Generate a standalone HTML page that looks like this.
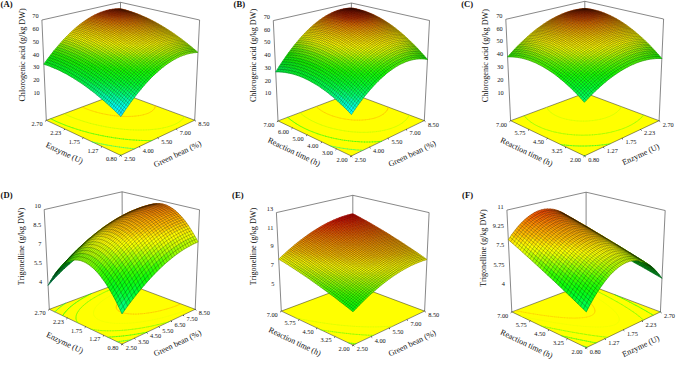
<!DOCTYPE html>
<html><head><meta charset="utf-8"><title>Response surface plots</title>
<style>html,body{margin:0;padding:0;background:#fff}svg{display:block}text{font-family:"Liberation Serif","DejaVu Serif",serif;fill:#111}</style></head>
<body>
<svg width="685" height="373" viewBox="0 0 685 373">
<rect width="685" height="373" fill="#fff"/>
<g id="pA">
<path d="M46.3 120.3L120.8 155.4L194.7 120.2L120.3 92.7z" fill="#ff0" stroke="#222" stroke-width=".5"/>
<path d="M119.6 154.9L121.4 155.1" fill="none" stroke="#18d6ff" stroke-width=".5" stroke-opacity=".85" stroke-linecap="round"/>
<path d="M92.1 141.9L92.6 142.0M94.4 142.4L92.6 142.0M96.1 142.8L94.4 142.4M97.3 143.1L96.1 142.8M97.3 143.1L97.9 143.2M99.8 143.6L97.9 143.2M101.6 144.0L99.8 143.6M102.2 144.1L101.6 144.0M102.2 144.1L103.5 144.3M105.3 144.7L103.5 144.3M106.8 145.0L105.3 144.7M106.8 145.0L107.3 145.1M109.2 145.4L107.3 145.1M111.2 145.7L109.2 145.4M111.2 145.8L111.2 145.7M111.2 145.8L113.2 146.1M115.2 146.4L113.2 146.1M115.4 146.4L115.2 146.4M115.4 146.4L117.2 146.7M119.3 147.0L117.2 146.7M119.4 147.0L119.3 147.0M119.4 147.0L121.4 147.3M123.3 147.6L121.4 147.3M123.3 147.6L123.5 147.6M125.7 147.9L123.5 147.6M127.1 148.0L125.7 147.9M127.1 148.0L127.9 148.1M130.1 148.4L127.9 148.1M130.7 148.4L130.1 148.4M130.7 148.4L132.4 148.6M134.2 148.8L132.4 148.6M134.2 148.8L134.7 148.8" fill="none" stroke="#00ff80" stroke-width=".5" stroke-opacity=".85" stroke-linecap="round"/>
<path d="M51.6 119.2L50.6 118.7M52.7 119.7L51.6 119.2M53.8 120.2L52.7 119.7M54.9 120.8L53.8 120.2M56.0 121.3L54.9 120.8M57.1 121.8L56.0 121.3M58.3 122.3L57.1 121.8M59.5 122.8L58.3 122.3M60.7 123.3L59.5 122.8M61.9 123.8L60.7 123.3M63.1 124.3L61.9 123.8M64.3 124.8L63.1 124.3M65.6 125.3L64.3 124.8M66.9 125.8L65.6 125.3M68.2 126.3L66.9 125.8M69.5 126.7L68.2 126.3M70.8 127.2L69.5 126.7M72.1 127.7L70.8 127.2M72.1 127.7L72.2 127.7M73.6 128.1L72.2 127.7M75.0 128.6L73.6 128.1M76.4 129.1L75.0 128.6M77.8 129.5L76.4 129.1M79.3 130.0L77.8 129.5M80.4 130.3L79.3 130.0M80.4 130.3L80.8 130.4M82.3 130.9L80.8 130.4M83.8 131.3L82.3 130.9M85.3 131.7L83.8 131.3M86.9 132.1L85.3 131.7M87.1 132.2L86.9 132.1M87.1 132.2L88.5 132.6M90.1 133.0L88.5 132.6M91.7 133.4L90.1 133.0M92.9 133.7L91.7 133.4M92.9 133.7L93.4 133.8M95.1 134.2L93.4 133.8M96.7 134.5L95.1 134.2M98.1 134.8L96.7 134.5M98.1 134.8L98.5 134.9M100.2 135.3L98.5 134.9M102.0 135.7L100.2 135.3M102.9 135.8L102.0 135.7M102.9 135.8L103.8 136.0M105.6 136.4L103.8 136.0M107.5 136.7L105.6 136.4M107.5 136.7L107.5 136.7M109.3 137.0L107.5 136.7M111.3 137.3L109.3 137.0M111.7 137.4L111.3 137.3M111.7 137.4L113.2 137.7M115.2 138.0L113.2 137.7M115.7 138.0L115.2 138.0M115.7 138.0L117.2 138.2M119.2 138.5L117.2 138.2M119.6 138.6L119.2 138.5M119.6 138.6L121.2 138.8M123.2 139.0L121.2 138.8M123.2 139.0L123.3 139.0M125.5 139.3L123.3 139.0M126.7 139.4L125.5 139.3M126.7 139.4L127.6 139.5M129.8 139.7L127.6 139.5M130.1 139.7L129.8 139.7M130.1 139.7L132.1 139.9M133.4 140.0L132.1 139.9M133.4 140.0L134.4 140.0M136.5 140.2L134.4 140.0M136.5 140.2L136.7 140.2M139.1 140.3L136.7 140.2M139.6 140.4L139.1 140.3M139.6 140.4L141.6 140.4M142.5 140.5L141.6 140.4M142.5 140.5L144.1 140.5M145.4 140.5L144.1 140.5M145.4 140.5L146.6 140.6M148.1 140.6L146.6 140.6M148.1 140.6L149.2 140.6M150.8 140.6L149.2 140.6M150.8 140.6L151.9 140.6" fill="none" stroke="#0eff0d" stroke-width=".5" stroke-opacity=".85" stroke-linecap="round"/>
<path d="M65.0 114.2L64.0 113.7M66.1 114.7L65.0 114.2M67.2 115.2L66.1 114.7M68.3 115.7L67.2 115.2M69.4 116.2L68.3 115.7M70.6 116.7L69.4 116.2M71.8 117.1L70.6 116.7M73.0 117.6L71.8 117.1M74.2 118.1L73.0 117.6M75.4 118.6L74.2 118.1M76.7 119.0L75.4 118.6M78.0 119.5L76.7 119.0M79.3 119.9L78.0 119.5M80.6 120.4L79.3 119.9M81.9 120.8L80.6 120.4M82.9 121.1L81.9 120.8M82.9 121.1L83.3 121.3M84.7 121.7L83.3 121.3M86.1 122.1L84.7 121.7M87.6 122.5L86.1 122.1M89.0 123.0L87.6 122.5M90.3 123.3L89.0 123.0M90.3 123.3L90.5 123.4M92.0 123.8L90.5 123.4M93.6 124.2L92.0 123.8M95.1 124.5L93.6 124.2M96.2 124.8L95.1 124.5M96.2 124.8L96.7 124.9M98.4 125.3L96.7 124.9M100.0 125.7L98.4 125.3M101.3 125.9L100.0 125.7M101.3 125.9L101.7 126.0M103.4 126.3L101.7 126.0M105.1 126.7L103.4 126.3M105.9 126.8L105.1 126.7M105.9 126.8L106.9 127.0M108.7 127.3L106.9 127.0M110.1 127.6L108.7 127.3M110.1 127.6L110.5 127.6M112.4 127.9L110.5 127.6M114.0 128.1L112.4 127.9M114.0 128.1L114.3 128.2M116.2 128.4L114.3 128.2M117.7 128.6L116.2 128.4M117.7 128.6L118.2 128.7M120.2 128.9L118.2 128.7M121.2 129.0L120.2 128.9M121.2 129.0L122.2 129.1M124.3 129.3L122.2 129.1M124.5 129.4L124.3 129.3M124.5 129.4L126.5 129.5M127.6 129.6L126.5 129.5M127.6 129.6L128.7 129.7M130.7 129.8L128.7 129.7M130.7 129.8L131.0 129.8M133.3 129.9L131.0 129.8M133.5 129.9L133.3 129.9M133.5 129.9L135.7 130.0M136.3 130.0L135.7 130.0M136.3 130.0L138.2 130.0M139.0 130.0L138.2 130.0M139.0 130.0L140.7 130.0M141.5 130.0L140.7 130.0M141.5 130.0L143.4 130.0M144.0 130.0L143.4 130.0M144.0 130.0L146.1 129.9M146.3 129.9L146.1 129.9M146.3 129.9L148.6 129.8M148.6 129.8L149.0 129.8M150.8 129.6L149.0 129.8M150.8 129.6L152.1 129.5M152.9 129.4L152.1 129.5M152.9 129.4L154.9 129.2M154.9 129.2L155.4 129.2M156.9 129.0L155.4 129.2M156.9 129.0L158.8 128.7M158.8 128.7L159.1 128.7M184.1 117.1L184.5 116.4M160.6 128.4L159.1 128.7M160.6 128.4L162.4 128.1M162.4 128.1L163.3 127.9M182.7 118.9L183.0 118.6M183.0 118.6L183.5 117.9M183.5 117.9L184.0 117.2M184.0 117.2L184.1 117.1M164.0 127.7L163.3 127.9M164.0 127.7L165.6 127.4M165.6 127.4L167.2 127.0M167.2 127.0L168.7 126.6M168.7 126.6L168.8 126.5M180.1 121.2L180.9 120.6M180.9 120.6L181.7 120.0M181.7 120.0L182.4 119.3M182.4 119.3L182.7 118.9M170.1 126.1L168.8 126.5M170.1 126.1L171.5 125.7M171.5 125.7L172.7 125.2M172.7 125.2L174.0 124.7M174.0 124.7L175.2 124.2M175.2 124.2L176.3 123.6M176.3 123.6L177.3 123.1M177.3 123.1L178.3 122.5M178.3 122.5L179.2 121.9M179.2 121.9L180.1 121.3M180.1 121.3L180.1 121.2" fill="none" stroke="#baff00" stroke-width=".5" stroke-opacity=".85" stroke-linecap="round"/>
<path d="M83.0 107.4L82.0 107.0M84.1 107.9L83.0 107.4M85.2 108.4L84.1 107.9M86.4 108.8L85.2 108.4M87.5 109.3L86.4 108.8M88.7 109.7L87.5 109.3M90.0 110.2L88.7 109.7M91.2 110.6L90.0 110.2M92.5 111.0L91.2 110.6M93.8 111.4L92.5 111.0M95.2 111.8L93.8 111.4M95.9 112.0L95.2 111.8M95.9 112.0L96.6 112.2M98.0 112.6L96.6 112.2M99.5 113.0L98.0 112.6M101.0 113.3L99.5 113.0M102.0 113.6L101.0 113.3M102.0 113.6L102.5 113.7M104.1 114.0L102.5 113.7M105.7 114.3L104.1 114.0M106.7 114.5L105.7 114.3M106.7 114.5L107.3 114.6M109.0 114.9L107.3 114.6M110.7 115.2L109.0 114.9M110.7 115.2L110.8 115.2M112.6 115.5L110.8 115.2M114.3 115.7L112.6 115.5M114.3 115.7L114.4 115.7M116.3 115.9L114.4 115.7M117.6 116.0L116.3 115.9M117.6 116.0L118.3 116.1M120.4 116.2L118.3 116.1M120.6 116.3L120.4 116.2M120.6 116.3L122.5 116.4M123.4 116.4L122.5 116.4M123.4 116.4L124.7 116.4M126.0 116.5L124.7 116.4M126.0 116.5L127.1 116.5M128.4 116.5L127.1 116.5M128.4 116.5L129.6 116.4M155.3 105.7L155.3 105.6M130.7 116.4L129.6 116.4M130.7 116.4L132.3 116.3M155.1 106.7L155.2 106.5M155.2 106.5L155.3 105.7M132.9 116.3L132.3 116.3M132.9 116.3L134.9 116.1M134.9 116.1L135.2 116.1M154.7 107.9L155.0 107.3M155.0 107.3L155.1 106.7M136.9 115.9L135.2 116.1M136.9 115.9L138.6 115.7M153.9 109.3L154.2 108.8M154.2 108.8L154.7 108.0M154.7 108.0L154.7 107.9M138.7 115.7L138.6 115.7M138.7 115.7L140.4 115.4M140.4 115.4L142.0 115.1M142.0 115.1L143.1 114.8M152.0 111.1L152.4 110.7M152.4 110.7L153.1 110.1M153.1 110.1L153.7 109.5M153.7 109.5L153.9 109.3M143.5 114.7L143.1 114.8M143.5 114.7L145.0 114.3M145.0 114.3L146.3 113.9M146.3 113.9L147.5 113.5M147.5 113.5L148.7 113.0M148.7 113.0L149.7 112.5M149.7 112.5L150.7 111.9M150.7 111.9L151.6 111.4M151.6 111.4L152.0 111.1" fill="none" stroke="#ffba00" stroke-width=".5" stroke-opacity=".85" stroke-linecap="round"/>
<path d="M46.3 120.3L41.9 20.0L120.5 2.3L199.6 20.0L194.7 120.2M120.5 2.3L120.3 92.7" fill="none" stroke="#555" stroke-width=".7"/>
<g fill="currentColor" stroke="currentColor" stroke-width=".5" stroke-linejoin="round"><path d="M117.7 8.7l2.8 .7 2.8 0-2.9-.7z" color="#e85100"/><path d="M114.8 8.9l2.9 .7 2.8-.2-2.8-.7z" color="#e14200"/><path d="M120.5 9.4l2.8 .8 2.8-.1-2.8-.7z" color="#e95300"/><path d="M112 9.3l2.8 .6 2.9-.3-2.9-.7z" color="#db3b00"/><path d="M123.3 10.2l2.9 .8 2.7 0-2.8-.9z" color="#ea5600"/><path d="M117.7 9.6l2.8 .7 2.8-.1-2.8-.8z" color="#e14400"/><path d="M114.8 9.9l2.8 .8 2.9-.4-2.8-.7z" color="#dc3c00"/><path d="M109.1 9.8l2.8 .7 2.9-.6-2.8-.6z" color="#d83700"/><path d="M120.5 10.3l2.8 .9 2.9-.2-2.9-.8z" color="#e34700"/><path d="M126.2 11l2.8 .9 2.8 0-2.9-.9z" color="#ed5b00"/><path d="M106.2 10.5l2.8 .7 2.9-.7-2.8-.7z" color="#d73600"/><path d="M111.9 10.5l2.9 .7 2.8-.5-2.8-.8z" color="#d93800"/><path d="M117.6 10.7l2.9 .8 2.8-.3-2.8-.9z" color="#dd3e00"/><path d="M129 11.9l3 1 2.7 0-2.9-1z" color="#f16200"/><path d="M123.3 11.2l2.9 .9 2.8-.2-2.8-.9z" color="#e54c00"/><path d="M103.3 11.4l2.8 .6 2.9-.8-2.8-.7z" color="#d93800"/><path d="M109 11.2l2.9 .7 2.9-.7-2.9-.7z" color="#d83700"/><path d="M114.8 11.2l2.8 .9 2.9-.6-2.9-.8z" color="#da3a00"/><path d="M120.5 11.5l2.9 .9 2.8-.3-2.9-.9z" color="#e04100"/><path d="M126.2 12.1l2.9 1 2.9-.2-3-1z" color="#e95300"/><path d="M132 12.9l2.9 1.1 2.8 0-3-1.1z" color="#f56b00"/><path d="M111.9 11.9l2.8 .9 2.9-.7-2.8-.9z" color="#d93900"/><path d="M100.4 12.4l2.8 .7 2.9-1.1-2.8-.6z" color="#dc3c00"/><path d="M106.1 12l2.9 .8 2.9-.9-2.9-.7z" color="#d93800"/><path d="M117.6 12.1l2.9 .9 2.9-.6-2.9-.9z" color="#dd3d00"/><path d="M123.4 12.4l2.9 1.1 2.8-.4-2.9-1z" color="#e34800"/><path d="M129.1 13.1l3 1.1 2.8-.2-2.9-1.1z" color="#ee5c00"/><path d="M134.9 14l2.9 1.2 2.8 0-2.9-1.2z" color="#fb7600"/><path d="M109 12.8l2.8 .8 2.9-.8-2.8-.9z" color="#da3a00"/><path d="M114.7 12.8l2.9 .9 2.9-.7-2.9-.9z" color="#dc3b00"/><path d="M126.3 13.5l2.9 1.1 2.9-.4-3-1.1z" color="#e85100"/><path d="M97.4 13.7l2.8 .6 3-1.2-2.8-.7z" color="#e24500"/><path d="M103.2 13.1l2.8 .8 3-1.1-2.9-.8z" color="#dd3d00"/><path d="M120.5 13l2.9 1 2.9-.5-2.9-1.1z" color="#e04200"/><path d="M132.1 14.2l2.9 1.2 2.8-.2-2.9-1.2z" color="#f36700"/><path d="M137.8 15.2l3 1.3 2.8 0-3-1.3z" color="#ff8000"/><path d="M117.6 13.7l2.9 1 2.9-.7-2.9-1z" color="#df4000"/><path d="M94.4 15.1l2.8 .7 3-1.5-2.8-.6z" color="#ea5500"/><path d="M106 13.9l2.9 .8 2.9-1.1-2.8-.8z" color="#de3e00"/><path d="M111.8 13.6l2.9 1 2.9-.9-2.9-.9z" color="#dd3d00"/><path d="M123.4 14l3 1.1 2.8-.5-2.9-1.1z" color="#e54b00"/><path d="M129.2 14.6l3 1.1 2.8-.3-2.9-1.2z" color="#ee5c00"/><path d="M140.8 16.5l3 1.3 2.8 0-3-1.3z" color="#ff8900"/><path d="M100.2 14.3l2.8 .8 3-1.2-2.8-.8z" color="#e24600"/><path d="M135 15.4l3 1.3 2.8-.2-3-1.3z" color="#fa7400"/><path d="M97.2 15.8l2.8 .7 3-1.4-2.8-.8z" color="#ea5600"/><path d="M114.7 14.6l2.9 1 2.9-.9-2.9-1z" color="#e04200"/><path d="M120.5 14.7l3 1.1 2.9-.7-3-1.1z" color="#e34800"/><path d="M91.4 16.7l2.8 .7 3-1.6-2.8-.7z" color="#f46900"/><path d="M103 15.1l2.9 .9 3-1.3-2.9-.8z" color="#e44900"/><path d="M108.9 14.7l2.9 .9 2.9-1-2.9-1z" color="#e04200"/><path d="M126.4 15.1l2.9 1.2 2.9-.6-3-1.1z" color="#ea5500"/><path d="M132.2 15.7l3 1.3 2.8-.3-3-1.3z" color="#f46900"/><path d="M138 16.7l3 1.3 2.8-.2-3-1.3z" color="#ff8000"/><path d="M143.8 17.8l3.1 1.5 2.7 0-3-1.5z" color="#ff9300"/><path d="M88.3 18.5l2.8 .7 3.1-1.8-2.8-.7z" color="#ff7f00"/><path d="M94.2 17.4l2.8 .8 3-1.7-2.8-.7z" color="#f46a00"/><path d="M100 16.5l2.9 .9 3-1.4-2.9-.9z" color="#eb5800"/><path d="M111.8 15.6l2.9 1.1 2.9-1.1-2.9-1z" color="#e44800"/><path d="M117.6 15.6l3 1.1 2.9-.9-3-1.1z" color="#e54a00"/><path d="M123.5 15.8l3 1.2 2.8-.7-2.9-1.2z" color="#e95300"/><path d="M135.2 17l3 1.4 2.8-.4-3-1.3z" color="#fc7700"/><path d="M105.9 16l2.9 .9 3-1.3-2.9-.9z" color="#e64d00"/><path d="M129.3 16.3l3 1.3 2.9-.6-3-1.3z" color="#f16200"/><path d="M141 18l3.1 1.5 2.8-.2-3.1-1.5z" color="#ff8a00"/><path d="M146.9 19.3l3 1.5 2.8 0-3.1-1.5z" color="#ff9f00"/><path d="M85.3 20.5l2.8 .7 3-2-2.8-.7z" color="#ff9000"/><path d="M91.1 19.2l2.9 .8 3-1.8-2.8-.8z" color="#ff7f00"/><path d="M97 18.2l2.9 .8 3-1.6-2.9-.9z" color="#f66c00"/><path d="M102.9 17.4l2.9 1 3-1.5-2.9-.9z" color="#ee5c00"/><path d="M108.8 16.9l2.9 1 3-1.2-2.9-1.1z" color="#e95300"/><path d="M114.7 16.7l2.9 1.1 3-1.1-3-1.1z" color="#e85100"/><path d="M120.6 16.7l2.9 1.2 3-.9-3-1.2z" color="#ea5500"/><path d="M126.5 17l2.9 1.3 2.9-.7-3-1.3z" color="#ef6000"/><path d="M132.3 17.6l3.1 1.3 2.8-.5-3-1.4z" color="#f87100"/><path d="M138.2 18.4l3.1 1.4 2.8-.3-3.1-1.5z" color="#ff8300"/><path d="M149.9 20.8l3.1 1.7 2.8-.1-3.1-1.6z" color="#ffab00"/><path d="M144.1 19.5l3 1.5 2.8-.2-3-1.5z" color="#ff9500"/><path d="M94 20l2.8 .9 3.1-1.9-2.9-.8z" color="#ff8000"/><path d="M129.4 18.3l3.1 1.4 2.9-.8-3.1-1.3z" color="#f76e00"/><path d="M88.1 21.2l2.8 .8 3.1-2-2.9-.8z" color="#ff9000"/><path d="M105.8 18.4l2.9 1 3-1.5-2.9-1z" color="#f16300"/><path d="M82.2 22.7l2.8 .7 3.1-2.2-2.8-.7z" color="#ffa400"/><path d="M99.9 19l2.9 1 3-1.6-2.9-1z" color="#f87000"/><path d="M111.7 17.9l2.9 1.2 3-1.3-2.9-1.1z" color="#ed5c00"/><path d="M117.6 17.8l3 1.2 2.9-1.1-2.9-1.2z" color="#ed5b00"/><path d="M123.5 17.9l3 1.3 2.9-.9-2.9-1.3z" color="#f06200"/><path d="M135.4 18.9l3 1.5 2.9-.6-3.1-1.4z" color="#ff7f00"/><path d="M141.3 19.8l3 1.6 2.8-.4-3-1.5z" color="#ff8e00"/><path d="M147.1 21l3.1 1.7 2.8-.2-3.1-1.7z" color="#ffa200"/><path d="M153 22.5l3.1 1.7 2.8 0-3.1-1.8z" color="#ffb600"/><path d="M90.9 22l2.9 .9 3-2-2.8-.9z" color="#ff9200"/><path d="M96.8 20.9l2.9 .9 3.1-1.8-2.9-1z" color="#ff8300"/><path d="M108.7 19.4l2.9 1.1 3-1.4-2.9-1.2z" color="#f56b00"/><path d="M126.5 19.2l3 1.4 3-.9-3.1-1.4z" color="#f87000"/><path d="M132.5 19.7l3 1.4 2.9-.7-3-1.5z" color="#ff7d00"/><path d="M144.3 21.4l3.1 1.6 2.8-.3-3.1-1.7z" color="#ff9b00"/><path d="M85 23.4l2.8 .8 3.1-2.2-2.8-.8z" color="#ffa400"/><path d="M102.8 20l2.9 1 3-1.6-2.9-1z" color="#fb7600"/><path d="M79.1 25l2.8 .8 3.1-2.4-2.8-.7z" color="#ffb700"/><path d="M114.6 19.1l3 1.2 3-1.3-3-1.2z" color="#f36600"/><path d="M120.6 19l3 1.3 2.9-1.1-3-1.3z" color="#f36800"/><path d="M138.4 20.4l3.1 1.5 2.8-.5-3-1.6z" color="#ff8a00"/><path d="M150.2 22.7l3.2 1.7 2.7-.2-3.1-1.7z" color="#ffaf00"/><path d="M156.1 24.2l3.2 1.8 2.7 0-3.1-1.8z" color="#ffc100"/><path d="M99.7 21.8l2.9 1.1 3.1-1.9-2.9-1z" color="#ff8600"/><path d="M76 27.6l2.8 .7 3.1-2.5-2.8-.8z" color="#ffca00"/><path d="M87.8 24.2l2.9 .9 3.1-2.2-2.9-.9z" color="#ffa500"/><path d="M93.8 22.9l2.8 .9 3.1-2-2.9-.9z" color="#ff9400"/><path d="M105.7 21l2.9 1.2 3-1.7-2.9-1.1z" color="#ff7d00"/><path d="M111.6 20.5l3 1.2 3-1.4-3-1.2z" color="#fa7500"/><path d="M123.6 20.3l3 1.4 2.9-1.1-3-1.4z" color="#fb7500"/><path d="M129.5 20.6l3.1 1.4 2.9-.9-3-1.4z" color="#ff7e00"/><path d="M135.5 21.1l3.1 1.6 2.9-.8-3.1-1.5z" color="#f80"/><path d="M141.5 21.9l3.1 1.7 2.8-.6-3.1-1.6z" color="#ff9600"/><path d="M147.4 23l3.1 1.8 2.9-.4-3.2-1.7z" color="#ffa800"/><path d="M81.9 25.8l2.8 .8 3.1-2.4-2.8-.8z" color="#ffb700"/><path d="M117.6 20.3l3 1.3 3-1.3-3-1.3z" color="#f97200"/><path d="M153.4 24.4l3.1 1.8 2.8-.2-3.2-1.8z" color="#ffba00"/><path d="M159.3 26l3.1 1.9 2.8 0-3.2-1.9z" color="#ffce00"/><path d="M102.6 22.9l2.9 1.1 3.1-1.8-2.9-1.2z" color="#ff8b00"/><path d="M138.6 22.7l3.1 1.6 2.9-.7-3.1-1.7z" color="#ff9500"/><path d="M78.8 28.3l2.8 .9 3.1-2.6-2.8-.8z" color="#ffca00"/><path d="M96.6 23.8l2.9 1.1 3.1-2-2.9-1.1z" color="#ff9800"/><path d="M72.8 30.4l2.8 .7 3.2-2.8-2.8-.7z" color="#ffde00"/><path d="M84.7 26.6l2.8 .9 3.2-2.4-2.9-.9z" color="#ffb800"/><path d="M90.7 25.1l2.8 .9 3.1-2.2-2.8-.9z" color="#ffa700"/><path d="M108.6 22.2l3 1.2 3-1.7-3-1.2z" color="#ff8300"/><path d="M114.6 21.7l3 1.3 3-1.4-3-1.3z" color="#ff7e00"/><path d="M120.6 21.6l3 1.4 3-1.3-3-1.4z" color="#ff7e00"/><path d="M126.6 21.7l3 1.5 3-1.2-3.1-1.4z" color="#ff8200"/><path d="M132.6 22l3.1 1.6 2.9-.9-3.1-1.6z" color="#ff8900"/><path d="M144.6 23.6l3.1 1.7 2.8-.5-3.1-1.8z" color="#ffa400"/><path d="M150.5 24.8l3.2 1.8 2.8-.4-3.1-1.8z" color="#ffb500"/><path d="M162.4 27.9l3.2 2 2.7 0-3.1-2z" color="#ffda00"/><path d="M156.5 26.2l3.2 1.9 2.7-.2-3.1-1.9z" color="#ffc600"/><path d="M81.6 29.2l2.8 .9 3.1-2.6-2.8-.9z" color="#ffcb00"/><path d="M99.5 24.9l3 1.1 3-2-2.9-1.1z" color="#ff9c00"/><path d="M105.5 24l3 1.2 3.1-1.8-3-1.2z" color="#ff9100"/><path d="M117.6 23l3 1.4 3-1.4-3-1.4z" color="#ff8700"/><path d="M135.7 23.6l3.1 1.7 2.9-1-3.1-1.6z" color="#ff9600"/><path d="M141.7 24.3l3.1 1.8 2.9-.8-3.1-1.7z" color="#ffa200"/><path d="M75.6 31.1l2.8 .8 3.2-2.7-2.8-.9z" color="#ffde00"/><path d="M93.5 26l2.9 1.1 3.1-2.2-2.9-1.1z" color="#ffab00"/><path d="M69.7 33.3l2.7 .8 3.2-3-2.8-.7z" color="#ffec00"/><path d="M87.5 27.5l2.9 1 3.1-2.5-2.8-.9z" color="#ffba00"/><path d="M111.6 23.4l3 1.3 3-1.7-3-1.3z" color="#ff8a00"/><path d="M123.6 23l3.1 1.5 2.9-1.3-3-1.5z" color="#f80"/><path d="M129.6 23.2l3.1 1.5 3-1.1-3.1-1.6z" color="#ff8d00"/><path d="M147.7 25.3l3.1 1.9 2.9-.6-3.2-1.8z" color="#ffb100"/><path d="M153.7 26.6l3.1 1.9 2.9-.4-3.2-1.9z" color="#ffc100"/><path d="M159.7 28.1l3.1 2.1 2.8-.3-3.2-2z" color="#ffd300"/><path d="M165.6 29.9l3.2 2.2 2.7-.1-3.2-2.1z" color="#ffe400"/><path d="M66.5 36.5l2.8 .7 3.1-3.1-2.7-.8z" color="#fffd00"/><path d="M78.4 31.9l2.8 1 3.2-2.8-2.8-.9z" color="#ffde00"/><path d="M84.4 30.1l2.9 1 3.1-2.6-2.9-1z" color="#fc0"/><path d="M96.4 27.1l3 1.2 3.1-2.3-3-1.1z" color="#ffaf00"/><path d="M102.5 26l2.9 1.3 3.1-2.1-3-1.2z" color="#ffa200"/><path d="M108.5 25.2l3 1.4 3.1-1.9-3-1.3z" color="#ff9800"/><path d="M114.6 24.7l3 1.4 3-1.7-3-1.4z" color="#ff9300"/><path d="M120.6 24.4l3.1 1.5 3-1.4-3.1-1.5z" color="#ff9100"/><path d="M132.7 24.7l3.1 1.7 3-1.1-3.1-1.7z" color="#f90"/><path d="M138.8 25.3l3.1 1.7 2.9-.9-3.1-1.8z" color="#ffa300"/><path d="M144.8 26.1l3.2 1.9 2.8-.8-3.1-1.9z" color="#ffb000"/><path d="M156.8 28.5l3.2 2.1 2.8-.4-3.1-2.1z" color="#ffce00"/><path d="M168.8 32.1l3.2 2.2 2.8-.1-3.3-2.2z" color="#ffed00"/><path d="M72.4 34.1l2.8 .8 3.2-3-2.8-.8z" color="#ffec00"/><path d="M90.4 28.5l2.9 1 3.1-2.4-2.9-1.1z" color="#ffbc00"/><path d="M126.7 24.5l3 1.5 3-1.3-3.1-1.5z" color="#ff9300"/><path d="M150.8 27.2l3.2 1.9 2.8-.6-3.1-1.9z" color="#ffbd00"/><path d="M162.8 30.2l3.3 2.1 2.7-.2-3.2-2.2z" color="#ffdf00"/><path d="M111.5 26.6l3 1.4 3.1-1.9-3-1.4z" color="#ffa100"/><path d="M69.3 37.2l2.7 .9 3.2-3.2-2.8-.8z" color="#fffd00"/><path d="M87.3 31.1l2.9 1.1 3.1-2.7-2.9-1z" color="#ffcf00"/><path d="M63.3 39.8l2.8 .8 3.2-3.4-2.8-.7z" color="#e1ff00"/><path d="M81.2 32.9l2.9 1 3.2-2.8-2.9-1z" color="#ffdf00"/><path d="M99.4 28.3l2.9 1.2 3.1-2.2-2.9-1.3z" color="#ffb300"/><path d="M105.4 27.3l3 1.3 3.1-2-3-1.4z" color="#ffa900"/><path d="M117.6 26.1l3 1.5 3.1-1.7-3.1-1.5z" color="#ff9c00"/><path d="M123.7 25.9l3 1.6 3-1.5-3-1.5z" color="#ff9c00"/><path d="M129.7 26l3.2 1.7 2.9-1.3-3.1-1.7z" color="#ff9f00"/><path d="M135.8 26.4l3.2 1.8 2.9-1.2-3.1-1.7z" color="#ffa600"/><path d="M141.9 27l3.1 1.9 3-.9-3.2-1.9z" color="#ffb000"/><path d="M148 28l3.1 1.9 2.9-.8-3.2-1.9z" color="#ffbc00"/><path d="M154 29.1l3.2 2.1 2.8-.6-3.2-2.1z" color="#ffca00"/><path d="M160 30.6l3.3 2.1 2.8-.4-3.3-2.1z" color="#ffdb00"/><path d="M166.1 32.3l3.2 2.2 2.7-.2-3.2-2.2z" color="#ffe900"/><path d="M172 34.3l3.3 2.3 2.7-.1-3.2-2.3z" color="#fff800"/><path d="M75.2 34.9l2.9 1 3.1-3-2.8-1z" color="#ffed00"/><path d="M93.3 29.5l2.9 1.2 3.2-2.4-3-1.2z" color="#ffc000"/><path d="M108.4 28.6l3 1.5 3.1-2.1-3-1.4z" color="#ffb000"/><path d="M114.5 28l3.1 1.5 3-1.9-3-1.5z" color="#fa0"/><path d="M126.7 27.5l3.2 1.7 3-1.5-3.2-1.7z" color="#ffa800"/><path d="M151.1 29.9l3.2 2 2.9-.7-3.2-2.1z" color="#ffc900"/><path d="M163.3 32.7l3.2 2.2 2.8-.4-3.2-2.2z" color="#ffe500"/><path d="M72 38.1l2.9 1 3.2-3.2-2.9-1z" color="#fffd00"/><path d="M90.2 32.2l2.9 1.2 3.1-2.7-2.9-1.2z" color="#ffd200"/><path d="M60.1 43.4l2.7 .8 3.3-3.6-2.8-.8z" color="#bdff00"/><path d="M66.1 40.6l2.7 .9 3.2-3.4-2.7-.9z" color="#e1ff00"/><path d="M84.1 33.9l2.9 1.1 3.2-2.8-2.9-1.1z" color="#ffe100"/><path d="M78.1 35.9l2.8 1 3.2-3-2.9-1z" color="#fe0"/><path d="M96.2 30.7l3 1.3 3.1-2.5-2.9-1.2z" color="#ffc400"/><path d="M102.3 29.5l3 1.4 3.1-2.3-3-1.3z" color="#ffb900"/><path d="M120.6 27.6l3.1 1.6 3-1.7-3-1.6z" color="#ffa700"/><path d="M132.9 27.7l3.1 1.8 3-1.3-3.2-1.8z" color="#ffac00"/><path d="M139 28.2l3.1 1.8 2.9-1.1-3.1-1.9z" color="#ffb300"/><path d="M145 28.9l3.2 2 2.9-1-3.1-1.9z" color="#ffbc00"/><path d="M157.2 31.2l3.2 2.1 2.9-.6-3.3-2.1z" color="#ffd800"/><path d="M169.3 34.5l3.3 2.3 2.7-.2-3.3-2.3z" color="#fff300"/><path d="M175.3 36.6l3.3 2.4 2.7-.1-3.3-2.4z" color="#f7ff00"/><path d="M74.9 39.1l2.8 1 3.2-3.2-2.8-1z" color="#ff0"/><path d="M93.1 33.4l2.9 1.2 3.2-2.6-3-1.3z" color="#ffd700"/><path d="M105.3 30.9l3 1.4 3.1-2.2-3-1.5z" color="#ffbf00"/><path d="M111.4 30.1l3.1 1.5 3.1-2.1-3.1-1.5z" color="#ffb700"/><path d="M117.6 29.5l3.1 1.6 3-1.9-3.1-1.6z" color="#ffb300"/><path d="M123.7 29.2l3.1 1.7 3.1-1.7-3.2-1.7z" color="#ffb100"/><path d="M129.9 29.2l3.1 1.8 3-1.5-3.1-1.8z" color="#ffb300"/><path d="M148.2 30.9l3.2 2 2.9-1-3.2-2z" color="#ffc900"/><path d="M154.3 31.9l3.3 2.2 2.8-.8-3.2-2.1z" color="#ffd600"/><path d="M160.4 33.3l3.3 2.2 2.8-.6-3.2-2.2z" color="#ffe300"/><path d="M166.5 34.9l3.3 2.4 2.8-.5-3.3-2.3z" color="#ffef00"/><path d="M56.9 47.2l2.7 .8 3.2-3.8-2.7-.8z" color="#85ff00"/><path d="M62.8 44.2l2.8 .9 3.2-3.6-2.7-.9z" color="#bdff00"/><path d="M68.8 41.5l2.9 1 3.2-3.4-2.9-1z" color="#e1ff00"/><path d="M87 35l2.9 1.2 3.2-2.8-2.9-1.2z" color="#ffe300"/><path d="M80.9 36.9l2.9 1.1 3.2-3-2.9-1.1z" color="#ffef00"/><path d="M99.2 32l3 1.3 3.1-2.4-3-1.4z" color="#ffc900"/><path d="M136 29.5l3.1 1.9 3-1.4-3.1-1.8z" color="#ffb700"/><path d="M142.1 30l3.2 2 2.9-1.1-3.2-2z" color="#ffbf00"/><path d="M172.6 36.8l3.2 2.4 2.8-.2-3.3-2.4z" color="#fffe00"/><path d="M178.6 39l3.3 2.5 2.7-.1-3.3-2.5z" color="#e1ff00"/><path d="M120.7 31.1l3.1 1.7 3-1.9-3.1-1.7z" color="#ffbc00"/><path d="M157.6 34.1l3.2 2.2 2.9-.8-3.3-2.2z" color="#ffe200"/><path d="M77.7 40.1l2.9 1.1 3.2-3.2-2.9-1.1z" color="#fcff00"/><path d="M53.6 51.1l2.8 .9 3.2-4-2.7-.8z" color="#54ff00"/><path d="M59.6 48l2.8 .9 3.2-3.8-2.8-.9z" color="#86ff00"/><path d="M65.6 45.1l2.8 1 3.3-3.6-2.9-1z" color="#bcff00"/><path d="M71.7 42.5l2.8 1 3.2-3.4-2.8-1z" color="#dfff00"/><path d="M89.9 36.2l3 1.3 3.1-2.9-2.9-1.2z" color="#ffe600"/><path d="M96 34.6l3 1.4 3.2-2.7-3-1.3z" color="#ffdc00"/><path d="M102.2 33.3l3 1.5 3.1-2.5-3-1.4z" color="#ffcf00"/><path d="M108.3 32.3l3.1 1.6 3.1-2.3-3.1-1.5z" color="#ffc600"/><path d="M114.5 31.6l3.1 1.6 3.1-2.1-3.1-1.6z" color="#ffc000"/><path d="M126.8 30.9l3.2 1.8 3-1.7-3.1-1.8z" color="#fb0"/><path d="M133 31l3.1 1.9 3-1.5-3.1-1.9z" color="#ffbe00"/><path d="M145.3 32l3.2 2.1 2.9-1.2-3.2-2z" color="#ffcb00"/><path d="M151.4 32.9l3.3 2.2 2.9-1-3.3-2.2z" color="#ffd700"/><path d="M163.7 35.5l3.2 2.4 2.9-.6-3.3-2.4z" color="#ffed00"/><path d="M169.8 37.3l3.3 2.4 2.7-.5-3.2-2.4z" color="#fffa00"/><path d="M181.9 41.5l3.3 2.6 2.7-.1-3.3-2.6z" color="#cbff00"/><path d="M83.8 38l2.9 1.2 3.2-3-2.9-1.2z" color="#fff100"/><path d="M139.1 31.4l3.2 2 3-1.4-3.2-2z" color="#ffc300"/><path d="M175.8 39.2l3.3 2.6 2.8-.3-3.3-2.5z" color="#ebff00"/><path d="M99 36l3 1.5 3.2-2.7-3-1.5z" color="#ffe000"/><path d="M117.6 33.2l3.1 1.7 3.1-2.1-3.1-1.7z" color="#ffc800"/><path d="M123.8 32.8l3.1 1.9 3.1-2-3.2-1.8z" color="#ffc600"/><path d="M154.7 35.1l3.2 2.2 2.9-1-3.2-2.2z" color="#ffe200"/><path d="M160.8 36.3l3.3 2.4 2.8-.8-3.2-2.4z" color="#ffec00"/><path d="M80.6 41.2l2.9 1.3 3.2-3.3-2.9-1.2z" color="#f8ff00"/><path d="M56.4 52l2.7 .9 3.3-4-2.8-.9z" color="#54ff00"/><path d="M74.5 43.5l2.9 1.2 3.2-3.5-2.9-1.1z" color="#dcff00"/><path d="M50.4 55.3l2.7 .8 3.3-4.1-2.8-.9z" color="#2bff00"/><path d="M62.4 48.9l2.8 1 3.2-3.8-2.8-1z" color="#85ff00"/><path d="M68.4 46.1l2.9 1.1 3.2-3.7-2.8-1z" color="#baff00"/><path d="M86.7 39.2l3 1.3 3.2-3-3-1.3z" color="#fff400"/><path d="M92.9 37.5l3 1.4 3.1-2.9-3-1.4z" color="#ffe900"/><path d="M105.2 34.8l3 1.6 3.2-2.5-3.1-1.6z" color="#ffd600"/><path d="M111.4 33.9l3.1 1.6 3.1-2.3-3.1-1.6z" color="#ffce00"/><path d="M130 32.7l3.1 1.9 3-1.7-3.1-1.9z" color="#ffc600"/><path d="M136.1 32.9l3.2 2 3-1.5-3.2-2z" color="#ffca00"/><path d="M142.3 33.4l3.2 2 3-1.3-3.2-2.1z" color="#ffd000"/><path d="M148.5 34.1l3.2 2.1 3-1.1-3.3-2.2z" color="#ffd900"/><path d="M166.9 37.9l3.3 2.4 2.9-.6-3.3-2.4z" color="#fff700"/><path d="M173.1 39.7l3.3 2.5 2.7-.4-3.3-2.6z" color="#f2ff00"/><path d="M179.1 41.8l3.4 2.6 2.7-.3-3.3-2.6z" color="#d5ff00"/><path d="M185.2 44.1l3.4 2.7 2.6-.1-3.3-2.7z" color="#adff00"/><path d="M83.5 42.5l3 1.3 3.2-3.3-3-1.3z" color="#f3ff00"/><path d="M95.9 38.9l3 1.5 3.1-2.9-3-1.5z" color="#ffed00"/><path d="M102 37.5l3.1 1.5 3.1-2.6-3-1.6z" color="#ffe400"/><path d="M114.5 35.5l3.1 1.8 3.1-2.4-3.1-1.7z" color="#ffd700"/><path d="M120.7 34.9l3.1 1.9 3.1-2.1-3.1-1.9z" color="#ffd200"/><path d="M126.9 34.7l3.2 1.9 3-2-3.1-1.9z" color="#ffd100"/><path d="M139.3 34.9l3.2 2.1 3-1.6-3.2-2z" color="#ffd600"/><path d="M151.7 36.2l3.3 2.3 2.9-1.2-3.2-2.2z" color="#ffe300"/><path d="M157.9 37.3l3.3 2.4 2.9-1-3.3-2.4z" color="#ffec00"/><path d="M164.1 38.7l3.3 2.4 2.8-.8-3.3-2.4z" color="#fff600"/><path d="M176.4 42.2l3.3 2.7 2.8-.5-3.4-2.6z" color="#dcff00"/><path d="M188.6 46.8l3.3 2.8 2.7-.1-3.4-2.8z" color="#89ff00"/><path d="M53.1 56.1l2.7 1 3.3-4.2-2.7-.9z" color="#2bff00"/><path d="M59.1 52.9l2.8 1 3.3-4-2.8-1z" color="#54ff00"/><path d="M71.3 47.2l2.8 1.1 3.3-3.6-2.9-1.2z" color="#b6ff00"/><path d="M77.4 44.7l2.9 1.2 3.2-3.4-2.9-1.3z" color="#d8ff00"/><path d="M47.1 59.6l2.7 .9 3.3-4.4-2.7-.8z" color="#10ff09"/><path d="M65.2 49.9l2.8 1.1 3.3-3.8-2.9-1.1z" color="#83ff00"/><path d="M89.7 40.5l2.9 1.4 3.3-3-3-1.4z" color="#fff800"/><path d="M108.2 36.4l3.1 1.6 3.2-2.5-3.1-1.6z" color="#fd0"/><path d="M133.1 34.6l3.2 2 3-1.7-3.2-2z" color="#ffd200"/><path d="M145.5 35.4l3.3 2.2 2.9-1.4-3.2-2.1z" color="#fd0"/><path d="M170.2 40.3l3.4 2.6 2.8-.7-3.3-2.5z" color="#f6ff00"/><path d="M182.5 44.4l3.3 2.7 2.8-.3-3.4-2.7z" color="#bf0"/><path d="M43.8 64.2l2.7 .9 3.3-4.6-2.7-.9z" color="#06ff1c"/><path d="M49.8 60.5l2.8 1 3.2-4.4-2.7-1z" color="#10ff08"/><path d="M55.8 57.1l2.8 1 3.3-4.2-2.8-1z" color="#2bff00"/><path d="M61.9 53.9l2.8 1.1 3.3-4-2.8-1.1z" color="#52ff00"/><path d="M68 51l2.9 1.2 3.2-3.9-2.8-1.1z" color="#7fff00"/><path d="M74.1 48.3l2.9 1.3 3.3-3.7-2.9-1.2z" color="#b0ff00"/><path d="M80.3 45.9l2.9 1.4 3.3-3.5-3-1.3z" color="#d3ff00"/><path d="M86.5 43.8l2.9 1.4 3.2-3.3-2.9-1.4z" color="#edff00"/><path d="M92.6 41.9l3.1 1.5 3.2-3-3-1.5z" color="#fffb00"/><path d="M98.9 40.4l3 1.5 3.2-2.9-3.1-1.5z" color="#fff100"/><path d="M105.1 39l3.1 1.7 3.1-2.7-3.1-1.6z" color="#ffe900"/><path d="M111.3 38l3.1 1.8 3.2-2.5-3.1-1.8z" color="#ffe300"/><path d="M117.6 37.3l3.1 1.8 3.1-2.3-3.1-1.9z" color="#ffdf00"/><path d="M123.8 36.8l3.2 1.9 3.1-2.1-3.2-1.9z" color="#ffdc00"/><path d="M130.1 36.6l3.1 2 3.1-2-3.2-2z" color="#ffdc00"/><path d="M136.3 36.6l3.2 2.1 3-1.7-3.2-2.1z" color="#fd0"/><path d="M142.5 37l3.3 2.2 3-1.6-3.3-2.2z" color="#ffe100"/><path d="M148.8 37.6l3.2 2.3 3-1.4-3.3-2.3z" color="#ffe600"/><path d="M155 38.5l3.3 2.4 2.9-1.2-3.3-2.4z" color="#ffed00"/><path d="M161.2 39.7l3.3 2.4 2.9-1-3.3-2.4z" color="#fff600"/><path d="M167.4 41.1l3.3 2.6 2.9-.8-3.4-2.6z" color="#f8ff00"/><path d="M173.6 42.9l3.3 2.6 2.8-.6-3.3-2.7z" color="#e0ff00"/><path d="M179.7 44.9l3.4 2.7 2.7-.5-3.3-2.7z" color="#c4ff00"/><path d="M185.8 47.1l3.4 2.8 2.7-.3-3.3-2.8z" color="#97ff00"/><path d="M191.9 49.6l3.4 3 2.7-.2-3.4-2.9z" color="#64ff00"/><path d="M89.4 45.2l3 1.5 3.3-3.3-3.1-1.5z" color="#e6ff00"/><path d="M108.2 40.7l3.1 1.8 3.1-2.7-3.1-1.8z" color="#ffef00"/><path d="M133.2 38.6l3.3 2.1 3-2-3.2-2.1z" color="#ffe400"/><path d="M145.8 39.2l3.2 2.3 3-1.6-3.2-2.3z" color="#ffea00"/><path d="M170.7 43.7l3.4 2.6 2.8-.8-3.3-2.6z" color="#e2ff00"/><path d="M183.1 47.6l3.4 2.8 2.7-.5-3.4-2.8z" color="#a1ff00"/><path d="M64.7 55l2.9 1.2 3.3-4-2.9-1.2z" color="#50ff00"/><path d="M46.5 65.1l2.8 1 3.3-4.6-2.8-1z" color="#06ff1b"/><path d="M52.6 61.5l2.7 1.1 3.3-4.5-2.8-1z" color="#10ff08"/><path d="M58.6 58.1l2.9 1.2 3.2-4.3-2.8-1.1z" color="#2aff00"/><path d="M70.9 52.2l2.9 1.2 3.2-3.8-2.9-1.3z" color="#79ff00"/><path d="M77 49.6l3 1.3 3.2-3.6-2.9-1.4z" color="#a9ff00"/><path d="M83.2 47.3l3 1.4 3.2-3.5-2.9-1.4z" color="#cdff00"/><path d="M95.7 43.4l3 1.6 3.2-3.1-3-1.5z" color="#fbff00"/><path d="M101.9 41.9l3.1 1.7 3.2-2.9-3.1-1.7z" color="#fff600"/><path d="M114.4 39.8l3.1 1.8 3.2-2.5-3.1-1.8z" color="#ffe900"/><path d="M120.7 39.1l3.1 1.9 3.2-2.3-3.2-1.9z" color="#ffe600"/><path d="M127 38.7l3.2 2 3-2.1-3.1-2z" color="#ffe400"/><path d="M139.5 38.7l3.3 2.2 3-1.7-3.3-2.2z" color="#ffe600"/><path d="M152 39.9l3.3 2.4 3-1.4-3.3-2.4z" color="#fff000"/><path d="M158.3 40.9l3.3 2.5 2.9-1.3-3.3-2.4z" color="#fff800"/><path d="M164.5 42.1l3.3 2.6 2.9-1-3.3-2.6z" color="#f8ff00"/><path d="M176.9 45.5l3.4 2.8 2.8-.7-3.4-2.7z" color="#c9ff00"/><path d="M189.2 49.9l3.4 3 2.7-.3-3.4-3z" color="#71ff00"/><path d="M86.2 48.7l3 1.5 3.2-3.5-3-1.5z" color="#c6ff00"/><path d="M92.4 46.7l3.1 1.7 3.2-3.4-3-1.6z" color="#deff00"/><path d="M105 43.6l3.1 1.8 3.2-2.9-3.1-1.8z" color="#fffc00"/><path d="M111.3 42.5l3.1 1.8 3.1-2.7-3.1-1.8z" color="#fff500"/><path d="M130.2 40.7l3.2 2.1 3.1-2.1-3.3-2.1z" color="#ffec00"/><path d="M136.5 40.7l3.2 2.2 3.1-2-3.3-2.2z" color="#ffed00"/><path d="M142.8 40.9l3.2 2.3 3-1.7-3.2-2.3z" color="#ffef00"/><path d="M149 41.5l3.3 2.4 3-1.6-3.3-2.4z" color="#fff400"/><path d="M167.8 44.7l3.4 2.7 2.9-1.1-3.4-2.6z" color="#e2ff00"/><path d="M174.1 46.3l3.3 2.8 2.9-.8-3.4-2.8z" color="#cbff00"/><path d="M180.3 48.3l3.4 2.8 2.8-.7-3.4-2.8z" color="#a8ff00"/><path d="M186.5 50.4l3.4 3 2.7-.5-3.4-3z" color="#7cff00"/><path d="M61.5 59.3l2.8 1.2 3.3-4.3-2.9-1.2z" color="#27ff00"/><path d="M67.6 56.2l2.9 1.3 3.3-4.1-2.9-1.2z" color="#4cff00"/><path d="M49.3 66.1l2.7 1.1 3.3-4.6-2.7-1.1z" color="#06ff1c"/><path d="M55.3 62.6l2.9 1.1 3.3-4.4-2.9-1.2z" color="#0fff09"/><path d="M73.8 53.4l2.9 1.4 3.3-3.9-3-1.3z" color="#72ff00"/><path d="M80 50.9l2.9 1.5 3.3-3.7-3-1.4z" color="#a0ff00"/><path d="M98.7 45l3.1 1.7 3.2-3.1-3.1-1.7z" color="#f2ff00"/><path d="M117.5 41.6l3.2 2 3.1-2.6-3.1-1.9z" color="#fff000"/><path d="M123.8 41l3.2 2.1 3.2-2.4-3.2-2z" color="#ffed00"/><path d="M155.3 42.3l3.3 2.5 3-1.4-3.3-2.5z" color="#fffb00"/><path d="M161.6 43.4l3.3 2.5 2.9-1.2-3.3-2.6z" color="#f6ff00"/><path d="M139.7 42.9l3.3 2.3 3-2-3.2-2.3z" color="#fff600"/><path d="M177.4 49.1l3.4 2.9 2.9-.9-3.4-2.8z" color="#acff00"/><path d="M82.9 52.4l3 1.5 3.3-3.7-3-1.5z" color="#95ff00"/><path d="M58.2 63.7l2.8 1.3 3.3-4.5-2.8-1.2z" color="#0fff0a"/><path d="M64.3 60.5l2.9 1.3 3.3-4.3-2.9-1.3z" color="#24ff00"/><path d="M70.5 57.5l2.9 1.4 3.3-4.1-2.9-1.4z" color="#47ff00"/><path d="M89.2 50.2l3 1.7 3.3-3.5-3.1-1.7z" color="#bcff00"/><path d="M95.5 48.4l3 1.7 3.3-3.4-3.1-1.7z" color="#d5ff00"/><path d="M101.8 46.7l3 1.8 3.3-3.1-3.1-1.8z" color="#e8ff00"/><path d="M108.1 45.4l3.1 1.9 3.2-3-3.1-1.8z" color="#f7ff00"/><path d="M114.4 44.3l3.1 2 3.2-2.7-3.2-2z" color="#fffc00"/><path d="M127 43.1l3.3 2.1 3.1-2.4-3.2-2.1z" color="#fff500"/><path d="M133.4 42.8l3.2 2.3 3.1-2.2-3.2-2.2z" color="#fff500"/><path d="M146 43.2l3.3 2.5 3-1.8-3.3-2.4z" color="#fff900"/><path d="M152.3 43.9l3.4 2.5 2.9-1.6-3.3-2.5z" color="#feff00"/><path d="M164.9 45.9l3.4 2.7 2.9-1.2-3.4-2.7z" color="#e0ff00"/><path d="M171.2 47.4l3.4 2.8 2.8-1.1-3.3-2.8z" color="#cbff00"/><path d="M183.7 51.1l3.4 3 2.8-.7-3.4-3z" color="#83ff00"/><path d="M52 67.2l2.8 1.2 3.4-4.7-2.9-1.1z" color="#06ff1c"/><path d="M76.7 54.8l2.9 1.5 3.3-3.9-2.9-1.5z" color="#6aff00"/><path d="M120.7 43.6l3.2 2 3.1-2.5-3.2-2.1z" color="#fff800"/><path d="M158.6 44.8l3.4 2.5 2.9-1.4-3.3-2.5z" color="#f1ff00"/><path d="M98.5 50.1l3.1 1.8 3.2-3.4-3-1.8z" color="#caff00"/><path d="M136.6 45.1l3.3 2.3 3.1-2.2-3.3-2.3z" color="#ff0"/><path d="M143 45.2l3.3 2.4 3-1.9-3.3-2.5z" color="#fcff00"/><path d="M174.6 50.2l3.4 2.8 2.8-1-3.4-2.9z" color="#acff00"/><path d="M180.8 52l3.5 3 2.8-.9-3.4-3z" color="#87ff00"/><path d="M79.6 56.3l3 1.6 3.3-4-3-1.5z" color="#61ff00"/><path d="M54.8 68.4l2.9 1.2 3.3-4.6-2.8-1.3z" color="#05ff1d"/><path d="M61 65l2.9 1.3 3.3-4.5-2.9-1.3z" color="#0eff0c"/><path d="M67.2 61.8l2.9 1.4 3.3-4.3-2.9-1.4z" color="#1fff00"/><path d="M85.9 53.9l3 1.7 3.3-3.7-3-1.7z" color="#89ff00"/><path d="M73.4 58.9l2.9 1.5 3.3-4.1-2.9-1.5z" color="#42ff00"/><path d="M92.2 51.9l3.1 1.7 3.2-3.5-3-1.7z" color="#aeff00"/><path d="M104.8 48.5l3.2 1.9 3.2-3.1-3.1-1.9z" color="#dcff00"/><path d="M111.2 47.3l3.1 2 3.2-3-3.1-2z" color="#eaff00"/><path d="M117.5 46.3l3.2 2.1 3.2-2.8-3.2-2z" color="#f5ff00"/><path d="M123.9 45.6l3.2 2.2 3.2-2.6-3.3-2.1z" color="#fcff00"/><path d="M130.3 45.2l3.2 2.3 3.1-2.4-3.2-2.3z" color="#ff0"/><path d="M149.3 45.7l3.3 2.5 3.1-1.8-3.4-2.5z" color="#f4ff00"/><path d="M155.7 46.4l3.3 2.6 3-1.7-3.4-2.5z" color="#e9ff00"/><path d="M162 47.3l3.3 2.7 3-1.4-3.4-2.7z" color="#dbff00"/><path d="M168.3 48.6l3.4 2.8 2.9-1.2-3.4-2.8z" color="#c9ff00"/><path d="M76.3 60.4l3 1.6 3.3-4.1-3-1.6z" color="#3bff00"/><path d="M95.3 53.6l3.1 1.8 3.2-3.5-3.1-1.8z" color="#9fff00"/><path d="M101.6 51.9l3.1 1.9 3.3-3.4-3.2-1.9z" color="#bdff00"/><path d="M120.7 48.4l3.2 2.2 3.2-2.8-3.2-2.2z" color="#e6ff00"/><path d="M133.5 47.5l3.3 2.3 3.1-2.4-3.3-2.3z" color="#ef0"/><path d="M139.9 47.4l3.3 2.4 3.1-2.2-3.3-2.4z" color="#edff00"/><path d="M146.3 47.6l3.3 2.6 3-2-3.3-2.5z" color="#e8ff00"/><path d="M159 49l3.4 2.7 2.9-1.7-3.3-2.7z" color="#d4ff00"/><path d="M171.7 51.4l3.4 2.9 2.9-1.3-3.4-2.8z" color="#a8ff00"/><path d="M178 53l3.4 3 2.9-1-3.5-3z" color="#87ff00"/><path d="M57.7 69.6l2.8 1.4 3.4-4.7-2.9-1.3z" color="#05ff1f"/><path d="M63.9 66.3l2.9 1.4 3.3-4.5-2.9-1.4z" color="#0dff0d"/><path d="M82.6 57.9l3 1.6 3.3-3.9-3-1.7z" color="#59ff00"/><path d="M70.1 63.2l2.9 1.5 3.3-4.3-2.9-1.5z" color="#19ff00"/><path d="M88.9 55.6l3.1 1.8 3.3-3.8-3.1-1.7z" color="#7cff00"/><path d="M108 50.4l3.1 2 3.2-3.1-3.1-2z" color="#cfff00"/><path d="M114.3 49.3l3.2 2.1 3.2-3-3.2-2.1z" color="#dcff00"/><path d="M127.1 47.8l3.3 2.2 3.1-2.5-3.2-2.3z" color="#ecff00"/><path d="M152.6 48.2l3.4 2.6 3-1.8-3.3-2.6z" color="#e0ff00"/><path d="M165.3 50l3.4 2.9 3-1.5-3.4-2.8z" color="#c4ff00"/><path d="M73 64.7l3 1.6 3.3-4.3-3-1.6z" color="#14ff01"/><path d="M92 57.4l3.1 1.8 3.3-3.8-3.1-1.8z" color="#6dff00"/><path d="M79.3 62l3 1.7 3.3-4.2-3-1.6z" color="#3f0"/><path d="M98.4 55.4l3.1 2 3.2-3.6-3.1-1.9z" color="#8eff00"/><path d="M104.7 53.8l3.2 2 3.2-3.4-3.1-2z" color="#af0"/><path d="M117.5 51.4l3.2 2.1 3.2-2.9-3.2-2.2z" color="#ceff00"/><path d="M123.9 50.6l3.3 2.2 3.2-2.8-3.3-2.2z" color="#d6ff00"/><path d="M130.4 50l3.2 2.4 3.2-2.6-3.3-2.3z" color="#dbff00"/><path d="M136.8 49.8l3.3 2.5 3.1-2.5-3.3-2.4z" color="#dcff00"/><path d="M143.2 49.8l3.3 2.6 3.1-2.2-3.3-2.6z" color="#d9ff00"/><path d="M149.6 50.2l3.3 2.6 3.1-2-3.4-2.6z" color="#d3ff00"/><path d="M156 50.8l3.4 2.7 3-1.8-3.4-2.7z" color="#caff00"/><path d="M162.4 51.7l3.4 2.8 2.9-1.6-3.4-2.9z" color="#baff00"/><path d="M168.7 52.9l3.5 2.9 2.9-1.5-3.4-2.9z" color="#a1ff00"/><path d="M175.1 54.3l3.4 3 2.9-1.3-3.4-3z" color="#83ff00"/><path d="M60.5 71l2.9 1.5 3.4-4.8-2.9-1.4z" color="#04ff20"/><path d="M66.8 67.7l2.9 1.6 3.3-4.6-2.9-1.5z" color="#0cff10"/><path d="M85.6 59.5l3.1 1.8 3.3-3.9-3.1-1.8z" color="#50ff00"/><path d="M111.1 52.4l3.2 2.1 3.2-3.1-3.2-2.1z" color="#c2ff00"/><path d="M127.2 52.8l3.3 2.4 3.1-2.8-3.2-2.4z" color="#c5ff00"/><path d="M152.9 52.8l3.4 2.8 3.1-2.1-3.4-2.7z" color="#bcff00"/><path d="M165.8 54.5l3.4 2.9 3-1.6-3.5-2.9z" color="#97ff00"/><path d="M69.7 69.3l3 1.6 3.3-4.6-3-1.6z" color="#0bff13"/><path d="M88.7 61.3l3.1 1.9 3.3-4-3.1-1.8z" color="#46ff00"/><path d="M63.4 72.5l3 1.5 3.3-4.7-2.9-1.6z" color="#03ff23"/><path d="M76 66.3l3 1.8 3.3-4.4-3-1.7z" color="#12ff04"/><path d="M82.3 63.7l3.1 1.8 3.3-4.2-3.1-1.8z" color="#2aff00"/><path d="M95.1 59.2l3.1 2 3.3-3.8-3.1-2z" color="#5fff00"/><path d="M101.5 57.4l3.1 2 3.3-3.6-3.2-2z" color="#7cff00"/><path d="M107.9 55.8l3.2 2.1 3.2-3.4-3.2-2.1z" color="#96ff00"/><path d="M114.3 54.5l3.2 2.2 3.2-3.2-3.2-2.1z" color="#acff00"/><path d="M120.7 53.5l3.3 2.3 3.2-3-3.3-2.2z" color="#bcff00"/><path d="M133.6 52.4l3.3 2.5 3.2-2.6-3.3-2.5z" color="#c9ff00"/><path d="M140.1 52.3l3.3 2.5 3.1-2.4-3.3-2.6z" color="#c9ff00"/><path d="M146.5 52.4l3.4 2.6 3-2.2-3.3-2.6z" color="#c5ff00"/><path d="M159.4 53.5l3.4 2.9 3-1.9-3.4-2.8z" color="#acff00"/><path d="M172.2 55.8l3.4 3 2.9-1.5-3.4-3z" color="#7cff00"/><path d="M66.4 74l2.9 1.7 3.4-4.8-3-1.6z" color="#01ff25"/><path d="M85.4 65.5l3 1.9 3.4-4.2-3.1-1.9z" color="#20ff00"/><path d="M111.1 57.9l3.2 2.3 3.2-3.5-3.2-2.2z" color="#80ff00"/><path d="M124 55.8l3.3 2.4 3.2-3-3.3-2.4z" color="#a2ff00"/><path d="M130.5 55.2l3.3 2.5 3.1-2.8-3.3-2.5z" color="#abff00"/><path d="M149.9 55l3.3 2.8 3.1-2.2-3.4-2.8z" color="#a6ff00"/><path d="M156.3 55.6l3.4 2.8 3.1-2-3.4-2.9z" color="#9aff00"/><path d="M162.8 56.4l3.4 2.9 3-1.9-3.4-2.9z" color="#89ff00"/><path d="M169.2 57.4l3.4 3.1 3-1.7-3.4-3z" color="#72ff00"/><path d="M72.7 70.9l3 1.7 3.3-4.5-3-1.8z" color="#09ff16"/><path d="M91.8 63.2l3.1 2 3.3-4-3.1-2z" color="#3bff00"/><path d="M79 68.1l3 1.8 3.4-4.4-3.1-1.8z" color="#10ff08"/><path d="M98.2 61.2l3.1 2 3.3-3.8-3.1-2z" color="#53ff00"/><path d="M104.6 59.4l3.2 2.1 3.3-3.6-3.2-2.1z" color="#68ff00"/><path d="M117.5 56.7l3.3 2.4 3.2-3.3-3.3-2.3z" color="#94ff00"/><path d="M136.9 54.9l3.3 2.6 3.2-2.7-3.3-2.5z" color="#afff00"/><path d="M143.4 54.8l3.3 2.7 3.2-2.5-3.4-2.6z" color="#adff00"/><path d="M159.7 58.4l3.4 3 3.1-2.1-3.4-2.9z" color="#7f0"/><path d="M69.3 75.7l3 1.7 3.4-4.8-3-1.7z" color="#00ff29"/><path d="M82 69.9l3.1 1.9 3.3-4.4-3-1.9z" color="#0eff0c"/><path d="M88.4 67.4l3.1 2 3.4-4.2-3.1-2z" color="#16ff00"/><path d="M107.8 61.5l3.2 2.3 3.3-3.6-3.2-2.3z" color="#58ff00"/><path d="M114.3 60.2l3.2 2.3 3.3-3.4-3.3-2.4z" color="#69ff00"/><path d="M120.8 59.1l3.2 2.4 3.3-3.3-3.3-2.4z" color="#7bff00"/><path d="M127.3 58.2l3.3 2.6 3.2-3.1-3.3-2.5z" color="#8f0"/><path d="M133.8 57.7l3.3 2.6 3.1-2.8-3.3-2.6z" color="#8fff00"/><path d="M146.7 57.5l3.4 2.8 3.1-2.5-3.3-2.8z" color="#8dff00"/><path d="M153.2 57.8l3.4 2.9 3.1-2.3-3.4-2.8z" color="#85ff00"/><path d="M166.2 59.3l3.4 3.1 3-1.9-3.4-3.1z" color="#64ff00"/><path d="M75.7 72.6l3 1.9 3.3-4.6-3-1.8z" color="#07ff19"/><path d="M94.9 65.2l3.1 2 3.3-4-3.1-2z" color="#2fff00"/><path d="M101.3 63.2l3.2 2.2 3.3-3.9-3.2-2.1z" color="#46ff00"/><path d="M140.2 57.5l3.4 2.6 3.1-2.6-3.3-2.7z" color="#91ff00"/><path d="M117.5 62.5l3.3 2.4 3.2-3.4-3.2-2.4z" color="#57ff00"/><path d="M156.6 60.7l3.5 3 3-2.3-3.4-3z" color="#63ff00"/><path d="M163.1 61.4l3.5 3 3-2-3.4-3.1z" color="#58ff00"/><path d="M78.7 74.5l3 1.9 3.4-4.6-3.1-1.9z" color="#05ff1e"/><path d="M72.3 77.4l3 1.9 3.4-4.8-3-1.9z" color="#00ff30"/><path d="M85.1 71.8l3.1 2 3.3-4.4-3.1-2z" color="#0cff10"/><path d="M91.5 69.4l3.2 2.1 3.3-4.3-3.1-2z" color="#12ff04"/><path d="M104.5 65.4l3.2 2.2 3.3-3.8-3.2-2.3z" color="#37ff00"/><path d="M111 63.8l3.2 2.3 3.3-3.6-3.2-2.3z" color="#49ff00"/><path d="M124 61.5l3.3 2.5 3.3-3.2-3.3-2.6z" color="#62ff00"/><path d="M130.6 60.8l3.3 2.6 3.2-3.1-3.3-2.6z" color="#6bff00"/><path d="M137.1 60.3l3.3 2.7 3.2-2.9-3.4-2.6z" color="#71ff00"/><path d="M143.6 60.1l3.4 2.8 3.1-2.6-3.4-2.8z" color="#71ff00"/><path d="M150.1 60.3l3.4 2.9 3.1-2.5-3.4-2.9z" color="#6cff00"/><path d="M98 67.2l3.2 2.2 3.3-4-3.2-2.2z" color="#2f0"/><path d="M75.3 79.3l3.1 2 3.3-4.9-3-1.9z" color="#00ff37"/><path d="M114.2 66.1l3.3 2.5 3.3-3.7-3.3-2.4z" color="#39ff00"/><path d="M120.8 64.9l3.3 2.6 3.2-3.5-3.3-2.5z" color="#46ff00"/><path d="M140.4 63l3.4 2.8 3.2-2.9-3.4-2.8z" color="#58ff00"/><path d="M153.5 63.2l3.5 3 3.1-2.5-3.5-3z" color="#53ff00"/><path d="M160.1 63.7l3.4 3.1 3.1-2.4-3.5-3z" color="#4bff00"/><path d="M81.7 76.4l3.1 2.1 3.4-4.7-3.1-2z" color="#03ff22"/><path d="M101.2 69.4l3.2 2.3 3.3-4.1-3.2-2.2z" color="#14ff00"/><path d="M88.2 73.8l3.1 2.1 3.4-4.4-3.2-2.1z" color="#09ff15"/><path d="M94.7 71.5l3.1 2.2 3.4-4.3-3.2-2.2z" color="#0fff0a"/><path d="M107.7 67.6l3.2 2.4 3.3-3.9-3.2-2.3z" color="#28ff00"/><path d="M127.3 64l3.3 2.6 3.3-3.2-3.3-2.6z" color="#4fff00"/><path d="M133.9 63.4l3.3 2.7 3.2-3.1-3.3-2.7z" color="#5f0"/><path d="M147 62.9l3.4 3 3.1-2.7-3.4-2.9z" color="#57ff00"/><path d="M78.4 81.3l3.1 2 3.3-4.8-3.1-2.1z" color="#00ff40"/><path d="M97.8 73.7l3.2 2.3 3.4-4.3-3.2-2.3z" color="#0cff10"/><path d="M110.9 70l3.3 2.5 3.3-3.9-3.3-2.5z" color="#18ff00"/><path d="M117.5 68.6l3.3 2.6 3.3-3.7-3.3-2.6z" color="#27ff00"/><path d="M124.1 67.5l3.3 2.6 3.2-3.5-3.3-2.6z" color="#3f0"/><path d="M137.2 66.1l3.4 2.8 3.2-3.1-3.4-2.8z" color="#41ff00"/><path d="M143.8 65.8l3.4 3 3.2-2.9-3.4-3z" color="#42ff00"/><path d="M150.4 65.9l3.4 3 3.2-2.7-3.5-3z" color="#40ff00"/><path d="M157 66.2l3.4 3.1 3.1-2.5-3.4-3.1z" color="#3aff00"/><path d="M84.8 78.5l3.2 2.1 3.3-4.7-3.1-2.1z" color="#00ff27"/><path d="M104.4 71.7l3.2 2.4 3.3-4.1-3.2-2.4z" color="#11ff06"/><path d="M91.3 75.9l3.2 2.3 3.3-4.5-3.1-2.2z" color="#07ff1b"/><path d="M130.6 66.6l3.4 2.8 3.2-3.3-3.3-2.7z" color="#3cff00"/><path d="M147.2 68.8l3.5 3 3.1-2.9-3.4-3z" color="#2bff00"/><path d="M81.5 83.3l3.1 2.2 3.4-4.9-3.2-2.1z" color="#00ff49"/><path d="M88 80.6l3.1 2.3 3.4-4.7-3.2-2.3z" color="#00ff30"/><path d="M94.5 78.2l3.2 2.3 3.3-4.5-3.2-2.3z" color="#04ff21"/><path d="M101 76l3.3 2.4 3.3-4.3-3.2-2.4z" color="#09ff16"/><path d="M107.6 74.1l3.3 2.5 3.3-4.1-3.3-2.5z" color="#0dff0d"/><path d="M114.2 72.5l3.3 2.6 3.3-3.9-3.3-2.6z" color="#11ff06"/><path d="M120.8 71.2l3.3 2.7 3.3-3.8-3.3-2.6z" color="#15ff00"/><path d="M127.4 70.1l3.3 2.8 3.3-3.5-3.4-2.8z" color="#20ff00"/><path d="M134 69.4l3.4 2.9 3.2-3.4-3.4-2.8z" color="#27ff00"/><path d="M140.6 68.9l3.4 3 3.2-3.1-3.4-3z" color="#2bff00"/><path d="M153.8 68.9l3.5 3.1 3.1-2.7-3.4-3.1z" color="#28ff00"/><path d="M104.3 78.4l3.2 2.5 3.4-4.3-3.3-2.5z" color="#06ff1d"/><path d="M130.7 72.9l3.4 2.9 3.3-3.5-3.4-2.9z" color="#12ff04"/><path d="M144 71.9l3.5 3 3.2-3.1-3.5-3z" color="#14ff00"/><path d="M150.7 71.8l3.4 3.1 3.2-2.9-3.5-3.1z" color="#14ff00"/><path d="M84.6 85.5l3.1 2.3 3.4-4.9-3.1-2.3z" color="#00ff53"/><path d="M91.1 82.9l3.2 2.3 3.4-4.7-3.2-2.3z" color="#00ff3b"/><path d="M97.7 80.5l3.2 2.4 3.4-4.5-3.3-2.4z" color="#01ff27"/><path d="M110.9 76.6l3.3 2.6 3.3-4.1-3.3-2.6z" color="#0aff14"/><path d="M117.5 75.1l3.3 2.7 3.3-3.9-3.3-2.7z" color="#0dff0d"/><path d="M124.1 73.9l3.4 2.7 3.2-3.7-3.3-2.8z" color="#10ff08"/><path d="M137.4 72.3l3.4 2.9 3.2-3.3-3.4-3z" color="#13ff01"/><path d="M87.7 87.8l3.2 2.4 3.4-5-3.2-2.3z" color="#00ff5e"/><path d="M100.9 82.9l3.2 2.6 3.4-4.6-3.2-2.5z" color="#00ff32"/><path d="M107.5 80.9l3.3 2.7 3.4-4.4-3.3-2.6z" color="#02ff24"/><path d="M127.5 76.6l3.3 2.9 3.3-3.7-3.4-2.9z" color="#0cff11"/><path d="M134.1 75.8l3.4 3 3.3-3.6-3.4-2.9z" color="#0eff0d"/><path d="M140.8 75.2l3.4 3.1 3.3-3.4-3.5-3z" color="#0fff0b"/><path d="M147.5 74.9l3.4 3.2 3.2-3.2-3.4-3.1z" color="#0fff0a"/><path d="M94.3 85.2l3.2 2.5 3.4-4.8-3.2-2.4z" color="#00ff47"/><path d="M114.2 79.2l3.3 2.7 3.3-4.1-3.3-2.7z" color="#06ff1c"/><path d="M120.8 77.8l3.4 2.8 3.3-4-3.4-2.7z" color="#09ff16"/><path d="M97.5 87.7l3.3 2.6 3.3-4.8-3.2-2.6z" color="#00ff53"/><path d="M137.5 78.8l3.5 3.1 3.2-3.6-3.4-3.1z" color="#09ff17"/><path d="M90.9 90.2l3.2 2.4 3.4-4.9-3.2-2.5z" color="#00ff6b"/><path d="M104.1 85.5l3.3 2.6 3.4-4.5-3.3-2.7z" color="#00ff40"/><path d="M110.8 83.6l3.3 2.7 3.4-4.4-3.3-2.7z" color="#00ff2f"/><path d="M124.2 80.6l3.3 2.9 3.3-4-3.3-2.9z" color="#05ff1e"/><path d="M130.8 79.5l3.5 3.1 3.2-3.8-3.4-3z" color="#07ff1a"/><path d="M144.2 78.3l3.5 3.2 3.2-3.4-3.4-3.2z" color="#0aff15"/><path d="M117.5 81.9l3.3 2.9 3.4-4.2-3.4-2.8z" color="#02ff24"/><path d="M94.1 92.6l3.2 2.7 3.5-5-3.3-2.6z" color="#00ff7e"/><path d="M100.8 90.3l3.2 2.6 3.4-4.8-3.3-2.6z" color="#00ff61"/><path d="M120.8 84.8l3.4 2.9 3.3-4.2-3.3-2.9z" color="#00ff31"/><path d="M134.3 82.6l3.4 3.1 3.3-3.8-3.5-3.1z" color="#02ff23"/><path d="M141 81.9l3.4 3.2 3.3-3.6-3.5-3.2z" color="#04ff21"/><path d="M107.4 88.1l3.3 2.8 3.4-4.6-3.3-2.7z" color="#00ff4e"/><path d="M114.1 86.3l3.4 2.9 3.3-4.4-3.3-2.9z" color="#00ff3e"/><path d="M127.5 83.5l3.4 3.1 3.4-4-3.5-3.1z" color="#00ff27"/><path d="M97.3 95.3l3.3 2.7 3.4-5.1-3.2-2.6z" color="#00ff93"/><path d="M104 92.9l3.3 2.8 3.4-4.8-3.3-2.8z" color="#00ff73"/><path d="M117.5 89.2l3.3 3 3.4-4.5-3.4-2.9z" color="#00ff4e"/><path d="M124.2 87.7l3.4 3.1 3.3-4.2-3.4-3.1z" color="#00ff42"/><path d="M130.9 86.6l3.5 3.1 3.3-4-3.4-3.1z" color="#00ff38"/><path d="M137.7 85.7l3.5 3.2 3.2-3.8-3.4-3.2z" color="#00ff31"/><path d="M110.7 90.9l3.4 2.9 3.4-4.6-3.4-2.9z" color="#00ff5d"/><path d="M100.6 98l3.3 2.8 3.4-5.1-3.3-2.8z" color="#00ffa9"/><path d="M107.3 95.7l3.4 3 3.4-4.9-3.4-2.9z" color="#00ff8a"/><path d="M114.1 93.8l3.3 3 3.4-4.6-3.3-3z" color="#00ff70"/><path d="M120.8 92.2l3.4 3 3.4-4.4-3.4-3.1z" color="#00ff5f"/><path d="M127.6 90.8l3.4 3.2 3.4-4.3-3.5-3.1z" color="#00ff53"/><path d="M134.4 89.7l3.4 3.3 3.4-4.1-3.5-3.2z" color="#00ff4a"/><path d="M124.2 95.2l3.5 3.2 3.3-4.4-3.4-3.2z" color="#00ff76"/><path d="M103.9 100.8l3.3 2.9 3.5-5-3.4-3z" color="#00ffbf"/><path d="M110.7 98.7l3.3 3 3.4-4.9-3.3-3z" color="#00ffa3"/><path d="M117.4 96.8l3.4 3.1 3.4-4.7-3.4-3z" color="#00ff8a"/><path d="M131 94l3.5 3.3 3.3-4.3-3.4-3.3z" color="#0f6"/><path d="M107.2 103.7l3.4 3.1 3.4-5.1-3.3-3z" color="#00ffd4"/><path d="M120.8 99.9l3.5 3.2 3.4-4.7-3.5-3.2z" color="#00ffa5"/><path d="M127.7 98.4l3.4 3.4 3.4-4.5-3.5-3.3z" color="#00ff92"/><path d="M114 101.7l3.4 3.1 3.4-4.9-3.4-3.1z" color="#00ffbc"/><path d="M117.4 104.8l3.5 3.3 3.4-5-3.5-3.2z" color="#00ffd3"/><path d="M110.6 106.8l3.4 3.1 3.4-5.1-3.4-3.1z" color="#00ffea"/><path d="M124.3 103.1l3.4 3.4 3.4-4.7-3.4-3.4z" color="#00ffc0"/><path d="M114 109.9l3.4 3.3 3.5-5.1-3.5-3.3z" color="#04fdff"/><path d="M120.9 108.1l3.4 3.3 3.4-4.9-3.4-3.4z" color="#00ffec"/><path d="M117.4 113.2l3.5 3.4 3.4-5.2-3.4-3.3z" color="#0ee8ff"/></g>
<path d="M43.8 64.2l3.3-4.6 3.3-4.3 3.2-4.2 3.3-3.9 3.2-3.8 3.2-3.6 3.2-3.3 3.2-3.2 3.1-2.9 3.2-2.8 3.1-2.6 3.1-2.3 3.1-2.2 3-2 3.1-1.8 3-1.6 3-1.4 3-1.3 2.9-1 2.9-.9 2.9-.7 2.9-.5 2.8-.4 2.9-.2 2.7 0M45.2 64.7l3.3-4.6 3.2-4.4 3.3-4.2 3.2-3.9 3.3-3.8 3.2-3.6 3.2-3.4 3.2-3.1 3.1-3 3.2-2.7 3.1-2.6 3.1-2.4 3.1-2.2 3-2 3.1-1.8 3-1.6 3-1.4 3-1.3 2.9-1 2.9-.9 2.9-.7 2.9-.5 2.8-.4 2.9-.1 2.7 0M46.5 65.1l3.3-4.6 3.3-4.4 3.3-4.1 3.2-4 3.2-3.8 3.3-3.6 3.2-3.4 3.1-3.1 3.2-3 3.2-2.8 3.1-2.5 3.1-2.4 3.1-2.2 3-2 3.1-1.8 3-1.6 3-1.5 3-1.2 2.9-1.1 2.9-.8 2.9-.7 2.9-.6 2.9-.3 2.8-.2 2.8 0M47.9 65.6l3.3-4.6 3.3-4.4 3.2-4.2 3.3-4 3.2-3.8 3.2-3.6 3.2-3.3 3.2-3.2 3.2-3 3.2-2.8 3.1-2.6 3.1-2.3 3.1-2.2 3.1-2 3-1.8 3-1.7 3-1.4 3-1.2 2.9-1.1 3-.9 2.9-.7 2.8-.5 2.9-.4 2.8-.1 2.8 0M49.3 66.1l3.3-4.6 3.2-4.4 3.3-4.2 3.3-4 3.2-3.8 3.2-3.6 3.2-3.4 3.2-3.2 3.2-3 3.2-2.7 3.1-2.6 3.1-2.4 3.1-2.2 3.1-2 3-1.8 3-1.7 3-1.4 3-1.2 3-1.1 2.9-.9 2.9-.7 2.8-.5 2.9-.4 2.8-.1 2.8-.1M50.6 66.6l3.3-4.6 3.3-4.4 3.3-4.2 3.3-4 3.2-3.8 3.2-3.6 3.3-3.4 3.1-3.2 3.2-3 3.2-2.8 3.1-2.6 3.1-2.4 3.1-2.2 3.1-2 3-1.8 3.1-1.6 3-1.5 2.9-1.2 3-1.1 2.9-.9 2.9-.7 2.9-.5 2.8-.4 2.8-.1 2.8 0M52 67.2l3.3-4.6 3.3-4.5 3.3-4.2 3.3-4 3.2-3.8 3.3-3.6 3.2-3.4 3.2-3.2 3.1-3 3.2-2.8 3.1-2.6 3.2-2.4 3.1-2.2 3-2 3.1-1.9 3-1.6 3-1.4 3-1.3 2.9-1.1 2.9-.8 2.9-.7 2.9-.6 2.8-.3 2.9-.2 2.7 0M53.4 67.8l3.3-4.7 3.3-4.4 3.3-4.3 3.3-4 3.2-3.8 3.3-3.6 3.2-3.4 3.2-3.2 3.2-3 3.1-2.8 3.2-2.6 3.1-2.5 3.1-2.2 3.1-2 3-1.8 3-1.6 3-1.5 3-1.2 3-1.1 2.9-.9 2.9-.7 2.8-.5 2.9-.4 2.8-.2 2.8 0M54.8 68.4l3.4-4.7 3.3-4.4 3.2-4.3 3.3-4 3.3-3.8 3.2-3.7 3.2-3.4 3.2-3.2 3.2-3 3.2-2.8 3.1-2.6 3.1-2.5 3.1-2.2 3.1-2 3.1-1.8 3-1.6 3-1.5 3-1.3 2.9-1 2.9-.9 2.9-.7 2.9-.6 2.8-.3 2.8-.2 2.8 0M56.3 69l3.3-4.7 3.3-4.4 3.3-4.3 3.2-4 3.3-3.9 3.2-3.6 3.3-3.4 3.2-3.3 3.1-3 3.2-2.8 3.2-2.6 3.1-2.4 3.1-2.2 3.1-2.1 3-1.8 3-1.6 3-1.5 3-1.3 3-1 2.9-.9 2.9-.7 2.8-.6 2.9-.3 2.8-.2 2.8 0M57.7 69.6l3.3-4.6 3.3-4.5 3.3-4.3 3.3-4 3.2-3.9 3.3-3.6 3.2-3.5 3.2-3.2 3.2-3 3.2-2.8 3.1-2.7 3.1-2.4 3.1-2.2 3.1-2 3.1-1.9 3-1.6 3-1.5 3-1.2 2.9-1.1 2.9-.9 2.9-.7 2.9-.5 2.8-.4 2.9-.2 2.7 0M59.1 70.3l3.3-4.7 3.3-4.5 3.3-4.2 3.3-4.1 3.3-3.9 3.2-3.6 3.3-3.5 3.2-3.2 3.2-3 3.1-2.9 3.2-2.6 3.1-2.4 3.1-2.2 3.1-2.1 3-1.8 3.1-1.7 3-1.4 2.9-1.3 3-1.1 2.9-.9 2.9-.7 2.9-.5 2.8-.4 2.8-.1 2.8-.1M60.5 71l3.4-4.7 3.3-4.5 3.3-4.3 3.3-4.1 3.2-3.8 3.3-3.7 3.2-3.4 3.2-3.3 3.2-3 3.2-2.8 3.1-2.7 3.2-2.4 3.1-2.3 3-2 3.1-1.8 3-1.7 3-1.4 3-1.3 3-1.1 2.9-.9 2.9-.7 2.8-.5 2.9-.4 2.8-.2 2.8 0M62 71.7l3.3-4.7 3.3-4.5 3.3-4.3 3.3-4.1 3.3-3.8 3.2-3.7 3.3-3.5 3.2-3.2 3.2-3.1 3.2-2.8 3.1-2.7 3.1-2.4 3.1-2.2 3.1-2.1 3.1-1.8 3-1.7 3-1.4 3-1.3 2.9-1.1 3-.9 2.9-.7 2.8-.6 2.9-.3 2.8-.2 2.7 0M63.4 72.5l3.4-4.8 3.3-4.5 3.3-4.3 3.3-4.1 3.3-3.9 3.2-3.6 3.3-3.5 3.2-3.3 3.2-3 3.1-2.9 3.2-2.6 3.1-2.5 3.1-2.2 3.1-2.1 3.1-1.8 3-1.7 3-1.4 3-1.3 2.9-1.1 3-.9 2.8-.7 2.9-.6 2.8-.3 2.8-.2 2.8 0M64.9 73.2l3.3-4.7 3.4-4.5 3.3-4.3 3.3-4.2 3.2-3.8 3.3-3.7 3.2-3.5 3.3-3.3 3.2-3 3.1-2.9 3.2-2.6 3.1-2.5 3.1-2.2 3.1-2.1 3.1-1.9 3-1.6 3-1.5 3-1.3 2.9-1.1 2.9-.9 2.9-.7 2.9-.5 2.8-.4 2.8-.2 2.8 0M66.4 74l3.3-4.7 3.3-4.6 3.3-4.3 3.3-4.1 3.3-3.9 3.3-3.7 3.2-3.5 3.2-3.3 3.3-3 3.1-2.9 3.2-2.7 3.1-2.4 3.1-2.3 3.1-2 3.1-1.9 3-1.7 3-1.4 3-1.3 2.9-1.1 2.9-.9 2.9-.7 2.9-.6 2.8-.3 2.8-.2 2.8 0M67.8 74.8l3.4-4.7 3.3-4.6 3.3-4.3 3.3-4.1 3.3-3.9 3.3-3.7 3.2-3.5 3.2-3.3 3.3-3.1 3.1-2.9 3.2-2.6 3.1-2.5 3.1-2.3 3.1-2 3.1-1.9 3-1.7 3-1.4 3-1.3 2.9-1.1 3-.9 2.8-.8 2.9-.5 2.8-.4 2.8-.2 2.8 0M69.3 75.7l3.4-4.8 3.3-4.6 3.3-4.3 3.3-4.1 3.3-4 3.3-3.7 3.2-3.5 3.3-3.3 3.2-3 3.1-2.9 3.2-2.7 3.1-2.5 3.1-2.2 3.1-2.1 3.1-1.9 3-1.7 3-1.4 3-1.3 2.9-1.1 3-.9 2.9-.8 2.8-.5 2.8-.4 2.8-.2 2.8 0M70.8 76.5l3.4-4.7 3.3-4.6 3.3-4.4 3.3-4.1 3.3-3.9 3.3-3.8 3.2-3.5 3.3-3.3 3.2-3.1 3.2-2.8 3.1-2.7 3.2-2.5 3.1-2.3 3-2.1 3.1-1.8 3-1.7 3-1.5 3-1.3 3-1.1 2.9-.9 2.9-.7 2.8-.6 2.9-.4 2.8-.2 2.7 0M72.3 77.4l3.4-4.8 3.3-4.5 3.3-4.4 3.3-4.2 3.3-3.9 3.3-3.7 3.3-3.5 3.2-3.4 3.2-3.1 3.2-2.9 3.1-2.6 3.2-2.5 3.1-2.3 3.1-2.1 3-1.9 3.1-1.7 3-1.4 2.9-1.3 3-1.2 2.9-.9 2.9-.7 2.9-.6 2.8-.3 2.8-.2 2.7 0M73.8 78.4l3.4-4.9 3.3-4.5 3.4-4.4 3.3-4.2 3.3-3.9 3.2-3.8 3.3-3.5 3.2-3.3 3.2-3.1 3.2-2.9 3.2-2.7 3.1-2.5 3.1-2.3 3.1-2.1 3.1-1.9 3-1.7 3-1.5 3-1.3 2.9-1.1 2.9-.9 2.9-.7 2.9-.6 2.8-.4 2.8-.2 2.8 0M75.3 79.3l3.4-4.8 3.3-4.6 3.4-4.4 3.3-4.2 3.3-3.9 3.3-3.8 3.2-3.5 3.3-3.4 3.2-3.1 3.2-2.9 3.1-2.7 3.2-2.5 3.1-2.3 3.1-2.1 3-1.9 3-1.7 3-1.5 3-1.3 3-1.1 2.9-.9 2.9-.8 2.8-.5 2.8-.4 2.8-.2 2.8 0M76.8 80.3l3.4-4.9 3.4-4.6 3.3-4.4 3.3-4.2 3.3-3.9 3.3-3.8 3.3-3.5 3.2-3.4 3.2-3.1 3.2-2.9 3.2-2.7 3.1-2.5 3.1-2.3 3.1-2.1 3.1-1.9 3-1.7 3-1.5 3-1.3 2.9-1.2 2.9-.9 2.9-.7 2.9-.6 2.8-.4 2.8-.2 2.7 0M78.4 81.3l3.3-4.9 3.4-4.6 3.3-4.4 3.4-4.2 3.3-4 3.3-3.8 3.2-3.5 3.2-3.4 3.3-3.1 3.2-2.9 3.1-2.7 3.2-2.5 3.1-2.4 3.1-2.1 3-1.9 3.1-1.7 3-1.5 2.9-1.3 3-1.1 2.9-1 2.9-.7 2.8-.6 2.8-.3 2.8-.2 2.8-.1M79.9 82.3l3.4-4.9 3.4-4.6 3.3-4.4 3.3-4.2 3.3-4 3.3-3.8 3.3-3.6 3.2-3.3 3.2-3.2 3.2-2.9 3.2-2.7 3.1-2.5 3.1-2.4 3.1-2.1 3.1-1.9 3-1.7 3-1.5 3-1.3 2.9-1.1 2.9-1 2.9-.7 2.9-.6 2.8-.4 2.8-.2 2.7 0M81.5 83.3l3.3-4.8 3.4-4.7 3.3-4.4 3.4-4.2 3.3-4 3.3-3.8 3.2-3.6 3.3-3.4 3.2-3.1 3.2-3 3.1-2.7 3.2-2.5 3.1-2.3 3.1-2.1 3.1-2 3-1.7 3-1.5 3-1.3 2.9-1.2 2.9-.9 2.9-.8 2.8-.5 2.9-.4 2.7-.2 2.8 0M83 84.4l3.4-4.9 3.4-4.6 3.3-4.5 3.3-4.2 3.3-4 3.3-3.8 3.3-3.6 3.2-3.4 3.3-3.1 3.2-3 3.1-2.7 3.2-2.6 3.1-2.3 3.1-2.1 3-1.9 3.1-1.7 3-1.6 2.9-1.3 3-1.1 2.9-1 2.9-.7 2.8-.6 2.8-.4 2.8-.2 2.7-.1M84.6 85.5l3.4-4.9 3.3-4.7 3.4-4.4 3.3-4.3 3.3-4 3.3-3.8 3.3-3.6 3.2-3.4 3.2-3.1 3.2-3 3.2-2.7 3.1-2.6 3.2-2.3 3.1-2.1 3-2 3-1.7 3-1.5 3-1.4 2.9-1.1 3-.9 2.8-.8 2.9-.6 2.8-.4 2.8-.2 2.7 0M86.1 86.6l3.4-4.9 3.4-4.7 3.4-4.4 3.3-4.3 3.3-4 3.3-3.8 3.3-3.6 3.2-3.4 3.2-3.2 3.2-3 3.2-2.7 3.1-2.6 3.2-2.3 3-2.1 3.1-2 3-1.7 3-1.5 3-1.4 2.9-1.1 2.9-1 2.9-.8 2.9-.5 2.8-.4 2.7-.2 2.8-.1M87.7 87.8l3.4-4.9 3.4-4.7 3.3-4.5 3.4-4.3 3.3-4 3.3-3.9 3.3-3.6 3.2-3.4 3.2-3.1 3.2-3 3.2-2.8 3.1-2.5 3.2-2.4 3-2.1 3.1-2 3-1.7 3-1.5 3-1.4 2.9-1.1 2.9-1 2.9-.8 2.8-.6 2.9-.4 2.7-.2 2.8 0M89.3 88.9l3.4-4.9 3.4-4.7 3.3-4.5 3.4-4.2 3.3-4.1 3.3-3.8 3.3-3.7 3.2-3.4 3.2-3.2 3.2-2.9 3.2-2.8 3.1-2.6 3.2-2.3 3-2.2 3.1-1.9 3-1.8 3-1.5 3-1.4 2.9-1.1 2.9-1 2.9-.8 2.8-.6 2.8-.4 2.8-.2 2.8 0M90.9 90.2l3.4-5 3.4-4.7 3.3-4.5 3.4-4.3 3.3-4.1 3.3-3.8 3.3-3.6 3.2-3.5 3.2-3.2 3.2-2.9 3.2-2.8 3.2-2.6 3.1-2.4 3.1-2.1 3-2 3-1.7 3-1.6 3-1.3 2.9-1.2 2.9-1 2.9-.7 2.8-.6 2.8-.4 2.8-.3 2.7 0M92.5 91.4l3.4-5 3.4-4.7 3.3-4.5 3.4-4.3 3.3-4.1 3.3-3.8 3.3-3.7 3.2-3.4 3.3-3.2 3.2-3 3.1-2.8 3.2-2.6 3.1-2.4 3.1-2.1 3-2 3.1-1.7 3-1.6 2.9-1.4 2.9-1.1 2.9-1 2.9-.8 2.8-.6 2.8-.4 2.8-.2 2.7-.1M94.1 92.6l3.4-4.9 3.4-4.8 3.4-4.5 3.3-4.3 3.3-4.1 3.3-3.9 3.3-3.6 3.3-3.4 3.2-3.3 3.2-3 3.2-2.8 3.1-2.5 3.1-2.4 3.1-2.2 3.1-2 3-1.7 3-1.6 2.9-1.4 3-1.1 2.9-1 2.8-.8 2.9-.6 2.8-.4 2.7-.2 2.7-.1M95.7 93.9l3.4-4.9 3.4-4.8 3.4-4.5 3.3-4.4 3.4-4.1 3.3-3.8 3.2-3.7 3.3-3.4 3.2-3.3 3.2-3 3.2-2.8 3.1-2.6 3.1-2.4 3.1-2.1 3.1-2 3-1.8 3-1.6 3-1.3 2.9-1.2 2.9-1 2.8-.8 2.9-.6 2.8-.4 2.7-.3 2.8 0M97.3 95.3l3.5-5 3.3-4.8 3.4-4.6 3.4-4.3 3.3-4.1 3.3-3.9 3.3-3.7 3.2-3.4 3.3-3.3 3.2-3 3.1-2.8 3.2-2.6 3.1-2.4 3.1-2.2 3-2 3-1.7 3-1.6 3-1.4 2.9-1.2 2.9-1 2.9-.8 2.8-.6 2.8-.4 2.7-.2 2.8-.1M99 96.6l3.4-5 3.4-4.8 3.4-4.6 3.3-4.3 3.3-4.1 3.3-3.9 3.3-3.7 3.3-3.5 3.2-3.2 3.2-3.1 3.2-2.8 3.1-2.6 3.1-2.4 3.1-2.2 3.1-2 3-1.8 3-1.5 2.9-1.4 3-1.2 2.8-1 2.9-.8 2.8-.6 2.8-.4 2.8-.3 2.7-.1M100.6 98l3.4-5.1 3.4-4.8 3.4-4.5 3.4-4.4 3.3-4.1 3.3-3.9 3.3-3.7 3.2-3.5 3.3-3.2 3.2-3.1 3.1-2.8 3.2-2.6 3.1-2.5 3.1-2.2 3-1.9 3-1.8 3-1.6 3-1.4 2.9-1.2 2.9-1 2.8-.8 2.9-.6 2.8-.5 2.7-.2 2.7-.1M102.3 99.4l3.4-5.1 3.4-4.8 3.4-4.6 3.3-4.3 3.3-4.2 3.3-3.9 3.3-3.7 3.3-3.5 3.2-3.3 3.2-3 3.2-2.8 3.1-2.7 3.1-2.4 3.1-2.2 3.1-2 3-1.8 3-1.6 2.9-1.4 3-1.2 2.8-1 2.9-.8 2.8-.6 2.8-.5 2.7-.2 2.8-.1M103.9 100.8l3.4-5.1 3.4-4.8 3.4-4.6 3.4-4.4 3.3-4.1 3.3-3.9 3.3-3.8 3.2-3.5 3.3-3.2 3.2-3.1 3.1-2.8 3.2-2.7 3.1-2.4 3.1-2.2 3-2 3.1-1.8 2.9-1.6 3-1.4 2.9-1.3 2.9-1 2.8-.8 2.9-.6 2.7-.5 2.8-.2 2.7-.1M105.6 102.2l3.4-5 3.4-4.8 3.4-4.7 3.3-4.3 3.4-4.2 3.3-4 3.3-3.7 3.2-3.5 3.3-3.3 3.2-3.1 3.1-2.8 3.2-2.7 3.1-2.4 3.1-2.2 3-2 3-1.8 3-1.7 3-1.4 2.9-1.2 2.9-1 2.8-.8 2.8-.7 2.8-.4 2.7-.3 2.7-.1M107.2 103.7l3.5-5 3.4-4.9 3.4-4.6 3.3-4.4 3.4-4.2 3.3-4 3.2-3.7 3.3-3.5 3.2-3.3 3.2-3.1 3.2-2.9 3.1-2.6 3.2-2.5 3-2.2 3.1-2 3-1.8 3-1.7 2.9-1.4 2.9-1.2 2.9-1 2.9-.8 2.8-.7 2.7-.4 2.8-.3 2.7-.1M108.9 105.2l3.4-5 3.5-4.9 3.3-4.6 3.4-4.5 3.3-4.1 3.3-4 3.3-3.8 3.3-3.5 3.2-3.3 3.2-3.1 3.2-2.9 3.1-2.6 3.1-2.5 3.1-2.2 3.1-2.1 3-1.8 3-1.6 2.9-1.4 2.9-1.3 2.9-1 2.8-.8 2.8-.7 2.8-.4 2.7-.3 2.7-.1M110.6 106.8l3.4-5.1 3.4-4.9 3.4-4.6 3.4-4.5 3.3-4.2 3.3-4 3.3-3.7 3.3-3.5 3.2-3.4 3.2-3.1 3.2-2.9 3.1-2.6 3.1-2.5 3.1-2.2 3.1-2.1 3-1.8 2.9-1.7 3-1.4 2.9-1.2 2.9-1.1 2.8-.8 2.8-.6 2.8-.5 2.7-.3 2.7-.1M112.3 108.4l3.4-5.2 3.4-4.9 3.4-4.6 3.4-4.5 3.3-4.2 3.3-4 3.3-3.7 3.3-3.6 3.2-3.3 3.2-3.1 3.2-2.9 3.1-2.7 3.1-2.5 3.1-2.2 3.1-2.1 3-1.8 2.9-1.7 3-1.4 2.9-1.2 2.9-1.1 2.8-.8 2.8-.7 2.8-.5 2.7-.2 2.7-.1M114 109.9l3.4-5.1 3.4-4.9 3.4-4.7 3.4-4.4 3.3-4.2 3.4-4 3.2-3.8 3.3-3.6 3.2-3.3 3.2-3.1 3.2-2.9 3.1-2.7 3.1-2.5 3.1-2.3 3.1-2 3-1.9 2.9-1.6 3-1.5 2.9-1.2 2.8-1.1 2.9-.8 2.8-.7 2.7-.5 2.8-.3 2.6-.1M115.7 111.6l3.4-5.2 3.5-4.9 3.3-4.7 3.4-4.4 3.4-4.3 3.3-4 3.3-3.8 3.2-3.6 3.2-3.3 3.2-3.1 3.2-3 3.1-2.7 3.2-2.4 3-2.3 3.1-2.1 3-1.8 2.9-1.7 3-1.5 2.9-1.2 2.8-1.1 2.9-.8 2.8-.7 2.7-.5 2.7-.3 2.7-.1M117.4 113.2l3.5-5.1 3.4-5 3.4-4.7 3.3-4.4 3.4-4.3 3.3-4 3.3-3.8 3.2-3.6 3.3-3.4 3.2-3.1 3.1-2.9 3.2-2.7 3.1-2.5 3-2.3 3.1-2.1 3-1.9 3-1.6 2.9-1.5 2.9-1.3 2.8-1 2.9-.9 2.8-.7 2.7-.5 2.7-.3 2.7-.1M119.1 114.9l3.5-5.2 3.4-4.9 3.4-4.7 3.4-4.5 3.3-4.3 3.3-4 3.3-3.8 3.3-3.6 3.2-3.4 3.2-3.1 3.2-3 3.1-2.7 3.1-2.5 3.1-2.3 3-2.1 3-1.9 3-1.6 2.9-1.5 2.9-1.3 2.9-1 2.8-.9 2.8-.7 2.7-.5 2.7-.3 2.7-.1M120.9 116.6l3.4-5.2 3.4-4.9 3.4-4.7 3.4-4.5 3.3-4.3 3.4-4.1 3.2-3.8 3.3-3.6 3.2-3.4 3.2-3.2 3.2-2.9 3.1-2.7 3.1-2.5 3.1-2.4 3-2 3-1.9 3-1.7 2.9-1.5 2.9-1.3 2.9-1 2.8-.9 2.8-.7 2.7-.5 2.7-.3 2.7-.2M43.8 64.2l2.7 .9 2.8 1 2.7 1.1 2.8 1.2 2.9 1.2 2.8 1.4 2.9 1.5 3 1.5 2.9 1.7 3 1.7 3 1.9 3.1 2 3.1 2 3.1 2.2 3.1 2.3 3.2 2.4 3.2 2.4 3.2 2.7 3.3 2.7 3.3 2.8 3.3 2.9 3.4 3.1 3.4 3.1 3.4 3.3 3.5 3.4M45.5 61.9l2.7 .9 2.7 1 2.8 1 2.8 1.2 2.8 1.3 2.9 1.3 2.9 1.5 2.9 1.5 3 1.7 3 1.7 3 1.9 3.1 1.9 3 2.1 3.2 2.1 3.1 2.3 3.2 2.4 3.2 2.4 3.2 2.6 3.3 2.7 3.3 2.8 3.4 3 3.3 3 3.4 3.2 3.4 3.2 3.5 3.4M47.1 59.6l2.7 .9 2.8 1 2.7 1.1 2.9 1.1 2.8 1.3 2.9 1.3 2.9 1.4 2.9 1.6 3 1.6 3 1.7 3 1.9 3 1.9 3.1 2.1 3.2 2.1 3.1 2.3 3.2 2.3 3.2 2.5 3.3 2.6 3.2 2.6 3.3 2.8 3.4 3 3.3 3 3.4 3.1 3.5 3.3 3.4 3.3M48.7 57.4l2.8 .9 2.7 1 2.8 1 2.8 1.2 2.8 1.2 2.9 1.3 2.9 1.5 3 1.5 2.9 1.6 3 1.7 3.1 1.8 3 2 3.1 2 3.1 2.1 3.2 2.3 3.2 2.3 3.2 2.5 3.2 2.5 3.3 2.7 3.3 2.8 3.4 2.9 3.3 3 3.4 3.1 3.5 3.3 3.4 3.3M50.4 55.3l2.7 .8 2.7 1 2.8 1 2.9 1.2 2.8 1.2 2.9 1.3 2.9 1.4 2.9 1.5 3 1.6 3 1.8 3 1.8 3.1 1.9 3.1 2 3.1 2.1 3.2 2.3 3.2 2.3 3.2 2.4 3.2 2.6 3.3 2.6 3.3 2.8 3.4 2.9 3.3 3 3.4 3.1 3.5 3.2 3.4 3.4M52 53.2l2.7 .8 2.8 1 2.8 1 2.8 1.1 2.8 1.2 2.9 1.3 2.9 1.4 3 1.5 3 1.6 3 1.7 3 1.9 3.1 1.9 3.1 2 3.1 2.1 3.2 2.2 3.2 2.3 3.2 2.4 3.2 2.6 3.3 2.6 3.3 2.8 3.4 2.9 3.3 3 3.4 3.1 3.5 3.2 3.4 3.3M53.6 51.1l2.8 .9 2.7 .9 2.8 1 2.8 1.1 2.9 1.2 2.9 1.3 2.9 1.4 2.9 1.5 3 1.6 3 1.7 3.1 1.8 3 1.9 3.1 2 3.2 2.1 3.1 2.2 3.2 2.3 3.3 2.4 3.2 2.5 3.3 2.7 3.3 2.7 3.4 2.9 3.3 3 3.4 3 3.5 3.2 3.4 3.4M55.2 49.1l2.8 .8 2.7 1 2.8 1 2.9 1.1 2.8 1.2 2.9 1.3 2.9 1.3 3 1.5 3 1.6 3 1.7 3 1.8 3.1 1.9 3.1 1.9 3.1 2.1 3.2 2.2 3.2 2.3 3.2 2.4 3.3 2.5 3.3 2.7 3.3 2.7 3.3 2.9 3.4 2.9 3.4 3.1 3.5 3.2 3.4 3.3M56.9 47.2l2.7 .8 2.8 .9 2.8 1 2.8 1.1 2.9 1.2 2.9 1.2 2.9 1.4 2.9 1.5 3 1.6 3 1.6 3.1 1.8 3.1 1.9 3.1 2 3.1 2 3.2 2.2 3.2 2.3 3.2 2.4 3.3 2.5 3.3 2.6 3.3 2.7 3.3 2.9 3.4 2.9 3.4 3.1 3.4 3.2 3.5 3.3M58.5 45.2l2.7 .9 2.8 .9 2.8 1 2.8 1 2.9 1.2 2.9 1.3 2.9 1.4 3 1.4 3 1.6 3 1.6 3 1.8 3.1 1.9 3.1 1.9 3.2 2.1 3.1 2.2 3.2 2.2 3.3 2.4 3.2 2.5 3.3 2.6 3.3 2.7 3.4 2.9 3.4 2.9 3.4 3.1 3.4 3.1 3.5 3.3M60.1 43.4l2.7 .8 2.8 .9 2.8 1 2.9 1.1 2.8 1.1 2.9 1.3 3 1.3 2.9 1.5 3 1.5 3 1.7 3.1 1.8 3.1 1.8 3.1 2 3.1 2 3.2 2.2 3.2 2.2 3.2 2.4 3.3 2.5 3.3 2.6 3.3 2.7 3.4 2.8 3.3 2.9 3.4 3.1 3.5 3.1 3.4 3.3M61.7 41.6l2.7 .8 2.8 .9 2.8 .9 2.9 1.1 2.9 1.2 2.9 1.2 2.9 1.4 3 1.4 3 1.6 3 1.6 3 1.7 3.1 1.9 3.1 1.9 3.2 2.1 3.1 2.1 3.2 2.3 3.3 2.4 3.2 2.4 3.3 2.6 3.4 2.7 3.3 2.8 3.4 2.9 3.4 3 3.4 3.2 3.5 3.2M63.3 39.8l2.8 .8 2.7 .9 2.9 1 2.8 1 2.9 1.2 2.9 1.2 2.9 1.4 3 1.4 3 1.5 3 1.7 3.1 1.7 3.1 1.8 3.1 2 3.1 2 3.2 2.1 3.2 2.3 3.2 2.3 3.3 2.5 3.3 2.6 3.3 2.7 3.4 2.7 3.3 2.9 3.5 3.1 3.4 3.1 3.5 3.2M64.9 38.1l2.8 .8 2.7 .9 2.9 .9 2.8 1.1 2.9 1.1 2.9 1.3 2.9 1.3 3 1.4 3 1.6 3 1.6 3.1 1.7 3.1 1.8 3.1 2 3.1 2 3.2 2.1 3.2 2.3 3.3 2.3 3.2 2.4 3.3 2.6 3.4 2.7 3.3 2.8 3.4 2.8 3.4 3 3.4 3.2 3.5 3.2M66.5 36.5l2.8 .7 2.7 .9 2.9 1 2.8 1 2.9 1.1 2.9 1.3 3 1.3 2.9 1.4 3 1.5 3.1 1.7 3 1.7 3.1 1.8 3.1 1.9 3.2 2 3.2 2.1 3.2 2.3 3.2 2.3 3.3 2.4 3.3 2.6 3.3 2.6 3.3 2.8 3.4 2.9 3.4 3 3.5 3.1 3.4 3.2M68.1 34.9l2.8 .7 2.7 .9 2.9 .9 2.8 1.1 2.9 1.1 2.9 1.2 3 1.3 2.9 1.5 3 1.5 3.1 1.6 3 1.7 3.1 1.8 3.2 1.9 3.1 2 3.2 2.1 3.2 2.2 3.2 2.4 3.3 2.4 3.3 2.5 3.3 2.7 3.4 2.7 3.4 2.9 3.4 3 3.4 3.1 3.5 3.2M69.7 33.3l2.7 .8 2.8 .8 2.9 1 2.8 1 2.9 1.1 2.9 1.2 3 1.3 2.9 1.4 3.1 1.5 3 1.6 3.1 1.7 3 1.8 3.2 1.9 3.1 2 3.2 2.1 3.2 2.2 3.3 2.4 3.2 2.4 3.3 2.5 3.3 2.6 3.4 2.8 3.4 2.9 3.4 2.9 3.4 3.1 3.5 3.2M71.3 31.8l2.7 .8 2.8 .8 2.9 .9 2.8 1.1 2.9 1.1 2.9 1.2 3 1.3 3 1.4 3 1.5 3 1.6 3.1 1.7 3.1 1.7 3.1 1.9 3.1 2 3.2 2.1 3.2 2.2 3.3 2.3 3.2 2.4 3.3 2.6 3.4 2.6 3.3 2.7 3.4 2.9 3.4 2.9 3.5 3.1 3.4 3.2M72.8 30.4l2.8 .7 2.8 .8 2.8 1 2.9 1 2.9 1.1 2.9 1.2 3 1.3 3 1.4 3 1.5 3 1.5 3.1 1.7 3.1 1.8 3.1 1.9 3.1 2 3.2 2.1 3.2 2.1 3.3 2.3 3.3 2.4 3.3 2.6 3.3 2.6 3.3 2.7 3.4 2.8 3.4 3 3.5 3 3.4 3.2M74.4 28.9l2.8 .8 2.8 .8 2.8 .9 2.9 1.1 2.9 1.1 2.9 1.1 3 1.3 2.9 1.4 3.1 1.5 3 1.6 3.1 1.6 3.1 1.8 3.1 1.9 3.1 2 3.2 2 3.2 2.2 3.3 2.3 3.3 2.4 3.3 2.5 3.3 2.6 3.3 2.7 3.4 2.9 3.4 2.9 3.5 3 3.4 3.2M76 27.6l2.8 .7 2.8 .9 2.8 .9 2.9 1 2.9 1.1 2.9 1.2 2.9 1.2 3 1.4 3 1.5 3.1 1.5 3.1 1.7 3.1 1.8 3.1 1.8 3.1 2 3.2 2.1 3.2 2.2 3.3 2.2 3.3 2.4 3.3 2.5 3.3 2.6 3.3 2.7 3.4 2.8 3.4 3 3.5 3 3.4 3.1M77.5 26.3l2.8 .7 2.8 .8 2.9 .9 2.8 1 2.9 1.1 3 1.2 2.9 1.3 3 1.4 3 1.4 3.1 1.6 3 1.6 3.1 1.8 3.2 1.9 3.1 1.9 3.2 2.1 3.2 2.1 3.3 2.3 3.2 2.4 3.3 2.5 3.4 2.6 3.3 2.7 3.4 2.8 3.4 2.9 3.5 3 3.4 3.1M79.1 25l2.8 .8 2.8 .8 2.8 .9 2.9 1 2.9 1 2.9 1.2 3 1.3 3 1.3 3 1.5 3 1.6 3.1 1.6 3.1 1.8 3.1 1.8 3.2 2 3.2 2 3.2 2.2 3.3 2.2 3.2 2.4 3.3 2.5 3.3 2.6 3.4 2.6 3.4 2.8 3.4 3 3.4 3 3.5 3.1M80.7 23.8l2.7 .7 2.9 .8 2.8 .9 2.9 1 2.9 1.1 2.9 1.2 3 1.2 3 1.4 3 1.4 3 1.6 3.1 1.6 3.1 1.8 3.1 1.8 3.2 2 3.2 2 3.2 2.2 3.2 2.2 3.3 2.4 3.3 2.4 3.3 2.6 3.4 2.7 3.4 2.8 3.4 2.9 3.4 3 3.5 3.1M82.2 22.7l2.8 .7 2.8 .8 2.9 .9 2.8 .9 2.9 1.1 3 1.2 2.9 1.2 3 1.4 3 1.4 3.1 1.6 3.1 1.6 3.1 1.8 3.1 1.8 3.1 1.9 3.2 2.1 3.3 2.1 3.2 2.3 3.3 2.3 3.3 2.5 3.3 2.5 3.3 2.7 3.4 2.8 3.4 2.9 3.5 3 3.4 3.1M83.7 21.5l2.8 .8 2.9 .8 2.8 .8 2.9 1 2.9 1.1 2.9 1.1 3 1.3 3 1.3 3 1.5 3 1.5 3.1 1.6 3.1 1.8 3.2 1.8 3.1 1.9 3.2 2.1 3.2 2.1 3.3 2.2 3.2 2.4 3.3 2.4 3.4 2.6 3.3 2.6 3.4 2.8 3.4 2.9 3.4 3 3.5 3.1M85.3 20.5l2.8 .7 2.8 .8 2.9 .9 2.8 .9 2.9 1.1 3 1.1 2.9 1.3 3 1.3 3 1.5 3.1 1.5 3.1 1.6 3.1 1.7 3.1 1.9 3.2 1.9 3.2 2 3.2 2.1 3.2 2.3 3.3 2.3 3.3 2.4 3.3 2.6 3.4 2.6 3.3 2.8 3.4 2.9 3.5 3 3.4 3.1M86.8 19.5l2.8 .7 2.8 .8 2.9 .8 2.9 1 2.9 1.1 2.9 1.1 3 1.2 3 1.4 3 1.4 3 1.5 3.1 1.7 3.1 1.7 3.2 1.8 3.1 1.9 3.2 2 3.2 2.1 3.3 2.3 3.2 2.3 3.3 2.4 3.3 2.6 3.4 2.6 3.4 2.8 3.4 2.8 3.4 3 3.5 3.1M88.3 18.5l2.8 .7 2.9 .8 2.8 .9 2.9 .9 2.9 1.1 2.9 1.1 3 1.2 3 1.4 3 1.4 3.1 1.5 3.1 1.6 3.1 1.7 3.1 1.9 3.2 1.9 3.1 2 3.3 2.1 3.2 2.2 3.3 2.3 3.3 2.4 3.3 2.6 3.3 2.6 3.4 2.8 3.4 2.8 3.4 3 3.5 3M89.9 17.6l2.8 .7 2.8 .7 2.8 .9 2.9 1 2.9 1 3 1.2 2.9 1.2 3 1.3 3.1 1.4 3 1.5 3.1 1.7 3.1 1.7 3.1 1.8 3.2 1.9 3.2 2 3.2 2.1 3.2 2.2 3.3 2.3 3.3 2.4 3.3 2.5 3.4 2.7 3.3 2.7 3.4 2.9 3.5 2.9 3.4 3.1M91.4 16.7l2.8 .7 2.8 .8 2.9 .8 2.9 1 2.9 1 2.9 1.2 3 1.2 3 1.3 3 1.4 3 1.5 3.1 1.6 3.1 1.7 3.2 1.8 3.1 1.9 3.2 2 3.2 2.1 3.3 2.2 3.2 2.3 3.3 2.5 3.3 2.5 3.4 2.6 3.4 2.7 3.4 2.9 3.4 2.9 3.4 3.1M92.9 15.9l2.8 .7 2.8 .7 2.9 .9 2.9 .9 2.9 1.1 2.9 1.1 3 1.2 3 1.4 3 1.4 3.1 1.5 3 1.6 3.1 1.7 3.2 1.8 3.1 1.8 3.2 2 3.2 2.1 3.3 2.2 3.2 2.3 3.3 2.4 3.3 2.5 3.4 2.7 3.4 2.7 3.4 2.8 3.4 2.9 3.4 3.1M94.4 15.1l2.8 .7 2.8 .7 2.9 .9 2.9 1 2.9 1 2.9 1.1 3 1.2 3 1.3 3 1.4 3.1 1.5 3 1.6 3.2 1.7 3.1 1.8 3.1 1.9 3.2 2 3.2 2.1 3.3 2.2 3.2 2.3 3.3 2.4 3.4 2.5 3.3 2.6 3.4 2.7 3.4 2.8 3.4 2.9 3.4 3.1M95.9 14.3l2.8 .7 2.8 .8 2.9 .9 2.9 .9 2.9 1 2.9 1.2 3 1.2 3 1.3 3 1.4 3.1 1.5 3.1 1.6 3.1 1.7 3.1 1.7 3.1 1.9 3.2 2 3.2 2.1 3.3 2.2 3.2 2.3 3.3 2.3 3.4 2.5 3.3 2.6 3.4 2.7 3.4 2.9 3.4 2.9 3.4 3M97.4 13.7l2.8 .6 2.8 .8 2.9 .9 2.9 .9 2.9 1 2.9 1.2 3 1.2 3 1.3 3 1.4 3.1 1.5 3 1.5 3.2 1.7 3.1 1.8 3.1 1.9 3.2 2 3.2 2 3.3 2.2 3.2 2.3 3.3 2.4 3.3 2.5 3.4 2.5 3.3 2.7 3.4 2.9 3.5 2.9 3.4 3M98.9 13l2.8 .7 2.8 .8 2.9 .8 2.9 1 2.9 1 2.9 1.1 3 1.2 3 1.3 3 1.4 3.1 1.5 3 1.6 3.1 1.6 3.2 1.8 3.1 1.9 3.2 2 3.2 2 3.3 2.2 3.2 2.3 3.3 2.3 3.3 2.5 3.4 2.6 3.3 2.7 3.4 2.8 3.4 2.9 3.5 3M100.4 12.4l2.8 .7 2.8 .8 2.9 .8 2.9 .9 2.9 1.1 2.9 1.1 3 1.2 3 1.3 3 1.4 3 1.5 3.1 1.5 3.1 1.7 3.2 1.8 3.1 1.8 3.2 2 3.2 2.1 3.2 2.1 3.3 2.3 3.3 2.4 3.3 2.5 3.3 2.5 3.4 2.7 3.4 2.8 3.4 2.9 3.4 3M101.8 11.9l2.9 .6 2.8 .8 2.8 .9 2.9 .9 3 1 2.9 1.1 3 1.2 3 1.3 3 1.4 3 1.5 3.1 1.6 3.1 1.6 3.1 1.8 3.2 1.8 3.2 2 3.2 2.1 3.2 2.1 3.3 2.3 3.2 2.4 3.4 2.4 3.3 2.6 3.3 2.7 3.4 2.8 3.4 2.8 3.5 3M103.3 11.4l2.8 .6 2.9 .8 2.8 .8 2.9 1 2.9 1 3 1.1 2.9 1.2 3 1.3 3 1.4 3.1 1.4 3.1 1.6 3.1 1.7 3.1 1.7 3.1 1.9 3.2 2 3.2 2 3.3 2.2 3.2 2.2 3.3 2.4 3.3 2.4 3.3 2.6 3.4 2.7 3.4 2.8 3.4 2.8 3.4 3M104.8 10.9l2.8 .7 2.8 .7 2.9 .9 2.9 .9 2.9 1 2.9 1.1 3 1.2 3 1.3 3 1.4 3.1 1.5 3 1.5 3.1 1.7 3.2 1.7 3.1 1.9 3.2 2 3.2 2 3.2 2.2 3.3 2.2 3.3 2.4 3.3 2.4 3.3 2.6 3.3 2.6 3.4 2.8 3.4 2.9 3.4 3M106.2 10.5l2.8 .7 2.9 .7 2.8 .9 2.9 .9 2.9 1 3 1.1 3 1.2 2.9 1.3 3.1 1.4 3 1.4 3.1 1.6 3.1 1.6 3.1 1.8 3.2 1.9 3.1 1.9 3.2 2 3.3 2.2 3.2 2.2 3.3 2.4 3.3 2.4 3.3 2.6 3.4 2.6 3.3 2.8 3.4 2.9 3.5 3M107.7 10.1l2.8 .7 2.8 .7 2.9 .9 2.9 .9 2.9 1 2.9 1.1 3 1.2 3 1.3 3 1.4 3.1 1.4 3 1.6 3.1 1.7 3.2 1.7 3.1 1.8 3.2 2 3.2 2 3.2 2.2 3.2 2.2 3.3 2.4 3.3 2.4 3.3 2.5 3.4 2.7 3.4 2.8 3.4 2.8 3.4 3M109.1 9.8l2.8 .7 2.9 .7 2.8 .9 2.9 .9 2.9 1 3 1.1 2.9 1.2 3 1.3 3.1 1.3 3 1.5 3.1 1.5 3.1 1.7 3.1 1.7 3.1 1.9 3.2 1.9 3.2 2.1 3.2 2.1 3.3 2.2 3.2 2.4 3.3 2.4 3.4 2.6 3.3 2.6 3.4 2.8 3.4 2.8 3.4 3M110.6 9.5l2.8 .7 2.8 .7 2.9 .9 2.9 .9 2.9 1 2.9 1.1 3 1.2 3 1.3 3 1.3 3 1.5 3.1 1.5 3.1 1.7 3.1 1.7 3.2 1.9 3.1 1.9 3.2 2 3.2 2.2 3.3 2.2 3.3 2.3 3.3 2.5 3.3 2.5 3.3 2.7 3.4 2.7 3.4 2.8 3.4 3M112 9.3l2.8 .6 2.8 .8 2.9 .8 2.9 .9 2.9 1.1 2.9 1.1 3 1.1 3 1.3 3 1.4 3.1 1.4 3 1.6 3.1 1.6 3.1 1.8 3.2 1.8 3.1 1.9 3.2 2.1 3.3 2.1 3.2 2.2 3.3 2.4 3.3 2.4 3.3 2.5 3.3 2.7 3.4 2.7 3.4 2.8 3.4 3M113.4 9.1l2.8 .6 2.9 .8 2.8 .8 2.9 .9 2.9 1.1 3 1.1 2.9 1.1 3 1.3 3 1.4 3.1 1.4 3 1.6 3.1 1.6 3.1 1.8 3.2 1.8 3.2 1.9 3.1 2 3.3 2.2 3.2 2.2 3.3 2.3 3.3 2.4 3.3 2.6 3.3 2.6 3.4 2.7 3.3 2.9 3.5 2.9M114.8 8.9l2.9 .7 2.8 .7 2.8 .9 2.9 .9 2.9 1 3 1.1 2.9 1.2 3 1.3 3 1.3 3.1 1.5 3 1.5 3.1 1.7 3.2 1.7 3.1 1.8 3.2 1.9 3.1 2.1 3.3 2.1 3.2 2.2 3.3 2.3 3.2 2.4 3.3 2.6 3.4 2.6 3.3 2.7 3.4 2.8 3.4 3M116.3 8.8l2.8 .7 2.8 .7 2.9 .9 2.8 .9 3 1 2.9 1.1 2.9 1.2 3 1.2 3 1.4 3.1 1.5 3 1.5 3.1 1.6 3.1 1.8 3.2 1.8 3.1 1.9 3.2 2 3.2 2.1 3.3 2.3 3.2 2.3 3.3 2.4 3.3 2.5 3.3 2.6 3.4 2.7 3.4 2.9 3.4 2.9M117.7 8.7l2.8 .7 2.8 .8 2.9 .8 2.8 .9 3 1 2.9 1.1 2.9 1.2 3 1.3 3 1.3 3.1 1.5 3 1.5 3.1 1.7 3.1 1.7 3.2 1.8 3.1 1.9 3.2 2 3.2 2.2 3.2 2.2 3.3 2.3 3.3 2.4 3.3 2.5 3.3 2.6 3.4 2.7 3.3 2.8 3.4 3M119.1 8.7l2.8 .7 2.8 .7 2.9 .9 2.8 .9 2.9 1 3 1.1 2.9 1.2 3 1.2 3 1.4 3.1 1.4 3 1.6 3.1 1.6 3.1 1.7 3.1 1.9 3.2 1.9 3.2 2 3.2 2.1 3.2 2.2 3.3 2.3 3.2 2.4 3.3 2.5 3.4 2.6 3.3 2.7 3.4 2.9 3.4 2.9M120.4 8.7l2.9 .7 2.8 .7 2.8 .9 2.9 .9 2.9 1 3 1.1 2.9 1.2 3 1.3 3 1.3 3 1.5 3.1 1.5 3.1 1.6 3.1 1.8 3.1 1.8 3.2 1.9 3.1 2 3.2 2.1 3.3 2.2 3.2 2.3 3.3 2.4 3.3 2.5 3.3 2.6 3.3 2.7 3.4 2.8 3.4 2.9" fill="none" stroke="#000" stroke-opacity="1" stroke-width="0.25" stroke-linejoin="round"/>
<g font-size="6.3"><text x="39.7" y="94.6" text-anchor="end">10</text><text x="39.5" y="81.9" text-anchor="end">20</text><text x="39.3" y="69.2" text-anchor="end">30</text><text x="39.1" y="56.5" text-anchor="end">40</text><text x="39.0" y="43.8" text-anchor="end">50</text><text x="38.8" y="31.1" text-anchor="end">60</text><text x="38.6" y="18.4" text-anchor="end">70</text><text x="37.1" y="126.1" text-anchor="middle">2.70</text><text x="55.7" y="134.9" text-anchor="middle">2.23</text><text x="74.3" y="143.7" text-anchor="middle">1.75</text><text x="92.9" y="152.5" text-anchor="middle">1.27</text><text x="111.4" y="161.2" text-anchor="middle">0.80</text><text x="129.7" y="161.3" text-anchor="middle">2.50</text><text x="148.2" y="152.5" text-anchor="middle">4.00</text><text x="166.7" y="143.7" text-anchor="middle">5.50</text><text x="185.3" y="134.9" text-anchor="middle">7.00</text><text x="203.8" y="126.1" text-anchor="middle">8.50</text></g>
<path d="M46.3 120.3l-1.1 1.0M64.9 129.1l-1.1 1.0M83.4 137.8l-1.1 1.0M102.0 146.6l-1.1 1.0M120.6 155.4l-1.1 1.0M120.6 155.4l1.1 1.0M139.1 146.6l1.1 1.0M157.6 137.8l1.1 1.0M176.2 129.0l1.1 1.0M194.7 120.2l1.1 1.0" stroke="#000" stroke-width=".7" fill="none"/>
<g font-size="8.15"><text transform="translate(63.4 155.4) rotate(25.3)" text-anchor="middle">Enzyme (U)</text><text transform="translate(178.6 156.4) rotate(-25.3)" text-anchor="middle">Green bean (%)</text><text transform="translate(24.8 55.0) rotate(-90.0)" text-anchor="middle">Chlorogenic acid (g/kg DW)</text></g>
<text x="0.6" y="6.5" font-size="8.6" font-weight="bold">(A)</text>
</g>
<g id="pB">
<path d="M278.0 120.9L351.3 156.0L424.3 120.6L351.2 93.2z" fill="#ff0" stroke="#222" stroke-width=".5"/>
<path d="M330.0 145.8L331.5 146.1M333.3 146.5L331.5 146.1M334.9 146.9L333.3 146.5M334.9 146.9L335.2 146.9M337.1 147.3L335.2 146.9M339.0 147.6L337.1 147.3M339.4 147.7L339.0 147.6M339.4 147.7L340.9 148.0M342.9 148.3L340.9 148.0M343.5 148.4L342.9 148.3M343.5 148.4L345.0 148.6M347.1 148.9L345.0 148.6M347.4 148.9L347.1 148.9M347.4 148.9L349.2 149.2M351.1 149.4L349.2 149.2M351.1 149.4L351.3 149.4M353.6 149.6L351.3 149.4M354.6 149.7L353.6 149.6M354.6 149.7L355.8 149.9M358.0 150.0L355.8 149.9M358.0 150.0L358.1 150.0M360.5 150.2L358.1 150.0M361.2 150.2L360.5 150.2M361.2 150.2L363.0 150.3" fill="none" stroke="#00ff80" stroke-width=".5" stroke-opacity=".85" stroke-linecap="round"/>
<path d="M288.3 117.9L287.9 117.5M287.9 117.5L287.6 117.3M289.1 118.5L288.3 117.9M289.8 119.1L289.1 118.5M290.6 119.8L289.8 119.1M291.4 120.4L291.1 120.1M291.1 120.1L290.6 119.8M292.3 121.0L291.4 120.4M293.1 121.6L292.3 121.0M294.0 122.2L293.1 121.6M294.9 122.8L294.0 122.2M295.8 123.4L294.9 122.8M296.7 124.0L296.0 123.6M296.0 123.6L295.8 123.4M297.7 124.6L296.7 124.0M298.7 125.2L297.7 124.6M299.7 125.8L298.7 125.2M300.7 126.4L299.7 125.8M301.8 126.9L300.7 126.4M302.9 127.5L301.8 126.9M304.0 128.1L302.9 127.5M305.1 128.6L304.0 128.1M306.3 129.2L305.1 128.6M307.5 129.7L306.3 129.2M308.7 130.3L307.5 129.7M309.9 130.8L308.7 130.3M311.2 131.3L309.9 130.8M312.5 131.8L311.2 131.3M313.8 132.3L312.5 131.8M315.1 132.8L313.8 132.3M316.5 133.3L315.1 132.8M317.9 133.8L316.5 133.3M317.9 133.9L317.9 133.8M317.9 133.9L319.3 134.3M320.7 134.8L319.3 134.3M322.2 135.2L320.7 134.8M323.7 135.7L322.2 135.2M325.3 136.1L323.7 135.7M325.7 136.3L325.3 136.1M325.7 136.3L326.9 136.6M328.5 137.0L326.9 136.6M330.1 137.4L328.5 137.0M331.5 137.8L330.1 137.4M331.5 137.8L331.8 137.8M333.5 138.2L331.8 137.8M335.2 138.6L333.5 138.2M336.5 138.8L335.2 138.6M336.5 138.8L337.0 138.9M338.8 139.3L337.0 138.9M340.7 139.6L338.8 139.3M340.9 139.7L340.7 139.6M340.9 139.7L342.6 140.0M344.5 140.3L342.6 140.0M344.9 140.3L344.5 140.3M344.9 140.3L346.5 140.5M348.6 140.8L346.5 140.5M348.7 140.8L348.6 140.8M348.7 140.8L350.7 141.0M352.2 141.2L350.7 141.0M352.2 141.2L352.8 141.3M355.0 141.5L352.8 141.3M355.5 141.5L355.0 141.5M355.5 141.5L357.3 141.6M358.6 141.7L357.3 141.6M358.6 141.7L359.6 141.8M361.6 141.9L359.6 141.8M361.6 141.9L362.0 141.9M364.5 142.0L362.0 141.9M364.5 142.0L364.5 142.0M364.5 142.0L367.0 142.0M367.2 142.0L367.0 142.0M367.2 142.0L369.7 142.0M369.8 142.0L369.7 142.0M369.8 142.0L372.3 141.9M372.3 141.9L372.5 141.9M374.8 141.8L372.5 141.9M374.8 141.8L375.3 141.8M377.1 141.7L375.3 141.8M377.1 141.7L378.4 141.6M379.4 141.5L378.4 141.6M379.4 141.5L381.6 141.3M381.6 141.3L381.6 141.3" fill="none" stroke="#0eff0d" stroke-width=".5" stroke-opacity=".85" stroke-linecap="round"/>
<path d="M300.6 113.2L299.9 112.6M301.3 113.9L301.2 113.7M301.2 113.7L300.6 113.2M302.1 114.5L301.3 113.9M302.8 115.1L302.1 114.5M303.6 115.7L302.8 115.1M304.5 116.3L304.4 116.3M304.4 116.3L303.6 115.7M305.3 116.9L304.5 116.3M306.2 117.5L305.3 116.9M307.1 118.0L306.2 117.5M308.1 118.6L307.1 118.0M309.0 119.2L308.1 118.6M310.0 119.8L309.0 119.2M311.0 120.3L310.0 119.8M312.1 120.9L311.2 120.4M311.2 120.4L311.0 120.3M313.2 121.4L312.1 120.9M314.3 121.9L313.2 121.4M315.4 122.5L314.3 121.9M316.6 123.0L315.4 122.5M317.8 123.5L316.6 123.0M319.0 124.0L317.8 123.5M320.2 124.5L319.0 124.0M321.0 124.8L320.2 124.5M321.0 124.8L321.5 125.0M322.8 125.5L321.5 125.0M324.2 125.9L322.8 125.5M325.5 126.4L324.2 125.9M326.9 126.8L325.5 126.4M328.4 127.3L326.9 126.8M329.9 127.7L328.4 127.3M330.2 127.8L329.9 127.7M330.2 127.8L331.4 128.1M332.9 128.5L331.4 128.1M334.5 128.9L332.9 128.5M336.0 129.2L334.5 128.9M336.0 129.2L336.1 129.3M337.8 129.6L336.1 129.3M339.5 130.0L337.8 129.6M340.7 130.2L339.5 130.0M340.7 130.2L341.3 130.3M343.1 130.6L341.3 130.3M344.8 130.9L343.1 130.6M344.8 130.9L344.9 130.9M346.8 131.2L344.9 130.9M348.5 131.4L346.8 131.2M348.5 131.4L348.8 131.4M350.8 131.7L348.8 131.4M351.9 131.8L350.8 131.7M351.9 131.8L352.9 131.9M355.0 132.0L352.9 131.9M355.0 132.0L355.1 132.0M357.3 132.2L355.1 132.0M358.0 132.2L357.3 132.2M358.0 132.2L359.6 132.3M360.7 132.3L359.6 132.3M360.7 132.3L362.1 132.3M363.4 132.3L362.1 132.3M363.4 132.3L364.6 132.3M365.9 132.3L364.6 132.3M365.9 132.3L367.3 132.3M368.3 132.2L367.3 132.3M368.3 132.2L370.1 132.1M370.5 132.1L370.1 132.1M370.5 132.1L372.7 132.0M372.7 132.0L373.1 131.9M409.0 115.4L409.2 114.9M374.8 131.8L373.1 131.9M374.8 131.8L376.4 131.6M408.2 116.8L408.4 116.5M408.4 116.5L408.8 115.7M408.8 115.7L409.0 115.4M376.8 131.5L376.4 131.6M376.8 131.5L378.7 131.3M378.7 131.3L380.0 131.1M407.1 118.5L407.5 117.9M407.5 117.9L408.0 117.2M408.0 117.2L408.2 116.8M380.6 131.0L380.0 131.1M380.6 131.0L382.4 130.6M382.4 130.6L384.1 130.3M384.1 130.3L384.2 130.3M405.4 120.4L405.7 120.1M405.7 120.1L406.4 119.4M406.4 119.4L406.9 118.7M406.9 118.7L407.1 118.5M385.7 129.9L384.2 130.3M385.7 129.9L387.3 129.5M387.3 129.5L388.8 129.1M388.8 129.1L389.9 128.8M402.3 123.0L402.7 122.7M402.7 122.7L403.5 122.0M403.5 122.0L404.3 121.4M404.3 121.4L405.0 120.7M405.0 120.7L405.4 120.4M390.3 128.7L389.9 128.8M390.3 128.7L391.7 128.2M391.7 128.2L393.0 127.7M393.0 127.7L394.3 127.2M394.3 127.2L395.5 126.7M395.5 126.7L396.7 126.2M396.7 126.2L397.8 125.6M397.8 125.6L398.9 125.1M398.9 125.1L399.9 124.5M399.9 124.5L400.9 123.9M400.9 123.9L401.8 123.3M401.8 123.3L402.3 123.0" fill="none" stroke="#baff00" stroke-width=".5" stroke-opacity=".85" stroke-linecap="round"/>
<path d="M316.8 107.1L316.2 106.4M317.5 107.7L317.1 107.4M317.1 107.4L316.8 107.1M318.2 108.3L317.5 107.7M318.9 108.9L318.2 108.3M319.7 109.5L319.6 109.4M319.6 109.4L318.9 108.9M320.5 110.1L319.7 109.5M321.4 110.7L320.5 110.1M322.3 111.2L321.4 110.7M323.2 111.8L322.3 111.2M324.2 112.3L323.2 111.8M325.2 112.8L324.8 112.7M324.8 112.7L324.2 112.3M326.2 113.3L325.2 112.8M327.3 113.9L326.2 113.3M328.4 114.3L327.3 113.9M329.6 114.8L328.4 114.3M330.8 115.3L329.6 114.8M332.0 115.8L330.8 115.3M332.5 115.9L332.0 115.8M332.5 115.9L333.3 116.2M334.7 116.6L333.3 116.2M336.0 117.0L334.7 116.6M337.5 117.4L336.0 117.0M338.9 117.8L337.5 117.4M339.9 118.1L338.9 117.8M339.9 118.1L340.5 118.2M342.0 118.5L340.5 118.2M343.7 118.8L342.0 118.5M344.6 119.0L343.7 118.8M344.6 119.0L345.4 119.1M347.2 119.4L345.4 119.1M348.3 119.5L347.2 119.4M348.3 119.5L349.0 119.6M351.0 119.8L349.0 119.6M351.5 119.9L351.0 119.8M351.5 119.9L353.0 120.0M354.4 120.1L353.0 120.0M354.4 120.1L355.2 120.1M357.1 120.1L355.2 120.1M357.1 120.1L357.5 120.1M359.5 120.1L357.5 120.1M359.5 120.1L359.9 120.1M388.0 108.1L388.0 107.9M388.0 107.9L388.2 107.1M361.8 120.1L359.9 120.1M361.8 120.1L362.6 120.0M387.5 109.2L387.8 108.7M387.8 108.7L388.0 108.1M363.9 119.9L362.6 120.0M363.9 119.9L365.6 119.8M386.8 110.6L387.1 110.2M387.1 110.2L387.5 109.4M387.5 109.4L387.5 109.2M365.9 119.7L365.6 119.8M365.9 119.7L367.7 119.5M367.7 119.5L369.1 119.3M385.6 112.1L386.0 111.6M386.0 111.6L386.6 110.9M386.6 110.9L386.8 110.6M369.5 119.2L369.1 119.3M369.5 119.2L371.1 118.9M371.1 118.9L372.7 118.6M372.7 118.6L373.9 118.3M383.1 114.2L383.2 114.2M383.2 114.2L384.0 113.5M384.0 113.5L384.8 112.9M384.8 112.9L385.4 112.3M385.4 112.3L385.6 112.1M374.2 118.2L373.9 118.3M374.2 118.2L375.6 117.8M375.6 117.8L376.9 117.3M376.9 117.3L378.1 116.9M378.1 116.9L379.3 116.4M379.3 116.4L380.4 115.8M380.4 115.8L381.4 115.3M381.4 115.3L382.3 114.7M382.3 114.7L383.1 114.2" fill="none" stroke="#ffba00" stroke-width=".5" stroke-opacity=".85" stroke-linecap="round"/>
<path d="M278.0 120.9L273.3 20.6L351.4 3.0L429.5 20.5L424.3 120.6M351.4 3.0L351.2 93.2" fill="none" stroke="#555" stroke-width=".7"/>
<g fill="currentColor" stroke="currentColor" stroke-width=".5" stroke-linejoin="round"><path d="M348.6 8.2l2.8 .3 2.7-.1-2.7-.4z" color="#d43300"/><path d="M345.8 8.5l2.8 .3 2.8-.3-2.8-.3z" color="#cf2c00"/><path d="M351.4 8.5l2.8 .6 2.7-.1-2.8-.6z" color="#d23000"/><path d="M343 9l2.8 .3 2.8-.5-2.8-.3z" color="#cb2800"/><path d="M354.2 9.1l2.8 .6 2.7 0-2.8-.7z" color="#d12f00"/><path d="M348.6 8.8l2.8 .5 2.8-.2-2.8-.6z" color="#cc2900"/><path d="M345.8 9.3l2.8 .5 2.8-.5-2.8-.5z" color="#c82400"/><path d="M340.1 9.7l2.8 .3 2.9-.7-2.8-.3z" color="#ca2700"/><path d="M351.4 9.3l2.8 .6 2.8-.2-2.8-.6z" color="#cb2700"/><path d="M357 9.7l2.8 .8 2.8 0-2.9-.8z" color="#d23000"/><path d="M337.3 10.5l2.7 .3 2.9-.8-2.8-.3z" color="#cc2800"/><path d="M342.9 10l2.8 .4 2.9-.6-2.8-.5z" color="#c72200"/><path d="M348.6 9.8l2.8 .6 2.8-.5-2.8-.6z" color="#c72200"/><path d="M359.8 10.5l2.9 .9 2.8 0-2.9-.9z" color="#d53300"/><path d="M354.2 9.9l2.8 .8 2.8-.2-2.8-.8z" color="#cb2800"/><path d="M334.4 11.6l2.7 .3 2.9-1.1-2.7-.3z" color="#cf2d00"/><path d="M340 10.8l2.8 .4 2.9-.8-2.8-.4z" color="#c82400"/><path d="M345.7 10.4l2.8 .6 2.9-.6-2.8-.6z" color="#c52000"/><path d="M351.4 10.4l2.8 .7 2.8-.4-2.8-.8z" color="#c72200"/><path d="M357 10.7l2.9 .9 2.8-.2-2.9-.9z" color="#cd2a00"/><path d="M362.7 11.4l2.9 1 2.8 .1-2.9-1.1z" color="#d93800"/><path d="M342.8 11.2l2.9 .6 2.8-.8-2.8-.6z" color="#c52100"/><path d="M331.5 12.9l2.7 .3 2.9-1.3-2.7-.3z" color="#d63500"/><path d="M337.1 11.9l2.8 .4 2.9-1.1-2.8-.4z" color="#cb2800"/><path d="M348.5 11l2.9 .7 2.8-.6-2.8-.7z" color="#c42000"/><path d="M354.2 11.1l2.9 .8 2.8-.3-2.9-.9z" color="#c82400"/><path d="M359.9 11.6l2.9 1 2.8-.2-2.9-1z" color="#d12f00"/><path d="M365.6 12.4l2.9 1.2 2.8 .1-2.9-1.2z" color="#de3f00"/><path d="M339.9 12.3l2.9 .5 2.9-1-2.9-.6z" color="#c82500"/><path d="M345.7 11.8l2.8 .7 2.9-.8-2.9-.7z" color="#c52000"/><path d="M357.1 11.9l2.9 1 2.8-.3-2.9-1z" color="#cb2800"/><path d="M328.5 14.4l2.8 .2 2.9-1.4-2.7-.3z" color="#de3f00"/><path d="M334.2 13.2l2.8 .3 2.9-1.2-2.8-.4z" color="#d12f00"/><path d="M351.4 11.7l2.9 .8 2.8-.6-2.9-.8z" color="#c62100"/><path d="M362.8 12.6l2.9 1.1 2.8-.1-2.9-1.2z" color="#d63500"/><path d="M368.5 13.6l3 1.3 2.7 .1-2.9-1.3z" color="#e64c00"/><path d="M348.5 12.5l2.9 .8 2.9-.8-2.9-.8z" color="#c52100"/><path d="M325.6 16.1l2.7 .2 3-1.7-2.8-.2z" color="#ea5400"/><path d="M337 13.5l2.8 .5 3-1.2-2.9-.5z" color="#ce2b00"/><path d="M342.8 12.8l2.8 .7 2.9-1-2.8-.7z" color="#c72300"/><path d="M354.3 12.5l2.9 1 2.8-.6-2.9-1z" color="#c82500"/><path d="M360 12.9l2.9 1.2 2.8-.4-2.9-1.1z" color="#d02e00"/><path d="M371.5 14.9l2.9 1.5 2.8 .1-3-1.5z" color="#ee5e00"/><path d="M331.3 14.6l2.8 .4 2.9-1.5-2.8-.3z" color="#d93900"/><path d="M365.7 13.7l3 1.3 2.8-.1-3-1.3z" color="#dd3d00"/><path d="M328.3 16.3l2.8 .3 3-1.6-2.8-.4z" color="#e44900"/><path d="M345.6 13.5l2.9 .7 2.9-.9-2.9-.8z" color="#c82400"/><path d="M351.4 13.3l2.9 .9 2.9-.7-2.9-1z" color="#c82400"/><path d="M322.6 18l2.7 .2 3-1.9-2.7-.2z" color="#f76f00"/><path d="M334.1 15l2.8 .4 2.9-1.4-2.8-.5z" color="#d63400"/><path d="M339.8 14l2.9 .6 2.9-1.1-2.8-.7z" color="#cc2900"/><path d="M357.2 13.5l2.9 1.1 2.8-.5-2.9-1.2z" color="#cd2a00"/><path d="M362.9 14.1l3 1.2 2.8-.3-3-1.3z" color="#d73600"/><path d="M368.7 15l3 1.4 2.7 0-2.9-1.5z" color="#e54c00"/><path d="M374.4 16.4l3 1.5 2.8 .2-3-1.6z" color="#f97200"/><path d="M319.6 20.1l2.7 .1 3-2-2.7-.2z" color="#ff8600"/><path d="M325.3 18.2l2.8 .2 3-1.8-2.8-.3z" color="#f16300"/><path d="M331.1 16.6l2.8 .4 3-1.6-2.8-.4z" color="#e04100"/><path d="M342.7 14.6l2.9 .8 2.9-1.2-2.9-.7z" color="#cc2900"/><path d="M348.5 14.2l2.9 .9 2.9-.9-2.9-.9z" color="#ca2600"/><path d="M354.3 14.2l2.9 1.1 2.9-.7-2.9-1.1z" color="#cc2900"/><path d="M365.9 15.3l3 1.4 2.8-.3-3-1.4z" color="#df3f00"/><path d="M336.9 15.4l2.8 .6 3-1.4-2.9-.6z" color="#d43200"/><path d="M360.1 14.6l3 1.2 2.8-.5-3-1.2z" color="#d33100"/><path d="M371.7 16.4l3 1.6 2.7-.1-3-1.5z" color="#ef6000"/><path d="M377.4 17.9l3.1 1.8 2.7 .1-3-1.7z" color="#ff8400"/><path d="M316.5 22.4l2.8 .1 3-2.3-2.7-.1z" color="#ff9c00"/><path d="M322.3 20.2l2.8 .3 3-2.1-2.8-.2z" color="#ff7f00"/><path d="M328.1 18.4l2.8 .5 3-1.9-2.8-.4z" color="#ed5b00"/><path d="M333.9 17l2.9 .6 2.9-1.6-2.8-.6z" color="#de3e00"/><path d="M339.7 16l2.9 .8 3-1.4-2.9-.8z" color="#d33200"/><path d="M345.6 15.4l2.9 .9 2.9-1.2-2.9-.9z" color="#ce2b00"/><path d="M351.4 15.1l2.9 1.1 2.9-.9-2.9-1.1z" color="#cd2a00"/><path d="M357.2 15.3l3 1.2 2.9-.7-3-1.2z" color="#d12f00"/><path d="M363.1 15.8l2.9 1.4 2.9-.5-3-1.4z" color="#da3a00"/><path d="M368.9 16.7l3 1.5 2.8-.2-3-1.6z" color="#e85200"/><path d="M380.5 19.7l3 1.8 2.7 .2-3-1.9z" color="#ff9400"/><path d="M374.7 18l3 1.7 2.8 0-3.1-1.8z" color="#fb7600"/><path d="M325.1 20.5l2.8 .4 3-2-2.8-.5z" color="#fc7700"/><path d="M360.2 16.5l3 1.3 2.8-.6-2.9-1.4z" color="#d93800"/><path d="M319.3 22.5l2.7 .3 3.1-2.3-2.8-.3z" color="#ff9400"/><path d="M336.8 17.6l2.8 .7 3-1.5-2.9-.8z" color="#dd3d00"/><path d="M313.5 24.9l2.7 .1 3.1-2.5-2.8-.1z" color="#ffb300"/><path d="M330.9 18.9l2.9 .5 3-1.8-2.9-.6z" color="#ea5500"/><path d="M342.6 16.8l2.9 .8 3-1.3-2.9-.9z" color="#d53300"/><path d="M348.5 16.3l2.9 1 2.9-1.1-2.9-1.1z" color="#d12f00"/><path d="M354.3 16.2l3 1.2 2.9-.9-3-1.2z" color="#d23100"/><path d="M366 17.2l3 1.5 2.9-.5-3-1.5z" color="#e44800"/><path d="M371.9 18.2l3 1.7 2.8-.2-3-1.7z" color="#f36800"/><path d="M377.7 19.7l3 1.8 2.8 0-3-1.8z" color="#f80"/><path d="M383.5 21.5l3.1 2 2.7 .2-3.1-2z" color="#ffa500"/><path d="M322 22.8l2.8 .4 3.1-2.3-2.8-.4z" color="#ff8e00"/><path d="M327.9 20.9l2.8 .6 3.1-2.1-2.9-.5z" color="#f97200"/><path d="M339.6 18.3l2.9 .9 3-1.6-2.9-.8z" color="#de3e00"/><path d="M357.3 17.4l3 1.3 2.9-.9-3-1.3z" color="#d93900"/><path d="M363.2 17.8l3 1.5 2.8-.6-3-1.5z" color="#e14400"/><path d="M374.9 19.9l3.1 1.8 2.7-.2-3-1.8z" color="#ff7e00"/><path d="M316.2 25l2.8 .3 3-2.5-2.7-.3z" color="#ffac00"/><path d="M333.8 19.4l2.8 .7 3-1.8-2.8-.7z" color="#e95300"/><path d="M310.4 27.6l2.7 .1 3.1-2.7-2.7-.1z" color="#ffc800"/><path d="M345.5 17.6l2.9 1 3-1.3-2.9-1z" color="#d73600"/><path d="M351.4 17.3l3 1.2 2.9-1.1-3-1.2z" color="#d63500"/><path d="M369 18.7l3.1 1.6 2.8-.4-3-1.7z" color="#ee5e00"/><path d="M380.7 21.5l3.1 2 2.8 0-3.1-2z" color="#f90"/><path d="M386.6 23.5l3 2.2 2.8 .2-3.1-2.2z" color="#ffb600"/><path d="M330.7 21.5l2.9 .6 3-2-2.8-.7z" color="#f76f00"/><path d="M307.3 30.6l2.7 .1 3.1-3-2.7-.1z" color="#fd0"/><path d="M319 25.3l2.8 .3 3-2.4-2.8-.4z" color="#ffa600"/><path d="M324.8 23.2l2.9 .5 3-2.2-2.8-.6z" color="#ff8a00"/><path d="M336.6 20.1l2.9 .9 3-1.8-2.9-.9z" color="#e95400"/><path d="M342.5 19.2l3 1 2.9-1.6-2.9-1z" color="#e04100"/><path d="M354.4 18.5l2.9 1.3 3-1.1-3-1.3z" color="#dc3c00"/><path d="M360.3 18.7l3 1.5 2.9-.9-3-1.5z" color="#e24400"/><path d="M366.2 19.3l3 1.7 2.9-.7-3.1-1.6z" color="#ec5900"/><path d="M372.1 20.3l3 1.8 2.9-.4-3.1-1.8z" color="#fb7500"/><path d="M378 21.7l3 2 2.8-.2-3.1-2z" color="#ff8f00"/><path d="M313.1 27.7l2.8 .3 3.1-2.7-2.8-.3z" color="#ffc100"/><path d="M348.4 18.6l3 1.2 3-1.3-3-1.2z" color="#dc3c00"/><path d="M383.8 23.5l3.1 2.2 2.7 0-3-2.2z" color="#ffac00"/><path d="M389.6 25.7l3.2 2.3 2.7 .2-3.1-2.3z" color="#ffc700"/><path d="M333.6 22.1l2.9 .8 3-1.9-2.9-.9z" color="#f76f00"/><path d="M369.2 21l3.1 1.7 2.8-.6-3-1.8z" color="#f87000"/><path d="M310 30.7l2.8 .2 3.1-2.9-2.8-.3z" color="#ffd700"/><path d="M327.7 23.7l2.8 .6 3.1-2.2-2.9-.6z" color="#ff8700"/><path d="M304.2 33.7l2.7 .1 3.1-3.1-2.7-.1z" color="#ffed00"/><path d="M315.9 28l2.8 .3 3.1-2.7-2.8-.3z" color="#fb0"/><path d="M321.8 25.6l2.8 .5 3.1-2.4-2.9-.5z" color="#ffa100"/><path d="M339.5 21l3 .9 3-1.7-3-1z" color="#eb5800"/><path d="M345.5 20.2l2.9 1.1 3-1.5-3-1.2z" color="#e44900"/><path d="M351.4 19.8l3 1.3 2.9-1.3-2.9-1.3z" color="#e24500"/><path d="M357.3 19.8l3.1 1.4 2.9-1-3-1.5z" color="#e44a00"/><path d="M363.3 20.2l3 1.6 2.9-.8-3-1.7z" color="#eb5800"/><path d="M375.1 22.1l3.1 2 2.8-.4-3-2z" color="#f80"/><path d="M381 23.7l3.1 2.1 2.8-.1-3.1-2.2z" color="#ffa200"/><path d="M392.8 28l3.1 2.4 2.7 .3-3.1-2.5z" color="#ffd800"/><path d="M386.9 25.7l3.1 2.2 2.8 .1-3.2-2.3z" color="#ffbc00"/><path d="M312.8 30.9l2.8 .3 3.1-2.9-2.8-.3z" color="#ffd200"/><path d="M330.5 24.3l2.9 .8 3.1-2.2-2.9-.8z" color="#ff8700"/><path d="M336.5 22.9l2.9 1 3.1-2-3-.9z" color="#f97200"/><path d="M348.4 21.3l3 1.3 3-1.5-3-1.3z" color="#ea5400"/><path d="M366.3 21.8l3.1 1.8 2.9-.9-3.1-1.7z" color="#f76f00"/><path d="M372.3 22.7l3.1 2 2.8-.6-3.1-2z" color="#ff8400"/><path d="M306.9 33.8l2.8 .2 3.1-3.1-2.8-.2z" color="#ffe900"/><path d="M324.6 26.1l2.9 .7 3-2.5-2.8-.6z" color="#ff9e00"/><path d="M301.1 37.1l2.7 .1 3.1-3.4-2.7-.1z" color="#fdff00"/><path d="M318.7 28.3l2.8 .5 3.1-2.7-2.8-.5z" color="#ffb800"/><path d="M342.5 21.9l2.9 1.1 3-1.7-2.9-1.1z" color="#ef5f00"/><path d="M354.4 21.1l3 1.4 3-1.3-3.1-1.4z" color="#e95400"/><path d="M360.4 21.2l3 1.6 2.9-1-3-1.6z" color="#ee5d00"/><path d="M378.2 24.1l3.1 2.1 2.8-.4-3.1-2.1z" color="#ff9b00"/><path d="M384.1 25.8l3.1 2.3 2.8-.2-3.1-2.2z" color="#ffb400"/><path d="M390 27.9l3.2 2.4 2.7 .1-3.1-2.4z" color="#ffce00"/><path d="M395.9 30.4l3.1 2.6 2.7 .3-3.1-2.6z" color="#ffe600"/><path d="M298 40.7l2.7 0 3.1-3.5-2.7-.1z" color="#d9ff00"/><path d="M309.7 34l2.8 .3 3.1-3.1-2.8-.3z" color="#ffe500"/><path d="M315.6 31.2l2.8 .5 3.1-2.9-2.8-.5z" color="#ffcd00"/><path d="M327.5 26.8l2.9 .7 3-2.4-2.9-.8z" color="#ff9d00"/><path d="M333.4 25.1l3 1 3-2.2-2.9-1z" color="#f80"/><path d="M339.4 23.9l3 1.1 3-2-2.9-1.1z" color="#fc7700"/><path d="M345.4 23l3 1.3 3-1.7-3-1.3z" color="#f46900"/><path d="M351.4 22.6l3 1.4 3-1.5-3-1.4z" color="#f16200"/><path d="M363.4 22.8l3.1 1.8 2.9-1-3.1-1.8z" color="#f97200"/><path d="M369.4 23.6l3.1 1.9 2.9-.8-3.1-2z" color="#ff8300"/><path d="M375.4 24.7l3.1 2 2.8-.5-3.1-2.1z" color="#ff9600"/><path d="M387.2 28.1l3.2 2.4 2.8-.2-3.2-2.4z" color="#ffc500"/><path d="M399 33l3.2 2.7 2.7 .3-3.2-2.7z" color="#fff300"/><path d="M303.8 37.2l2.7 .1 3.2-3.3-2.8-.2z" color="#fffa00"/><path d="M321.5 28.8l2.9 .6 3.1-2.6-2.9-.7z" color="#ffb500"/><path d="M357.4 22.5l3.1 1.6 2.9-1.3-3-1.6z" color="#f26600"/><path d="M381.3 26.2l3.1 2.2 2.8-.3-3.1-2.3z" color="#ffae00"/><path d="M393.2 30.3l3.1 2.6 2.7 .1-3.1-2.6z" color="#ffdf00"/><path d="M342.4 25l3 1.2 3-1.9-3-1.3z" color="#ff7f00"/><path d="M300.7 40.7l2.7 .2 3.1-3.6-2.7-.1z" color="#e3ff00"/><path d="M318.4 31.7l2.8 .6 3.2-2.9-2.9-.6z" color="#ffca00"/><path d="M294.8 44.5l2.7 0 3.2-3.8-2.7 0z" color="#acff00"/><path d="M312.5 34.3l2.8 .5 3.1-3.1-2.8-.5z" color="#ffe200"/><path d="M330.4 27.5l2.9 1 3.1-2.4-3-1z" color="#ff9e00"/><path d="M336.4 26.1l2.9 1 3.1-2.1-3-1.1z" color="#ff8c00"/><path d="M348.4 24.3l3 1.4 3-1.7-3-1.4z" color="#fb7500"/><path d="M354.4 24l3.1 1.5 3-1.4-3.1-1.6z" color="#f97300"/><path d="M360.5 24.1l3 1.7 3-1.2-3.1-1.8z" color="#fd7900"/><path d="M366.5 24.6l3.1 1.9 2.9-1-3.1-1.9z" color="#ff8500"/><path d="M372.5 25.5l3.1 2 2.9-.8-3.1-2z" color="#ff9400"/><path d="M378.5 26.7l3.1 2.3 2.8-.6-3.1-2.2z" color="#fa0"/><path d="M384.4 28.4l3.2 2.4 2.8-.3-3.2-2.4z" color="#ffbf00"/><path d="M390.4 30.5l3.2 2.5 2.7-.1-3.1-2.6z" color="#ffd800"/><path d="M396.3 32.9l3.2 2.7 2.7 .1-3.2-2.7z" color="#ffec00"/><path d="M402.2 35.7l3.2 2.9 2.6 .3-3.1-2.9z" color="#f9ff00"/><path d="M306.5 37.3l2.8 .4 3.2-3.4-2.8-.3z" color="#fff600"/><path d="M324.4 29.4l2.9 .8 3.1-2.7-2.9-.7z" color="#ffb400"/><path d="M339.3 27.1l3 1.2 3.1-2.1-3-1.2z" color="#ff9100"/><path d="M345.4 26.2l3 1.4 3-1.9-3-1.4z" color="#ff8600"/><path d="M357.5 25.5l3 1.7 3-1.4-3-1.7z" color="#ff8200"/><path d="M381.6 29l3.2 2.3 2.8-.5-3.2-2.4z" color="#fb0"/><path d="M393.6 33l3.1 2.7 2.8-.1-3.2-2.7z" color="#ffe600"/><path d="M303.4 40.9l2.7 .3 3.2-3.5-2.8-.4z" color="#ecff00"/><path d="M321.2 32.3l2.9 .7 3.2-2.8-2.9-.8z" color="#ffc900"/><path d="M291.7 48.5l2.6 .1 3.2-4.1-2.7 0z" color="#70ff00"/><path d="M297.5 44.5l2.7 .2 3.2-3.8-2.7-.2z" color="#bcff00"/><path d="M315.3 34.8l2.8 .6 3.1-3.1-2.8-.6z" color="#ffe000"/><path d="M309.3 37.7l2.8 .4 3.2-3.3-2.8-.5z" color="#fff300"/><path d="M327.3 30.2l2.9 .9 3.1-2.6-2.9-1z" color="#ffb400"/><path d="M333.3 28.5l2.9 1 3.1-2.4-2.9-1z" color="#ffa100"/><path d="M351.4 25.7l3.1 1.5 3-1.7-3.1-1.5z" color="#ff8100"/><path d="M363.5 25.8l3.1 1.9 3-1.2-3.1-1.9z" color="#ff8900"/><path d="M369.6 26.5l3.1 2 2.9-1-3.1-2z" color="#ff9600"/><path d="M375.6 27.5l3.1 2.2 2.9-.7-3.1-2.3z" color="#ffa700"/><path d="M387.6 30.8l3.2 2.5 2.8-.3-3.2-2.5z" color="#ffd100"/><path d="M399.5 35.6l3.2 2.9 2.7 .1-3.2-2.9z" color="#fffa00"/><path d="M405.4 38.6l3.2 3.1 2.6 .3-3.2-3.1z" color="#df0"/><path d="M306.1 41.2l2.8 .4 3.2-3.5-2.8-.4z" color="#f2ff00"/><path d="M324.1 33l2.9 .9 3.2-2.8-2.9-.9z" color="#ffc900"/><path d="M336.2 29.5l3 1.2 3.1-2.4-3-1.2z" color="#ffa500"/><path d="M342.3 28.3l3 1.4 3.1-2.1-3-1.4z" color="#ff9800"/><path d="M348.4 27.6l3 1.5 3.1-1.9-3.1-1.5z" color="#ff9000"/><path d="M354.5 27.2l3 1.7 3-1.7-3-1.7z" color="#ff8d00"/><path d="M360.5 27.2l3.1 1.9 3-1.4-3.1-1.9z" color="#ff9100"/><path d="M378.7 29.7l3.2 2.3 2.9-.7-3.2-2.3z" color="#ffb900"/><path d="M384.8 31.3l3.1 2.5 2.9-.5-3.2-2.5z" color="#fc0"/><path d="M390.8 33.3l3.2 2.7 2.7-.3-3.1-2.7z" color="#ffe100"/><path d="M396.7 35.7l3.2 2.9 2.8-.1-3.2-2.9z" color="#fff300"/><path d="M288.5 52.8l2.6 0 3.2-4.2-2.6-.1z" color="#42ff00"/><path d="M294.3 48.6l2.7 .1 3.2-4-2.7-.2z" color="#80ff00"/><path d="M300.2 44.7l2.8 .3 3.1-3.8-2.7-.3z" color="#c6ff00"/><path d="M318.1 35.4l2.9 .7 3.1-3.1-2.9-.7z" color="#ffde00"/><path d="M312.1 38.1l2.8 .6 3.2-3.3-2.8-.6z" color="#fff000"/><path d="M330.2 31.1l2.9 1 3.1-2.6-2.9-1z" color="#ffb600"/><path d="M366.6 27.7l3.1 2 3-1.2-3.1-2z" color="#ff9a00"/><path d="M372.7 28.5l3.1 2.2 2.9-1-3.1-2.2z" color="#ffa800"/><path d="M402.7 38.5l3.2 3 2.7 .2-3.2-3.1z" color="#ebff00"/><path d="M408.6 41.7l3.2 3.1 2.7 .4-3.3-3.2z" color="#bdff00"/><path d="M351.4 29.1l3.1 1.7 3-1.9-3-1.7z" color="#ff9b00"/><path d="M387.9 33.8l3.2 2.7 2.9-.5-3.2-2.7z" color="#ffde00"/><path d="M308.9 41.6l2.9 .6 3.1-3.5-2.8-.6z" color="#f7ff00"/><path d="M285.3 57.3l2.7 0 3.1-4.5-2.6 0z" color="#15ff00"/><path d="M291.1 52.8l2.7 .1 3.2-4.2-2.7-.1z" color="#4dff00"/><path d="M297 48.7l2.8 .3 3.2-4-2.8-.3z" color="#8dff00"/><path d="M303 45l2.8 .4 3.1-3.8-2.8-.4z" color="#cdff00"/><path d="M321 36.1l2.9 .9 3.1-3.1-2.9-.9z" color="#ffde00"/><path d="M327 33.9l3 1 3.1-2.8-2.9-1z" color="#ffca00"/><path d="M333.1 32.1l3 1.2 3.1-2.6-3-1.2z" color="#ffb900"/><path d="M339.2 30.7l3 1.3 3.1-2.3-3-1.4z" color="#ffac00"/><path d="M345.3 29.7l3 1.5 3.1-2.1-3-1.5z" color="#ffa100"/><path d="M357.5 28.9l3.1 1.8 3-1.6-3.1-1.9z" color="#ff9b00"/><path d="M363.6 29.1l3.2 2 2.9-1.4-3.1-2z" color="#ffa000"/><path d="M375.8 30.7l3.2 2.3 2.9-1-3.2-2.3z" color="#ffb900"/><path d="M381.9 32l3.2 2.5 2.8-.7-3.1-2.5z" color="#ffca00"/><path d="M394 36l3.2 2.8 2.7-.2-3.2-2.9z" color="#ffef00"/><path d="M399.9 38.6l3.3 3 2.7-.1-3.2-3z" color="#f7ff00"/><path d="M411.8 44.8l3.3 3.4 2.6 .3-3.2-3.3z" color="#8eff00"/><path d="M314.9 38.7l2.9 .7 3.2-3.3-2.9-.7z" color="#ffef00"/><path d="M369.7 29.7l3.2 2.1 2.9-1.1-3.1-2.2z" color="#ffac00"/><path d="M405.9 41.5l3.2 3.2 2.7 .1-3.2-3.1z" color="#ceff00"/><path d="M330 34.9l3 1.2 3.1-2.8-3-1.2z" color="#ffcd00"/><path d="M348.3 31.2l3.1 1.6 3.1-2-3.1-1.7z" color="#ffab00"/><path d="M354.5 30.8l3.1 1.8 3-1.9-3.1-1.8z" color="#ffa800"/><path d="M385.1 34.5l3.2 2.7 2.8-.7-3.2-2.7z" color="#ffdc00"/><path d="M391.1 36.5l3.3 2.8 2.8-.5-3.2-2.8z" color="#ffeb00"/><path d="M311.8 42.2l2.8 .7 3.2-3.5-2.9-.7z" color="#faff00"/><path d="M288 57.3l2.6 .1 3.2-4.5-2.7-.1z" color="#21ff00"/><path d="M305.8 45.4l2.8 .6 3.2-3.8-2.9-.6z" color="#d3ff00"/><path d="M282.1 61.9l2.6 0 3.3-4.6-2.7 0z" color="#0aff13"/><path d="M293.8 52.9l2.8 .3 3.2-4.2-2.8-.3z" color="#56ff00"/><path d="M299.8 49l2.8 .4 3.2-4-2.8-.4z" color="#98ff00"/><path d="M317.8 39.4l2.9 .8 3.2-3.2-2.9-.9z" color="#fe0"/><path d="M323.9 37l2.9 1 3.2-3.1-3-1z" color="#ffdf00"/><path d="M336.1 33.3l3 1.3 3.1-2.6-3-1.3z" color="#ffbe00"/><path d="M342.2 32l3.1 1.5 3-2.3-3-1.5z" color="#ffb200"/><path d="M360.6 30.7l3.1 2 3.1-1.6-3.2-2z" color="#fa0"/><path d="M366.8 31.1l3.1 2.1 3-1.4-3.2-2.1z" color="#ffb100"/><path d="M372.9 31.8l3.1 2.3 3-1.1-3.2-2.3z" color="#fb0"/><path d="M379 33l3.2 2.5 2.9-1-3.2-2.5z" color="#ffca00"/><path d="M397.2 38.8l3.2 3 2.8-.2-3.3-3z" color="#fffd00"/><path d="M403.2 41.6l3.2 3.1 2.7 0-3.2-3.2z" color="#daff00"/><path d="M409.1 44.7l3.3 3.3 2.7 .2-3.3-3.4z" color="#a5ff00"/><path d="M415.1 48.2l3.2 3.5 2.6 .4-3.2-3.6z" color="#5fff00"/><path d="M314.6 42.9l2.9 .8 3.2-3.5-2.9-.8z" color="#fbff00"/><path d="M326.8 38l3 1.1 3.2-3-3-1.2z" color="#ffe000"/><path d="M333 36.1l3 1.3 3.1-2.8-3-1.3z" color="#ffd100"/><path d="M345.3 33.5l3 1.6 3.1-2.3-3.1-1.6z" color="#ffba00"/><path d="M351.4 32.8l3.1 1.8 3.1-2-3.1-1.8z" color="#ffb500"/><path d="M357.6 32.6l3.1 1.9 3-1.8-3.1-2z" color="#ffb400"/><path d="M369.9 33.2l3.2 2.3 2.9-1.4-3.1-2.3z" color="#ffc000"/><path d="M382.2 35.5l3.2 2.6 2.9-.9-3.2-2.7z" color="#ffdc00"/><path d="M388.3 37.2l3.2 2.8 2.9-.7-3.3-2.8z" color="#ffe900"/><path d="M394.4 39.3l3.2 3 2.8-.5-3.2-3z" color="#fffa00"/><path d="M406.4 44.7l3.3 3.3 2.7 0-3.3-3.3z" color="#b8ff00"/><path d="M418.3 51.7l3.3 3.6 2.6 .4-3.3-3.6z" color="#3dff00"/><path d="M284.7 61.9l2.7 .2 3.2-4.7-2.6-.1z" color="#0dff0e"/><path d="M290.6 57.4l2.8 .2 3.2-4.4-2.8-.3z" color="#2aff00"/><path d="M302.6 49.4l2.8 .5 3.2-3.9-2.8-.6z" color="#a1ff00"/><path d="M308.6 46l2.8 .6 3.2-3.7-2.8-.7z" color="#d6ff00"/><path d="M278.9 66.8l2.6 0 3.2-4.9-2.6 0z" color="#00ff29"/><path d="M296.6 53.2l2.7 .4 3.3-4.2-2.8-.4z" color="#5eff00"/><path d="M320.7 40.2l2.9 1 3.2-3.2-2.9-1z" color="#ffef00"/><path d="M339.1 34.6l3 1.5 3.2-2.6-3.1-1.5z" color="#ffc400"/><path d="M363.7 32.7l3.2 2.1 3-1.6-3.1-2.1z" color="#ffb800"/><path d="M376 34.1l3.2 2.5 3-1.1-3.2-2.5z" color="#fc0"/><path d="M400.4 41.8l3.2 3.2 2.8-.3-3.2-3.1z" color="#e4ff00"/><path d="M412.4 48l3.2 3.5 2.7 .2-3.2-3.5z" color="#74ff00"/><path d="M275.7 72l2.6-.1 3.2-5.1-2.6 0z" color="#00ff51"/><path d="M281.5 66.8l2.7 .1 3.2-4.8-2.7-.2z" color="#02ff23"/><path d="M287.4 62.1l2.7 .2 3.3-4.7-2.8-.2z" color="#0fff0a"/><path d="M293.4 57.6l2.7 .4 3.2-4.4-2.7-.4z" color="#32ff00"/><path d="M299.3 53.6l2.8 .5 3.3-4.2-2.8-.5z" color="#64ff00"/><path d="M305.4 49.9l2.8 .7 3.2-4-2.8-.6z" color="#a7ff00"/><path d="M311.4 46.6l2.9 .9 3.2-3.8-2.9-.8z" color="#d8ff00"/><path d="M317.5 43.7l2.9 1 3.2-3.5-2.9-1z" color="#fbff00"/><path d="M323.6 41.2l3 1.2 3.2-3.3-3-1.1z" color="#fff000"/><path d="M329.8 39.1l3 1.3 3.2-3-3-1.3z" color="#ffe300"/><path d="M336 37.4l3 1.4 3.1-2.7-3-1.5z" color="#ffd700"/><path d="M342.1 36.1l3.1 1.6 3.1-2.6-3-1.6z" color="#ffcb00"/><path d="M348.3 35.1l3.1 1.8 3.1-2.3-3.1-1.8z" color="#ffc300"/><path d="M354.5 34.6l3.1 2 3.1-2.1-3.1-1.9z" color="#ffc000"/><path d="M360.7 34.5l3.2 2.1 3-1.8-3.2-2.1z" color="#ffc100"/><path d="M366.9 34.8l3.2 2.3 3-1.6-3.2-2.3z" color="#ffc600"/><path d="M373.1 35.5l3.2 2.5 2.9-1.4-3.2-2.5z" color="#ffd000"/><path d="M379.2 36.6l3.3 2.6 2.9-1.1-3.2-2.6z" color="#fd0"/><path d="M385.4 38.1l3.2 2.8 2.9-.9-3.2-2.8z" color="#ffe900"/><path d="M391.5 40l3.2 3 2.9-.7-3.2-3z" color="#fff700"/><path d="M397.6 42.3l3.3 3.1 2.7-.4-3.2-3.2z" color="#ebff00"/><path d="M403.6 45l3.3 3.3 2.8-.3-3.3-3.3z" color="#c6ff00"/><path d="M409.7 48l3.3 3.5 2.6 0-3.2-3.5z" color="#8f0"/><path d="M415.6 51.5l3.3 3.6 2.7 .2-3.3-3.6z" color="#4dff00"/><path d="M421.6 55.3l3.3 3.8 2.6 .4-3.3-3.8z" color="#19ff00"/><path d="M320.4 44.7l3 1.1 3.2-3.4-3-1.2z" color="#f9ff00"/><path d="M339 38.8l3.1 1.6 3.1-2.7-3.1-1.6z" color="#fd0"/><path d="M363.9 36.6l3.1 2.3 3.1-1.8-3.2-2.3z" color="#ffcf00"/><path d="M376.3 38l3.2 2.6 3-1.4-3.3-2.6z" color="#ffdf00"/><path d="M400.9 45.4l3.2 3.3 2.8-.4-3.3-3.3z" color="#cdff00"/><path d="M413 51.5l3.2 3.6 2.7 0-3.3-3.6z" color="#5aff00"/><path d="M296.1 58l2.8 .6 3.2-4.5-2.8-.5z" color="#39ff00"/><path d="M278.3 71.9l2.7 .2 3.2-5.2-2.7-.1z" color="#00ff47"/><path d="M284.2 66.9l2.7 .3 3.2-4.9-2.7-.2z" color="#05ff1f"/><path d="M290.1 62.3l2.8 .4 3.2-4.7-2.7-.4z" color="#11ff07"/><path d="M302.1 54.1l2.9 .7 3.2-4.2-2.8-.7z" color="#6aff00"/><path d="M308.2 50.6l2.9 .8 3.2-3.9-2.9-.9z" color="#af0"/><path d="M314.3 47.5l2.9 .9 3.2-3.7-2.9-1z" color="#d8ff00"/><path d="M326.6 42.4l3 1.2 3.2-3.2-3-1.3z" color="#fff200"/><path d="M332.8 40.4l3 1.4 3.2-3-3-1.4z" color="#ffe600"/><path d="M345.2 37.7l3.1 1.7 3.1-2.5-3.1-1.8z" color="#ffd400"/><path d="M351.4 36.9l3.1 2 3.1-2.3-3.1-2z" color="#ffce00"/><path d="M357.6 36.6l3.2 2.1 3.1-2.1-3.2-2.1z" color="#fc0"/><path d="M370.1 37.1l3.2 2.4 3-1.5-3.2-2.5z" color="#ffd600"/><path d="M382.5 39.2l3.2 2.8 2.9-1.1-3.2-2.8z" color="#ffe900"/><path d="M388.6 40.9l3.3 2.9 2.8-.8-3.2-3z" color="#fff600"/><path d="M394.7 43l3.3 3.1 2.9-.7-3.3-3.1z" color="#f0ff00"/><path d="M406.9 48.3l3.3 3.4 2.8-.2-3.3-3.5z" color="#97ff00"/><path d="M418.9 55.1l3.3 3.8 2.7 .2-3.3-3.8z" color="#2aff00"/><path d="M317.2 48.4l3 1.1 3.2-3.7-3-1.1z" color="#d6ff00"/><path d="M323.4 45.8l3 1.3 3.2-3.5-3-1.2z" color="#f5ff00"/><path d="M335.8 41.8l3.1 1.6 3.2-3-3.1-1.6z" color="#ffea00"/><path d="M342.1 40.4l3 1.8 3.2-2.8-3.1-1.7z" color="#ffe200"/><path d="M360.8 38.7l3.2 2.2 3-2-3.1-2.3z" color="#ffda00"/><path d="M367 38.9l3.2 2.4 3.1-1.8-3.2-2.4z" color="#ffde00"/><path d="M373.3 39.5l3.2 2.6 3-1.5-3.2-2.6z" color="#ffe300"/><path d="M379.5 40.6l3.2 2.7 3-1.3-3.2-2.8z" color="#ffec00"/><path d="M398 46.1l3.3 3.2 2.8-.6-3.2-3.3z" color="#d2ff00"/><path d="M404.1 48.7l3.3 3.4 2.8-.4-3.3-3.4z" color="#a3ff00"/><path d="M410.2 51.7l3.3 3.6 2.7-.2-3.2-3.6z" color="#6f0"/><path d="M416.2 55.1l3.4 3.8 2.6 0-3.3-3.8z" color="#37ff00"/><path d="M292.9 62.7l2.8 .5 3.2-4.6-2.8-.6z" color="#12ff04"/><path d="M298.9 58.6l2.8 .6 3.3-4.4-2.9-.7z" color="#3dff00"/><path d="M281 72.1l2.6 .2 3.3-5.1-2.7-.3z" color="#00ff3f"/><path d="M286.9 67.2l2.7 .4 3.3-4.9-2.8-.4z" color="#06ff1b"/><path d="M305 54.8l2.8 .8 3.3-4.2-2.9-.8z" color="#6eff00"/><path d="M311.1 51.4l2.9 1 3.2-4-2.9-.9z" color="#abff00"/><path d="M329.6 43.6l3 1.5 3.2-3.3-3-1.4z" color="#fff500"/><path d="M348.3 39.4l3.1 2 3.1-2.5-3.1-2z" color="#fd0"/><path d="M354.5 38.9l3.2 2 3.1-2.2-3.2-2.1z" color="#ffda00"/><path d="M385.7 42l3.3 2.9 2.9-1.1-3.3-2.9z" color="#fff700"/><path d="M391.9 43.8l3.2 3.1 2.9-.8-3.3-3.1z" color="#f2ff00"/><path d="M370.2 41.3l3.3 2.6 3-1.8-3.2-2.6z" color="#ffe800"/><path d="M407.4 52.1l3.4 3.6 2.7-.4-3.3-3.6z" color="#72ff00"/><path d="M314 52.4l2.9 1.1 3.3-4-3-1.1z" color="#a9ff00"/><path d="M289.6 67.6l2.8 .5 3.3-4.9-2.8-.5z" color="#08ff18"/><path d="M295.7 63.2l2.8 .7 3.2-4.7-2.8-.6z" color="#13ff02"/><path d="M301.7 59.2l2.9 .8 3.2-4.4-2.8-.8z" color="#40ff00"/><path d="M320.2 49.5l3 1.3 3.2-3.7-3-1.3z" color="#d3ff00"/><path d="M326.4 47.1l3 1.4 3.2-3.4-3-1.5z" color="#f0ff00"/><path d="M332.6 45.1l3.1 1.5 3.2-3.2-3.1-1.6z" color="#fffa00"/><path d="M338.9 43.4l3.1 1.8 3.1-3-3-1.8z" color="#fff000"/><path d="M345.1 42.2l3.2 1.9 3.1-2.7-3.1-2z" color="#ffe900"/><path d="M357.7 40.9l3.2 2.3 3.1-2.3-3.2-2.2z" color="#ffe300"/><path d="M364 40.9l3.2 2.4 3-2-3.2-2.4z" color="#ffe400"/><path d="M376.5 42.1l3.2 2.7 3-1.5-3.2-2.7z" color="#ffef00"/><path d="M382.7 43.3l3.3 2.9 3-1.3-3.3-2.9z" color="#fff900"/><path d="M395.1 46.9l3.3 3.3 2.9-.9-3.3-3.2z" color="#d5ff00"/><path d="M401.3 49.3l3.3 3.5 2.8-.7-3.3-3.4z" color="#acff00"/><path d="M413.5 55.3l3.3 3.8 2.8-.2-3.4-3.8z" color="#43ff00"/><path d="M283.6 72.3l2.8 .4 3.2-5.1-2.7-.4z" color="#00ff37"/><path d="M307.8 55.6l2.9 1 3.3-4.2-2.9-1z" color="#6fff00"/><path d="M351.4 41.4l3.2 2 3.1-2.5-3.2-2z" color="#ffe400"/><path d="M389 44.9l3.2 3.1 2.9-1.1-3.2-3.1z" color="#f1ff00"/><path d="M329.4 48.5l3.1 1.6 3.2-3.5-3.1-1.5z" color="#e9ff00"/><path d="M367.2 43.3l3.2 2.6 3.1-2-3.3-2.6z" color="#ffef00"/><path d="M373.5 43.9l3.2 2.7 3-1.8-3.2-2.7z" color="#fff400"/><path d="M404.6 52.8l3.3 3.5 2.9-.6-3.4-3.6z" color="#7bff00"/><path d="M410.8 55.7l3.3 3.8 2.7-.4-3.3-3.8z" color="#4bff00"/><path d="M310.7 56.6l3 1 3.2-4.1-2.9-1.1z" color="#6eff00"/><path d="M286.4 72.7l2.7 .5 3.3-5.1-2.8-.5z" color="#00ff32"/><path d="M292.4 68.1l2.8 .6 3.3-4.8-2.8-.7z" color="#09ff16"/><path d="M298.5 63.9l2.8 .8 3.3-4.7-2.9-.8z" color="#14ff00"/><path d="M316.9 53.5l3 1.2 3.3-3.9-3-1.3z" color="#a5ff00"/><path d="M304.6 60l2.9 1 3.2-4.4-2.9-1z" color="#42ff00"/><path d="M323.2 50.8l3 1.4 3.2-3.7-3-1.4z" color="#ceff00"/><path d="M335.7 46.6l3.1 1.8 3.2-3.2-3.1-1.8z" color="#feff00"/><path d="M342 45.2l3.1 1.8 3.2-2.9-3.2-1.9z" color="#fff600"/><path d="M348.3 44.1l3.1 2 3.2-2.7-3.2-2z" color="#fff000"/><path d="M354.6 43.4l3.2 2.2 3.1-2.4-3.2-2.3z" color="#ffed00"/><path d="M360.9 43.2l3.2 2.4 3.1-2.3-3.2-2.4z" color="#ffed00"/><path d="M379.7 44.8l3.3 2.9 3-1.5-3.3-2.9z" color="#fffc00"/><path d="M386 46.2l3.3 3.1 2.9-1.3-3.2-3.1z" color="#ef0"/><path d="M392.2 48l3.3 3.2 2.9-1-3.3-3.3z" color="#d4ff00"/><path d="M398.4 50.2l3.4 3.4 2.8-.8-3.3-3.5z" color="#b0ff00"/><path d="M307.5 61l2.9 1 3.3-4.4-3-1z" color="#42ff00"/><path d="M326.2 52.2l3 1.6 3.3-3.7-3.1-1.6z" color="#c7ff00"/><path d="M332.5 50.1l3.1 1.7 3.2-3.4-3.1-1.8z" color="#e0ff00"/><path d="M351.4 46.1l3.2 2.2 3.2-2.7-3.2-2.2z" color="#fff800"/><path d="M364.1 45.6l3.2 2.5 3.1-2.2-3.2-2.6z" color="#fff700"/><path d="M370.4 45.9l3.3 2.7 3-2-3.2-2.7z" color="#fffb00"/><path d="M376.7 46.6l3.3 2.9 3-1.8-3.3-2.9z" color="#f9ff00"/><path d="M389.3 49.3l3.3 3.2 2.9-1.3-3.3-3.2z" color="#d2ff00"/><path d="M401.8 53.6l3.3 3.6 2.8-.9-3.3-3.5z" color="#80ff00"/><path d="M407.9 56.3l3.4 3.8 2.8-.6-3.3-3.8z" color="#52ff00"/><path d="M289.1 73.2l2.8 .6 3.3-5.1-2.8-.6z" color="#00ff2d"/><path d="M295.2 68.7l2.8 .8 3.3-4.8-2.8-.8z" color="#0aff14"/><path d="M313.7 57.6l3 1.3 3.2-4.2-3-1.2z" color="#6bff00"/><path d="M301.3 64.7l2.9 .9 3.3-4.6-2.9-1z" color="#16ff00"/><path d="M319.9 54.7l3 1.4 3.3-3.9-3-1.4z" color="#9eff00"/><path d="M338.8 48.4l3.1 1.8 3.2-3.2-3.1-1.8z" color="#f3ff00"/><path d="M345.1 47l3.1 2.1 3.2-3-3.1-2z" color="#fffd00"/><path d="M357.8 45.6l3.2 2.4 3.1-2.4-3.2-2.4z" color="#fff600"/><path d="M383 47.7l3.3 3.1 3-1.5-3.3-3.1z" color="#e8ff00"/><path d="M395.5 51.2l3.4 3.4 2.9-1-3.4-3.4z" color="#b0ff00"/><path d="M304.2 65.6l2.9 1.1 3.3-4.7-2.9-1z" color="#16ff00"/><path d="M322.9 56.1l3.1 1.6 3.2-3.9-3-1.6z" color="#95ff00"/><path d="M310.4 62l3 1.3 3.3-4.4-3-1.3z" color="#40ff00"/><path d="M329.2 53.8l3.1 1.7 3.3-3.7-3.1-1.7z" color="#beff00"/><path d="M335.6 51.8l3.1 1.9 3.2-3.5-3.1-1.8z" color="#d5ff00"/><path d="M348.2 49.1l3.2 2.2 3.2-3-3.2-2.2z" color="#f2ff00"/><path d="M354.6 48.3l3.2 2.4 3.2-2.7-3.2-2.4z" color="#f9ff00"/><path d="M361 48l3.2 2.5 3.1-2.4-3.2-2.5z" color="#faff00"/><path d="M367.3 48.1l3.3 2.7 3.1-2.2-3.3-2.7z" color="#f6ff00"/><path d="M373.7 48.6l3.2 2.9 3.1-2-3.3-2.9z" color="#edff00"/><path d="M380 49.5l3.3 3 3-1.7-3.3-3.1z" color="#dfff00"/><path d="M386.3 50.8l3.3 3.2 3-1.5-3.3-3.2z" color="#cf0"/><path d="M392.6 52.5l3.3 3.4 3-1.3-3.4-3.4z" color="#adff00"/><path d="M398.9 54.6l3.3 3.6 2.9-1-3.3-3.6z" color="#81ff00"/><path d="M405.1 57.2l3.4 3.7 2.8-.8-3.4-3.8z" color="#5f0"/><path d="M291.9 73.8l2.8 .8 3.3-5.1-2.8-.8z" color="#00ff2a"/><path d="M298 69.5l2.9 1 3.3-4.9-2.9-.9z" color="#0aff13"/><path d="M316.7 58.9l3 1.4 3.2-4.2-3-1.4z" color="#65ff00"/><path d="M341.9 50.2l3.1 2.1 3.2-3.2-3.1-2.1z" color="#e6ff00"/><path d="M357.8 50.7l3.2 2.5 3.2-2.7-3.2-2.5z" color="#e6ff00"/><path d="M383.3 52.5l3.3 3.2 3-1.7-3.3-3.2z" color="#c4ff00"/><path d="M395.9 55.9l3.4 3.6 2.9-1.3-3.3-3.6z" color="#7eff00"/><path d="M300.9 70.5l2.9 1 3.3-4.8-2.9-1.1z" color="#0bff13"/><path d="M319.7 60.3l3 1.5 3.3-4.1-3.1-1.6z" color="#5fff00"/><path d="M294.7 74.6l2.9 .9 3.3-5-2.9-1z" color="#00ff28"/><path d="M307.1 66.7l3 1.2 3.3-4.6-3-1.3z" color="#14ff00"/><path d="M313.4 63.3l3 1.3 3.3-4.3-3-1.4z" color="#3cff00"/><path d="M326 57.7l3 1.6 3.3-3.8-3.1-1.7z" color="#89ff00"/><path d="M332.3 55.5l3.1 1.8 3.3-3.6-3.1-1.9z" color="#aeff00"/><path d="M338.7 53.7l3.1 2 3.2-3.4-3.1-2.1z" color="#c9ff00"/><path d="M345 52.3l3.2 2.1 3.2-3.1-3.2-2.2z" color="#d8ff00"/><path d="M351.4 51.3l3.2 2.3 3.2-2.9-3.2-2.4z" color="#e1ff00"/><path d="M364.2 50.5l3.3 2.7 3.1-2.4-3.3-2.7z" color="#e5ff00"/><path d="M370.6 50.8l3.3 2.9 3-2.2-3.2-2.9z" color="#dfff00"/><path d="M376.9 51.5l3.3 3 3.1-2-3.3-3z" color="#d4ff00"/><path d="M389.6 54l3.4 3.4 2.9-1.5-3.3-3.4z" color="#a5ff00"/><path d="M402.2 58.2l3.4 3.7 2.9-1-3.4-3.7z" color="#56ff00"/><path d="M297.6 75.5l2.9 1.1 3.3-5.1-2.9-1z" color="#00ff27"/><path d="M316.4 64.6l3 1.6 3.3-4.4-3-1.5z" color="#37ff00"/><path d="M341.8 55.7l3.2 2.1 3.2-3.4-3.2-2.1z" color="#b7ff00"/><path d="M354.6 53.6l3.3 2.5 3.1-2.9-3.2-2.5z" color="#cfff00"/><path d="M361 53.2l3.3 2.7 3.2-2.7-3.3-2.7z" color="#d2ff00"/><path d="M380.2 54.5l3.4 3.2 3-2-3.3-3.2z" color="#b5ff00"/><path d="M386.6 55.7l3.4 3.4 3-1.7-3.4-3.4z" color="#9aff00"/><path d="M393 57.4l3.3 3.5 3-1.4-3.4-3.6z" color="#7f0"/><path d="M399.3 59.5l3.4 3.7 2.9-1.3-3.4-3.7z" color="#5f0"/><path d="M303.8 71.5l3 1.2 3.3-4.8-3-1.2z" color="#0aff13"/><path d="M322.7 61.8l3.1 1.7 3.2-4.2-3-1.6z" color="#57ff00"/><path d="M310.1 67.9l3 1.4 3.3-4.7-3-1.3z" color="#13ff01"/><path d="M329 59.3l3.1 1.9 3.3-3.9-3.1-1.8z" color="#7aff00"/><path d="M335.4 57.3l3.2 2 3.2-3.6-3.1-2z" color="#9dff00"/><path d="M348.2 54.4l3.2 2.4 3.2-3.2-3.2-2.3z" color="#c8ff00"/><path d="M367.5 53.2l3.2 2.9 3.2-2.4-3.3-2.9z" color="#cfff00"/><path d="M373.9 53.7l3.3 3 3-2.2-3.3-3z" color="#c7ff00"/><path d="M390 59.1l3.3 3.5 3-1.7-3.3-3.5z" color="#6dff00"/><path d="M300.5 76.6l2.9 1.2 3.4-5.1-3-1.2z" color="#00ff28"/><path d="M313.1 69.3l3 1.5 3.3-4.6-3-1.6z" color="#12ff03"/><path d="M319.4 66.2l3 1.6 3.4-4.3-3.1-1.7z" color="#30ff00"/><path d="M338.6 59.3l3.1 2.2 3.3-3.7-3.2-2.1z" color="#8f0"/><path d="M345 57.8l3.2 2.4 3.2-3.4-3.2-2.4z" color="#a0ff00"/><path d="M351.4 56.8l3.3 2.5 3.2-3.2-3.3-2.5z" color="#b0ff00"/><path d="M357.9 56.1l3.2 2.7 3.2-2.9-3.3-2.7z" color="#b8ff00"/><path d="M364.3 55.9l3.3 2.8 3.1-2.6-3.2-2.9z" color="#b8ff00"/><path d="M377.2 56.7l3.3 3.2 3.1-2.2-3.4-3.2z" color="#a2ff00"/><path d="M383.6 57.7l3.3 3.3 3.1-1.9-3.4-3.4z" color="#8bff00"/><path d="M396.3 60.9l3.4 3.7 3-1.4-3.4-3.7z" color="#51ff00"/><path d="M306.8 72.7l2.9 1.4 3.4-4.8-3-1.4z" color="#0aff14"/><path d="M325.8 63.5l3.1 1.8 3.2-4.1-3.1-1.9z" color="#4eff00"/><path d="M332.1 61.2l3.2 2 3.3-3.9-3.2-2z" color="#6aff00"/><path d="M370.7 56.1l3.4 3 3.1-2.4-3.3-3z" color="#b1ff00"/><path d="M348.2 60.2l3.2 2.5 3.3-3.4-3.3-2.5z" color="#86ff00"/><path d="M386.9 61l3.4 3.6 3-2-3.3-3.5z" color="#60ff00"/><path d="M393.3 62.6l3.4 3.7 3-1.7-3.4-3.7z" color="#4aff00"/><path d="M309.7 74.1l3 1.5 3.4-4.8-3-1.5z" color="#09ff16"/><path d="M303.4 77.8l3 1.4 3.3-5.1-2.9-1.4z" color="#00ff29"/><path d="M316.1 70.8l3 1.6 3.3-4.6-3-1.6z" color="#11ff06"/><path d="M322.4 67.8l3.1 1.9 3.4-4.4-3.1-1.8z" color="#27ff00"/><path d="M335.3 63.2l3.1 2.1 3.3-3.8-3.1-2.2z" color="#5bff00"/><path d="M341.7 61.5l3.2 2.3 3.3-3.6-3.2-2.4z" color="#72ff00"/><path d="M354.7 59.3l3.2 2.6 3.2-3.1-3.2-2.7z" color="#93ff00"/><path d="M361.1 58.8l3.3 2.8 3.2-2.9-3.3-2.8z" color="#97ff00"/><path d="M367.6 58.7l3.3 3 3.2-2.6-3.4-3z" color="#95ff00"/><path d="M374.1 59.1l3.3 3.2 3.1-2.4-3.3-3.2z" color="#8aff00"/><path d="M380.5 59.9l3.4 3.3 3-2.2-3.3-3.3z" color="#78ff00"/><path d="M328.9 65.3l3.1 2 3.3-4.1-3.2-2z" color="#4f0"/><path d="M306.4 79.2l3 1.5 3.3-5.1-3-1.5z" color="#00ff2c"/><path d="M344.9 63.8l3.3 2.5 3.2-3.6-3.2-2.5z" color="#5dff00"/><path d="M351.4 62.7l3.3 2.6 3.2-3.4-3.2-2.6z" color="#6aff00"/><path d="M370.9 61.7l3.3 3.2 3.2-2.6-3.3-3.2z" color="#6fff00"/><path d="M383.9 63.2l3.3 3.5 3.1-2.1-3.4-3.6z" color="#54ff00"/><path d="M390.3 64.6l3.4 3.6 3-1.9-3.4-3.7z" color="#41ff00"/><path d="M312.7 75.6l3.1 1.7 3.3-4.9-3-1.6z" color="#08ff19"/><path d="M332 67.3l3.1 2.1 3.3-4.1-3.1-2.1z" color="#37ff00"/><path d="M319.1 72.4l3.1 1.9 3.3-4.6-3.1-1.9z" color="#0fff09"/><path d="M325.5 69.7l3.2 2 3.3-4.4-3.1-2z" color="#1dff00"/><path d="M338.4 65.3l3.2 2.4 3.3-3.9-3.2-2.3z" color="#4dff00"/><path d="M357.9 61.9l3.3 2.8 3.2-3.1-3.3-2.8z" color="#73ff00"/><path d="M364.4 61.6l3.3 3 3.2-2.9-3.3-3z" color="#75ff00"/><path d="M377.4 62.3l3.3 3.3 3.2-2.4-3.4-3.3z" color="#62ff00"/><path d="M309.4 80.7l3 1.7 3.4-5.1-3.1-1.7z" color="#00ff31"/><path d="M328.7 71.7l3.1 2.1 3.3-4.4-3.1-2.1z" color="#13ff01"/><path d="M341.6 67.7l3.3 2.4 3.3-3.8-3.3-2.5z" color="#3cff00"/><path d="M348.2 66.3l3.2 2.6 3.3-3.6-3.3-2.6z" color="#4bff00"/><path d="M354.7 65.3l3.3 2.8 3.2-3.4-3.3-2.8z" color="#54ff00"/><path d="M367.7 64.6l3.4 3.2 3.1-2.9-3.3-3.2z" color="#57ff00"/><path d="M374.2 64.9l3.4 3.3 3.1-2.6-3.3-3.3z" color="#51ff00"/><path d="M380.7 65.6l3.4 3.5 3.1-2.4-3.3-3.5z" color="#46ff00"/><path d="M387.2 66.7l3.4 3.7 3.1-2.2-3.4-3.6z" color="#36ff00"/><path d="M315.8 77.3l3.1 1.8 3.3-4.8-3.1-1.9z" color="#06ff1c"/><path d="M335.1 69.4l3.2 2.3 3.3-4-3.2-2.4z" color="#29ff00"/><path d="M322.2 74.3l3.1 1.9 3.4-4.5-3.2-2z" color="#0dff0e"/><path d="M361.2 64.7l3.3 3 3.2-3.1-3.3-3z" color="#58ff00"/><path d="M377.6 68.2l3.4 3.5 3.1-2.6-3.4-3.5z" color="#35ff00"/><path d="M312.4 82.4l3.1 1.8 3.4-5.1-3.1-1.8z" color="#00ff36"/><path d="M318.9 79.1l3.1 2 3.3-4.9-3.1-1.9z" color="#04ff20"/><path d="M325.3 76.2l3.2 2.2 3.3-4.6-3.1-2.1z" color="#0bff12"/><path d="M331.8 73.8l3.2 2.3 3.3-4.4-3.2-2.3z" color="#10ff07"/><path d="M338.3 71.7l3.3 2.5 3.3-4.1-3.3-2.4z" color="#1aff00"/><path d="M344.9 70.1l3.2 2.6 3.3-3.8-3.2-2.6z" color="#2bff00"/><path d="M351.4 68.9l3.3 2.8 3.3-3.6-3.3-2.8z" color="#37ff00"/><path d="M358 68.1l3.3 3 3.2-3.4-3.3-3z" color="#3eff00"/><path d="M364.5 67.7l3.4 3.2 3.2-3.1-3.4-3.2z" color="#40ff00"/><path d="M371.1 67.8l3.3 3.3 3.2-2.9-3.4-3.3z" color="#3dff00"/><path d="M384.1 69.1l3.4 3.6 3.1-2.3-3.4-3.7z" color="#27ff00"/><path d="M335 76.1l3.2 2.4 3.4-4.3-3.3-2.5z" color="#0dff0d"/><path d="M361.3 71.1l3.3 3.1 3.3-3.3-3.4-3.2z" color="#26ff00"/><path d="M374.4 71.1l3.4 3.5 3.2-2.9-3.4-3.5z" color="#21ff00"/><path d="M381 71.7l3.4 3.7 3.1-2.7-3.4-3.6z" color="#17ff00"/><path d="M315.5 84.2l3.1 1.9 3.4-5-3.1-2z" color="#00ff3d"/><path d="M322 81.1l3.1 2.1 3.4-4.8-3.2-2.2z" color="#02ff25"/><path d="M328.5 78.4l3.2 2.3 3.3-4.6-3.2-2.3z" color="#08ff18"/><path d="M341.6 74.2l3.2 2.6 3.3-4.1-3.2-2.6z" color="#12ff05"/><path d="M348.1 72.7l3.3 2.8 3.3-3.8-3.3-2.8z" color="#17ff00"/><path d="M354.7 71.7l3.3 3 3.3-3.6-3.3-3z" color="#21ff00"/><path d="M367.9 70.9l3.3 3.3 3.2-3.1-3.3-3.3z" color="#26ff00"/><path d="M318.6 86.1l3.1 2.2 3.4-5.1-3.1-2.1z" color="#00ff45"/><path d="M331.7 80.7l3.2 2.4 3.3-4.6-3.2-2.4z" color="#05ff1e"/><path d="M338.2 78.5l3.3 2.7 3.3-4.4-3.2-2.6z" color="#0aff15"/><path d="M358 74.7l3.4 3.1 3.2-3.6-3.3-3.1z" color="#12ff04"/><path d="M364.6 74.2l3.4 3.3 3.2-3.3-3.3-3.3z" color="#13ff03"/><path d="M371.2 74.2l3.4 3.4 3.2-3-3.4-3.5z" color="#12ff04"/><path d="M377.8 74.6l3.4 3.6 3.2-2.8-3.4-3.7z" color="#11ff07"/><path d="M325.1 83.2l3.2 2.3 3.4-4.8-3.2-2.3z" color="#00ff2c"/><path d="M344.8 76.8l3.3 2.8 3.3-4.1-3.3-2.8z" color="#0eff0d"/><path d="M351.4 75.5l3.3 3 3.3-3.8-3.3-3z" color="#10ff08"/><path d="M328.3 85.5l3.2 2.4 3.4-4.8-3.2-2.4z" color="#00ff37"/><path d="M368 77.5l3.4 3.5 3.2-3.4-3.4-3.4z" color="#0dff0e"/><path d="M321.7 88.3l3.2 2.2 3.4-5-3.2-2.3z" color="#00ff4f"/><path d="M334.9 83.1l3.2 2.6 3.4-4.5-3.3-2.7z" color="#01ff25"/><path d="M341.5 81.2l3.3 2.7 3.3-4.3-3.3-2.8z" color="#06ff1c"/><path d="M354.7 78.5l3.4 3.1 3.3-3.8-3.4-3.1z" color="#0bff11"/><path d="M361.4 77.8l3.3 3.3 3.3-3.6-3.4-3.3z" color="#0dff0f"/><path d="M374.6 77.6l3.4 3.7 3.2-3.1-3.4-3.6z" color="#0cff10"/><path d="M348.1 79.6l3.3 3 3.3-4.1-3.3-3z" color="#09ff16"/><path d="M324.9 90.5l3.2 2.5 3.4-5.1-3.2-2.4z" color="#00ff5a"/><path d="M331.5 87.9l3.2 2.6 3.4-4.8-3.2-2.6z" color="#00ff43"/><path d="M351.4 82.6l3.3 3.1 3.4-4.1-3.4-3.1z" color="#04ff1f"/><path d="M364.7 81.1l3.4 3.4 3.3-3.5-3.4-3.5z" color="#07ff1a"/><path d="M371.4 81l3.4 3.6 3.2-3.3-3.4-3.7z" color="#07ff1a"/><path d="M338.1 85.7l3.3 2.8 3.4-4.6-3.3-2.7z" color="#00ff31"/><path d="M344.8 83.9l3.3 3 3.3-4.3-3.3-3z" color="#02ff25"/><path d="M358.1 81.6l3.3 3.3 3.3-3.8-3.3-3.3z" color="#06ff1b"/><path d="M328.1 93l3.2 2.6 3.4-5.1-3.2-2.6z" color="#00ff67"/><path d="M334.7 90.5l3.3 2.8 3.4-4.8-3.3-2.8z" color="#00ff51"/><path d="M348.1 86.9l3.3 3.1 3.3-4.3-3.3-3.1z" color="#0f3"/><path d="M354.7 85.7l3.4 3.2 3.3-4-3.3-3.3z" color="#00ff2a"/><path d="M361.4 84.9l3.4 3.4 3.3-3.8-3.4-3.4z" color="#01ff26"/><path d="M368.1 84.5l3.4 3.7 3.3-3.6-3.4-3.6z" color="#01ff26"/><path d="M341.4 88.5l3.3 2.9 3.4-4.5-3.3-3z" color="#00ff40"/><path d="M331.3 95.6l3.3 2.7 3.4-5-3.3-2.8z" color="#00ff7b"/><path d="M338 93.3l3.3 2.9 3.4-4.8-3.3-2.9z" color="#00ff61"/><path d="M344.7 91.4l3.3 3.1 3.4-4.5-3.3-3.1z" color="#00ff51"/><path d="M351.4 90l3.4 3.2 3.3-4.3-3.4-3.2z" color="#00ff45"/><path d="M358.1 88.9l3.4 3.5 3.3-4.1-3.4-3.4z" color="#00ff3e"/><path d="M364.8 88.3l3.5 3.7 3.2-3.8-3.4-3.7z" color="#00ff3a"/><path d="M354.8 93.2l3.4 3.5 3.3-4.3-3.4-3.5z" color="#00ff59"/><path d="M334.6 98.3l3.3 3 3.4-5.1-3.3-2.9z" color="#00ff92"/><path d="M341.3 96.2l3.3 3.1 3.4-4.8-3.3-3.1z" color="#00ff76"/><path d="M348 94.5l3.4 3.3 3.4-4.6-3.4-3.2z" color="#00ff63"/><path d="M361.5 92.4l3.4 3.6 3.4-4-3.5-3.7z" color="#00ff53"/><path d="M337.9 101.3l3.3 3.1 3.4-5.1-3.3-3.1z" color="#00ffab"/><path d="M351.4 97.8l3.4 3.4 3.4-4.5-3.4-3.5z" color="#00ff7f"/><path d="M358.2 96.7l3.4 3.6 3.3-4.3-3.4-3.6z" color="#00ff72"/><path d="M344.6 99.3l3.4 3.3 3.4-4.8-3.4-3.3z" color="#00ff92"/><path d="M348 102.6l3.4 3.4 3.4-4.8-3.4-3.4z" color="#00ffb0"/><path d="M341.2 104.4l3.4 3.2 3.4-5-3.4-3.3z" color="#00ffc4"/><path d="M354.8 101.2l3.4 3.6 3.4-4.5-3.4-3.6z" color="#00ff9f"/><path d="M344.6 107.6l3.4 3.4 3.4-5-3.4-3.4z" color="#0fd"/><path d="M351.4 106l3.4 3.6 3.4-4.8-3.4-3.6z" color="#0fc"/><path d="M348 111l3.4 3.6 3.4-5-3.4-3.6z" color="#00fff9"/></g>
<path d="M275.7 72l3.2-5.2 3.2-4.9 3.2-4.6 3.2-4.5 3.2-4.3 3.1-4 3.2-3.8 3.1-3.6 3.1-3.4 3.1-3.1 3.1-3 3.1-2.7 3-2.5 3.1-2.3 3-2.1 3-1.9 2.9-1.7 3-1.5 2.9-1.3 2.9-1.1 2.8-.8 2.9-.7 2.8-.5 2.8-.3 2.8-.2M277 71.9l3.2-5.1 3.2-4.9 3.2-4.7 3.2-4.4 3.2-4.3 3.2-4 3.1-3.8 3.1-3.6 3.2-3.3 3.1-3.2 3.1-2.9 3-2.8 3.1-2.5 3-2.3 3-2.1 3-1.8 3-1.7 2.9-1.5 3-1.3 2.9-1 2.8-.9 2.9-.7 2.8-.5 2.8-.3 2.7-.1M278.3 71.9l3.2-5.1 3.2-4.9 3.3-4.6 3.1-4.5 3.2-4.2 3.2-4.1 3.2-3.8 3.1-3.5 3.1-3.4 3.1-3.1 3.1-3 3.1-2.7 3.1-2.5 3-2.3 3-2 3-1.9 3-1.7 2.9-1.4 2.9-1.3 2.9-1.1 2.9-.8 2.9-.7 2.8-.5 2.8-.3 2.7-.1M279.6 72l3.3-5.1 3.2-4.9 3.2-4.7 3.2-4.4 3.2-4.3 3.2-4 3.1-3.8 3.2-3.6 3.1-3.3 3.1-3.1 3.1-3 3.1-2.7 3-2.5 3.1-2.2 3-2.1 3-1.9 3-1.6 2.9-1.5 2.9-1.2 2.9-1.1 2.9-.8 2.9-.7 2.8-.4 2.8-.3 2.7-.1M281 72.1l3.2-5.2 3.2-4.8 3.2-4.7 3.2-4.5 3.2-4.2 3.2-4 3.2-3.8 3.1-3.6 3.2-3.3 3.1-3.1 3.1-2.9 3.1-2.7 3-2.5 3.1-2.3 3-2.1 3-1.8 3-1.6 2.9-1.5 2.9-1.2 2.9-1.1 2.9-.8 2.9-.6 2.8-.5 2.8-.2 2.7-.1M282.3 72.2l3.2-5.1 3.3-4.9 3.2-4.7 3.2-4.5 3.2-4.2 3.2-4 3.2-3.8 3.1-3.5 3.2-3.4 3.1-3.1 3.1-2.9 3.1-2.7 3-2.4 3.1-2.3 3-2.1 3-1.8 3-1.6 2.9-1.5 2.9-1.2 2.9-1 2.9-.8 2.9-.6 2.8-.5 2.8-.2 2.7-.1M283.6 72.3l3.3-5.1 3.2-4.9 3.3-4.7 3.2-4.4 3.2-4.2 3.2-4 3.1-3.8 3.2-3.5 3.2-3.4 3.1-3.1 3.1-2.9 3.1-2.7 3-2.4 3.1-2.3 3-2 3-1.9 3-1.6 2.9-1.4 3-1.2 2.9-1 2.8-.8 2.9-.6 2.8-.5 2.8-.2 2.7 0M285 72.5l3.3-5.1 3.2-4.9 3.2-4.7 3.3-4.4 3.2-4.2 3.2-4 3.1-3.8 3.2-3.5 3.2-3.4 3.1-3.1 3.1-2.9 3.1-2.6 3.1-2.5 3-2.2 3-2.1 3-1.8 3-1.6 3-1.4 2.9-1.2 2.9-1 2.9-.8 2.8-.6 2.8-.4 2.8-.2 2.8 0M286.4 72.7l3.2-5.1 3.3-4.9 3.2-4.7 3.2-4.4 3.3-4.2 3.2-4 3.1-3.8 3.2-3.5 3.2-3.3 3.1-3.1 3.1-2.9 3.1-2.7 3.1-2.4 3-2.2 3.1-2.1 3-1.8 2.9-1.6 3-1.4 2.9-1.1 2.9-1 2.9-.8 2.8-.6 2.8-.4 2.8-.2 2.8 0M287.7 72.9l3.3-5.1 3.3-4.9 3.2-4.6 3.2-4.5 3.3-4.2 3.2-3.9 3.2-3.8 3.1-3.5 3.2-3.3 3.1-3.1 3.1-2.9 3.1-2.7 3.1-2.4 3.1-2.2 3-2 3-1.8 3-1.6 2.9-1.4 2.9-1.2 2.9-.9 2.9-.8 2.9-.6 2.8-.4 2.8-.2 2.7 0M289.1 73.2l3.3-5.1 3.3-4.9 3.2-4.6 3.2-4.5 3.3-4.2 3.2-3.9 3.2-3.8 3.1-3.5 3.2-3.3 3.1-3.1 3.2-2.9 3.1-2.6 3-2.5 3.1-2.2 3-2 3-1.8 3-1.5 3-1.4 2.9-1.2 2.9-.9 2.9-.8 2.8-.6 2.8-.3 2.8-.2 2.8 0M290.5 73.5l3.3-5.1 3.3-4.9 3.2-4.6 3.3-4.5 3.2-4.2 3.2-3.9 3.2-3.8 3.2-3.5 3.1-3.3 3.2-3.1 3.1-2.8 3.1-2.7 3.1-2.4 3-2.2 3.1-2 3-1.7 3-1.6 2.9-1.4 2.9-1.1 2.9-1 2.9-.7 2.9-.6 2.8-.3 2.8-.2 2.7 0M291.9 73.8l3.3-5.1 3.3-4.8 3.2-4.7 3.3-4.4 3.2-4.2 3.2-4 3.2-3.7 3.2-3.5 3.2-3.3 3.1-3.1 3.2-2.8 3.1-2.7 3-2.4 3.1-2.2 3-1.9 3-1.8 3-1.6 3-1.3 2.9-1.2 2.9-.9 2.9-.7 2.8-.6 2.8-.3 2.8-.2 2.8 .1M293.3 74.2l3.3-5.1 3.3-4.9 3.3-4.6 3.2-4.4 3.2-4.2 3.3-4 3.2-3.7 3.2-3.5 3.1-3.3 3.2-3.1 3.1-2.8 3.1-2.6 3.1-2.4 3.1-2.2 3-2 3-1.7 3-1.6 2.9-1.3 3-1.1 2.9-1 2.8-.7 2.9-.5 2.8-.4 2.8-.1 2.7 .1M294.7 74.6l3.3-5.1 3.3-4.8 3.3-4.7 3.2-4.4 3.3-4.2 3.2-3.9 3.2-3.8 3.2-3.5 3.2-3.2 3.1-3.1 3.2-2.8 3.1-2.6 3.1-2.4 3-2.2 3.1-2 3-1.7 2.9-1.6 3-1.3 2.9-1.1 2.9-.9 2.9-.7 2.8-.5 2.8-.4 2.8-.1 2.8 .1M296.2 75.1l3.3-5.1 3.3-4.9 3.2-4.6 3.3-4.4 3.2-4.2 3.3-4 3.2-3.7 3.2-3.5 3.2-3.3 3.1-3 3.1-2.8 3.1-2.6 3.1-2.4 3.1-2.2 3-1.9 3-1.8 3-1.5 3-1.3 2.9-1.1 2.9-.9 2.9-.7 2.8-.5 2.8-.3 2.8-.2 2.7 .1M297.6 75.5l3.3-5 3.3-4.9 3.3-4.6 3.2-4.4 3.3-4.2 3.2-4 3.2-3.7 3.2-3.5 3.2-3.2 3.2-3.1 3.1-2.8 3.1-2.6 3.1-2.4 3.1-2.1 3-2 3-1.7 3-1.5 3-1.3 2.9-1.1 2.9-.9 2.9-.7 2.8-.5 2.8-.3 2.8-.1 2.7 .1M299 76.1l3.4-5.1 3.3-4.9 3.2-4.6 3.3-4.4 3.3-4.2 3.2-3.9 3.2-3.7 3.2-3.5 3.2-3.3 3.2-3 3.1-2.8 3.1-2.6 3.1-2.4 3.1-2.1 3-2 3-1.7 3-1.5 3-1.3 2.9-1.1 2.9-.8 2.8-.7 2.9-.5 2.8-.3 2.8-.1 2.7 .1M300.5 76.6l3.3-5.1 3.3-4.8 3.3-4.7 3.3-4.4 3.2-4.1 3.3-4 3.2-3.7 3.2-3.4 3.2-3.3 3.2-3 3.1-2.8 3.1-2.6 3.1-2.4 3.1-2.1 3-1.9 3-1.7 3-1.5 2.9-1.3 3-1.1 2.9-.9 2.8-.6 2.9-.5 2.8-.3 2.7 0 2.8 .1M302 77.2l3.3-5.1 3.3-4.8 3.3-4.7 3.3-4.4 3.2-4.1 3.3-3.9 3.2-3.7 3.2-3.5 3.2-3.3 3.2-3 3.1-2.8 3.1-2.5 3.1-2.4 3.1-2.1 3-1.9 3-1.7 3-1.5 3-1.3 2.9-1.1 2.9-.8 2.8-.7 2.9-.4 2.8-.3 2.7-.1 2.8 .2M303.4 77.8l3.4-5.1 3.3-4.8 3.3-4.6 3.3-4.4 3.2-4.2 3.3-3.9 3.2-3.7 3.2-3.5 3.2-3.2 3.2-3 3.1-2.8 3.1-2.6 3.1-2.3 3.1-2.1 3-1.9 3-1.7 3-1.5 3-1.3 2.9-1 2.9-.9 2.8-.6 2.9-.5 2.8-.2 2.7-.1 2.8 .2M304.9 78.5l3.3-5.1 3.4-4.8 3.3-4.7 3.2-4.3 3.3-4.2 3.3-3.9 3.2-3.7 3.2-3.5 3.2-3.2 3.2-3 3.1-2.8 3.1-2.5 3.1-2.4 3.1-2.1 3-1.9 3-1.7 3-1.4 3-1.3 2.9-1 2.9-.9 2.9-.6 2.8-.4 2.8-.3 2.7 0 2.8 .1M306.4 79.2l3.3-5.1 3.4-4.8 3.3-4.7 3.3-4.3 3.2-4.2 3.3-3.9 3.2-3.7 3.2-3.4 3.2-3.3 3.2-3 3.1-2.7 3.2-2.6 3-2.3 3.1-2.1 3.1-1.9 3-1.7 3-1.4 2.9-1.3 2.9-1 2.9-.8 2.9-.7 2.8-.4 2.8-.2 2.8 0 2.7 .1M307.9 79.9l3.3-5.1 3.4-4.8 3.3-4.6 3.3-4.4 3.2-4.1 3.3-3.9 3.2-3.7 3.3-3.5 3.1-3.2 3.2-3 3.2-2.7 3.1-2.6 3.1-2.3 3-2.1 3.1-1.9 3-1.6 3-1.5 2.9-1.2 3-1 2.8-.9 2.9-.6 2.8-.4 2.8-.2 2.8 0 2.7 .2M309.4 80.7l3.3-5.1 3.4-4.8 3.3-4.6 3.3-4.4 3.3-4.1 3.2-3.9 3.3-3.7 3.2-3.5 3.2-3.2 3.2-3 3.1-2.7 3.1-2.6 3.1-2.3 3.1-2 3-1.9 3-1.7 3-1.4 3-1.2 2.9-1 2.9-.9 2.8-.6 2.9-.4 2.7-.2 2.8 0 2.7 .2M310.9 81.5l3.4-5.1 3.3-4.8 3.3-4.6 3.3-4.4 3.3-4.1 3.3-3.9 3.2-3.7 3.2-3.4 3.2-3.2 3.2-3 3.1-2.8 3.2-2.5 3.1-2.3 3-2.1 3.1-1.8 3-1.7 3-1.4 2.9-1.2 2.9-1 2.9-.8 2.9-.6 2.8-.4 2.8-.2 2.7 0 2.7 .2M312.4 82.4l3.4-5.1 3.3-4.9 3.3-4.6 3.4-4.3 3.2-4.2 3.3-3.8 3.3-3.7 3.2-3.4 3.2-3.2 3.1-3 3.2-2.8 3.1-2.5 3.1-2.3 3.1-2 3-1.9 3-1.6 3-1.4 3-1.2 2.9-1 2.9-.8 2.8-.6 2.8-.4 2.8-.2 2.8 0 2.7 .2M314 83.2l3.3-5 3.4-4.9 3.3-4.6 3.3-4.3 3.3-4.1 3.3-3.9 3.2-3.7 3.2-3.4 3.2-3.2 3.2-3 3.2-2.7 3.1-2.5 3.1-2.3 3-2.1 3.1-1.8 3-1.6 3-1.5 2.9-1.1 2.9-1 2.9-.8 2.9-.6 2.8-.4 2.8-.1 2.7 0 2.7 .2M315.5 84.2l3.4-5.1 3.3-4.8 3.3-4.6 3.4-4.4 3.2-4.1 3.3-3.9 3.3-3.6 3.2-3.5 3.2-3.2 3.2-2.9 3.1-2.7 3.1-2.5 3.1-2.3 3.1-2.1 3-1.8 3.1-1.6 2.9-1.4 3-1.2 2.9-1 2.9-.8 2.8-.5 2.8-.4 2.8-.1 2.7 0 2.8 .2M317 85.1l3.4-5 3.4-4.9 3.3-4.6 3.3-4.3 3.3-4.1 3.3-3.9 3.2-3.7 3.3-3.4 3.2-3.2 3.1-2.9 3.2-2.7 3.1-2.5 3.1-2.3 3.1-2 3-1.9 3-1.6 3-1.4 2.9-1.1 3-1 2.8-.8 2.9-.5 2.8-.4 2.8-.1 2.7 0 2.7 .2M318.6 86.1l3.4-5 3.3-4.9 3.4-4.5 3.3-4.4 3.3-4.1 3.3-3.9 3.2-3.6 3.2-3.4 3.2-3.2 3.2-3 3.2-2.7 3.1-2.5 3.1-2.2 3.1-2.1 3-1.8 3-1.6 3-1.4 2.9-1.1 2.9-1 2.9-.7 2.8-.6 2.8-.3 2.8-.2 2.8 .1 2.7 .2M320.2 87.2l3.3-5.1 3.4-4.8 3.3-4.6 3.4-4.3 3.3-4.2 3.2-3.8 3.3-3.7 3.2-3.4 3.2-3.1 3.2-3 3.2-2.7 3.1-2.5 3.1-2.2 3-2.1 3.1-1.8 3-1.6 3-1.3 2.9-1.2 2.9-.9 2.9-.8 2.8-.5 2.8-.3 2.8-.2 2.7 .1 2.7 .2M321.7 88.3l3.4-5.1 3.4-4.8 3.3-4.6 3.3-4.4 3.3-4.1 3.3-3.8 3.3-3.7 3.2-3.4 3.2-3.1 3.2-3 3.2-2.7 3.1-2.4 3.1-2.3 3-2 3.1-1.8 3-1.6 2.9-1.4 3-1.1 2.9-1 2.9-.7 2.8-.5 2.8-.3 2.8-.2 2.7 .1 2.7 .3M323.3 89.4l3.4-5.1 3.4-4.8 3.3-4.6 3.3-4.3 3.3-4.1 3.3-3.9 3.3-3.6 3.2-3.4 3.2-3.2 3.2-2.9 3.2-2.7 3.1-2.5 3.1-2.2 3-2 3.1-1.8 3-1.6 2.9-1.3 3-1.2 2.9-.9 2.8-.7 2.9-.6 2.8-.3 2.7-.1 2.8 .1 2.6 .3M324.9 90.5l3.4-5 3.4-4.8 3.3-4.6 3.3-4.4 3.3-4 3.3-3.9 3.3-3.6 3.2-3.4 3.2-3.2 3.2-2.9 3.2-2.7 3.1-2.4 3.1-2.3 3-2 3.1-1.8 3-1.5 2.9-1.4 3-1.1 2.9-1 2.8-.7 2.9-.5 2.8-.3 2.7-.1 2.7 .1 2.7 .3M326.5 91.7l3.4-5 3.4-4.8 3.3-4.6 3.3-4.3 3.4-4.1 3.2-3.9 3.3-3.6 3.2-3.4 3.2-3.1 3.2-3 3.2-2.6 3.1-2.5 3.1-2.2 3.1-2 3-1.8 3-1.6 2.9-1.3 3-1.1 2.9-.9 2.8-.8 2.9-.5 2.7-.2 2.8-.1 2.7 .1 2.7 .2M328.1 93l3.4-5.1 3.4-4.8 3.3-4.6 3.4-4.3 3.3-4.1 3.3-3.8 3.2-3.6 3.3-3.4 3.2-3.2 3.1-2.9 3.2-2.7 3.1-2.4 3.1-2.2 3.1-2 3-1.8 3-1.5 3-1.4 2.9-1.1 2.9-.9 2.8-.7 2.9-.5 2.7-.3 2.8-.1 2.7 .1 2.7 .3M329.7 94.3l3.4-5.1 3.4-4.8 3.3-4.6 3.4-4.3 3.3-4.1 3.3-3.8 3.2-3.6 3.3-3.4 3.2-3.2 3.2-2.9 3.1-2.6 3.1-2.5 3.1-2.2 3.1-2 3-1.7 3-1.6 3-1.3 2.9-1.1 2.9-.9 2.8-.7 2.9-.5 2.7-.3 2.8-.1 2.7 .2 2.7 .3M331.3 95.6l3.4-5.1 3.4-4.8 3.4-4.5 3.3-4.4 3.3-4.1 3.3-3.8 3.3-3.6 3.2-3.4 3.2-3.1 3.2-2.9 3.2-2.7 3.1-2.4 3.1-2.2 3-2 3-1.8 3-1.5 3-1.3 2.9-1.1 2.9-.9 2.9-.7 2.8-.5 2.7-.2 2.8-.1 2.7 .1 2.6 .3M333 96.9l3.4-5 3.4-4.8 3.3-4.6 3.3-4.3 3.4-4.1 3.3-3.8 3.2-3.6 3.3-3.4 3.2-3.1 3.1-2.9 3.2-2.7 3.1-2.4 3.1-2.2 3.1-2 3-1.7 3-1.6 2.9-1.3 2.9-1.1 2.9-.8 2.9-.7 2.8-.5 2.8-.2 2.7-.1 2.7 .1 2.6 .4M334.6 98.3l3.4-5 3.4-4.8 3.4-4.6 3.3-4.3 3.3-4.1 3.3-3.8 3.3-3.6 3.2-3.4 3.2-3.1 3.2-2.9 3.1-2.6 3.2-2.4 3-2.2 3.1-2 3-1.8 3-1.5 3-1.3 2.9-1.1 2.8-.8 2.9-.7 2.8-.5 2.8-.2 2.7-.1 2.7 .2 2.6 .3M336.2 99.8l3.5-5.1 3.3-4.8 3.4-4.5 3.3-4.3 3.4-4.1 3.3-3.8 3.2-3.6 3.3-3.4 3.2-3.1 3.1-2.9 3.2-2.6 3.1-2.5 3.1-2.1 3-2 3.1-1.7 2.9-1.6 3-1.3 2.9-1 2.9-.9 2.8-.7 2.8-.4 2.8-.3 2.7 0 2.7 .1 2.6 .4M337.9 101.3l3.4-5.1 3.4-4.8 3.4-4.5 3.3-4.3 3.3-4.1 3.3-3.8 3.3-3.6 3.2-3.4 3.2-3.1 3.2-2.9 3.2-2.6 3.1-2.4 3-2.2 3.1-2 3-1.7 3-1.5 2.9-1.3 2.9-1.1 2.9-.8 2.9-.7 2.7-.4 2.8-.3 2.7 0 2.7 .1 2.7 .4M339.6 102.8l3.4-5.1 3.4-4.7 3.3-4.6 3.4-4.3 3.3-4.1 3.3-3.8 3.2-3.6 3.3-3.3 3.2-3.1 3.2-2.9 3.1-2.6 3.1-2.5 3.1-2.1 3.1-2 3-1.7 2.9-1.5 3-1.3 2.9-1.1 2.9-.8 2.8-.7 2.8-.4 2.7-.2 2.8-.1 2.6 .2 2.7 .4M341.2 104.4l3.4-5.1 3.4-4.8 3.4-4.5 3.3-4.3 3.4-4.1 3.3-3.8 3.2-3.6 3.3-3.3 3.2-3.1 3.1-2.9 3.2-2.6 3.1-2.4 3.1-2.2 3-2 3-1.7 3-1.5 2.9-1.3 2.9-1 2.9-.9 2.8-.6 2.8-.4 2.8-.3 2.7 0 2.7 .2 2.6 .3M342.9 106l3.4-5.1 3.4-4.8 3.4-4.5 3.3-4.3 3.3-4.1 3.3-3.8 3.3-3.6 3.2-3.3 3.2-3.1 3.2-2.9 3.2-2.6 3.1-2.4 3-2.2 3.1-1.9 3-1.7 3-1.5 2.9-1.3 2.9-1 2.9-.9 2.8-.6 2.8-.4 2.7-.3 2.7 0 2.7 .2 2.6 .4M344.6 107.6l3.4-5 3.4-4.8 3.4-4.6 3.3-4.3 3.3-4 3.3-3.8 3.3-3.6 3.2-3.3 3.2-3.1 3.2-2.9 3.1-2.6 3.2-2.4 3-2.2 3.1-1.9 3-1.7 2.9-1.5 3-1.3 2.9-1 2.8-.8 2.8-.7 2.8-.4 2.8-.2 2.6 0 2.7 .2 2.6 .4M346.3 109.3l3.4-5 3.4-4.8 3.4-4.6 3.3-4.3 3.3-4 3.3-3.8 3.3-3.6 3.2-3.3 3.2-3.1 3.2-2.9 3.1-2.6 3.1-2.4 3.1-2.1 3-2 3-1.7 3-1.4 2.9-1.3 2.9-1 2.9-.9 2.8-.6 2.8-.4 2.7-.2 2.7 0 2.6 .2 2.7 .4M348 111l3.4-5 3.4-4.8 3.4-4.5 3.3-4.3 3.3-4.1 3.3-3.8 3.3-3.5 3.2-3.4 3.2-3 3.2-2.9 3.1-2.6 3.1-2.4 3.1-2.1 3-2 3-1.7 3-1.4 2.9-1.3 2.9-1 2.8-.9 2.9-.6 2.7-.4 2.7-.2 2.7 0 2.7 .2 2.6 .4M349.7 112.8l3.4-5 3.4-4.8 3.4-4.5 3.3-4.3 3.3-4.1 3.3-3.8 3.3-3.5 3.2-3.4 3.2-3 3.2-2.9 3.1-2.6 3.1-2.4 3.1-2.1 3-1.9 3-1.7 3-1.5 2.9-1.3 2.9-1 2.8-.8 2.8-.6 2.8-.4 2.7-.2 2.7 0 2.6 .2 2.6 .4M351.4 114.6l3.4-5 3.4-4.8 3.4-4.5 3.3-4.3 3.4-4 3.2-3.8 3.3-3.6 3.2-3.3 3.2-3.1 3.2-2.8 3.1-2.7 3.1-2.3 3.1-2.2 3-1.9 3-1.7 3-1.4 2.9-1.3 2.9-1 2.8-.8 2.8-.6 2.7-.4 2.8-.2 2.6 0 2.7 .2 2.6 .4M275.7 72l2.6-.1 2.7 .2 2.6 .2 2.8 .4 2.7 .5 2.8 .6 2.8 .8 2.9 .9 2.9 1.1 2.9 1.2 3 1.4 3 1.5 3 1.7 3.1 1.8 3.1 1.9 3.1 2.2 3.2 2.2 3.2 2.5 3.2 2.6 3.3 2.7 3.3 3 3.3 3.1 3.4 3.2 3.4 3.4 3.4 3.6M277.3 69.4l2.6 0 2.7 .1 2.7 .2 2.7 .4 2.8 .5 2.8 .7 2.8 .7 2.9 1 2.9 1 2.9 1.3 3 1.3 3 1.5 3 1.7 3.1 1.8 3.1 2 3.1 2.1 3.2 2.3 3.2 2.4 3.2 2.6 3.3 2.8 3.3 2.9 3.3 3.1 3.4 3.3 3.4 3.4 3.4 3.6M278.9 66.8l2.6 0 2.7 .1 2.7 .3 2.7 .4 2.8 .5 2.8 .6 2.8 .8 2.9 1 2.9 1 3 1.2 2.9 1.4 3 1.5 3.1 1.7 3.1 1.8 3.1 2 3.1 2.1 3.2 2.3 3.2 2.4 3.2 2.6 3.3 2.8 3.3 2.9 3.3 3.1 3.4 3.3 3.4 3.4 3.4 3.6M280.5 64.4l2.6 0 2.7 .1 2.7 .2 2.8 .4 2.7 .5 2.8 .7 2.9 .8 2.9 .9 2.9 1.1 2.9 1.2 3 1.4 3 1.5 3.1 1.6 3 1.9 3.2 1.9 3.1 2.2 3.2 2.2 3.2 2.5 3.2 2.6 3.3 2.8 3.3 2.9 3.3 3.1 3.4 3.3 3.4 3.4 3.4 3.6M282.1 61.9l2.6 0 2.7 .2 2.7 .2 2.8 .4 2.8 .5 2.8 .7 2.8 .8 2.9 .9 2.9 1.1 3 1.2 3 1.4 3 1.5 3 1.6 3.1 1.9 3.1 1.9 3.2 2.2 3.2 2.3 3.2 2.4 3.2 2.6 3.3 2.8 3.3 2.9 3.3 3.1 3.4 3.3 3.4 3.4 3.4 3.6M283.7 59.6l2.7 0 2.6 .1 2.7 .2 2.8 .4 2.8 .6 2.8 .6 2.9 .8 2.8 .9 3 1.1 2.9 1.2 3 1.4 3 1.5 3.1 1.7 3.1 1.8 3.1 2 3.2 2.2 3.1 2.2 3.3 2.5 3.2 2.6 3.3 2.8 3.3 2.9 3.3 3.1 3.4 3.3 3.4 3.4 3.4 3.6M285.3 57.3l2.7 0 2.6 .1 2.8 .2 2.7 .4 2.8 .6 2.8 .6 2.9 .8 2.9 1 2.9 1 3 1.3 3 1.3 3 1.6 3 1.6 3.1 1.9 3.2 2 3.1 2.1 3.2 2.3 3.2 2.4 3.3 2.7 3.3 2.7 3.3 3 3.3 3.1 3.4 3.2 3.4 3.5 3.4 3.6M286.9 55l2.7 0 2.6 .1 2.8 .3 2.7 .4 2.8 .5 2.9 .7 2.8 .8 2.9 .9 2.9 1.1 3 1.2 3 1.4 3 1.6 3.1 1.6 3.1 1.9 3.1 1.9 3.2 2.2 3.2 2.3 3.2 2.4 3.2 2.7 3.3 2.7 3.3 3 3.4 3.1 3.3 3.3 3.4 3.4 3.5 3.6M288.5 52.8l2.6 0 2.7 .1 2.8 .3 2.7 .4 2.8 .5 2.9 .7 2.8 .8 2.9 1 3 1 3 1.3 3 1.4 3 1.5 3.1 1.7 3.1 1.8 3.1 2 3.1 2.1 3.2 2.3 3.3 2.5 3.2 2.6 3.3 2.8 3.3 3 3.3 3.1 3.4 3.2 3.4 3.5 3.4 3.6M290.1 50.6l2.6 .1 2.7 .1 2.8 .3 2.8 .4 2.8 .5 2.8 .7 2.9 .8 2.9 .9 2.9 1.1 3 1.3 3 1.4 3 1.5 3.1 1.7 3.1 1.8 3.1 2 3.2 2.2 3.2 2.3 3.2 2.4 3.3 2.7 3.3 2.7 3.3 3 3.3 3.1 3.4 3.3 3.4 3.4 3.4 3.6M291.7 48.5l2.6 .1 2.7 .1 2.8 .3 2.8 .4 2.8 .5 2.8 .7 2.9 .8 2.9 1 2.9 1.1 3 1.2 3 1.4 3.1 1.6 3 1.6 3.1 1.9 3.2 2 3.1 2.1 3.2 2.4 3.3 2.4 3.2 2.6 3.3 2.8 3.3 3 3.4 3.1 3.3 3.3 3.4 3.4 3.5 3.7M293.2 46.5l2.7 0 2.7 .2 2.8 .3 2.8 .4 2.8 .5 2.8 .7 2.9 .8 2.9 1 3 1.1 2.9 1.2 3.1 1.4 3 1.6 3.1 1.7 3.1 1.8 3.1 2 3.2 2.2 3.2 2.3 3.2 2.5 3.3 2.6 3.3 2.8 3.3 2.9 3.3 3.2 3.4 3.3 3.4 3.4 3.4 3.6M294.8 44.5l2.7 0 2.7 .2 2.8 .3 2.8 .4 2.8 .6 2.8 .6 2.9 .9 2.9 .9 3 1.1 3 1.3 3 1.4 3 1.6 3.1 1.7 3.1 1.8 3.2 2 3.1 2.2 3.2 2.3 3.3 2.5 3.2 2.6 3.3 2.8 3.3 3 3.4 3.1 3.3 3.3 3.4 3.4 3.4 3.7M296.4 42.6l2.7 0 2.7 .2 2.8 .3 2.8 .4 2.8 .5 2.8 .7 2.9 .9 2.9 .9 3 1.2 3 1.2 3 1.4 3.1 1.6 3 1.7 3.1 1.9 3.2 2 3.2 2.1 3.2 2.3 3.2 2.5 3.2 2.7 3.3 2.8 3.4 2.9 3.3 3.2 3.4 3.3 3.4 3.4 3.4 3.6M298 40.7l2.7 0 2.7 .2 2.7 .3 2.8 .4 2.9 .6 2.8 .7 2.9 .8 2.9 1 3 1.1 3 1.3 3 1.4 3.1 1.6 3.1 1.7 3.1 1.9 3.1 2 3.2 2.1 3.2 2.4 3.2 2.5 3.3 2.6 3.3 2.8 3.3 3 3.3 3.1 3.4 3.3 3.4 3.5 3.4 3.6M299.5 38.9l2.7 0 2.8 .2 2.7 .3 2.8 .4 2.9 .6 2.8 .7 2.9 .9 2.9 .9 3 1.2 3 1.2 3 1.5 3.1 1.5 3.1 1.7 3.1 1.9 3.1 2 3.2 2.2 3.2 2.3 3.2 2.5 3.3 2.7 3.3 2.8 3.3 3 3.3 3.1 3.4 3.3 3.4 3.5 3.4 3.6M301.1 37.1l2.7 .1 2.7 .1 2.8 .4 2.8 .4 2.8 .6 2.9 .7 2.9 .8 2.9 1 3 1.2 3 1.2 3 1.5 3.1 1.5 3.1 1.8 3.1 1.8 3.1 2.1 3.2 2.1 3.2 2.4 3.3 2.5 3.2 2.6 3.3 2.8 3.3 3 3.4 3.2 3.3 3.3 3.4 3.4 3.4 3.7M302.7 35.4l2.7 .1 2.7 .1 2.8 .4 2.8 .4 2.8 .6 2.9 .7 2.9 .9 2.9 1 3 1.1 3 1.3 3 1.4 3.1 1.6 3.1 1.7 3.1 1.9 3.1 2 3.2 2.2 3.2 2.4 3.3 2.5 3.2 2.6 3.3 2.9 3.3 2.9 3.4 3.2 3.3 3.3 3.4 3.5 3.4 3.6M304.2 33.7l2.7 .1 2.8 .2 2.8 .3 2.8 .5 2.8 .6 2.9 .7 2.9 .9 2.9 1 3 1.1 3 1.3 3 1.4 3.1 1.6 3.1 1.8 3.1 1.8 3.1 2.1 3.2 2.2 3.2 2.3 3.3 2.5 3.2 2.7 3.3 2.8 3.3 3 3.4 3.2 3.3 3.3 3.4 3.5 3.4 3.6M305.8 32.1l2.7 .1 2.7 .2 2.8 .3 2.8 .5 2.9 .6 2.9 .7 2.9 .9 2.9 1 3 1.2 3 1.3 3 1.4 3.1 1.6 3.1 1.7 3.1 1.9 3.1 2.1 3.2 2.2 3.2 2.3 3.3 2.5 3.2 2.7 3.3 2.9 3.3 2.9 3.4 3.2 3.3 3.3 3.4 3.5 3.4 3.6M307.3 30.6l2.7 .1 2.8 .2 2.8 .3 2.8 .5 2.8 .6 2.9 .7 2.9 .9 3 1 3 1.2 3 1.3 3 1.4 3.1 1.6 3 1.8 3.2 1.9 3.1 2 3.2 2.2 3.2 2.4 3.2 2.5 3.3 2.7 3.3 2.8 3.3 3 3.3 3.2 3.4 3.3 3.4 3.5 3.4 3.7M308.9 29.1l2.7 .1 2.7 .2 2.8 .3 2.9 .5 2.8 .6 2.9 .8 2.9 .9 2.9 1 3 1.2 3 1.3 3.1 1.4 3 1.6 3.1 1.8 3.1 1.9 3.2 2.1 3.2 2.2 3.2 2.3 3.2 2.6 3.3 2.6 3.3 2.9 3.3 3 3.3 3.1 3.4 3.4 3.4 3.5 3.4 3.6M310.4 27.6l2.7 .1 2.8 .3 2.8 .3 2.8 .5 2.9 .6 2.9 .8 2.9 .9 2.9 1 3 1.2 3 1.3 3 1.5 3.1 1.6 3.1 1.7 3.1 2 3.2 2 3.2 2.2 3.2 2.4 3.2 2.5 3.3 2.7 3.2 2.9 3.4 3 3.3 3.2 3.3 3.3 3.4 3.5 3.4 3.6M311.9 26.2l2.8 .2 2.7 .2 2.8 .3 2.9 .5 2.8 .7 2.9 .7 2.9 .9 3 1.1 3 1.2 3 1.3 3 1.5 3.1 1.6 3.1 1.8 3.1 1.9 3.1 2 3.2 2.3 3.2 2.4 3.3 2.5 3.2 2.7 3.3 2.8 3.3 3.1 3.3 3.1 3.4 3.4 3.4 3.5 3.4 3.6M313.5 24.9l2.7 .1 2.8 .3 2.8 .3 2.8 .5 2.9 .7 2.9 .7 2.9 1 2.9 1 3 1.2 3 1.3 3.1 1.5 3 1.6 3.1 1.8 3.1 2 3.2 2 3.2 2.3 3.2 2.4 3.2 2.5 3.3 2.7 3.3 2.9 3.3 3 3.3 3.2 3.4 3.3 3.3 3.5 3.4 3.7M315 23.6l2.7 .1 2.8 .3 2.8 .4 2.8 .5 2.9 .6 2.9 .8 2.9 .9 3 1.1 3 1.2 3 1.3 3 1.5 3.1 1.7 3.1 1.8 3.1 1.9 3.1 2.1 3.2 2.2 3.2 2.4 3.3 2.6 3.2 2.7 3.3 2.8 3.3 3.1 3.3 3.1 3.4 3.4 3.4 3.5 3.4 3.7M316.5 22.4l2.8 .1 2.7 .3 2.8 .4 2.9 .5 2.8 .6 2.9 .8 3 1 2.9 1 3 1.2 3 1.4 3 1.5 3.1 1.6 3.1 1.8 3.1 2 3.2 2.1 3.2 2.2 3.2 2.4 3.2 2.6 3.3 2.7 3.2 2.9 3.3 3 3.4 3.2 3.3 3.3 3.4 3.6 3.4 3.6M318 21.2l2.8 .1 2.8 .3 2.8 .4 2.8 .5 2.9 .7 2.9 .8 2.9 1 2.9 1 3 1.2 3 1.4 3.1 1.5 3.1 1.7 3.1 1.8 3.1 1.9 3.1 2.1 3.2 2.3 3.2 2.4 3.2 2.5 3.3 2.8 3.3 2.8 3.3 3.1 3.3 3.2 3.4 3.3 3.3 3.6 3.4 3.6M319.6 20.1l2.7 .1 2.8 .3 2.8 .4 2.8 .6 2.9 .6 2.9 .8 2.9 1 3 1.1 3 1.2 3 1.4 3 1.5 3.1 1.7 3.1 1.8 3.1 1.9 3.2 2.1 3.1 2.3 3.2 2.4 3.3 2.6 3.2 2.7 3.3 2.9 3.3 3 3.3 3.2 3.4 3.4 3.3 3.5 3.4 3.7M321.1 19l2.7 .2 2.8 .3 2.8 .4 2.8 .5 2.9 .7 2.9 .8 2.9 1 3 1.1 3 1.2 3 1.4 3 1.5 3.1 1.7 3.1 1.8 3.1 2 3.2 2.1 3.2 2.3 3.2 2.4 3.2 2.6 3.2 2.7 3.3 2.9 3.3 3 3.3 3.3 3.4 3.3 3.3 3.6 3.4 3.6M322.6 18l2.7 .2 2.8 .2 2.8 .5 2.9 .5 2.8 .7 2.9 .9 3 .9 2.9 1.1 3 1.3 3 1.4 3.1 1.5 3 1.7 3.1 1.8 3.1 2 3.2 2.1 3.2 2.3 3.2 2.4 3.2 2.6 3.2 2.7 3.3 2.9 3.3 3.1 3.3 3.2 3.4 3.4 3.3 3.5 3.4 3.7M324.1 17l2.7 .2 2.8 .3 2.8 .4 2.9 .6 2.8 .7 2.9 .9 3 .9 2.9 1.1 3 1.3 3 1.4 3.1 1.5 3 1.7 3.1 1.9 3.2 2 3.1 2.1 3.2 2.3 3.2 2.4 3.2 2.6 3.2 2.8 3.3 2.9 3.3 3 3.3 3.2 3.4 3.4 3.3 3.6 3.4 3.7M325.6 16.1l2.7 .2 2.8 .3 2.8 .4 2.9 .6 2.8 .7 2.9 .9 3 1 2.9 1.1 3 1.3 3 1.4 3.1 1.5 3 1.7 3.1 1.9 3.2 2 3.1 2.1 3.2 2.3 3.2 2.5 3.2 2.6 3.2 2.7 3.3 2.9 3.3 3.1 3.3 3.2 3.3 3.4 3.4 3.6 3.4 3.7M327 15.2l2.8 .2 2.8 .4 2.8 .4 2.8 .6 2.9 .7 2.9 .9 3 1 2.9 1.1 3 1.3 3 1.4 3.1 1.6 3 1.7 3.1 1.8 3.1 2 3.2 2.2 3.2 2.3 3.2 2.5 3.2 2.6 3.2 2.7 3.3 2.9 3.3 3.1 3.3 3.3 3.3 3.3 3.4 3.6 3.3 3.7M328.5 14.4l2.8 .2 2.8 .4 2.8 .4 2.8 .6 2.9 .8 2.9 .8 2.9 1 3 1.2 3 1.3 3 1.4 3.1 1.6 3 1.7 3.1 1.9 3.1 2 3.2 2.1 3.1 2.3 3.2 2.5 3.3 2.6 3.2 2.8 3.3 2.9 3.2 3.1 3.3 3.2 3.4 3.4 3.3 3.6 3.4 3.7M330 13.6l2.8 .3 2.7 .3 2.9 .5 2.8 .6 2.9 .8 2.9 .8 2.9 1.1 3 1.1 3 1.3 3 1.5 3 1.5 3.1 1.8 3.1 1.8 3.1 2.1 3.1 2.1 3.2 2.3 3.2 2.5 3.2 2.6 3.3 2.8 3.2 2.9 3.3 3.1 3.3 3.3 3.3 3.4 3.4 3.6 3.3 3.7M331.5 12.9l2.7 .3 2.8 .3 2.8 .5 2.9 .6 2.9 .8 2.9 .9 2.9 1 3 1.2 2.9 1.3 3.1 1.4 3 1.6 3.1 1.8 3.1 1.9 3.1 2 3.1 2.2 3.2 2.3 3.2 2.5 3.2 2.6 3.2 2.8 3.3 2.9 3.2 3.1 3.3 3.3 3.4 3.4 3.3 3.6 3.4 3.7M332.9 12.2l2.8 .3 2.8 .4 2.8 .5 2.9 .6 2.8 .8 2.9 .9 3 1 2.9 1.2 3 1.3 3 1.5 3.1 1.6 3 1.7 3.1 1.9 3.1 2.1 3.2 2.2 3.1 2.3 3.2 2.5 3.2 2.6 3.3 2.8 3.2 3 3.3 3.1 3.3 3.2 3.3 3.4 3.3 3.6 3.4 3.8M334.4 11.6l2.7 .3 2.8 .4 2.9 .5 2.8 .7 2.9 .7 2.9 .9 2.9 1.1 3 1.2 3 1.3 3 1.5 3 1.6 3.1 1.8 3.1 1.9 3.1 2 3.1 2.2 3.2 2.3 3.2 2.5 3.2 2.7 3.2 2.8 3.2 3 3.3 3.1 3.3 3.2 3.3 3.5 3.3 3.5 3.4 3.8M335.8 11.1l2.8 .2 2.8 .4 2.8 .6 2.9 .6 2.8 .8 3 1 2.9 1 2.9 1.2 3 1.4 3 1.4 3.1 1.7 3 1.7 3.1 1.9 3.1 2.1 3.2 2.2 3.1 2.4 3.2 2.5 3.2 2.6 3.2 2.8 3.3 3 3.2 3.1 3.3 3.3 3.3 3.4 3.4 3.6 3.3 3.8M337.3 10.5l2.7 .3 2.8 .4 2.9 .6 2.8 .7 2.9 .8 2.9 .9 2.9 1.1 3 1.2 3 1.3 3 1.5 3 1.7 3.1 1.7 3.1 2 3.1 2 3.1 2.3 3.2 2.3 3.1 2.5 3.2 2.7 3.3 2.8 3.2 3 3.3 3.1 3.2 3.3 3.3 3.4 3.4 3.6 3.3 3.8M338.7 10.1l2.8 .3 2.8 .4 2.8 .6 2.9 .6 2.8 .9 2.9 .9 3 1.1 2.9 1.2 3 1.4 3 1.5 3.1 1.6 3 1.8 3.1 2 3.1 2 3.1 2.3 3.2 2.3 3.2 2.6 3.1 2.6 3.3 2.9 3.2 2.9 3.3 3.2 3.2 3.3 3.3 3.4 3.3 3.6 3.4 3.8M340.1 9.7l2.8 .3 2.8 .4 2.8 .6 2.9 .7 2.9 .8 2.9 1 2.9 1.1 3 1.2 2.9 1.4 3 1.5 3.1 1.6 3 1.8 3.1 2 3.1 2.1 3.1 2.2 3.2 2.4 3.2 2.5 3.2 2.7 3.2 2.8 3.2 3 3.2 3.2 3.3 3.3 3.3 3.4 3.3 3.6 3.3 3.8M341.6 9.3l2.7 .3 2.8 .5 2.9 .5 2.8 .8 2.9 .8 2.9 1 2.9 1.1 3 1.2 3 1.4 3 1.5 3 1.7 3 1.8 3.1 2 3.1 2.1 3.1 2.2 3.2 2.4 3.2 2.5 3.1 2.7 3.3 2.9 3.2 3 3.2 3.1 3.3 3.3 3.3 3.5 3.3 3.6 3.3 3.8M343 9l2.8 .3 2.8 .5 2.8 .6 2.8 .7 2.9 .8 2.9 1 2.9 1.2 3 1.2 3 1.4 3 1.5 3 1.7 3.1 1.8 3 2 3.1 2.1 3.1 2.3 3.2 2.4 3.2 2.5 3.1 2.7 3.2 2.9 3.3 3 3.2 3.1 3.3 3.3 3.3 3.5 3.2 3.6 3.4 3.8M344.4 8.7l2.8 .3 2.8 .5 2.8 .6 2.8 .8 2.9 .8 2.9 1 2.9 1.2 3 1.2 3 1.5 3 1.5 3 1.7 3.1 1.8 3 2 3.1 2.1 3.1 2.3 3.2 2.4 3.1 2.5 3.2 2.8 3.2 2.8 3.2 3 3.3 3.2 3.2 3.3 3.3 3.5 3.3 3.6 3.3 3.8M345.8 8.5l2.8 .3 2.8 .5 2.8 .6 2.8 .8 2.9 .9 2.9 1 2.9 1.1 3 1.3 3 1.4 3 1.6 3 1.7 3 1.8 3.1 2 3.1 2.2 3.1 2.2 3.2 2.4 3.1 2.6 3.2 2.7 3.2 2.9 3.2 3 3.2 3.2 3.3 3.3 3.2 3.5 3.3 3.6 3.3 3.8M347.2 8.3l2.8 .4 2.8 .5 2.8 .6 2.8 .8 2.9 .9 2.9 1 2.9 1.1 3 1.3 3 1.5 3 1.5 3 1.8 3 1.8 3.1 2 3.1 2.1 3.1 2.3 3.1 2.5 3.2 2.5 3.1 2.8 3.2 2.8 3.2 3.1 3.3 3.1 3.2 3.4 3.3 3.5 3.3 3.6 3.3 3.8M348.6 8.2l2.8 .3 2.8 .6 2.8 .6 2.8 .8 2.9 .9 2.9 1 2.9 1.2 3 1.3 2.9 1.5 3 1.5 3.1 1.8 3 1.8 3.1 2 3 2.2 3.2 2.3 3.1 2.4 3.1 2.6 3.2 2.7 3.2 2.9 3.2 3.1 3.2 3.1 3.3 3.4 3.2 3.5 3.3 3.6 3.3 3.8M350 8.1l2.7 .4 2.8 .5 2.9 .7 2.8 .8 2.9 .9 2.9 1 2.9 1.2 2.9 1.3 3 1.5 3 1.6 3 1.7 3.1 1.9 3 2 3.1 2.2 3.1 2.3 3.1 2.4 3.2 2.6 3.1 2.8 3.2 2.9 3.2 3 3.2 3.2 3.3 3.3 3.2 3.5 3.3 3.7 3.3 3.8M351.4 8l2.7 .4 2.8 .6 2.8 .7 2.9 .8 2.9 .9 2.9 1.1 2.9 1.2 2.9 1.3 3 1.5 3 1.6 3 1.7 3 1.9 3.1 2 3.1 2.2 3.1 2.3 3.1 2.5 3.1 2.6 3.2 2.7 3.1 2.9 3.2 3.1 3.3 3.2 3.2 3.3 3.2 3.6 3.3 3.6 3.3 3.8" fill="none" stroke="#000" stroke-opacity="1" stroke-width="0.25" stroke-linejoin="round"/>
<g font-size="6.3"><text x="271.1" y="95.2" text-anchor="end">10</text><text x="271.0" y="82.5" text-anchor="end">20</text><text x="270.8" y="69.8" text-anchor="end">30</text><text x="270.6" y="57.1" text-anchor="end">40</text><text x="270.4" y="44.4" text-anchor="end">50</text><text x="270.2" y="31.7" text-anchor="end">60</text><text x="270.0" y="19.0" text-anchor="end">70</text><text x="268.9" y="126.7" text-anchor="middle">7.00</text><text x="283.5" y="133.7" text-anchor="middle">6.00</text><text x="298.1" y="140.8" text-anchor="middle">5.00</text><text x="312.8" y="147.8" text-anchor="middle">4.00</text><text x="327.4" y="154.8" text-anchor="middle">3.00</text><text x="342.1" y="161.8" text-anchor="middle">2.00</text><text x="360.3" y="161.9" text-anchor="middle">2.50</text><text x="378.6" y="153.0" text-anchor="middle">4.00</text><text x="396.9" y="144.2" text-anchor="middle">5.50</text><text x="415.1" y="135.3" text-anchor="middle">7.00</text><text x="433.4" y="126.5" text-anchor="middle">8.50</text></g>
<path d="M278.0 120.9l-1.1 1.0M292.6 127.9l-1.1 1.0M307.3 134.9l-1.1 1.0M321.9 142.0l-1.1 1.0M336.6 149.0l-1.1 1.0M351.2 156.0l-1.1 1.0M351.2 156.0l1.1 1.0M369.5 147.2l1.1 1.0M387.8 138.3l1.1 1.0M406.0 129.4l1.1 1.0M424.3 120.6l1.1 1.0" stroke="#000" stroke-width=".7" fill="none"/>
<g font-size="8.15"><text transform="translate(292.9 154.2) rotate(25.3)" text-anchor="middle">Reaction time (h)</text><text transform="translate(413.3 156.1) rotate(-25.3)" text-anchor="middle">Green bean (%)</text><text transform="translate(255.6 55.5) rotate(-90.0)" text-anchor="middle">Chlorogenic acid (g/kg DW)</text></g>
<text x="233.6" y="6.5" font-size="8.6" font-weight="bold">(B)</text>
</g>
<g id="pC">
<path d="M510.6 120.7L584.5 155.9L659.1 120.7L585.0 93.0z" fill="#ff0" stroke="#222" stroke-width=".5"/>
<path d="M583.8 155.6L585.3 155.5" fill="none" stroke="#00ff80" stroke-width=".5" stroke-opacity=".85" stroke-linecap="round"/>
<path d="M560.8 144.6L562.1 144.8M564.3 145.0L562.1 144.8M564.4 145.0L564.3 145.0M564.4 145.0L566.5 145.2M567.8 145.4L566.5 145.2M567.8 145.4L568.7 145.4M571.0 145.6L568.7 145.4M571.1 145.6L571.0 145.6M571.1 145.6L573.4 145.8M574.2 145.8L573.4 145.8M574.2 145.8L575.9 145.9M577.1 145.9L575.9 145.9M577.1 145.9L578.4 146.0M580.0 146.0L578.4 146.0M580.0 146.0L581.0 146.0M582.8 146.0L581.0 146.0M582.8 146.0L583.7 146.0M585.4 146.0L583.7 146.0M585.4 146.0L586.5 146.0M588.0 145.9L586.5 146.0M588.0 145.9L589.4 145.9M590.5 145.8L589.4 145.9M590.5 145.8L592.5 145.7M593.0 145.7L592.5 145.7M593.0 145.7L595.3 145.6M595.3 145.6L595.6 145.5M597.6 145.4L595.6 145.5M597.6 145.4L598.9 145.3M599.9 145.2L598.9 145.3M599.9 145.2L602.0 144.9M602.0 144.9L602.4 144.9M604.2 144.7L602.4 144.9M604.2 144.7L606.2 144.4M606.2 144.4L606.2 144.4M606.2 144.4L608.3 144.1M608.3 144.1L610.2 143.8" fill="none" stroke="#00ff28" stroke-width=".5" stroke-opacity=".85" stroke-linecap="round"/>
<path d="M524.7 116.4L524.2 115.7M525.3 117.1L524.7 116.4M525.9 117.7L525.6 117.4M525.6 117.4L525.3 117.1M526.6 118.4L525.9 117.7M527.2 119.1L526.6 118.4M528.0 119.7L527.7 119.5M527.7 119.5L527.2 119.1M528.7 120.4L528.0 119.7M529.5 121.0L528.7 120.4M530.4 121.7L529.5 121.0M531.2 122.3L531.0 122.2M531.0 122.2L530.4 121.7M532.1 122.9L531.2 122.3M533.1 123.5L532.1 122.9M534.0 124.1L533.1 123.5M535.0 124.7L534.0 124.1M536.1 125.3L535.0 124.7M537.2 125.8L536.1 125.3M538.3 126.4L537.2 125.8M539.5 126.9L538.3 126.4M540.7 127.4L539.5 126.9M541.9 128.0L540.7 127.4M543.2 128.5L541.9 128.0M544.5 129.0L543.2 128.5M545.9 129.5L544.5 129.0M547.3 129.9L545.9 129.5M548.7 130.4L547.3 129.9M549.2 130.5L548.7 130.4M549.2 130.5L550.2 130.8M551.7 131.3L550.2 130.8M553.3 131.7L551.7 131.3M554.9 132.1L553.3 131.7M555.2 132.1L554.9 132.1M555.2 132.1L556.6 132.4M558.3 132.8L556.6 132.4M560.0 133.1L558.3 132.8M560.0 133.1L560.1 133.1M561.9 133.5L560.1 133.1M563.8 133.8L561.9 133.5M564.1 133.8L563.8 133.8M564.1 133.8L565.8 134.0M567.7 134.3L565.8 134.0M567.7 134.3L567.8 134.3M569.9 134.5L567.8 134.3M571.1 134.6L569.9 134.5M571.1 134.6L572.0 134.7M574.2 134.9L572.0 134.7M574.3 134.9L574.2 134.9M574.3 134.9L576.5 135.0M577.2 135.0L576.5 135.0M577.2 135.0L578.9 135.1M580.0 135.1L578.9 135.1M580.0 135.1L581.4 135.2M582.7 135.2L581.4 135.2M582.7 135.2L584.0 135.2M585.3 135.1L584.0 135.2M585.3 135.1L586.7 135.1M587.8 135.1L586.7 135.1M587.8 135.1L589.6 135.0M590.1 135.0L589.6 135.0M590.1 135.0L592.4 134.8M592.4 134.8L592.6 134.8M594.6 134.7L592.6 134.8M594.6 134.7L595.8 134.5M596.8 134.5L595.8 134.5M596.8 134.5L598.8 134.2M598.8 134.2L599.3 134.2M600.8 134.0L599.3 134.2M600.8 134.0L602.8 133.7M602.8 133.7L603.1 133.6M643.1 115.6L643.1 115.6M643.1 115.6L643.6 114.9M604.7 133.4L603.1 133.6M604.7 133.4L606.5 133.1M606.5 133.1L607.3 132.9M641.5 117.5L641.9 117.0M641.9 117.0L642.5 116.3M642.5 116.3L643.1 115.6M608.3 132.7L607.3 132.9M608.3 132.7L610.0 132.4M610.0 132.4L611.7 132.0M611.7 132.0L612.2 131.8M639.1 119.6L639.8 119.0M639.8 119.0L640.6 118.4M640.6 118.4L641.2 117.7M641.2 117.7L641.5 117.5M613.3 131.6L612.2 131.8M613.3 131.6L614.9 131.2M614.9 131.2L616.4 130.7M616.4 130.7L617.9 130.3M617.9 130.3L618.8 130.0M635.2 122.5L635.7 122.2M635.7 122.2L636.6 121.6M636.6 121.6L637.5 121.0M637.5 121.0L638.3 120.3M638.3 120.3L639.1 119.7M639.1 119.7L639.1 119.6M619.4 129.8L618.8 130.0M619.4 129.8L620.8 129.4M620.8 129.4L622.2 128.9M622.2 128.9L623.5 128.4M623.5 128.4L624.8 127.9M624.8 127.9L626.1 127.4M626.1 127.4L627.3 126.8M627.3 126.8L628.5 126.3M628.5 126.3L629.6 125.7M629.6 125.7L630.7 125.2M630.7 125.2L631.8 124.6M631.8 124.6L632.8 124.0M632.8 124.0L633.8 123.4M633.8 123.4L634.8 122.8M634.8 122.8L635.2 122.5" fill="none" stroke="#78ff00" stroke-width=".5" stroke-opacity=".85" stroke-linecap="round"/>
<path d="M547.0 108.0L546.9 107.8M546.9 107.8L546.6 107.3M547.4 108.7L547.0 108.0M547.9 109.4L547.7 109.1M547.7 109.1L547.4 108.7M548.5 110.1L547.9 109.4M549.1 110.8L549.0 110.7M549.0 110.7L548.5 110.1M549.7 111.4L549.1 110.8M550.5 112.1L549.7 111.4M551.2 112.7L551.1 112.6M551.1 112.6L550.5 112.1M552.0 113.3L551.2 112.7M552.9 113.9L552.0 113.3M553.9 114.5L552.9 113.9M554.8 115.0L553.9 114.5M555.9 115.6L554.8 115.0M557.0 116.1L555.9 115.6M558.1 116.6L557.0 116.1M559.3 117.1L558.1 116.6M560.6 117.5L559.3 117.1M561.9 118.0L560.6 117.5M563.3 118.4L561.9 118.0M564.7 118.8L563.3 118.4M566.2 119.2L564.7 118.8M566.6 119.3L566.2 119.2M566.6 119.3L567.8 119.5M569.5 119.9L567.8 119.5M571.1 120.2L569.5 119.9M571.1 120.2L571.2 120.2M573.0 120.4L571.2 120.2M574.7 120.6L573.0 120.4M574.7 120.6L575.0 120.7M577.0 120.9L575.0 120.7M577.8 120.9L577.0 120.9M577.8 120.9L579.1 121.0M580.7 121.1L579.1 121.0M580.7 121.1L581.4 121.1M583.3 121.1L581.4 121.1M583.3 121.1L583.8 121.1M585.7 121.1L583.8 121.1M585.7 121.1L586.4 121.0M587.9 121.0L586.4 121.0M587.9 121.0L589.3 120.9M620.8 107.6L621.0 107.3M621.0 107.3L621.3 106.6M590.0 120.8L589.3 120.9M590.0 120.8L592.1 120.6M592.1 120.6L592.4 120.6M619.9 109.0L620.1 108.8M620.1 108.8L620.6 108.1M620.6 108.1L620.8 107.6M594.0 120.4L592.4 120.6M594.0 120.4L595.8 120.1M595.8 120.1L596.1 120.1M618.5 110.6L619.0 110.1M619.0 110.1L619.6 109.5M619.6 109.5L619.9 109.0M597.5 119.8L596.1 120.1M597.5 119.8L599.2 119.5M599.2 119.5L600.7 119.2M616.2 112.6L616.9 112.1M616.9 112.1L617.6 111.5M617.6 111.5L618.3 110.8M618.3 110.8L618.5 110.6M600.8 119.2L600.7 119.2M600.8 119.2L602.3 118.8M602.3 118.8L603.8 118.4M603.8 118.4L605.2 118.0M605.2 118.0L606.5 117.5M606.5 117.5L607.8 117.0M607.8 117.0L609.0 116.6M609.0 116.6L610.2 116.1M610.2 116.1L611.3 115.5M611.3 115.5L612.4 115.0M612.4 115.0L613.4 114.5M613.4 114.5L614.3 113.9M614.3 113.9L615.2 113.3M615.2 113.3L616.1 112.7M616.1 112.7L616.2 112.6" fill="none" stroke="#c8ff00" stroke-width=".5" stroke-opacity=".85" stroke-linecap="round"/>
<path d="M510.6 120.7L505.8 19.3L584.8 1.3L663.6 19.0L659.1 120.7M584.8 1.3L585.0 93.0" fill="none" stroke="#555" stroke-width=".7"/>
<g fill="currentColor" stroke="currentColor" stroke-width=".5" stroke-linejoin="round"><path d="M582 8.7l2.8 .3 2.8-.3-2.8-.3z" color="#ef5f00"/><path d="M579.2 9.1l2.8 .2 2.8-.3-2.8-.3z" color="#ea5600"/><path d="M584.8 9l2.8 .4 2.9-.3-2.9-.4z" color="#eb5700"/><path d="M576.3 9.6l2.8 .2 2.9-.5-2.8-.2z" color="#e75000"/><path d="M587.6 9.4l2.9 .5 2.8-.2-2.8-.6z" color="#e85200"/><path d="M582 9.3l2.8 .4 2.8-.3-2.8-.4z" color="#e64d00"/><path d="M579.1 9.8l2.8 .4 2.9-.5-2.8-.4z" color="#e24600"/><path d="M573.4 10.2l2.8 .2 2.9-.6-2.8-.2z" color="#e64d00"/><path d="M584.8 9.7l2.9 .5 2.8-.3-2.9-.5z" color="#e34700"/><path d="M590.5 9.9l2.9 .7 2.8-.2-2.9-.7z" color="#e75000"/><path d="M570.5 11l2.8 .2 2.9-.8-2.8-.2z" color="#e64d00"/><path d="M576.2 10.4l2.9 .4 2.8-.6-2.8-.4z" color="#e14200"/><path d="M581.9 10.2l2.9 .5 2.9-.5-2.9-.5z" color="#df4000"/><path d="M593.4 10.6l2.9 .8 2.8-.2-2.9-.8z" color="#e85200"/><path d="M587.7 10.2l2.8 .7 2.9-.3-2.9-.7z" color="#e24500"/><path d="M567.6 11.9l2.8 .2 2.9-.9-2.8-.2z" color="#e85000"/><path d="M573.3 11.2l2.8 .3 3-.7-2.9-.4z" color="#e04200"/><path d="M579.1 10.8l2.8 .5 2.9-.6-2.9-.5z" color="#dd3d00"/><path d="M584.8 10.7l2.9 .6 2.8-.4-2.8-.7z" color="#de3e00"/><path d="M590.5 10.9l2.9 .7 2.9-.2-2.9-.8z" color="#e24600"/><path d="M596.3 11.4l2.9 .9 2.8-.1-2.9-1z" color="#eb5700"/><path d="M576.1 11.5l2.9 .5 2.9-.7-2.8-.5z" color="#dd3d00"/><path d="M564.6 13l2.8 .1 3-1-2.8-.2z" color="#eb5700"/><path d="M570.4 12.1l2.8 .3 2.9-.9-2.8-.3z" color="#e24500"/><path d="M581.9 11.3l2.9 .6 2.9-.6-2.9-.6z" color="#db3b00"/><path d="M587.7 11.3l2.9 .8 2.8-.5-2.9-.7z" color="#de3e00"/><path d="M593.4 11.6l3 1 2.8-.3-2.9-.9z" color="#e54a00"/><path d="M599.2 12.3l2.9 1.1 2.9-.1-3-1.1z" color="#ef5f00"/><path d="M573.2 12.4l2.8 .4 3-.8-2.9-.5z" color="#de3e00"/><path d="M579 12l2.9 .6 2.9-.7-2.9-.6z" color="#db3a00"/><path d="M590.6 12.1l2.9 .9 2.9-.4-3-1z" color="#e04100"/><path d="M561.6 14.2l2.8 .1 3-1.2-2.8-.1z" color="#f06100"/><path d="M567.4 13.1l2.8 .3 3-1-2.8-.3z" color="#e54b00"/><path d="M584.8 11.9l2.9 .7 2.9-.5-2.9-.8z" color="#db3b00"/><path d="M596.4 12.6l2.9 1 2.8-.2-2.9-1.1z" color="#e85200"/><path d="M602.1 13.4l3 1.2 2.8-.1-2.9-1.2z" color="#f56a00"/><path d="M581.9 12.6l2.9 .7 2.9-.7-2.9-.7z" color="#da3a00"/><path d="M558.6 15.5l2.8 .1 3-1.3-2.8-.1z" color="#f76e00"/><path d="M570.2 13.4l2.9 .4 2.9-1-2.8-.4z" color="#e14300"/><path d="M576 12.8l2.9 .6 3-.8-2.9-.6z" color="#dc3b00"/><path d="M587.7 12.6l2.9 .9 2.9-.5-2.9-.9z" color="#dd3d00"/><path d="M593.5 13l3 1 2.8-.4-2.9-1z" color="#e34800"/><path d="M605.1 14.6l3 1.4 2.8-.1-3-1.4z" color="#fc7800"/><path d="M564.4 14.3l2.8 .3 3-1.2-2.8-.3z" color="#ea5500"/><path d="M599.3 13.6l3 1.2 2.8-.2-3-1.2z" color="#ee5d00"/><path d="M561.4 15.6l2.8 .3 3-1.3-2.8-.3z" color="#f06100"/><path d="M578.9 13.4l2.9 .7 3-.8-2.9-.7z" color="#db3b00"/><path d="M584.8 13.3l2.9 .9 2.9-.7-2.9-.9z" color="#dc3b00"/><path d="M555.6 17l2.8 .1 3-1.5-2.8-.1z" color="#ff7d00"/><path d="M567.2 14.6l2.9 .4 3-1.2-2.9-.4z" color="#e54c00"/><path d="M573.1 13.8l2.8 .6 3-1-2.9-.6z" color="#de3e00"/><path d="M590.6 13.5l3 1 2.9-.5-3-1z" color="#e04200"/><path d="M596.5 14l2.9 1.2 2.9-.4-3-1.2z" color="#e95300"/><path d="M602.3 14.8l3 1.4 2.8-.2-3-1.4z" color="#f56b00"/><path d="M608.1 16l3.1 1.5 2.7-.1-3-1.5z" color="#ff8400"/><path d="M552.5 18.6l2.8 .1 3.1-1.6-2.8-.1z" color="#ff8900"/><path d="M558.4 17.1l2.8 .2 3-1.4-2.8-.3z" color="#f87100"/><path d="M564.2 15.9l2.9 .4 3-1.3-2.9-.4z" color="#eb5800"/><path d="M575.9 14.4l2.9 .7 3-1-2.9-.7z" color="#dd3d00"/><path d="M581.8 14.1l2.9 .9 3-.8-2.9-.9z" color="#dc3c00"/><path d="M587.7 14.2l2.9 1 3-.7-3-1z" color="#df3f00"/><path d="M599.4 15.2l3 1.4 2.9-.4-3-1.4z" color="#ef6000"/><path d="M570.1 15l2.8 .5 3-1.1-2.8-.6z" color="#e24600"/><path d="M593.6 14.5l2.9 1.2 2.9-.5-2.9-1.2z" color="#e54c00"/><path d="M605.3 16.2l3 1.5 2.9-.2-3.1-1.5z" color="#fe7b00"/><path d="M611.2 17.5l3 1.6 2.8 0-3.1-1.7z" color="#ff9100"/><path d="M549.5 20.3l2.7 .1 3.1-1.7-2.8-.1z" color="#ff9600"/><path d="M555.3 18.7l2.8 .2 3.1-1.6-2.8-.2z" color="#ff8000"/><path d="M561.2 17.3l2.8 .4 3.1-1.4-2.9-.4z" color="#f36700"/><path d="M567.1 16.3l2.8 .5 3-1.3-2.8-.5z" color="#e85200"/><path d="M572.9 15.5l2.9 .7 3-1.1-2.9-.7z" color="#e14300"/><path d="M578.8 15.1l3 .9 2.9-1-2.9-.9z" color="#de3e00"/><path d="M584.7 15l3 1 2.9-.8-2.9-1z" color="#df3f00"/><path d="M590.6 15.2l3 1.2 2.9-.7-2.9-1.2z" color="#e34800"/><path d="M596.5 15.7l3.1 1.3 2.8-.4-3-1.4z" color="#ec5900"/><path d="M602.4 16.6l3.1 1.4 2.8-.3-3-1.5z" color="#f87100"/><path d="M614.2 19.1l3.1 1.8 2.8 0-3.1-1.8z" color="#ffa000"/><path d="M608.3 17.7l3.1 1.6 2.8-.2-3-1.6z" color="#f80"/><path d="M558.1 18.9l2.8 .4 3.1-1.6-2.8-.4z" color="#fc7800"/><path d="M593.6 16.4l3 1.3 3-.7-3.1-1.3z" color="#e95400"/><path d="M552.2 20.4l2.8 .2 3.1-1.7-2.8-.2z" color="#ff8e00"/><path d="M569.9 16.8l2.9 .7 3-1.3-2.9-.7z" color="#e74e00"/><path d="M546.4 22.2l2.7 .1 3.1-1.9-2.7-.1z" color="#ffa600"/><path d="M564 17.7l2.9 .5 3-1.4-2.8-.5z" color="#f06000"/><path d="M575.8 16.2l3 .9 3-1.1-3-.9z" color="#e14400"/><path d="M581.8 16l2.9 .9 3-.9-3-1z" color="#e04200"/><path d="M587.7 16l3 1.2 2.9-.8-3-1.2z" color="#e34700"/><path d="M599.6 17l3 1.5 2.9-.5-3.1-1.4z" color="#f46900"/><path d="M605.5 18l3 1.7 2.9-.4-3.1-1.6z" color="#ff8100"/><path d="M611.4 19.3l3.1 1.8 2.8-.2-3.1-1.8z" color="#ff9600"/><path d="M617.3 20.9l3.1 2 2.8 0-3.1-2z" color="#ffaf00"/><path d="M555 20.6l2.8 .4 3.1-1.7-2.8-.4z" color="#ff8700"/><path d="M560.9 19.3l2.9 .5 3.1-1.6-2.9-.5z" color="#f97200"/><path d="M572.8 17.5l2.9 .8 3.1-1.2-3-.9z" color="#e74f00"/><path d="M590.7 17.2l3 1.2 2.9-.7-3-1.3z" color="#e95300"/><path d="M596.6 17.7l3.1 1.4 2.9-.6-3-1.5z" color="#f16400"/><path d="M608.5 19.7l3.1 1.7 2.9-.3-3.1-1.8z" color="#ff8f00"/><path d="M549.1 22.3l2.8 .2 3.1-1.9-2.8-.2z" color="#ff9d00"/><path d="M566.9 18.2l2.9 .7 3-1.4-2.9-.7z" color="#ee5d00"/><path d="M543.2 24.3l2.8 0 3.1-2-2.7-.1z" color="#ffb500"/><path d="M578.8 17.1l2.9 .9 3-1.1-2.9-.9z" color="#e44800"/><path d="M584.7 16.9l3 1.2 3-.9-3-1.2z" color="#e44a00"/><path d="M602.6 18.5l3 1.6 2.9-.4-3-1.7z" color="#fe7b00"/><path d="M614.5 21.1l3.1 2 2.8-.2-3.1-2z" color="#ffa600"/><path d="M620.4 22.9l3.1 2.1 2.8 0-3.1-2.1z" color="#ffbe00"/><path d="M563.8 19.8l2.9 .6 3.1-1.5-2.9-.7z" color="#f66e00"/><path d="M540.1 26.5l2.7 0 3.2-2.2-2.8 0z" color="#ffc400"/><path d="M551.9 22.5l2.8 .4 3.1-1.9-2.8-.4z" color="#ff9600"/><path d="M557.8 21l2.9 .5 3.1-1.7-2.9-.5z" color="#ff8200"/><path d="M569.8 18.9l2.9 .8 3-1.4-2.9-.8z" color="#ee5c00"/><path d="M575.7 18.3l3 1 3-1.3-2.9-.9z" color="#e85200"/><path d="M587.7 18.1l3 1.3 3-1-3-1.2z" color="#ea5500"/><path d="M593.7 18.4l3 1.5 3-.8-3.1-1.4z" color="#f16200"/><path d="M599.7 19.1l3 1.6 2.9-.6-3-1.6z" color="#fb7600"/><path d="M605.6 20.1l3.1 1.8 2.9-.5-3.1-1.7z" color="#ff8900"/><path d="M611.6 21.4l3.1 2 2.9-.3-3.1-2z" color="#ff9f00"/><path d="M546 24.3l2.8 .2 3.1-2-2.8-.2z" color="#ffae00"/><path d="M581.7 18l3 1.1 3-1-3-1.2z" color="#e75000"/><path d="M617.6 23.1l3.1 2.1 2.8-.2-3.1-2.1z" color="#ffb600"/><path d="M623.5 25l3.1 2.3 2.8 0-3.1-2.3z" color="#ffcd00"/><path d="M566.7 20.4l2.9 .8 3.1-1.5-2.9-.8z" color="#f66d00"/><path d="M602.7 20.7l3.1 1.8 2.9-.6-3.1-1.8z" color="#ff8500"/><path d="M542.8 26.5l2.8 .2 3.2-2.2-2.8-.2z" color="#ffbc00"/><path d="M560.7 21.5l2.9 .6 3.1-1.7-2.9-.6z" color="#ff7f00"/><path d="M536.9 28.8l2.8 .1 3.1-2.4-2.7 0z" color="#ffd400"/><path d="M548.8 24.5l2.8 .4 3.1-2-2.8-.4z" color="#ffa700"/><path d="M554.7 22.9l2.9 .4 3.1-1.8-2.9-.5z" color="#ff9100"/><path d="M572.7 19.7l2.9 .9 3.1-1.3-3-1z" color="#ef5f00"/><path d="M578.7 19.3l3 1.1 3-1.3-3-1.1z" color="#ec5900"/><path d="M584.7 19.1l3 1.3 3-1-3-1.3z" color="#ed5b00"/><path d="M590.7 19.4l3.1 1.4 2.9-.9-3-1.5z" color="#f16400"/><path d="M596.7 19.9l3.1 1.6 2.9-.8-3-1.6z" color="#fa7400"/><path d="M608.7 21.9l3.1 1.9 2.9-.4-3.1-2z" color="#f90"/><path d="M614.7 23.4l3.1 2.1 2.9-.3-3.1-2.1z" color="#ffb000"/><path d="M626.6 27.3l3.2 2.4 2.8 0-3.2-2.4z" color="#fd0"/><path d="M620.7 25.2l3.1 2.2 2.8-.1-3.1-2.3z" color="#ffc500"/><path d="M545.6 26.7l2.8 .3 3.2-2.1-2.8-.4z" color="#ffb600"/><path d="M563.6 22.1l2.9 .8 3.1-1.7-2.9-.8z" color="#ff7e00"/><path d="M569.6 21.2l3 .9 3-1.5-2.9-.9z" color="#f76f00"/><path d="M581.7 20.4l3 1.2 3-1.2-3-1.3z" color="#f16300"/><path d="M599.8 21.5l3.1 1.7 2.9-.7-3.1-1.8z" color="#ff8400"/><path d="M605.8 22.5l3.1 1.9 2.9-.6-3.1-1.9z" color="#ff9500"/><path d="M539.7 28.9l2.7 .1 3.2-2.3-2.8-.2z" color="#fc0"/><path d="M557.6 23.3l2.9 .6 3.1-1.8-2.9-.6z" color="#ff8e00"/><path d="M533.7 31.3l2.8 .1 3.2-2.5-2.8-.1z" color="#ffe200"/><path d="M551.6 24.9l2.8 .4 3.2-2-2.9-.4z" color="#ffa100"/><path d="M575.6 20.6l3 1.1 3.1-1.3-3-1.1z" color="#f26500"/><path d="M587.7 20.4l3.1 1.4 3-1-3.1-1.4z" color="#f46800"/><path d="M593.8 20.8l3 1.6 3-.9-3.1-1.6z" color="#fa7500"/><path d="M611.8 23.8l3.2 2.1 2.8-.4-3.1-2.1z" color="#fa0"/><path d="M617.8 25.5l3.2 2.2 2.8-.3-3.1-2.2z" color="#ffbf00"/><path d="M623.8 27.4l3.2 2.4 2.8-.1-3.2-2.4z" color="#ffd600"/><path d="M629.8 29.7l3.2 2.5 2.7 .1-3.1-2.6z" color="#ffe900"/><path d="M530.5 34l2.8 0 3.2-2.6-2.8-.1z" color="#fe0"/><path d="M542.4 29l2.8 .3 3.2-2.3-2.8-.3z" color="#ffc600"/><path d="M548.4 27l2.9 .5 3.1-2.2-2.8-.4z" color="#ffb200"/><path d="M560.5 23.9l2.9 .8 3.1-1.8-2.9-.8z" color="#ff8c00"/><path d="M566.5 22.9l3 .9 3.1-1.7-3-.9z" color="#ff7f00"/><path d="M572.6 22.1l2.9 1.1 3.1-1.5-3-1.1z" color="#fa7400"/><path d="M578.6 21.7l3 1.3 3.1-1.4-3-1.2z" color="#f76f00"/><path d="M584.7 21.6l3 1.4 3.1-1.2-3.1-1.4z" color="#f87000"/><path d="M596.8 22.4l3.1 1.7 3-.9-3.1-1.7z" color="#ff8400"/><path d="M602.9 23.2l3.1 1.9 2.9-.7-3.1-1.9z" color="#ff9300"/><path d="M608.9 24.4l3.2 2 2.9-.5-3.2-2.1z" color="#ffa600"/><path d="M621 27.7l3.2 2.4 2.8-.3-3.2-2.4z" color="#ffcf00"/><path d="M633 32.2l3.2 2.8 2.7 0-3.2-2.7z" color="#fff600"/><path d="M536.5 31.4l2.7 .1 3.2-2.5-2.7-.1z" color="#fd0"/><path d="M554.4 25.3l2.9 .6 3.2-2-2.9-.6z" color="#ff9e00"/><path d="M590.8 21.8l3 1.6 3-1-3-1.6z" color="#fc7800"/><path d="M615 25.9l3.1 2.2 2.9-.4-3.2-2.2z" color="#ffba00"/><path d="M627 29.8l3.2 2.6 2.8-.2-3.2-2.5z" color="#ffe400"/><path d="M575.5 23.2l3.1 1.2 3-1.4-3-1.3z" color="#ff7c00"/><path d="M533.3 34l2.7 .2 3.2-2.7-2.7-.1z" color="#ffe900"/><path d="M551.3 27.5l2.8 .6 3.2-2.2-2.9-.6z" color="#ffaf00"/><path d="M527.3 36.8l2.7 0 3.3-2.8-2.8 0z" color="#fffb00"/><path d="M545.2 29.3l2.9 .5 3.2-2.3-2.9-.5z" color="#ffc100"/><path d="M563.4 24.7l2.9 .9 3.2-1.8-3-.9z" color="#ff8d00"/><path d="M569.5 23.8l2.9 1.1 3.1-1.7-2.9-1.1z" color="#ff8200"/><path d="M581.6 23l3.1 1.3 3-1.3-3-1.4z" color="#fd7a00"/><path d="M587.7 23l3.1 1.6 3-1.2-3-1.6z" color="#ff7e00"/><path d="M593.8 23.4l3.1 1.7 3-1-3.1-1.7z" color="#ff8600"/><path d="M599.9 24.1l3.1 1.9 3-.9-3.1-1.9z" color="#ff9300"/><path d="M606 25.1l3.1 2.1 3-.8-3.2-2z" color="#ffa400"/><path d="M612.1 26.4l3.1 2.3 2.9-.6-3.1-2.2z" color="#ffb600"/><path d="M618.1 28.1l3.2 2.4 2.9-.4-3.2-2.4z" color="#ffca00"/><path d="M624.2 30.1l3.2 2.5 2.8-.2-3.2-2.6z" color="#ffdf00"/><path d="M630.2 32.4l3.2 2.7 2.8-.1-3.2-2.8z" color="#fff000"/><path d="M636.2 35l3.2 2.8 2.8 .1-3.3-2.9z" color="#f4ff00"/><path d="M539.2 31.5l2.8 .3 3.2-2.5-2.8-.3z" color="#ffd700"/><path d="M557.3 25.9l2.9 .8 3.2-2-2.9-.8z" color="#ff9c00"/><path d="M572.4 24.9l3 1.2 3.2-1.7-3.1-1.2z" color="#ff8700"/><path d="M578.6 24.4l3 1.4 3.1-1.5-3.1-1.3z" color="#ff8400"/><path d="M590.8 24.6l3.1 1.7 3-1.2-3.1-1.7z" color="#ff8a00"/><path d="M615.2 28.7l3.2 2.3 2.9-.5-3.2-2.4z" color="#ffc600"/><path d="M627.4 32.6l3.2 2.7 2.8-.2-3.2-2.7z" color="#ffec00"/><path d="M536 34.2l2.8 .2 3.2-2.6-2.8-.3z" color="#ffe500"/><path d="M554.1 28.1l2.9 .7 3.2-2.1-2.9-.8z" color="#ffad00"/><path d="M524.1 39.8l2.7 0 3.2-3-2.7 0z" color="#e9ff00"/><path d="M530 36.8l2.8 .1 3.2-2.7-2.7-.2z" color="#fff600"/><path d="M548.1 29.8l2.8 .6 3.2-2.3-2.8-.6z" color="#ffbe00"/><path d="M542 31.8l2.9 .5 3.2-2.5-2.9-.5z" color="#ffd200"/><path d="M560.2 26.7l3 .9 3.1-2-2.9-.9z" color="#ff9c00"/><path d="M566.3 25.6l3 1.1 3.1-1.8-2.9-1.1z" color="#ff9000"/><path d="M584.7 24.3l3 1.6 3.1-1.3-3.1-1.6z" color="#ff8500"/><path d="M596.9 25.1l3.1 1.9 3-1-3.1-1.9z" color="#ff9500"/><path d="M603 26l3.2 2 2.9-.8-3.1-2.1z" color="#ffa300"/><path d="M609.1 27.2l3.2 2.2 2.9-.7-3.1-2.3z" color="#ffb400"/><path d="M621.3 30.5l3.2 2.5 2.9-.4-3.2-2.5z" color="#ffdb00"/><path d="M633.4 35.1l3.2 2.9 2.8-.2-3.2-2.8z" color="#ff0"/><path d="M639.4 37.8l3.3 3.1 2.7 0-3.2-3z" color="#d8ff00"/><path d="M538.8 34.4l2.8 .5 3.3-2.6-2.9-.5z" color="#ffe100"/><path d="M557 28.8l3 .9 3.2-2.1-3-.9z" color="#ffad00"/><path d="M569.3 26.7l3 1.2 3.1-1.8-3-1.2z" color="#ff9400"/><path d="M575.4 26.1l3.1 1.4 3.1-1.7-3-1.4z" color="#ff8e00"/><path d="M581.6 25.8l3.1 1.6 3-1.5-3-1.6z" color="#ff8d00"/><path d="M587.7 25.9l3.1 1.7 3.1-1.3-3.1-1.7z" color="#ff9000"/><path d="M593.9 26.3l3.1 1.8 3-1.1-3.1-1.9z" color="#ff9800"/><path d="M612.3 29.4l3.2 2.3 2.9-.7-3.2-2.3z" color="#ffc400"/><path d="M618.4 31l3.2 2.6 2.9-.6-3.2-2.5z" color="#ffd700"/><path d="M624.5 33l3.2 2.7 2.9-.4-3.2-2.7z" color="#ffe800"/><path d="M630.6 35.3l3.2 2.9 2.8-.2-3.2-2.9z" color="#fff900"/><path d="M520.8 42.9l2.7 0 3.3-3.1-2.7 0z" color="#cdff00"/><path d="M526.8 39.8l2.7 .1 3.3-3-2.8-.1z" color="#f4ff00"/><path d="M532.8 36.9l2.8 .3 3.2-2.8-2.8-.2z" color="#fff100"/><path d="M550.9 30.4l2.9 .7 3.2-2.3-2.9-.7z" color="#ffbc00"/><path d="M544.9 32.3l2.8 .5 3.2-2.4-2.8-.6z" color="#ffcf00"/><path d="M563.2 27.6l2.9 1 3.2-1.9-3-1.1z" color="#ff9f00"/><path d="M600 27l3.2 2 3-1-3.2-2z" color="#ffa500"/><path d="M606.2 28l3.1 2.2 3-.8-3.2-2.2z" color="#ffb300"/><path d="M636.6 38l3.3 3 2.8-.1-3.3-3.1z" color="#e4ff00"/><path d="M642.7 40.9l3.2 3.2 2.8 0-3.3-3.2z" color="#b8ff00"/><path d="M584.7 27.4l3.1 1.6 3-1.4-3.1-1.7z" color="#ff9800"/><path d="M621.6 33.6l3.3 2.6 2.8-.5-3.2-2.7z" color="#ffe500"/><path d="M541.6 34.9l2.9 .5 3.2-2.6-2.8-.5z" color="#ffdf00"/><path d="M517.5 46.1l2.7 0 3.3-3.2-2.7 0z" color="#a5ff00"/><path d="M523.5 42.9l2.7 .1 3.3-3.1-2.7-.1z" color="#d8ff00"/><path d="M529.5 39.9l2.8 .3 3.3-3-2.8-.3z" color="#fcff00"/><path d="M535.6 37.2l2.8 .4 3.2-2.7-2.8-.5z" color="#fe0"/><path d="M553.8 31.1l3 .9 3.2-2.3-3-.9z" color="#ffbc00"/><path d="M560 29.7l3 1.1 3.1-2.2-2.9-1z" color="#ffaf00"/><path d="M566.1 28.6l3 1.2 3.2-1.9-3-1.2z" color="#ffa300"/><path d="M572.3 27.9l3 1.3 3.2-1.7-3.1-1.4z" color="#ff9b00"/><path d="M578.5 27.5l3 1.5 3.2-1.6-3.1-1.6z" color="#ff9700"/><path d="M590.8 27.6l3.2 1.8 3-1.3-3.1-1.8z" color="#ff9e00"/><path d="M597 28.1l3.2 2 3-1.1-3.2-2z" color="#ffa800"/><path d="M609.3 30.2l3.2 2.3 3-.8-3.2-2.3z" color="#ffc300"/><path d="M615.5 31.7l3.2 2.5 2.9-.6-3.2-2.6z" color="#ffd500"/><path d="M627.7 35.7l3.3 2.9 2.8-.4-3.2-2.9z" color="#fff500"/><path d="M633.8 38.2l3.3 3 2.8-.2-3.3-3z" color="#edff00"/><path d="M645.9 44.1l3.3 3.3 2.7 .1-3.2-3.4z" color="#89ff00"/><path d="M547.7 32.8l2.9 .8 3.2-2.5-2.9-.7z" color="#ffcd00"/><path d="M603.2 29l3.2 2.2 2.9-1-3.1-2.2z" color="#ffb400"/><path d="M639.9 41l3.3 3.2 2.7-.1-3.2-3.2z" color="#c6ff00"/><path d="M563 30.8l3 1.1 3.1-2.1-3-1.2z" color="#ffb200"/><path d="M581.5 29l3.1 1.7 3.2-1.7-3.1-1.6z" color="#ffa200"/><path d="M587.8 29l3.1 1.9 3.1-1.5-3.2-1.8z" color="#ffa500"/><path d="M618.7 34.2l3.2 2.7 3-.7-3.3-2.6z" color="#ffe300"/><path d="M624.9 36.2l3.2 2.9 2.9-.5-3.3-2.9z" color="#fff200"/><path d="M544.5 35.4l2.9 .8 3.2-2.6-2.9-.8z" color="#fd0"/><path d="M520.2 46.1l2.7 .1 3.3-3.2-2.7-.1z" color="#b6ff00"/><path d="M538.4 37.6l2.8 .6 3.3-2.8-2.9-.5z" color="#ffeb00"/><path d="M514.2 49.6l2.7-.1 3.3-3.4-2.7 0z" color="#76ff00"/><path d="M526.2 43l2.8 .2 3.3-3-2.8-.3z" color="#e1ff00"/><path d="M532.3 40.2l2.8 .4 3.3-3-2.8-.4z" color="#fffc00"/><path d="M550.6 33.6l3 .8 3.2-2.4-3-.9z" color="#fc0"/><path d="M556.8 32l2.9 1 3.3-2.2-3-1.1z" color="#ffbd00"/><path d="M569.1 29.8l3.1 1.4 3.1-2-3-1.3z" color="#ffa900"/><path d="M575.3 29.2l3.1 1.6 3.1-1.8-3-1.5z" color="#ffa300"/><path d="M594 29.4l3.1 2 3.1-1.3-3.2-2z" color="#ffad00"/><path d="M600.2 30.1l3.1 2.2 3.1-1.1-3.2-2.2z" color="#ffb700"/><path d="M606.4 31.2l3.2 2.3 2.9-1-3.2-2.3z" color="#ffc400"/><path d="M612.5 32.5l3.3 2.6 2.9-.9-3.2-2.5z" color="#ffd400"/><path d="M631 38.6l3.3 3 2.8-.4-3.3-3z" color="#f4ff00"/><path d="M637.1 41.2l3.3 3.2 2.8-.2-3.3-3.2z" color="#d0ff00"/><path d="M643.2 44.2l3.3 3.3 2.7-.1-3.3-3.3z" color="#9aff00"/><path d="M649.2 47.4l3.3 3.6 2.7 0-3.3-3.5z" color="#5cff00"/><path d="M547.4 36.2l2.9 .8 3.3-2.6-3-.8z" color="#fd0"/><path d="M559.7 33l3 1.2 3.3-2.3-3-1.1z" color="#ffc000"/><path d="M566 31.9l3 1.4 3.2-2.1-3.1-1.4z" color="#ffb700"/><path d="M578.4 30.8l3.1 1.6 3.1-1.7-3.1-1.7z" color="#ffae00"/><path d="M584.6 30.7l3.2 1.8 3.1-1.6-3.1-1.9z" color="#ffae00"/><path d="M590.9 30.9l3.1 2 3.1-1.5-3.1-2z" color="#ffb300"/><path d="M603.3 32.3l3.2 2.4 3.1-1.2-3.2-2.3z" color="#ffc600"/><path d="M615.8 35.1l3.2 2.6 2.9-.8-3.2-2.7z" color="#ffe200"/><path d="M621.9 36.9l3.3 2.9 2.9-.7-3.2-2.9z" color="#fff000"/><path d="M628.1 39.1l3.3 3 2.9-.5-3.3-3z" color="#faff00"/><path d="M640.4 44.4l3.3 3.3 2.8-.2-3.3-3.3z" color="#a9ff00"/><path d="M652.5 51l3.3 3.6 2.7 .1-3.3-3.7z" color="#3aff00"/><path d="M516.9 49.5l2.7 .2 3.3-3.5-2.7-.1z" color="#87ff00"/><path d="M522.9 46.2l2.8 .3 3.3-3.3-2.8-.2z" color="#c3ff00"/><path d="M535.1 40.6l2.8 .5 3.3-2.9-2.8-.6z" color="#fff900"/><path d="M541.2 38.2l2.9 .7 3.3-2.7-2.9-.8z" color="#ffea00"/><path d="M510.9 53.2l2.7-.1 3.3-3.6-2.7 .1z" color="#4fff00"/><path d="M529 43.2l2.8 .5 3.3-3.1-2.8-.4z" color="#e8ff00"/><path d="M553.6 34.4l2.9 1 3.2-2.4-2.9-1z" color="#ffcd00"/><path d="M572.2 31.2l3 1.5 3.2-1.9-3.1-1.6z" color="#ffb000"/><path d="M597.1 31.4l3.2 2.2 3-1.3-3.1-2.2z" color="#ffba00"/><path d="M609.6 33.5l3.2 2.5 3-.9-3.3-2.6z" color="#ffd400"/><path d="M634.3 41.6l3.2 3.2 2.9-.4-3.3-3.2z" color="#d8ff00"/><path d="M646.5 47.5l3.3 3.5 2.7 0-3.3-3.6z" color="#6aff00"/><path d="M507.6 56.9l2.6 0 3.4-3.8-2.7 .1z" color="#2dff00"/><path d="M513.6 53.1l2.7 .1 3.3-3.5-2.7-.2z" color="#5bff00"/><path d="M519.6 49.7l2.8 .2 3.3-3.4-2.8-.3z" color="#95ff00"/><path d="M525.7 46.5l2.8 .4 3.3-3.2-2.8-.5z" color="#cbff00"/><path d="M531.8 43.7l2.8 .5 3.3-3.1-2.8-.5z" color="#edff00"/><path d="M537.9 41.1l2.9 .7 3.3-2.9-2.9-.7z" color="#fff700"/><path d="M544.1 38.9l2.9 .9 3.3-2.8-2.9-.8z" color="#ffe900"/><path d="M550.3 37l3 1 3.2-2.6-2.9-1z" color="#fd0"/><path d="M556.5 35.4l3 1.2 3.2-2.4-3-1.2z" color="#ffd000"/><path d="M562.7 34.2l3.1 1.3 3.2-2.2-3-1.4z" color="#ffc400"/><path d="M569 33.3l3 1.5 3.2-2.1-3-1.5z" color="#ffbd00"/><path d="M575.2 32.7l3.1 1.6 3.2-1.9-3.1-1.6z" color="#ffb800"/><path d="M581.5 32.4l3.1 1.8 3.2-1.7-3.2-1.8z" color="#ffb700"/><path d="M587.8 32.5l3.1 2 3.1-1.6-3.1-2z" color="#ffba00"/><path d="M594 32.9l3.2 2.1 3.1-1.4-3.2-2.2z" color="#ffc000"/><path d="M600.3 33.6l3.2 2.3 3-1.2-3.2-2.4z" color="#ffc900"/><path d="M606.5 34.7l3.3 2.4 3-1.1-3.2-2.5z" color="#ffd600"/><path d="M612.8 36l3.2 2.7 3-1-3.2-2.6z" color="#ffe200"/><path d="M619 37.7l3.3 2.9 2.9-.8-3.3-2.9z" color="#ffef00"/><path d="M625.2 39.8l3.3 3 2.9-.7-3.3-3z" color="#feff00"/><path d="M631.4 42.1l3.3 3.2 2.8-.5-3.2-3.2z" color="#deff00"/><path d="M637.5 44.8l3.4 3.3 2.8-.4-3.3-3.3z" color="#b6ff00"/><path d="M643.7 47.7l3.3 3.5 2.8-.2-3.3-3.5z" color="#79ff00"/><path d="M649.8 51l3.3 3.7 2.7-.1-3.3-3.6z" color="#47ff00"/><path d="M655.8 54.6l3.4 3.9 2.7 0-3.4-3.8z" color="#17ff00"/><path d="M553.3 38l2.9 1.2 3.3-2.6-3-1.2z" color="#ffdf00"/><path d="M572 34.8l3.1 1.6 3.2-2.1-3.1-1.6z" color="#ffc400"/><path d="M597.2 35l3.2 2.4 3.1-1.5-3.2-2.3z" color="#ffce00"/><path d="M609.8 37.1l3.2 2.7 3-1.1-3.2-2.7z" color="#ffe300"/><path d="M634.7 45.3l3.3 3.3 2.9-.5-3.4-3.3z" color="#bfff00"/><path d="M647 51.2l3.3 3.7 2.8-.2-3.3-3.7z" color="#51ff00"/><path d="M528.5 46.9l2.8 .5 3.3-3.2-2.8-.5z" color="#d0ff00"/><path d="M510.2 56.9l2.7 .1 3.4-3.8-2.7-.1z" color="#39ff00"/><path d="M516.3 53.2l2.7 .3 3.4-3.6-2.8-.2z" color="#65ff00"/><path d="M522.4 49.9l2.8 .4 3.3-3.4-2.8-.4z" color="#a1ff00"/><path d="M534.6 44.2l2.9 .7 3.3-3.1-2.9-.7z" color="#f1ff00"/><path d="M540.8 41.8l2.9 .9 3.3-2.9-2.9-.9z" color="#fff600"/><path d="M547 39.8l3 1 3.3-2.8-3-1z" color="#ffe900"/><path d="M559.5 36.6l3 1.3 3.3-2.4-3.1-1.3z" color="#ffd400"/><path d="M565.8 35.5l3 1.5 3.2-2.2-3-1.5z" color="#ffca00"/><path d="M578.3 34.3l3.2 1.9 3.1-2-3.1-1.8z" color="#ffc100"/><path d="M584.6 34.2l3.2 2 3.1-1.7-3.1-2z" color="#ffc200"/><path d="M590.9 34.5l3.2 2.1 3.1-1.6-3.2-2.1z" color="#ffc600"/><path d="M603.5 35.9l3.2 2.5 3.1-1.3-3.3-2.4z" color="#ffd900"/><path d="M616 38.7l3.3 2.8 3-.9-3.3-2.9z" color="#ffef00"/><path d="M622.3 40.6l3.3 3 2.9-.8-3.3-3z" color="#fffd00"/><path d="M628.5 42.8l3.3 3.1 2.9-.6-3.3-3.2z" color="#e2ff00"/><path d="M640.9 48.1l3.3 3.5 2.8-.4-3.3-3.5z" color="#86ff00"/><path d="M653.1 54.7l3.4 3.8 2.7 0-3.4-3.9z" color="#23ff00"/><path d="M550 40.8l3 1.1 3.2-2.7-2.9-1.2z" color="#ffeb00"/><path d="M556.2 39.2l3.1 1.3 3.2-2.6-3-1.3z" color="#ffe100"/><path d="M568.8 37l3.1 1.7 3.2-2.3-3.1-1.6z" color="#ffd100"/><path d="M575.1 36.4l3.2 1.8 3.2-2-3.2-1.9z" color="#ffcd00"/><path d="M594.1 36.6l3.2 2.3 3.1-1.5-3.2-2.4z" color="#ffd400"/><path d="M600.4 37.4l3.2 2.4 3.1-1.4-3.2-2.5z" color="#fd0"/><path d="M606.7 38.4l3.3 2.7 3-1.3-3.2-2.7z" color="#ffe500"/><path d="M613 39.8l3.3 2.8 3-1.1-3.3-2.8z" color="#fff000"/><path d="M631.8 45.9l3.3 3.3 2.9-.6-3.3-3.3z" color="#c5ff00"/><path d="M638 48.6l3.3 3.5 2.9-.5-3.3-3.5z" color="#90ff00"/><path d="M644.2 51.6l3.3 3.7 2.8-.4-3.3-3.7z" color="#59ff00"/><path d="M650.3 54.9l3.4 3.9 2.8-.3-3.4-3.8z" color="#2eff00"/><path d="M525.2 50.3l2.8 .5 3.3-3.4-2.8-.5z" color="#af0"/><path d="M531.3 47.4l2.9 .7 3.3-3.2-2.9-.7z" color="#d4ff00"/><path d="M512.9 57l2.8 .2 3.3-3.7-2.7-.3z" color="#43ff00"/><path d="M519 53.5l2.8 .4 3.4-3.6-2.8-.4z" color="#71ff00"/><path d="M537.5 44.9l2.9 .8 3.3-3-2.9-.9z" color="#f3ff00"/><path d="M543.7 42.7l3 1 3.3-2.9-3-1z" color="#fff600"/><path d="M562.5 37.9l3.1 1.5 3.2-2.4-3-1.5z" color="#ffd900"/><path d="M581.5 36.2l3.1 1.9 3.2-1.9-3.2-2z" color="#fc0"/><path d="M587.8 36.2l3.2 2.2 3.1-1.8-3.2-2.1z" color="#ffce00"/><path d="M619.3 41.5l3.3 3 3-.9-3.3-3z" color="#fffd00"/><path d="M625.6 43.6l3.3 3.1 2.9-.8-3.3-3.1z" color="#e5ff00"/><path d="M603.6 39.8l3.3 2.7 3.1-1.4-3.3-2.7z" color="#ffe800"/><path d="M641.3 52.1l3.4 3.7 2.8-.5-3.3-3.7z" color="#60ff00"/><path d="M546.7 43.7l3 1.1 3.3-2.9-3-1.1z" color="#fff800"/><path d="M521.8 53.9l2.8 .5 3.4-3.6-2.8-.5z" color="#7aff00"/><path d="M528 50.8l2.8 .7 3.4-3.4-2.9-.7z" color="#b0ff00"/><path d="M534.2 48.1l2.9 .9 3.3-3.3-2.9-.8z" color="#d7ff00"/><path d="M553 41.9l3 1.3 3.3-2.7-3.1-1.3z" color="#ffed00"/><path d="M559.3 40.5l3 1.5 3.3-2.6-3.1-1.5z" color="#ffe400"/><path d="M565.6 39.4l3.1 1.6 3.2-2.3-3.1-1.7z" color="#ffde00"/><path d="M571.9 38.7l3.1 1.8 3.3-2.3-3.2-1.8z" color="#ffda00"/><path d="M578.3 38.2l3.1 2 3.2-2.1-3.1-1.9z" color="#ffd700"/><path d="M591 38.4l3.2 2.3 3.1-1.8-3.2-2.3z" color="#ffdc00"/><path d="M597.3 38.9l3.2 2.5 3.1-1.6-3.2-2.4z" color="#ffe100"/><path d="M610 41.1l3.2 2.8 3.1-1.3-3.3-2.8z" color="#fff200"/><path d="M616.3 42.6l3.3 3 3-1.1-3.3-3z" color="#fffe00"/><path d="M628.9 46.7l3.3 3.3 2.9-.8-3.3-3.3z" color="#c8ff00"/><path d="M635.1 49.2l3.4 3.5 2.8-.6-3.3-3.5z" color="#97ff00"/><path d="M647.5 55.3l3.4 3.8 2.8-.3-3.4-3.9z" color="#37ff00"/><path d="M515.7 57.2l2.7 .4 3.4-3.7-2.8-.4z" color="#4bff00"/><path d="M540.4 45.7l3 1 3.3-3-3-1z" color="#f3ff00"/><path d="M584.6 38.1l3.2 2.2 3.2-1.9-3.2-2.2z" color="#ffd800"/><path d="M622.6 44.5l3.3 3.2 3-1-3.3-3.1z" color="#e6ff00"/><path d="M562.3 42l3.1 1.6 3.3-2.6-3.1-1.6z" color="#ffe900"/><path d="M600.5 41.4l3.3 2.6 3.1-1.5-3.3-2.7z" color="#ffec00"/><path d="M606.9 42.5l3.3 2.8 3-1.4-3.2-2.8z" color="#fff400"/><path d="M638.5 52.7l3.3 3.7 2.9-.6-3.4-3.7z" color="#6f0"/><path d="M644.7 55.8l3.4 3.8 2.8-.5-3.4-3.8z" color="#3eff00"/><path d="M543.4 46.7l2.9 1.2 3.4-3.1-3-1.1z" color="#f1ff00"/><path d="M518.4 57.6l2.8 .5 3.4-3.7-2.8-.5z" color="#52ff00"/><path d="M524.6 54.4l2.9 .7 3.3-3.6-2.8-.7z" color="#81ff00"/><path d="M530.8 51.5l2.9 .9 3.4-3.4-2.9-.9z" color="#b4ff00"/><path d="M549.7 44.8l3 1.3 3.3-2.9-3-1.3z" color="#fffa00"/><path d="M537.1 49l2.9 1 3.4-3.3-3-1z" color="#d7ff00"/><path d="M556 43.2l3 1.5 3.3-2.7-3-1.5z" color="#fff000"/><path d="M568.7 41l3.1 1.8 3.2-2.3-3.1-1.8z" color="#ffe400"/><path d="M575 40.5l3.2 1.9 3.2-2.2-3.1-2z" color="#ffe100"/><path d="M581.4 40.2l3.2 2.1 3.2-2-3.2-2.2z" color="#ffe000"/><path d="M587.8 40.3l3.2 2.3 3.2-1.9-3.2-2.3z" color="#ffe200"/><path d="M594.2 40.7l3.2 2.4 3.1-1.7-3.2-2.5z" color="#ffe600"/><path d="M613.2 43.9l3.4 2.9 3-1.2-3.3-3z" color="#fdff00"/><path d="M619.6 45.6l3.3 3.1 3-1-3.3-3.2z" color="#e5ff00"/><path d="M625.9 47.7l3.3 3.3 3-1-3.3-3.3z" color="#c9ff00"/><path d="M632.2 50l3.3 3.5 3-.8-3.4-3.5z" color="#9cff00"/><path d="M540 50l3 1.1 3.3-3.2-2.9-1.2z" color="#d6ff00"/><path d="M559 44.7l3.1 1.6 3.3-2.7-3.1-1.6z" color="#fff400"/><path d="M565.4 43.6l3.1 1.8 3.3-2.6-3.1-1.8z" color="#fe0"/><path d="M584.6 42.3l3.2 2.3 3.2-2-3.2-2.3z" color="#ffe900"/><path d="M597.4 43.1l3.3 2.7 3.1-1.8-3.3-2.6z" color="#fff100"/><path d="M603.8 44l3.3 2.8 3.1-1.5-3.3-2.8z" color="#fff800"/><path d="M610.2 45.3l3.3 3 3.1-1.5-3.4-2.9z" color="#f8ff00"/><path d="M622.9 48.7l3.3 3.4 3-1.1-3.3-3.3z" color="#c8ff00"/><path d="M635.5 53.5l3.4 3.7 2.9-.8-3.3-3.7z" color="#6cff00"/><path d="M641.8 56.4l3.4 3.8 2.9-.6-3.4-3.8z" color="#43ff00"/><path d="M521.2 58.1l2.9 .7 3.4-3.7-2.9-.7z" color="#56ff00"/><path d="M527.5 55.1l2.8 .8 3.4-3.5-2.9-.9z" color="#85ff00"/><path d="M546.3 47.9l3 1.3 3.4-3.1-3-1.3z" color="#ef0"/><path d="M533.7 52.4l2.9 .9 3.4-3.3-2.9-1z" color="#b5ff00"/><path d="M552.7 46.1l3 1.5 3.3-2.9-3-1.5z" color="#fffd00"/><path d="M571.8 42.8l3.1 2 3.3-2.4-3.2-1.9z" color="#ffea00"/><path d="M578.2 42.4l3.2 2.1 3.2-2.2-3.2-2.1z" color="#ffe800"/><path d="M591 42.6l3.2 2.4 3.2-1.9-3.2-2.4z" color="#ffec00"/><path d="M616.6 46.8l3.3 3.2 3-1.3-3.3-3.1z" color="#e2ff00"/><path d="M629.2 51l3.4 3.5 2.9-1-3.3-3.5z" color="#9eff00"/><path d="M536.6 53.3l3 1.2 3.4-3.4-3-1.1z" color="#b4ff00"/><path d="M555.7 47.6l3.1 1.6 3.3-2.9-3.1-1.6z" color="#faff00"/><path d="M543 51.1l3 1.3 3.3-3.2-3-1.3z" color="#d2ff00"/><path d="M562.1 46.3l3.1 1.8 3.3-2.7-3.1-1.8z" color="#fff900"/><path d="M568.5 45.4l3.2 1.9 3.2-2.5-3.1-2z" color="#fff400"/><path d="M581.4 44.5l3.2 2.3 3.2-2.2-3.2-2.3z" color="#fff100"/><path d="M587.8 44.6l3.2 2.5 3.2-2.1-3.2-2.4z" color="#fff200"/><path d="M594.2 45l3.3 2.6 3.2-1.8-3.3-2.7z" color="#fff600"/><path d="M600.7 45.8l3.2 2.8 3.2-1.8-3.3-2.8z" color="#fffd00"/><path d="M607.1 46.8l3.3 3 3.1-1.5-3.3-3z" color="#f2ff00"/><path d="M613.5 48.3l3.3 3.1 3.1-1.4-3.3-3.2z" color="#deff00"/><path d="M619.9 50l3.3 3.3 3-1.2-3.3-3.4z" color="#c6ff00"/><path d="M626.2 52.1l3.4 3.4 3-1-3.4-3.5z" color="#9eff00"/><path d="M632.6 54.5l3.4 3.6 2.9-.9-3.4-3.7z" color="#6eff00"/><path d="M638.9 57.2l3.4 3.8 2.9-.8-3.4-3.8z" color="#47ff00"/><path d="M524.1 58.8l2.8 .8 3.4-3.7-2.8-.8z" color="#59ff00"/><path d="M530.3 55.9l3 1 3.3-3.6-2.9-.9z" color="#87ff00"/><path d="M549.3 49.2l3.1 1.4 3.3-3-3-1.5z" color="#e8ff00"/><path d="M574.9 44.8l3.2 2.1 3.3-2.4-3.2-2.1z" color="#fff100"/><path d="M591 47.1l3.3 2.6 3.2-2.1-3.3-2.6z" color="#fffd00"/><path d="M616.8 51.4l3.4 3.3 3-1.4-3.3-3.3z" color="#c2ff00"/><path d="M629.6 55.5l3.4 3.7 3-1.1-3.4-3.6z" color="#6eff00"/><path d="M533.3 56.9l2.9 1.1 3.4-3.5-3-1.2z" color="#85ff00"/><path d="M552.4 50.6l3 1.6 3.4-3-3.1-1.6z" color="#e1ff00"/><path d="M526.9 59.6l2.9 1 3.5-3.7-3-1z" color="#5bff00"/><path d="M539.6 54.5l3 1.3 3.4-3.4-3-1.3z" color="#afff00"/><path d="M546 52.4l3 1.4 3.4-3.2-3.1-1.4z" color="#cdff00"/><path d="M558.8 49.2l3.1 1.8 3.3-2.9-3.1-1.8z" color="#f1ff00"/><path d="M565.2 48.1l3.2 1.9 3.3-2.7-3.2-1.9z" color="#fcff00"/><path d="M571.7 47.3l3.1 2.1 3.3-2.5-3.2-2.1z" color="#fffb00"/><path d="M578.1 46.9l3.2 2.3 3.3-2.4-3.2-2.3z" color="#fffa00"/><path d="M584.6 46.8l3.2 2.5 3.2-2.2-3.2-2.5z" color="#fffa00"/><path d="M597.5 47.6l3.3 2.8 3.1-1.8-3.2-2.8z" color="#f7ff00"/><path d="M603.9 48.6l3.4 2.9 3.1-1.7-3.3-3z" color="#eaff00"/><path d="M610.4 49.8l3.3 3.1 3.1-1.5-3.3-3.1z" color="#d8ff00"/><path d="M623.2 53.3l3.4 3.5 3-1.3-3.4-3.4z" color="#9bff00"/><path d="M636 58.1l3.4 3.8 2.9-.9-3.4-3.8z" color="#49ff00"/><path d="M529.8 60.6l3 1.2 3.4-3.8-2.9-1.1z" color="#5aff00"/><path d="M549 53.8l3.1 1.7 3.3-3.3-3-1.6z" color="#c7ff00"/><path d="M574.8 49.4l3.2 2.3 3.3-2.5-3.2-2.3z" color="#f5ff00"/><path d="M587.8 49.3l3.3 2.6 3.2-2.2-3.3-2.6z" color="#f2ff00"/><path d="M594.3 49.7l3.3 2.8 3.2-2.1-3.3-2.8z" color="#ebff00"/><path d="M613.7 52.9l3.4 3.3 3.1-1.5-3.4-3.3z" color="#b9ff00"/><path d="M620.2 54.7l3.3 3.5 3.1-1.4-3.4-3.5z" color="#95ff00"/><path d="M626.6 56.8l3.4 3.6 3-1.2-3.4-3.7z" color="#6cff00"/><path d="M633 59.2l3.4 3.8 3-1.1-3.4-3.8z" color="#4aff00"/><path d="M536.2 58l3 1.3 3.4-3.5-3-1.3z" color="#82ff00"/><path d="M555.4 52.2l3.1 1.8 3.4-3-3.1-1.8z" color="#d8ff00"/><path d="M542.6 55.8l3 1.4 3.4-3.4-3-1.4z" color="#a8ff00"/><path d="M561.9 51l3.1 1.9 3.4-2.9-3.2-1.9z" color="#e6ff00"/><path d="M568.4 50l3.1 2.2 3.3-2.8-3.1-2.1z" color="#efff00"/><path d="M581.3 49.2l3.3 2.4 3.2-2.3-3.2-2.5z" color="#f6ff00"/><path d="M600.8 50.4l3.3 3 3.2-1.9-3.4-2.9z" color="#e0ff00"/><path d="M607.3 51.5l3.3 3.2 3.1-1.8-3.3-3.1z" color="#d0ff00"/><path d="M623.5 58.2l3.4 3.6 3.1-1.4-3.4-3.6z" color="#67ff00"/><path d="M532.8 61.8l3 1.2 3.4-3.7-3-1.3z" color="#58ff00"/><path d="M545.6 57.2l3.1 1.6 3.4-3.3-3.1-1.7z" color="#9fff00"/><path d="M552.1 55.5l3.1 1.7 3.3-3.2-3.1-1.8z" color="#bcff00"/><path d="M571.5 52.2l3.2 2.2 3.3-2.7-3.2-2.3z" color="#e0ff00"/><path d="M578 51.7l3.3 2.5 3.3-2.6-3.3-2.4z" color="#e4ff00"/><path d="M584.6 51.6l3.2 2.6 3.3-2.3-3.3-2.6z" color="#e2ff00"/><path d="M591.1 51.9l3.3 2.8 3.2-2.2-3.3-2.8z" color="#df0"/><path d="M597.6 52.5l3.3 2.9 3.2-2-3.3-3z" color="#d4ff00"/><path d="M610.6 54.7l3.4 3.3 3.1-1.8-3.4-3.3z" color="#aeff00"/><path d="M617.1 56.2l3.4 3.5 3-1.5-3.3-3.5z" color="#8dff00"/><path d="M630 60.4l3.4 3.9 3-1.3-3.4-3.8z" color="#48ff00"/><path d="M539.2 59.3l3 1.5 3.4-3.6-3-1.4z" color="#7bff00"/><path d="M558.5 54l3.2 2 3.3-3.1-3.1-1.9z" color="#ceff00"/><path d="M565 52.9l3.2 2.1 3.3-2.8-3.1-2.2z" color="#d9ff00"/><path d="M604.1 53.4l3.3 3.1 3.2-1.8-3.3-3.2z" color="#c6ff00"/><path d="M581.3 54.2l3.2 2.6 3.3-2.6-3.2-2.6z" color="#d1ff00"/><path d="M620.5 59.7l3.4 3.7 3-1.6-3.4-3.6z" color="#61ff00"/><path d="M626.9 61.8l3.5 3.8 3-1.3-3.4-3.9z" color="#45ff00"/><path d="M542.2 60.8l3.1 1.6 3.4-3.6-3.1-1.6z" color="#72ff00"/><path d="M535.8 63l3 1.5 3.4-3.7-3-1.5z" color="#54ff00"/><path d="M548.7 58.8l3.1 1.8 3.4-3.4-3.1-1.7z" color="#92ff00"/><path d="M555.2 57.2l3.1 2 3.4-3.2-3.2-2z" color="#adff00"/><path d="M568.2 55l3.2 2.3 3.3-2.9-3.2-2.2z" color="#cbff00"/><path d="M574.7 54.4l3.3 2.5 3.3-2.7-3.3-2.5z" color="#d0ff00"/><path d="M587.8 54.2l3.3 2.8 3.3-2.3-3.3-2.8z" color="#ceff00"/><path d="M594.4 54.7l3.3 2.9 3.2-2.2-3.3-2.9z" color="#c6ff00"/><path d="M600.9 55.4l3.4 3.1 3.1-2-3.3-3.1z" color="#b7ff00"/><path d="M607.4 56.5l3.4 3.3 3.2-1.8-3.4-3.3z" color="#a0ff00"/><path d="M614 58l3.3 3.4 3.2-1.7-3.4-3.5z" color="#82ff00"/><path d="M561.7 56l3.1 2.1 3.4-3.1-3.2-2.1z" color="#c1ff00"/><path d="M538.8 64.5l3 1.6 3.5-3.7-3.1-1.6z" color="#4eff00"/><path d="M578 56.9l3.2 2.6 3.3-2.7-3.2-2.6z" color="#bf0"/><path d="M584.5 56.8l3.3 2.7 3.3-2.5-3.3-2.8z" color="#baff00"/><path d="M604.3 58.5l3.3 3.3 3.2-2-3.4-3.3z" color="#8fff00"/><path d="M617.3 61.4l3.5 3.7 3.1-1.7-3.4-3.7z" color="#5aff00"/><path d="M623.9 63.4l3.4 3.8 3.1-1.6-3.5-3.8z" color="#40ff00"/><path d="M545.3 62.4l3.1 1.7 3.4-3.5-3.1-1.8z" color="#67ff00"/><path d="M564.8 58.1l3.2 2.2 3.4-3-3.2-2.3z" color="#acff00"/><path d="M551.8 60.6l3.1 1.9 3.4-3.3-3.1-2z" color="#84ff00"/><path d="M558.3 59.2l3.2 2.1 3.3-3.2-3.1-2.1z" color="#9bff00"/><path d="M571.4 57.3l3.2 2.4 3.4-2.8-3.3-2.5z" color="#b7ff00"/><path d="M591.1 57l3.3 3 3.3-2.4-3.3-2.9z" color="#b2ff00"/><path d="M597.7 57.6l3.3 3.1 3.3-2.2-3.4-3.1z" color="#a3ff00"/><path d="M610.8 59.8l3.4 3.5 3.1-1.9-3.3-3.4z" color="#75ff00"/><path d="M541.8 66.1l3.1 1.8 3.5-3.8-3.1-1.7z" color="#47ff00"/><path d="M561.5 61.3l3.2 2.2 3.3-3.2-3.2-2.2z" color="#86ff00"/><path d="M574.6 59.7l3.3 2.6 3.3-2.8-3.2-2.6z" color="#9cff00"/><path d="M581.2 59.5l3.3 2.7 3.3-2.7-3.3-2.7z" color="#9dff00"/><path d="M587.8 59.5l3.4 3 3.2-2.5-3.3-3z" color="#98ff00"/><path d="M601 60.7l3.4 3.3 3.2-2.2-3.3-3.3z" color="#7cff00"/><path d="M607.6 61.8l3.4 3.5 3.2-2-3.4-3.5z" color="#65ff00"/><path d="M614.2 63.3l3.4 3.6 3.2-1.8-3.5-3.7z" color="#51ff00"/><path d="M620.8 65.1l3.4 3.8 3.1-1.7-3.4-3.8z" color="#3aff00"/><path d="M548.4 64.1l3.1 2 3.4-3.6-3.1-1.9z" color="#5cff00"/><path d="M568 60.3l3.3 2.5 3.3-3.1-3.2-2.4z" color="#94ff00"/><path d="M554.9 62.5l3.2 2.1 3.4-3.3-3.2-2.1z" color="#72ff00"/><path d="M594.4 60l3.4 3.1 3.2-2.4-3.3-3.1z" color="#8dff00"/><path d="M611 65.3l3.4 3.7 3.2-2.1-3.4-3.6z" color="#47ff00"/><path d="M544.9 67.9l3.1 1.9 3.5-3.7-3.1-2z" color="#3eff00"/><path d="M551.5 66.1l3.1 2.1 3.5-3.6-3.2-2.1z" color="#51ff00"/><path d="M558.1 64.6l3.2 2.3 3.4-3.4-3.2-2.2z" color="#60ff00"/><path d="M564.7 63.5l3.2 2.4 3.4-3.1-3.3-2.5z" color="#6fff00"/><path d="M571.3 62.8l3.2 2.6 3.4-3.1-3.3-2.6z" color="#7aff00"/><path d="M577.9 62.3l3.3 2.8 3.3-2.9-3.3-2.7z" color="#7eff00"/><path d="M584.5 62.2l3.4 3 3.3-2.7-3.4-3z" color="#7cff00"/><path d="M591.2 62.5l3.3 3.1 3.3-2.5-3.4-3.1z" color="#75ff00"/><path d="M597.8 63.1l3.4 3.3 3.2-2.4-3.4-3.3z" color="#67ff00"/><path d="M604.4 64l3.4 3.5 3.2-2.2-3.4-3.5z" color="#59ff00"/><path d="M617.6 66.9l3.5 3.8 3.1-1.8-3.4-3.8z" color="#32ff00"/><path d="M567.9 65.9l3.2 2.7 3.4-3.2-3.2-2.6z" color="#5aff00"/><path d="M594.5 65.6l3.4 3.3 3.3-2.5-3.4-3.3z" color="#56ff00"/><path d="M607.8 67.5l3.4 3.6 3.2-2.1-3.4-3.7z" color="#3bff00"/><path d="M614.4 69l3.5 3.8 3.2-2.1-3.5-3.8z" color="#28ff00"/><path d="M548 69.8l3.2 2.1 3.4-3.7-3.1-2.1z" color="#3f0"/><path d="M554.6 68.2l3.2 2.2 3.5-3.5-3.2-2.3z" color="#4f0"/><path d="M561.3 66.9l3.2 2.4 3.4-3.4-3.2-2.4z" color="#51ff00"/><path d="M574.5 65.4l3.3 2.7 3.4-3-3.3-2.8z" color="#5fff00"/><path d="M581.2 65.1l3.3 2.9 3.4-2.8-3.4-3z" color="#60ff00"/><path d="M587.9 65.2l3.3 3.1 3.3-2.7-3.3-3.1z" color="#5dff00"/><path d="M601.2 66.4l3.4 3.5 3.2-2.4-3.4-3.5z" color="#4bff00"/><path d="M551.2 71.9l3.2 2.2 3.4-3.7-3.2-2.2z" color="#26ff00"/><path d="M564.5 69.3l3.2 2.6 3.4-3.3-3.2-2.7z" color="#41ff00"/><path d="M571.1 68.6l3.3 2.7 3.4-3.2-3.3-2.7z" color="#48ff00"/><path d="M591.2 68.3l3.4 3.3 3.3-2.7-3.4-3.3z" color="#4f0"/><path d="M597.9 68.9l3.4 3.5 3.3-2.5-3.4-3.5z" color="#3bff00"/><path d="M604.6 69.9l3.4 3.6 3.2-2.4-3.4-3.6z" color="#2eff00"/><path d="M611.2 71.1l3.5 3.9 3.2-2.2-3.5-3.8z" color="#1cff00"/><path d="M557.8 70.4l3.2 2.5 3.5-3.6-3.2-2.4z" color="#35ff00"/><path d="M577.8 68.1l3.3 3 3.4-3.1-3.3-2.9z" color="#4aff00"/><path d="M584.5 68l3.4 3.2 3.3-2.9-3.3-3.1z" color="#49ff00"/><path d="M561 72.9l3.3 2.6 3.4-3.6-3.2-2.6z" color="#25ff00"/><path d="M601.3 72.4l3.4 3.6 3.3-2.5-3.4-3.6z" color="#1eff00"/><path d="M554.4 74.1l3.2 2.5 3.4-3.7-3.2-2.5z" color="#18ff00"/><path d="M567.7 71.9l3.3 2.8 3.4-3.4-3.3-2.7z" color="#2eff00"/><path d="M574.4 71.3l3.4 3 3.3-3.2-3.3-3z" color="#3f0"/><path d="M587.9 71.2l3.3 3.3 3.4-2.9-3.4-3.3z" color="#31ff00"/><path d="M594.6 71.6l3.4 3.5 3.3-2.7-3.4-3.5z" color="#29ff00"/><path d="M608 73.5l3.4 3.8 3.3-2.3-3.5-3.9z" color="#13ff02"/><path d="M581.1 71.1l3.4 3.1 3.4-3-3.4-3.2z" color="#34ff00"/><path d="M557.6 76.6l3.2 2.6 3.5-3.7-3.3-2.6z" color="#11ff05"/><path d="M564.3 75.5l3.3 2.7 3.4-3.5-3.3-2.8z" color="#14ff00"/><path d="M584.5 74.2l3.4 3.3 3.3-3-3.3-3.3z" color="#1cff00"/><path d="M598 75.1l3.4 3.6 3.3-2.7-3.4-3.6z" color="#13ff03"/><path d="M604.7 76l3.5 3.8 3.2-2.5-3.4-3.8z" color="#10ff09"/><path d="M571 74.7l3.3 2.9 3.5-3.3-3.4-3z" color="#1aff00"/><path d="M577.8 74.3l3.3 3.1 3.4-3.2-3.4-3.1z" color="#1dff00"/><path d="M591.2 74.5l3.4 3.4 3.4-2.8-3.4-3.5z" color="#16ff00"/><path d="M560.8 79.2l3.3 2.7 3.5-3.7-3.3-2.7z" color="#0eff0d"/><path d="M567.6 78.2l3.3 3 3.4-3.6-3.3-2.9z" color="#10ff09"/><path d="M581.1 77.4l3.4 3.3 3.4-3.2-3.4-3.3z" color="#11ff06"/><path d="M587.9 77.5l3.4 3.4 3.3-3-3.4-3.4z" color="#10ff08"/><path d="M594.6 77.9l3.5 3.7 3.3-2.9-3.4-3.6z" color="#0fff0b"/><path d="M601.4 78.7l3.5 3.8 3.3-2.7-3.5-3.8z" color="#0cff10"/><path d="M574.3 77.6l3.4 3.2 3.4-3.4-3.3-3.1z" color="#11ff07"/><path d="M564.1 81.9l3.3 3 3.5-3.7-3.3-3z" color="#0aff15"/><path d="M570.9 81.2l3.3 3.1 3.5-3.5-3.4-3.2z" color="#0bff12"/><path d="M577.7 80.8l3.4 3.2 3.4-3.3-3.4-3.3z" color="#0cff11"/><path d="M584.5 80.7l3.4 3.4 3.4-3.2-3.4-3.4z" color="#0bff11"/><path d="M591.3 80.9l3.4 3.7 3.4-3-3.5-3.7z" color="#0aff14"/><path d="M598.1 81.6l3.4 3.8 3.4-2.9-3.5-3.8z" color="#08ff17"/><path d="M587.9 84.1l3.4 3.7 3.4-3.2-3.4-3.7z" color="#06ff1d"/><path d="M567.4 84.9l3.4 3.1 3.4-3.7-3.3-3.1z" color="#05ff1e"/><path d="M574.2 84.3l3.4 3.3 3.5-3.6-3.4-3.2z" color="#06ff1c"/><path d="M581.1 84l3.4 3.5 3.4-3.4-3.4-3.4z" color="#06ff1c"/><path d="M594.7 84.6l3.5 3.8 3.3-3-3.4-3.8z" color="#04ff20"/><path d="M570.8 88l3.3 3.3 3.5-3.7-3.4-3.3z" color="#00ff28"/><path d="M584.5 87.5l3.4 3.7 3.4-3.4-3.4-3.7z" color="#01ff27"/><path d="M591.3 87.8l3.5 3.8 3.4-3.2-3.5-3.8z" color="#00ff2a"/><path d="M577.6 87.6l3.4 3.5 3.5-3.6-3.4-3.5z" color="#01ff26"/><path d="M581 91.1l3.5 3.6 3.4-3.5-3.4-3.7z" color="#00ff3a"/><path d="M574.1 91.3l3.4 3.5 3.5-3.7-3.4-3.5z" color="#00ff3a"/><path d="M587.9 91.2l3.5 3.8 3.4-3.4-3.5-3.8z" color="#00ff3c"/><path d="M577.5 94.8l3.5 3.7 3.5-3.8-3.5-3.6z" color="#00ff4f"/><path d="M584.5 94.7l3.4 3.9 3.5-3.6-3.5-3.8z" color="#00ff50"/><path d="M581 98.5l3.4 3.8 3.5-3.7-3.4-3.9z" color="#0f6"/></g>
<path d="M507.6 56.9l3.3-3.7 3.3-3.6 3.3-3.5 3.3-3.2 3.3-3.1 3.2-3 3.2-2.8 3.2-2.7 3.2-2.5 3.2-2.3 3.1-2.2 3.2-2.1 3.1-1.9 3-1.7 3.1-1.6 3-1.5 3-1.3 3-1.2 3-1.1 2.9-.9 2.9-.8 2.9-.6 2.9-.5 2.8-.4 2.8-.3M508.9 56.9l3.3-3.8 3.4-3.6 3.3-3.4 3.2-3.2 3.3-3.2 3.3-2.9 3.2-2.8 3.2-2.7 3.2-2.5 3.2-2.3 3.1-2.2 3.1-2 3.1-1.9 3.1-1.8 3.1-1.6 3-1.5 3-1.3 3-1.2 3-1 2.9-.9 2.9-.8 2.9-.6 2.9-.5 2.8-.4 2.8-.2M510.2 56.9l3.4-3.8 3.3-3.6 3.3-3.4 3.3-3.2 3.3-3.1 3.2-3 3.3-2.8 3.2-2.6 3.2-2.5 3.1-2.4 3.2-2.2 3.1-2 3.1-1.9 3.1-1.7 3.1-1.6 3-1.5 3-1.3 3-1.2 3-1 2.9-.9 2.9-.8 2.9-.6 2.9-.5 2.8-.3 2.8-.3M511.6 56.9l3.3-3.7 3.4-3.6 3.3-3.4 3.3-3.3 3.2-3.1 3.3-2.9 3.2-2.8 3.2-2.7 3.2-2.5 3.2-2.3 3.2-2.2 3.1-2 3.1-1.9 3.1-1.7 3.1-1.6 3-1.5 3-1.3 3-1.1 3-1.1 2.9-.9 2.9-.7 2.9-.6 2.9-.5 2.8-.4 2.8-.2M512.9 57l3.4-3.8 3.3-3.5 3.3-3.5 3.3-3.2 3.3-3.1 3.3-3 3.2-2.7 3.2-2.7 3.2-2.5 3.2-2.3 3.2-2.2 3.1-2 3.1-1.9 3.1-1.7 3.1-1.6 3-1.4 3-1.3 3-1.2 3-1 2.9-.9 3-.7 2.8-.6 2.9-.5 2.8-.3 2.9-.3M514.3 57.1l3.4-3.8 3.3-3.5 3.3-3.4 3.3-3.3 3.3-3.1 3.3-2.9 3.2-2.8 3.2-2.6 3.2-2.5 3.2-2.3 3.2-2.2 3.1-2 3.1-1.9 3.1-1.7 3.1-1.6 3-1.4 3-1.3 3-1.2 3-1 3-.9 2.9-.7 2.9-.6 2.8-.5 2.9-.3 2.8-.2M515.7 57.2l3.3-3.7 3.4-3.6 3.3-3.4 3.3-3.3 3.3-3 3.3-3 3.2-2.8 3.2-2.6 3.2-2.5 3.2-2.3 3.2-2.1 3.1-2 3.1-1.9 3.1-1.7 3.1-1.6 3.1-1.4 3-1.3 3-1.2 2.9-1 3-.8 2.9-.7 2.9-.6 2.9-.5 2.8-.3 2.8-.2M517 57.4l3.4-3.7 3.4-3.6 3.3-3.4 3.3-3.3 3.3-3.1 3.3-2.9 3.2-2.8 3.2-2.6 3.3-2.4 3.1-2.4 3.2-2.1 3.1-2 3.2-1.9 3.1-1.7 3-1.6 3.1-1.4 3-1.3 3-1.1 3-1 2.9-.8 2.9-.8 2.9-.5 2.9-.5 2.8-.3 2.8-.2M518.4 57.6l3.4-3.7 3.4-3.6 3.3-3.4 3.3-3.2 3.3-3.1 3.3-3 3.2-2.7 3.3-2.6 3.2-2.5 3.2-2.3 3.1-2.2 3.2-2 3.1-1.8 3.1-1.7 3.1-1.6 3-1.4 3-1.3 3-1.1 3-1 3-.8 2.9-.7 2.9-.6 2.8-.4 2.9-.3 2.8-.2M519.8 57.9l3.4-3.8 3.4-3.5 3.3-3.4 3.3-3.3 3.3-3.1 3.3-2.9 3.3-2.8 3.2-2.6 3.2-2.4 3.2-2.3 3.2-2.2 3.1-2 3.1-1.8 3.1-1.7 3.1-1.6 3.1-1.4 3-1.2 3-1.2 3-.9 2.9-.9 2.9-.7 2.9-.5 2.9-.5 2.8-.3 2.8-.1M521.2 58.1l3.4-3.7 3.4-3.6 3.3-3.4 3.3-3.2 3.3-3.1 3.3-2.9 3.3-2.8 3.2-2.6 3.2-2.4 3.2-2.3 3.2-2.2 3.2-2 3.1-1.8 3.1-1.7 3.1-1.5 3-1.4 3-1.3 3-1.1 3-1 3-.8 2.9-.7 2.9-.5 2.8-.5 2.9-.2 2.8-.2M522.6 58.5l3.4-3.8 3.4-3.5 3.3-3.4 3.4-3.3 3.3-3 3.3-3 3.2-2.7 3.3-2.6 3.2-2.5 3.2-2.3 3.2-2.1 3.1-2 3.1-1.8 3.1-1.7 3.1-1.5 3.1-1.4 3-1.3 3-1.1 3-.9 2.9-.9 2.9-.6 2.9-.6 2.9-.4 2.8-.3 2.8-.1M524.1 58.8l3.4-3.7 3.3-3.6 3.4-3.4 3.3-3.2 3.3-3.1 3.3-2.9 3.3-2.7 3.2-2.6 3.2-2.5 3.2-2.3 3.2-2.1 3.2-2 3.1-1.8 3.1-1.7 3.1-1.5 3-1.4 3.1-1.2 3-1.1 2.9-1 3-.8 2.9-.7 2.9-.5 2.9-.4 2.8-.3 2.8-.1M525.5 59.2l3.4-3.7 3.4-3.6 3.3-3.4 3.4-3.2 3.3-3.1 3.3-2.9 3.2-2.7 3.3-2.6 3.2-2.5 3.2-2.2 3.2-2.2 3.1-2 3.2-1.8 3.1-1.6 3.1-1.6 3-1.3 3-1.3 3-1.1 3-.9 3-.8 2.9-.7 2.9-.5 2.8-.4 2.9-.3 2.8-.1M526.9 59.6l3.4-3.7 3.4-3.5 3.4-3.4 3.3-3.3 3.3-3 3.3-2.9 3.3-2.8 3.3-2.6 3.2-2.4 3.2-2.3 3.2-2.1 3.1-2 3.2-1.8 3.1-1.7 3-1.5 3.1-1.3 3-1.3 3-1.1 3-.9 2.9-.8 3-.7 2.9-.5 2.8-.4 2.8-.2 2.9-.1M528.4 60.1l3.4-3.7 3.4-3.6 3.3-3.4 3.4-3.2 3.3-3.1 3.3-2.9 3.3-2.7 3.2-2.6 3.3-2.4 3.2-2.3 3.2-2.1 3.1-2 3.1-1.8 3.1-1.6 3.1-1.6 3.1-1.3 3-1.2 3-1.1 3-.9 2.9-.8 3-.7 2.8-.5 2.9-.4 2.8-.2 2.8-.1M529.8 60.6l3.5-3.7 3.3-3.6 3.4-3.3 3.4-3.3 3.3-3 3.3-2.9 3.3-2.8 3.2-2.6 3.2-2.4 3.3-2.2 3.1-2.2 3.2-1.9 3.1-1.8 3.1-1.7 3.1-1.5 3.1-1.3 3-1.3 3-1 3-.9 2.9-.8 2.9-.7 2.9-.5 2.9-.4 2.8-.2 2.8-.1M531.3 61.2l3.4-3.7 3.4-3.6 3.4-3.4 3.3-3.2 3.4-3.1 3.3-2.9 3.2-2.7 3.3-2.6 3.2-2.4 3.3-2.3 3.1-2.1 3.2-1.9 3.1-1.8 3.1-1.7 3.1-1.5 3.1-1.3 3-1.2 3-1.1 3-.9 2.9-.8 2.9-.6 2.9-.5 2.9-.4 2.8-.2 2.8-.1M532.8 61.8l3.4-3.8 3.4-3.5 3.4-3.4 3.3-3.2 3.4-3.1 3.3-2.9 3.2-2.7 3.3-2.6 3.2-2.4 3.3-2.3 3.1-2.1 3.2-1.9 3.1-1.8 3.2-1.7 3-1.4 3.1-1.4 3-1.2 3-1 3-1 2.9-.7 3-.7 2.8-.4 2.9-.4 2.8-.2 2.8-.1M534.3 62.4l3.4-3.7 3.4-3.6 3.4-3.4 3.3-3.2 3.4-3 3.3-2.9 3.3-2.8 3.2-2.5 3.3-2.5 3.2-2.2 3.2-2.1 3.1-2 3.2-1.7 3.1-1.7 3.1-1.5 3-1.3 3-1.2 3-1.1 3-.9 3-.7 2.9-.6 2.9-.5 2.8-.4 2.8-.2 2.8-.1M535.8 63l3.4-3.7 3.4-3.5 3.4-3.4 3.3-3.2 3.4-3.1 3.3-2.9 3.3-2.7 3.2-2.6 3.3-2.4 3.2-2.2 3.2-2.1 3.1-2 3.2-1.7 3.1-1.7 3.1-1.5 3-1.3 3.1-1.2 3-1 2.9-.9 3-.8 2.9-.6 2.9-.5 2.8-.3 2.9-.2 2.7-.1M537.3 63.7l3.4-3.7 3.4-3.5 3.4-3.4 3.3-3.2 3.4-3.1 3.3-2.9 3.3-2.7 3.3-2.5 3.2-2.5 3.2-2.2 3.2-2.1 3.2-1.9 3.1-1.8 3.1-1.6 3.1-1.5 3.1-1.3 3-1.2 3-1 3-.9 2.9-.8 2.9-.6 2.9-.5 2.9-.3 2.8-.2 2.8-.1M538.8 64.5l3.4-3.7 3.4-3.6 3.4-3.4 3.4-3.2 3.3-3 3.3-2.9 3.3-2.7 3.3-2.6 3.2-2.4 3.2-2.2 3.2-2.1 3.2-1.9 3.1-1.8 3.2-1.6 3-1.5 3.1-1.3 3-1.2 3-1 3-.9 2.9-.8 2.9-.6 2.9-.4 2.9-.4 2.8-.2 2.8 0M540.3 65.3l3.4-3.7 3.4-3.6 3.4-3.4 3.4-3.2 3.3-3 3.4-2.9 3.3-2.7 3.2-2.6 3.3-2.4 3.2-2.2 3.2-2.1 3.2-1.9 3.1-1.8 3.1-1.6 3.1-1.5 3-1.3 3.1-1.2 3-1 2.9-.9 3-.7 2.9-.6 2.9-.5 2.8-.3 2.8-.2 2.8 0M541.8 66.1l3.5-3.7 3.4-3.6 3.4-3.3 3.3-3.3 3.4-3 3.3-2.9 3.3-2.7 3.3-2.6 3.2-2.3 3.2-2.3 3.2-2.1 3.2-1.9 3.1-1.7 3.2-1.7 3-1.4 3.1-1.3 3-1.2 3-1 3-.9 2.9-.7 2.9-.6 2.9-.5 2.9-.3 2.8-.2 2.8 0M543.4 67l3.4-3.8 3.4-3.5 3.4-3.4 3.4-3.2 3.3-3 3.4-2.9 3.3-2.7 3.2-2.6 3.3-2.4 3.2-2.2 3.2-2.1 3.2-1.9 3.1-1.7 3.1-1.7 3.1-1.4 3.1-1.3 3-1.2 3-1 2.9-.9 3-.7 2.9-.6 2.9-.4 2.8-.3 2.8-.2 2.8 0M544.9 67.9l3.5-3.8 3.4-3.5 3.4-3.4 3.3-3.2 3.4-3 3.3-2.9 3.3-2.7 3.3-2.6 3.2-2.3 3.3-2.3 3.2-2 3.1-2 3.2-1.7 3.1-1.6 3.1-1.5 3-1.3 3-1.1 3-1 3-.9 2.9-.7 2.9-.6 2.9-.4 2.9-.3 2.8-.2 2.8 0M546.5 68.8l3.4-3.7 3.4-3.6 3.4-3.3 3.4-3.2 3.4-3.1 3.3-2.8 3.3-2.8 3.3-2.5 3.2-2.4 3.2-2.2 3.2-2.1 3.2-1.9 3.1-1.7 3.1-1.6 3.1-1.5 3.1-1.3 3-1.1 3-1 3-.9 2.9-.7 2.9-.6 2.9-.4 2.8-.3 2.8-.2 2.8 0M548 69.8l3.5-3.7 3.4-3.6 3.4-3.3 3.4-3.2 3.3-3.1 3.4-2.9 3.3-2.7 3.2-2.5 3.3-2.4 3.2-2.2 3.2-2.1 3.2-1.9 3.1-1.7 3.1-1.6 3.1-1.5 3.1-1.3 3-1.1 3-1 2.9-.8 3-.8 2.9-.5 2.8-.4 2.9-.3 2.8-.2 2.8 0M549.6 70.8l3.4-3.7 3.5-3.5 3.4-3.4 3.4-3.2 3.3-3.1 3.3-2.8 3.3-2.7 3.3-2.6 3.3-2.3 3.2-2.3 3.2-2 3.2-1.9 3.1-1.8 3.1-1.6 3.1-1.4 3-1.3 3.1-1.1 3-1 2.9-.9 3-.7 2.9-.5 2.8-.4 2.9-.3 2.8-.2 2.7 0M551.2 71.9l3.4-3.7 3.5-3.6 3.4-3.3 3.3-3.2 3.4-3.1 3.3-2.8 3.3-2.8 3.3-2.5 3.3-2.4 3.2-2.2 3.2-2 3.2-1.9 3.1-1.8 3.1-1.6 3.1-1.4 3-1.3 3.1-1.1 2.9-1 3-.8 2.9-.7 2.9-.6 2.9-.4 2.8-.3 2.8-.1 2.8 0M552.8 73l3.4-3.7 3.5-3.6 3.4-3.3 3.3-3.2 3.4-3.1 3.3-2.8 3.3-2.7 3.3-2.6 3.3-2.3 3.2-2.3 3.2-2 3.2-1.9 3.1-1.7 3.1-1.6 3.1-1.5 3-1.2 3.1-1.2 2.9-.9 3-.9 2.9-.7 2.9-.5 2.9-.4 2.8-.3 2.8-.1 2.8 0M554.4 74.1l3.4-3.7 3.5-3.5 3.4-3.4 3.3-3.2 3.4-3 3.3-2.9 3.3-2.7 3.3-2.5 3.3-2.4 3.2-2.2 3.2-2 3.2-1.9 3.1-1.8 3.1-1.5 3.1-1.5 3-1.2 3.1-1.2 2.9-1 3-.8 2.9-.7 2.9-.5 2.9-.4 2.8-.3 2.8-.1 2.8 0M556 75.3l3.4-3.7 3.5-3.5 3.4-3.4 3.4-3.2 3.3-3 3.4-2.9 3.3-2.7 3.2-2.5 3.3-2.4 3.2-2.2 3.2-2 3.2-1.9 3.1-1.8 3.1-1.5 3.1-1.5 3-1.2 3.1-1.1 2.9-1 3-.8 2.9-.7 2.9-.6 2.9-.4 2.8-.2 2.8-.2 2.8 .1M557.6 76.6l3.4-3.7 3.5-3.6 3.4-3.4 3.4-3.1 3.3-3.1 3.4-2.8 3.3-2.7 3.3-2.6 3.2-2.3 3.2-2.2 3.2-2.1 3.2-1.9 3.1-1.7 3.1-1.6 3.1-1.4 3.1-1.3 3-1.1 3-.9 2.9-.9 2.9-.6 2.9-.6 2.9-.4 2.8-.2 2.8-.2 2.7 .1M559.2 77.9l3.5-3.8 3.4-3.5 3.4-3.4 3.4-3.2 3.4-3 3.3-2.9 3.3-2.7 3.3-2.5 3.2-2.3 3.3-2.2 3.2-2.1 3.1-1.9 3.2-1.7 3.1-1.6 3-1.4 3.1-1.2 3-1.2 3-.9 2.9-.8 2.9-.7 2.9-.6 2.9-.3 2.8-.3 2.8-.1 2.7 0M560.8 79.2l3.5-3.7 3.4-3.6 3.4-3.3 3.4-3.2 3.4-3.1 3.3-2.8 3.3-2.7 3.3-2.6 3.3-2.3 3.2-2.2 3.2-2.1 3.2-1.8 3.1-1.8 3.1-1.5 3.1-1.4 3-1.3 3-1.1 3-1 2.9-.8 3-.7 2.8-.5 2.9-.4 2.8-.2 2.8-.1 2.7 0M562.5 80.5l3.4-3.7 3.5-3.5 3.4-3.4 3.4-3.2 3.3-3 3.4-2.9 3.3-2.7 3.3-2.5 3.2-2.3 3.2-2.2 3.2-2.1 3.2-1.9 3.1-1.7 3.1-1.5 3.1-1.5 3-1.2 3.1-1.1 2.9-1 3-.8 2.9-.7 2.9-.5 2.8-.4 2.8-.2 2.8-.1 2.8 0M564.1 81.9l3.5-3.7 3.4-3.5 3.4-3.4 3.4-3.2 3.4-3 3.3-2.9 3.3-2.7 3.3-2.5 3.3-2.3 3.2-2.2 3.2-2.1 3.1-1.8 3.2-1.8 3.1-1.5 3-1.4 3.1-1.3 3-1.1 3-.9 2.9-.8 2.9-.7 2.9-.5 2.8-.4 2.8-.2 2.8-.2 2.8 .1M565.8 83.4l3.4-3.7 3.5-3.6 3.4-3.3 3.4-3.2 3.3-3.1 3.4-2.8 3.3-2.7 3.3-2.5 3.2-2.4 3.2-2.2 3.2-2 3.2-1.9 3.1-1.7 3.1-1.6 3.1-1.4 3-1.2 3-1.1 3-1 2.9-.8 3-.6 2.8-.5 2.9-.4 2.8-.3 2.7-.1 2.8 .1M567.4 84.9l3.5-3.7 3.4-3.6 3.5-3.3 3.3-3.2 3.4-3.1 3.4-2.8 3.3-2.7 3.2-2.5 3.3-2.4 3.2-2.2 3.2-2 3.2-1.9 3.1-1.7 3.1-1.5 3.1-1.5 3-1.2 3-1.1 3-.9 2.9-.8 2.9-.7 2.9-.5 2.8-.4 2.8-.2 2.8-.1 2.7 0M569.1 86.4l3.5-3.7 3.4-3.5 3.4-3.4 3.4-3.2 3.4-3 3.3-2.9 3.3-2.7 3.3-2.5 3.3-2.3 3.2-2.2 3.2-2.1 3.1-1.8 3.2-1.7 3-1.6 3.1-1.4 3-1.2 3-1.1 3-1 2.9-.8 2.9-.6 2.9-.5 2.8-.4 2.8-.2 2.8-.1 2.7 0M570.8 88l3.4-3.7 3.5-3.5 3.4-3.4 3.4-3.2 3.4-3 3.3-2.9 3.3-2.7 3.3-2.5 3.2-2.4 3.3-2.2 3.1-2 3.2-1.8 3.1-1.8 3.1-1.5 3.1-1.4 3-1.3 3-1 3-1 2.9-.8 2.9-.6 2.8-.5 2.9-.4 2.8-.2 2.7-.1 2.8 0M572.4 89.6l3.5-3.7 3.5-3.5 3.4-3.4 3.4-3.2 3.3-3 3.4-2.9 3.3-2.7 3.3-2.5 3.2-2.3 3.2-2.2 3.2-2.1 3.2-1.8 3.1-1.7 3.1-1.6 3-1.4 3.1-1.2 3-1.1 2.9-.9 3-.8 2.8-.7 2.9-.5 2.8-.4 2.8-.2 2.8-.1 2.7 .1M574.1 91.3l3.5-3.7 3.5-3.6 3.4-3.3 3.4-3.2 3.3-3 3.4-2.9 3.3-2.7 3.3-2.5 3.2-2.4 3.2-2.2 3.2-2 3.2-1.8 3.1-1.8 3.1-1.5 3-1.4 3-1.2 3-1.1 3-1 2.9-.8 2.9-.6 2.9-.5 2.8-.4 2.8-.2 2.7-.1 2.7 .1M575.8 93l3.5-3.7 3.5-3.5 3.4-3.4 3.4-3.2 3.3-3 3.4-2.9 3.3-2.7 3.3-2.5 3.2-2.4 3.2-2.1 3.2-2.1 3.2-1.8 3.1-1.7 3.1-1.6 3-1.4 3-1.2 3-1.1 3-.9 2.9-.8 2.9-.7 2.8-.5 2.8-.3 2.8-.2 2.8-.1 2.7 0M577.5 94.8l3.5-3.7 3.5-3.6 3.4-3.4 3.4-3.2 3.3-3 3.4-2.8 3.3-2.7 3.3-2.5 3.2-2.4 3.2-2.2 3.2-2 3.1-1.9 3.2-1.7 3-1.5 3.1-1.4 3-1.3 3-1 2.9-1 3-.8 2.8-.6 2.9-.5 2.8-.4 2.8-.2 2.7 0 2.7 0M579.3 96.6l3.4-3.7 3.5-3.6 3.4-3.4 3.4-3.2 3.4-3 3.3-2.8 3.3-2.7 3.3-2.5 3.2-2.4 3.2-2.2 3.2-2 3.1-1.9 3.2-1.7 3-1.5 3.1-1.4 3-1.2 3-1.1 2.9-1 2.9-.7 2.9-.7 2.9-.5 2.8-.3 2.7-.2 2.8-.1 2.7 0M581 98.5l3.5-3.8 3.4-3.5 3.4-3.4 3.4-3.2 3.4-3 3.3-2.9 3.3-2.7 3.3-2.5 3.2-2.4 3.2-2.1 3.2-2.1 3.2-1.8 3.1-1.7 3-1.6 3.1-1.4 3-1.2 3-1.1 2.9-.9 2.9-.8 2.9-.6 2.8-.5 2.8-.4 2.8-.2 2.7-.1 2.7 .1M582.7 100.4l3.5-3.8 3.4-3.5 3.5-3.4 3.3-3.2 3.4-3 3.3-2.9 3.3-2.7 3.3-2.5 3.2-2.4 3.3-2.2 3.1-2 3.2-1.8 3.1-1.7 3.1-1.6 3-1.4 3-1.2 3-1.1 2.9-.9 2.9-.8 2.9-.6 2.8-.5 2.8-.4 2.8-.2 2.7-.1 2.7 .1M584.4 102.3l3.5-3.7 3.5-3.6 3.4-3.4 3.4-3.2 3.3-3 3.4-2.9 3.3-2.7 3.2-2.5 3.3-2.3 3.2-2.2 3.2-2.1 3.1-1.8 3.1-1.7 3.1-1.6 3-1.3 3-1.3 3-1.1 2.9-.9 2.9-.8 2.9-.6 2.8-.5 2.8-.3 2.8-.3 2.7 0 2.7 0M507.6 56.9l2.6 0 2.7 .1 2.8 .2 2.7 .4 2.8 .5 2.9 .7 2.8 .8 2.9 1 3 1.2 3 1.2 3 1.5 3 1.6 3.1 1.8 3.1 1.9 3.2 2.1 3.2 2.2 3.2 2.5 3.2 2.6 3.3 2.7 3.3 3 3.4 3.1 3.3 3.3 3.4 3.5 3.5 3.7 3.4 3.8M509.3 55l2.6 0 2.7 .1 2.7 .2 2.8 .4 2.8 .6 2.9 .6 2.8 .9 3 .9 2.9 1.2 3 1.3 3 1.4 3.1 1.6 3 1.8 3.2 1.9 3.1 2.1 3.2 2.3 3.2 2.4 3.3 2.6 3.2 2.8 3.4 2.9 3.3 3.1 3.4 3.3 3.4 3.5 3.4 3.7 3.5 3.8M510.9 53.2l2.7-.1 2.7 .1 2.7 .3 2.8 .4 2.8 .5 2.9 .7 2.8 .8 3 1 2.9 1.1 3 1.3 3 1.5 3.1 1.6 3.1 1.7 3.1 2 3.1 2.1 3.2 2.2 3.2 2.5 3.3 2.6 3.3 2.7 3.3 3 3.3 3.1 3.4 3.3 3.4 3.5 3.5 3.6 3.4 3.9M512.6 51.3l2.6 0 2.8 .1 2.7 .3 2.8 .4 2.8 .5 2.8 .7 2.9 .8 3 1 2.9 1.1 3 1.3 3 1.5 3.1 1.6 3.1 1.8 3.1 1.9 3.1 2.1 3.2 2.2 3.3 2.5 3.2 2.6 3.3 2.7 3.3 3 3.4 3.1 3.3 3.3 3.4 3.5 3.5 3.6 3.4 3.9M514.2 49.6l2.7-.1 2.7 .2 2.8 .2 2.8 .4 2.8 .5 2.8 .7 2.9 .9 2.9 .9 3 1.2 3 1.3 3 1.4 3.1 1.6 3.1 1.8 3.1 1.9 3.2 2.1 3.2 2.3 3.2 2.4 3.2 2.6 3.3 2.8 3.3 2.9 3.4 3.2 3.4 3.2 3.4 3.5 3.4 3.7 3.5 3.8M515.9 47.8l2.7 0 2.7 .1 2.7 .3 2.8 .4 2.8 .5 2.9 .7 2.9 .8 2.9 1 3 1.2 3 1.3 3 1.4 3.1 1.6 3.1 1.8 3.1 1.9 3.2 2.1 3.2 2.3 3.2 2.4 3.2 2.6 3.3 2.8 3.3 2.9 3.4 3.1 3.4 3.3 3.4 3.5 3.4 3.7 3.5 3.8M517.5 46.1l2.7 0 2.7 .1 2.8 .3 2.8 .4 2.8 .5 2.9 .7 2.9 .9 2.9 1 3 1.1 3 1.3 3 1.4 3.1 1.7 3.1 1.7 3.1 2 3.2 2.1 3.2 2.2 3.2 2.4 3.2 2.7 3.3 2.7 3.4 3 3.3 3.1 3.4 3.3 3.4 3.4 3.4 3.7 3.5 3.8M519.2 44.5l2.7 0 2.7 .1 2.8 .3 2.7 .4 2.9 .5 2.8 .7 2.9 .8 3 1 3 1.2 3 1.3 3 1.4 3.1 1.6 3.1 1.8 3.1 1.9 3.2 2.1 3.2 2.3 3.2 2.4 3.2 2.6 3.3 2.8 3.4 2.9 3.3 3.2 3.4 3.3 3.4 3.4 3.4 3.7 3.5 3.8M520.8 42.9l2.7 0 2.7 .1 2.8 .2 2.8 .5 2.8 .5 2.9 .7 2.9 .8 3 1 2.9 1.2 3 1.3 3.1 1.4 3 1.6 3.1 1.8 3.2 2 3.1 2.1 3.2 2.2 3.3 2.5 3.2 2.6 3.3 2.7 3.3 3 3.4 3.1 3.4 3.3 3.4 3.4 3.4 3.7 3.5 3.8M522.4 41.3l2.7 0 2.8 .1 2.7 .3 2.9 .4 2.8 .5 2.9 .7 2.9 .9 2.9 1 3 1.1 3 1.3 3 1.5 3.1 1.6 3.1 1.8 3.2 1.9 3.1 2.1 3.2 2.3 3.3 2.4 3.2 2.6 3.3 2.8 3.3 2.9 3.4 3.2 3.4 3.2 3.4 3.5 3.4 3.7 3.5 3.8M524.1 39.8l2.7 0 2.7 .1 2.8 .3 2.8 .4 2.8 .5 2.9 .7 2.9 .9 3 1 3 1.1 3 1.3 3 1.5 3.1 1.6 3.1 1.8 3.1 1.9 3.2 2.1 3.2 2.3 3.2 2.4 3.3 2.6 3.3 2.8 3.3 2.9 3.4 3.2 3.3 3.3 3.4 3.4 3.5 3.7 3.4 3.8M525.7 38.3l2.7 0 2.7 .1 2.8 .3 2.8 .4 2.9 .5 2.9 .7 2.9 .9 2.9 1 3 1.1 3 1.4 3.1 1.4 3 1.6 3.2 1.8 3.1 2 3.2 2.1 3.2 2.2 3.2 2.5 3.3 2.6 3.3 2.7 3.3 3 3.3 3.1 3.4 3.3 3.4 3.5 3.5 3.6 3.4 3.8M527.3 36.8l2.7 0 2.8 .1 2.8 .3 2.8 .4 2.8 .6 2.9 .7 2.9 .9 3 1 3 1.1 3 1.3 3 1.5 3.1 1.6 3.1 1.8 3.2 1.9 3.1 2.2 3.2 2.2 3.3 2.5 3.2 2.6 3.3 2.7 3.4 3 3.3 3.1 3.4 3.3 3.4 3.5 3.4 3.6 3.5 3.8M528.9 35.4l2.7 0 2.8 .1 2.8 .3 2.8 .4 2.9 .6 2.8 .7 3 .9 2.9 1 3 1.1 3 1.3 3.1 1.5 3.1 1.6 3.1 1.8 3.1 2 3.2 2.1 3.2 2.3 3.2 2.4 3.3 2.6 3.3 2.8 3.3 2.9 3.4 3.1 3.3 3.3 3.4 3.5 3.5 3.6 3.4 3.9M530.5 34l2.8 0 2.7 .2 2.8 .2 2.8 .5 2.9 .5 2.9 .8 2.9 .8 3 1 2.9 1.2 3.1 1.3 3 1.5 3.1 1.6 3.1 1.8 3.2 1.9 3.1 2.1 3.2 2.3 3.3 2.5 3.2 2.6 3.3 2.7 3.4 3 3.3 3.1 3.4 3.3 3.4 3.5 3.4 3.6 3.5 3.8M532.1 32.7l2.8 0 2.7 .1 2.8 .3 2.8 .4 2.9 .6 2.9 .7 2.9 .9 3 1 3 1.2 3 1.3 3.1 1.5 3 1.6 3.2 1.8 3.1 1.9 3.2 2.2 3.2 2.2 3.2 2.5 3.3 2.6 3.3 2.8 3.3 2.9 3.4 3.1 3.3 3.3 3.4 3.5 3.5 3.6 3.4 3.9M533.7 31.3l2.8 .1 2.7 .1 2.8 .3 2.9 .5 2.8 .5 2.9 .8 3 .8 2.9 1 3 1.2 3 1.3 3.1 1.5 3.1 1.6 3.1 1.8 3.1 2 3.2 2.1 3.2 2.3 3.3 2.4 3.2 2.6 3.3 2.8 3.3 3 3.4 3.1 3.4 3.3 3.4 3.5 3.4 3.6 3.4 3.8M535.3 30.1l2.8 0 2.7 .2 2.8 .3 2.9 .4 2.8 .6 2.9 .7 3 .9 2.9 1 3 1.2 3.1 1.3 3 1.5 3.1 1.6 3.1 1.8 3.2 2 3.1 2.1 3.3 2.3 3.2 2.4 3.3 2.6 3.2 2.8 3.4 3 3.3 3.1 3.4 3.3 3.4 3.5 3.4 3.6 3.5 3.8M536.9 28.8l2.8 .1 2.7 .1 2.8 .3 2.9 .5 2.8 .6 2.9 .7 3 .9 2.9 1 3 1.2 3.1 1.3 3 1.5 3.1 1.7 3.1 1.8 3.2 1.9 3.2 2.1 3.2 2.3 3.2 2.5 3.3 2.6 3.3 2.8 3.3 2.9 3.3 3.1 3.4 3.3 3.4 3.5 3.4 3.6 3.5 3.9M538.5 27.7l2.8 0 2.7 .2 2.8 .3 2.9 .4 2.8 .6 3 .7 2.9 .9 3 1.1 3 1.1 3 1.4 3 1.5 3.1 1.6 3.2 1.8 3.1 2 3.2 2.1 3.2 2.3 3.2 2.4 3.3 2.7 3.3 2.7 3.3 3 3.3 3.1 3.4 3.3 3.4 3.5 3.4 3.6 3.5 3.8M540.1 26.5l2.7 0 2.8 .2 2.8 .3 2.9 .5 2.8 .6 2.9 .7 3 .9 3 1.1 3 1.1 3 1.4 3 1.5 3.1 1.6 3.2 1.8 3.1 2 3.2 2.1 3.2 2.3 3.2 2.5 3.3 2.6 3.3 2.8 3.3 2.9 3.4 3.1 3.3 3.3 3.4 3.5 3.4 3.7 3.5 3.8M541.7 25.4l2.7 0 2.8 .2 2.8 .3 2.9 .5 2.8 .6 2.9 .7 3 .9 3 1.1 3 1.2 3 1.3 3 1.5 3.1 1.7 3.2 1.8 3.1 1.9 3.2 2.2 3.2 2.3 3.2 2.4 3.3 2.6 3.3 2.8 3.3 3 3.4 3.1 3.3 3.3 3.4 3.5 3.4 3.6 3.5 3.8M543.2 24.3l2.8 0 2.8 .2 2.8 .4 2.8 .4 2.9 .6 2.9 .8 3 .9 2.9 1 3 1.2 3.1 1.4 3 1.5 3.1 1.6 3.2 1.9 3.1 1.9 3.2 2.2 3.2 2.3 3.2 2.4 3.3 2.6 3.3 2.8 3.3 3 3.3 3.1 3.4 3.3 3.4 3.5 3.4 3.6 3.5 3.8M544.8 23.3l2.8 0 2.7 .2 2.9 .3 2.8 .5 2.9 .6 2.9 .8 2.9 .9 3 1 3 1.2 3.1 1.4 3 1.5 3.1 1.7 3.1 1.8 3.2 2 3.2 2.1 3.2 2.3 3.2 2.5 3.3 2.6 3.3 2.8 3.3 2.9 3.3 3.2 3.4 3.3 3.4 3.4 3.4 3.7 3.4 3.8M546.4 22.2l2.7 .1 2.8 .2 2.8 .4 2.9 .4 2.9 .6 2.9 .8 2.9 .9 3 1.1 3 1.2 3 1.3 3.1 1.6 3.1 1.6 3.1 1.8 3.2 2 3.2 2.2 3.2 2.3 3.2 2.4 3.3 2.7 3.2 2.8 3.4 2.9 3.3 3.2 3.4 3.3 3.3 3.4 3.5 3.7 3.4 3.8M547.9 21.3l2.8 0 2.8 .3 2.8 .3 2.8 .5 2.9 .6 2.9 .8 3 .9 3 1.1 3 1.2 3 1.3 3.1 1.5 3.1 1.7 3.1 1.8 3.2 2 3.1 2.2 3.2 2.3 3.3 2.4 3.2 2.7 3.3 2.8 3.3 2.9 3.4 3.2 3.3 3.3 3.4 3.5 3.4 3.6 3.4 3.8M549.5 20.3l2.7 .1 2.8 .2 2.8 .4 2.9 .5 2.9 .6 2.9 .8 3 .9 2.9 1.1 3 1.2 3.1 1.4 3 1.5 3.1 1.7 3.2 1.8 3.1 2 3.2 2.1 3.2 2.3 3.2 2.5 3.3 2.6 3.3 2.8 3.3 3 3.3 3.1 3.4 3.3 3.4 3.5 3.4 3.7 3.4 3.8M551 19.4l2.8 .1 2.8 .2 2.8 .4 2.9 .5 2.8 .6 3 .8 2.9 1 3 1 3 1.3 3 1.3 3.1 1.5 3.1 1.7 3.1 1.9 3.2 2 3.2 2.1 3.2 2.3 3.2 2.5 3.2 2.6 3.3 2.8 3.3 3 3.4 3.1 3.3 3.4 3.4 3.4 3.4 3.7 3.4 3.8M552.5 18.6l2.8 .1 2.8 .2 2.8 .4 2.9 .5 2.9 .6 2.9 .8 3 .9 2.9 1.1 3.1 1.2 3 1.4 3.1 1.6 3.1 1.6 3.1 1.9 3.1 2 3.2 2.1 3.2 2.4 3.2 2.4 3.3 2.7 3.3 2.8 3.3 3 3.3 3.1 3.4 3.3 3.3 3.5 3.4 3.6 3.5 3.8M554.1 17.8l2.7 .1 2.8 .2 2.9 .4 2.8 .5 2.9 .6 3 .8 2.9 1 3 1 3 1.3 3 1.4 3.1 1.5 3.1 1.7 3.1 1.8 3.2 2 3.2 2.2 3.2 2.3 3.2 2.5 3.2 2.6 3.3 2.9 3.3 2.9 3.3 3.2 3.4 3.3 3.4 3.5 3.4 3.6 3.4 3.8M555.6 17l2.8 .1 2.8 .2 2.8 .4 2.9 .5 2.9 .7 2.9 .8 2.9 .9 3 1.1 3 1.3 3.1 1.3 3 1.6 3.1 1.7 3.2 1.8 3.1 2 3.2 2.2 3.2 2.3 3.2 2.5 3.3 2.7 3.2 2.8 3.4 2.9 3.3 3.2 3.3 3.3 3.4 3.5 3.4 3.6 3.4 3.9M557.1 16.2l2.8 .1 2.8 .3 2.8 .4 2.9 .5 2.9 .7 2.9 .8 3 .9 3 1.1 3 1.3 3 1.4 3.1 1.5 3.1 1.7 3.1 1.9 3.1 2 3.2 2.1 3.2 2.4 3.2 2.5 3.3 2.6 3.3 2.8 3.3 3 3.3 3.2 3.3 3.3 3.4 3.4 3.4 3.7 3.4 3.8M558.6 15.5l2.8 .1 2.8 .3 2.9 .4 2.8 .5 2.9 .7 2.9 .8 3 1 3 1.1 3 1.2 3 1.4 3.1 1.6 3.1 1.7 3.1 1.8 3.2 2 3.1 2.2 3.2 2.4 3.3 2.4 3.2 2.7 3.3 2.8 3.3 3 3.3 3.1 3.3 3.4 3.4 3.4 3.4 3.7 3.4 3.8M560.1 14.8l2.8 .1 2.8 .3 2.9 .4 2.8 .6 2.9 .6 3 .9 2.9 .9 3 1.1 3 1.3 3 1.4 3.1 1.6 3.1 1.7 3.1 1.8 3.2 2.1 3.2 2.1 3.2 2.4 3.2 2.5 3.2 2.6 3.3 2.8 3.3 3 3.3 3.2 3.3 3.3 3.4 3.5 3.4 3.6 3.4 3.9M561.6 14.2l2.8 .1 2.8 .3 2.9 .4 2.8 .5 2.9 .7 3 .9 2.9 .9 3 1.1 3 1.3 3.1 1.4 3 1.6 3.1 1.7 3.1 1.9 3.2 2 3.2 2.2 3.2 2.3 3.2 2.5 3.2 2.7 3.3 2.8 3.3 3 3.3 3.2 3.3 3.3 3.4 3.5 3.4 3.6 3.4 3.8M563.1 13.6l2.8 .1 2.8 .3 2.9 .4 2.8 .6 2.9 .7 3 .8 2.9 1 3 1.1 3 1.3 3.1 1.4 3 1.6 3.1 1.7 3.1 1.9 3.2 2 3.2 2.2 3.2 2.3 3.2 2.5 3.2 2.7 3.3 2.8 3.3 3 3.3 3.2 3.3 3.3 3.4 3.5 3.3 3.6 3.4 3.9M564.6 13l2.8 .1 2.8 .3 2.9 .4 2.8 .6 2.9 .7 3 .9 2.9 .9 3 1.2 3 1.3 3.1 1.4 3 1.6 3.1 1.7 3.1 1.9 3.2 2 3.1 2.2 3.2 2.3 3.3 2.6 3.2 2.6 3.3 2.9 3.3 3 3.3 3.1 3.3 3.3 3.3 3.5 3.4 3.7 3.4 3.8M566.1 12.4l2.8 .2 2.8 .3 2.9 .4 2.8 .6 2.9 .7 3 .9 2.9 1 3 1.1 3 1.3 3 1.4 3.1 1.6 3.1 1.7 3.1 1.9 3.2 2.1 3.1 2.2 3.2 2.3 3.2 2.5 3.3 2.7 3.2 2.8 3.3 3 3.3 3.2 3.4 3.3 3.3 3.5 3.4 3.7 3.4 3.8M567.6 11.9l2.8 .2 2.8 .3 2.8 .4 2.9 .6 2.9 .7 2.9 .9 3 1 3 1.2 3 1.2 3 1.5 3.1 1.6 3.1 1.7 3.1 1.9 3.1 2.1 3.2 2.2 3.2 2.3 3.2 2.5 3.2 2.7 3.3 2.9 3.3 3 3.3 3.1 3.3 3.3 3.4 3.5 3.3 3.7 3.4 3.8M569.1 11.5l2.7 .1 2.9 .3 2.8 .5 2.9 .6 2.9 .7 2.9 .9 3 1 3 1.1 3 1.3 3 1.5 3.1 1.6 3.1 1.7 3.1 1.9 3.1 2.1 3.2 2.2 3.2 2.4 3.2 2.5 3.2 2.7 3.3 2.8 3.2 3 3.3 3.2 3.4 3.3 3.3 3.5 3.4 3.7 3.3 3.8M570.5 11l2.8 .2 2.8 .3 2.9 .5 2.9 .6 2.9 .7 2.9 .9 2.9 1 3 1.2 3 1.3 3.1 1.4 3 1.6 3.1 1.8 3.1 1.9 3.2 2 3.1 2.3 3.2 2.3 3.2 2.6 3.3 2.6 3.2 2.9 3.3 3 3.3 3.2 3.3 3.3 3.3 3.5 3.4 3.7 3.4 3.8M572 10.6l2.8 .2 2.8 .3 2.8 .5 2.9 .6 2.9 .8 3 .8 2.9 1.1 3 1.1 3 1.3 3 1.5 3.1 1.6 3.1 1.8 3.1 1.9 3.1 2 3.2 2.3 3.2 2.3 3.2 2.6 3.2 2.7 3.3 2.8 3.2 3 3.3 3.2 3.3 3.3 3.4 3.5 3.3 3.7 3.4 3.8M573.4 10.2l2.8 .2 2.9 .4 2.8 .5 2.9 .6 2.9 .7 2.9 .9 3 1 2.9 1.2 3.1 1.3 3 1.5 3 1.6 3.1 1.8 3.1 1.9 3.2 2.1 3.1 2.2 3.2 2.4 3.2 2.5 3.2 2.7 3.3 2.9 3.3 3 3.2 3.2 3.4 3.3 3.3 3.5 3.3 3.7 3.4 3.8M574.9 9.9l2.8 .2 2.8 .4 2.8 .4 2.9 .7 2.9 .7 3 .9 2.9 1.1 3 1.2 3 1.3 3 1.5 3.1 1.6 3.1 1.8 3.1 1.9 3.1 2 3.2 2.3 3.1 2.4 3.3 2.5 3.2 2.7 3.2 2.9 3.3 3 3.3 3.2 3.3 3.3 3.3 3.5 3.3 3.7 3.4 3.8M576.3 9.6l2.8 .2 2.8 .4 2.9 .5 2.9 .6 2.9 .8 2.9 .9 3 1 2.9 1.2 3 1.4 3.1 1.4 3 1.7 3.1 1.7 3.1 2 3.1 2.1 3.2 2.2 3.2 2.4 3.2 2.5 3.2 2.7 3.2 2.9 3.3 3 3.3 3.2 3.3 3.3 3.3 3.5 3.3 3.7 3.4 3.9M577.8 9.3l2.8 .3 2.8 .3 2.8 .5 2.9 .7 2.9 .7 2.9 1 3 1 3 1.2 3 1.4 3 1.4 3.1 1.7 3 1.8 3.1 1.9 3.2 2.1 3.1 2.2 3.2 2.4 3.2 2.6 3.2 2.7 3.2 2.9 3.3 3 3.3 3.2 3.3 3.3 3.3 3.5 3.3 3.7 3.4 3.8M579.2 9.1l2.8 .2 2.8 .4 2.9 .5 2.8 .7 2.9 .7 3 1 2.9 1 3 1.2 3 1.4 3 1.5 3.1 1.6 3.1 1.8 3.1 2 3.1 2.1 3.1 2.2 3.2 2.4 3.2 2.6 3.2 2.7 3.2 2.9 3.3 3 3.3 3.2 3.3 3.3 3.3 3.5 3.3 3.7 3.4 3.8M580.6 8.9l2.8 .2 2.8 .4 2.9 .5 2.9 .7 2.9 .8 2.9 .9 2.9 1.1 3 1.2 3 1.4 3 1.5 3.1 1.6 3.1 1.8 3.1 2 3.1 2.1 3.1 2.2 3.2 2.4 3.2 2.6 3.2 2.7 3.2 2.9 3.3 3 3.3 3.2 3.2 3.4 3.4 3.5 3.3 3.7 3.3 3.8M582 8.7l2.8 .3 2.8 .4 2.9 .5 2.9 .7 2.9 .8 2.9 .9 2.9 1.1 3 1.2 3 1.4 3.1 1.5 3 1.6 3.1 1.8 3.1 2 3.1 2.1 3.1 2.3 3.2 2.4 3.2 2.5 3.2 2.8 3.2 2.8 3.3 3.1 3.2 3.2 3.3 3.3 3.3 3.6 3.3 3.6 3.4 3.9M583.4 8.6l2.8 .2 2.9 .4 2.8 .6 2.9 .7 2.9 .8 2.9 .9 3 1.1 2.9 1.2 3 1.4 3.1 1.5 3 1.7 3.1 1.8 3.1 2 3.1 2.1 3.1 2.2 3.2 2.5 3.2 2.5 3.2 2.8 3.2 2.8 3.2 3.1 3.3 3.2 3.3 3.3 3.3 3.6 3.3 3.6 3.3 3.9M584.8 8.4l2.8 .3 2.9 .4 2.8 .6 2.9 .7 2.9 .8 2.9 1 3 1.1 2.9 1.2 3 1.4 3 1.5 3.1 1.7 3.1 1.8 3.1 2 3.1 2.1 3.1 2.3 3.2 2.4 3.1 2.6 3.2 2.7 3.3 2.9 3.2 3 3.3 3.2 3.2 3.4 3.3 3.5 3.3 3.7 3.4 3.8" fill="none" stroke="#000" stroke-opacity="1" stroke-width="0.25" stroke-linejoin="round"/>
<g font-size="6.3"><text x="503.7" y="94.7" text-anchor="end">10</text><text x="503.5" y="81.9" text-anchor="end">20</text><text x="503.3" y="69.1" text-anchor="end">30</text><text x="503.1" y="56.2" text-anchor="end">40</text><text x="502.9" y="43.4" text-anchor="end">50</text><text x="502.7" y="30.5" text-anchor="end">60</text><text x="502.5" y="17.7" text-anchor="end">70</text><text x="501.5" y="126.5" text-anchor="middle">7.00</text><text x="520.0" y="135.3" text-anchor="middle">5.75</text><text x="538.5" y="144.1" text-anchor="middle">4.50</text><text x="557.0" y="152.9" text-anchor="middle">3.25</text><text x="575.5" y="161.7" text-anchor="middle">2.00</text><text x="593.7" y="161.8" text-anchor="middle">0.80</text><text x="612.3" y="153.0" text-anchor="middle">1.27</text><text x="631.0" y="144.2" text-anchor="middle">1.75</text><text x="649.6" y="135.4" text-anchor="middle">2.23</text><text x="668.2" y="126.6" text-anchor="middle">2.70</text></g>
<path d="M510.6 120.7l-1.1 1.0M529.1 129.5l-1.1 1.0M547.6 138.3l-1.1 1.0M566.1 147.1l-1.1 1.0M584.6 155.9l-1.1 1.0M584.6 155.9l1.1 1.0M603.2 147.1l1.1 1.0M621.9 138.3l1.1 1.0M640.5 129.5l1.1 1.0M659.1 120.7l1.1 1.0" stroke="#000" stroke-width=".7" fill="none"/>
<g font-size="8.15"><text transform="translate(525.5 154.2) rotate(25.3)" text-anchor="middle">Reaction time (h)</text><text transform="translate(641.9 156.8) rotate(-25.3)" text-anchor="middle">Enzyme (U)</text><text transform="translate(487.9 55.7) rotate(-90.0)" text-anchor="middle">Chlorogenic acid (g/kg DW)</text></g>
<text x="461.2" y="6.5" font-size="8.6" font-weight="bold">(C)</text>
</g>
<g id="pD">
<path d="M49.3 309.3L122.1 344.1L195.2 309.3L122.5 281.9z" fill="#ff0" stroke="#222" stroke-width=".5"/>
<path d="M62.8 305.1L63.5 304.7M63.5 304.7L64.4 304.0M64.4 304.0L65.4 303.3M65.4 303.3L65.5 303.2M60.5 306.9L60.7 306.7M60.7 306.7L61.7 306.0M61.7 306.0L62.6 305.3M62.6 305.3L62.8 305.1M58.4 308.6L59.0 308.1M59.0 308.1L59.9 307.4M59.9 307.4L60.5 306.9M56.6 310.3L57.3 309.6M57.3 309.6L58.1 308.9M58.1 308.9L58.4 308.6M54.9 311.8L55.6 311.2M55.6 311.2L56.4 310.4M56.4 310.4L56.6 310.3M54.8 311.9L54.9 311.8M117.1 341.7L119.3 341.4M119.3 341.4L119.6 341.4M121.5 341.2L119.6 341.4M121.5 341.2L123.3 340.9M123.6 340.9L123.3 340.9M123.6 340.9L125.7 340.6M125.7 340.6L127.2 340.4M127.8 340.3L127.2 340.4M127.8 340.3L129.9 340.0M129.9 340.0L131.2 339.8" fill="none" stroke="#00ff59" stroke-width=".5" stroke-opacity=".85" stroke-linecap="round"/>
<path d="M85.9 296.4L86.5 296.1M86.5 296.1L87.5 295.6M87.5 295.6L88.5 295.0M88.5 295.0L89.5 294.5M89.5 294.5L90.6 294.0M90.6 294.0L91.6 293.5M91.6 293.5L91.7 293.4M81.6 298.9L82.5 298.4M82.5 298.4L83.5 297.8M83.5 297.8L84.5 297.3M84.5 297.3L85.5 296.7M85.5 296.7L85.9 296.4M78.1 301.2L78.6 300.8M78.6 300.8L79.6 300.2M79.6 300.2L80.6 299.6M80.6 299.6L81.5 299.0M81.5 299.0L81.6 298.9M75.2 303.2L75.8 302.7M75.8 302.7L76.8 302.1M76.8 302.1L77.7 301.4M77.7 301.4L78.1 301.2M72.7 305.0L73.1 304.7M73.1 304.7L74.0 304.0M74.0 304.0L74.9 303.4M74.9 303.4L75.2 303.2M70.6 306.7L71.4 306.1M71.4 306.1L72.3 305.4M72.3 305.4L72.7 305.0M68.8 308.4L68.9 308.2M68.9 308.2L69.7 307.5M69.7 307.5L70.6 306.8M70.6 306.8L70.6 306.7M67.2 309.9L67.4 309.8M67.4 309.8L68.1 309.0M68.1 309.0L68.8 308.4M65.9 311.4L65.9 311.4M65.9 311.4L66.6 310.6M66.6 310.6L67.2 309.9M64.7 312.8L65.2 312.2M65.2 312.2L65.9 311.4M63.7 314.1L63.9 313.9M63.9 313.9L64.5 313.0M64.5 313.0L64.7 312.8M62.9 315.4L63.3 314.8M63.3 314.8L63.7 314.1M62.7 315.7L62.9 315.4M107.6 337.2L110.1 337.0M110.1 337.0L110.1 337.0M112.5 336.9L110.1 337.0M112.5 336.9L113.2 336.8M114.8 336.7L113.2 336.8M114.8 336.7L116.4 336.6M117.1 336.5L116.4 336.6M117.1 336.5L119.3 336.3M119.3 336.3L119.7 336.3M121.6 336.1L119.7 336.3M121.6 336.1L123.2 335.9M123.7 335.9L123.2 335.9M123.7 335.9L125.9 335.6M125.9 335.6L126.8 335.5M128.0 335.4L126.8 335.5M128.0 335.4L130.0 335.1M130.0 335.1L130.6 335.0M132.1 334.8L130.6 335.0M132.1 334.8L134.1 334.5M134.1 334.5L134.5 334.4M136.0 334.2L134.5 334.4M136.0 334.2L138.0 333.8M138.0 333.8L138.5 333.8M139.9 333.5L138.5 333.8M139.9 333.5L141.8 333.2M141.8 333.2L142.8 333.0M143.7 332.8L142.8 333.0M143.7 332.8L145.5 332.5M145.5 332.5L147.3 332.1" fill="none" stroke="#08ff10" stroke-width=".5" stroke-opacity=".85" stroke-linecap="round"/>
<path d="M107.5 290.9L107.7 290.8M107.7 290.8L108.8 290.3M108.8 290.3L109.9 289.8M109.9 289.8L110.9 289.4M110.9 289.4L112.0 288.9M112.0 288.9L113.1 288.4M113.1 288.4L114.2 288.0M114.2 288.0L115.3 287.5M115.3 287.5L116.4 287.1M116.4 287.1L117.5 286.7M117.5 286.7L118.7 286.3M118.7 286.3L119.8 285.8M119.8 285.8L120.9 285.4M120.9 285.4L122.0 285.0M122.0 285.0L123.2 284.6M123.2 284.6L124.3 284.2M124.3 284.2L125.5 283.8M125.5 283.8L126.6 283.4M99.4 294.8L99.4 294.8M99.4 294.8L100.5 294.3M100.5 294.3L101.5 293.8M101.5 293.8L102.5 293.2M102.5 293.2L103.5 292.7M103.5 292.7L104.6 292.2M104.6 292.2L105.6 291.7M105.6 291.7L106.7 291.2M106.7 291.2L107.5 290.9M94.4 297.6L94.5 297.6M94.5 297.6L95.5 297.0M95.5 297.0L96.5 296.4M96.5 296.4L97.4 295.9M97.4 295.9L98.4 295.3M98.4 295.3L99.4 294.8M90.7 299.9L90.7 299.9M90.7 299.9L91.7 299.3M91.7 299.3L92.6 298.7M92.6 298.7L93.5 298.1M93.5 298.1L94.4 297.6M87.7 302.0L88.0 301.8M88.0 301.8L88.9 301.2M88.9 301.2L89.8 300.5M89.8 300.5L90.7 299.9M85.3 303.8L85.4 303.8M85.4 303.8L86.3 303.1M86.3 303.1L87.1 302.4M87.1 302.4L87.7 302.0M83.3 305.5L83.8 305.2M83.8 305.2L84.6 304.5M84.6 304.5L85.3 303.8M81.6 307.1L82.2 306.6M82.2 306.6L83.0 305.9M83.0 305.9L83.3 305.5M80.3 308.6L80.7 308.1M80.7 308.1L81.5 307.3M81.5 307.3L81.6 307.1M79.1 310.0L79.4 309.7M79.4 309.7L80.0 308.9M80.0 308.9L80.3 308.6M78.2 311.4L78.2 311.4M78.2 311.4L78.8 310.5M78.8 310.5L79.1 310.0M77.4 312.6L77.6 312.2M77.6 312.2L78.2 311.4M76.8 313.9L77.1 313.2M77.1 313.2L77.4 312.6M76.4 315.0L76.7 314.1M76.7 314.1L76.8 313.9M76.1 316.1L76.4 315.1M76.4 315.1L76.4 315.0M76.0 317.2L76.1 316.1M76.1 316.1L76.1 316.1M76.0 318.2L76.0 317.3M76.0 317.3L76.0 317.2M76.1 319.2L76.0 318.5M76.0 318.5L76.0 318.2M76.4 320.1L76.3 319.8M76.3 319.8L76.1 319.2M76.7 321.0L76.4 320.1M77.2 321.8L76.9 321.3M76.9 321.3L76.7 321.0M77.8 322.6L77.2 321.8M78.2 323.1L77.8 322.6M90.5 329.0L90.9 329.1M92.7 329.4L90.9 329.1M94.6 329.8L92.7 329.4M94.9 329.8L94.6 329.8M94.9 329.8L96.5 330.1M98.5 330.3L96.5 330.1M98.5 330.3L98.6 330.3M100.8 330.5L98.6 330.3M101.7 330.6L100.8 330.5M101.7 330.6L103.1 330.7M104.7 330.7L103.1 330.7M104.7 330.7L105.4 330.8M107.5 330.8L105.4 330.8M107.5 330.8L107.9 330.8M110.2 330.8L107.9 330.8M110.2 330.8L110.5 330.8M112.8 330.8L110.5 330.8M112.8 330.8L113.2 330.8M115.3 330.7L113.2 330.8M115.3 330.7L116.1 330.7M117.7 330.6L116.1 330.7M117.7 330.6L119.0 330.6M120.0 330.5L119.0 330.6M120.0 330.5L122.1 330.4M122.3 330.3L122.1 330.4M122.3 330.3L124.5 330.2M124.5 330.2L125.3 330.1M126.7 330.0L125.3 330.1M126.7 330.0L128.7 329.8M128.8 329.7L128.7 329.8M128.8 329.7L130.9 329.5M130.9 329.5L132.2 329.3M133.0 329.2L132.2 329.3M133.0 329.2L135.0 329.0M135.0 329.0L135.9 328.8M137.0 328.7L135.9 328.8M137.0 328.7L138.9 328.4M138.9 328.4L139.8 328.3M140.8 328.1L139.8 328.3M140.8 328.1L142.7 327.8M142.7 327.8L143.8 327.6M144.6 327.4L143.8 327.6M144.6 327.4L146.4 327.1M146.4 327.1L148.1 326.8M148.2 326.8L148.1 326.8M148.2 326.8L150.0 326.4M150.0 326.4L151.7 326.1M151.7 326.1L152.7 325.8M153.4 325.7L152.7 325.8M153.4 325.7L155.1 325.3M155.1 325.3L156.8 324.9M156.8 324.9L157.6 324.7M158.5 324.5L157.6 324.7M158.5 324.5L160.1 324.1M160.1 324.1L161.7 323.7M161.7 323.7L163.0 323.4M163.3 323.3L163.0 323.4M163.3 323.3L164.9 322.9M164.9 322.9L166.4 322.5M166.4 322.5L168.0 322.1M168.0 322.1L168.9 321.8" fill="none" stroke="#64ff00" stroke-width=".5" stroke-opacity=".85" stroke-linecap="round"/>
<path d="M115.8 292.9L116.6 292.5M116.6 292.5L117.7 292.0M117.7 292.0L118.7 291.5M118.7 291.5L119.8 291.1M119.8 291.1L120.9 290.6M120.9 290.6L121.9 290.1M121.9 290.1L123.0 289.7M123.0 289.7L124.1 289.2M124.1 289.2L125.2 288.8M125.2 288.8L126.3 288.4M126.3 288.4L127.5 287.9M127.5 287.9L128.6 287.5M128.6 287.5L129.7 287.1M129.7 287.1L130.9 286.7M130.9 286.7L132.0 286.3M132.0 286.3L133.2 285.9M109.2 296.4L109.6 296.1M109.6 296.1L110.6 295.6M110.6 295.6L111.6 295.1M111.6 295.1L112.6 294.5M112.6 294.5L113.6 294.0M113.6 294.0L114.6 293.5M114.6 293.5L115.6 293.0M115.6 293.0L115.8 292.9M105.1 298.9L105.8 298.4M105.8 298.4L106.8 297.8M106.8 297.8L107.7 297.3M107.7 297.3L108.6 296.7M108.6 296.7L109.2 296.4M102.2 301.0L102.3 300.9M102.3 300.9L103.2 300.2M103.2 300.2L104.1 299.6M104.1 299.6L104.9 299.0M104.9 299.0L105.1 298.9M99.9 302.8L100.7 302.2M100.7 302.2L101.5 301.5M101.5 301.5L102.2 301.0M98.2 304.4L98.4 304.2M98.4 304.2L99.1 303.5M99.1 303.5L99.9 302.8M99.9 302.8L99.9 302.8M96.7 305.9L97.0 305.7M97.0 305.7L97.6 304.9M97.6 304.9L98.2 304.4M95.6 307.3L95.7 307.2M95.7 307.2L96.3 306.5M96.3 306.5L96.7 305.9M94.8 308.6L95.2 308.1M95.2 308.1L95.6 307.3M94.2 309.9L94.2 309.8M94.2 309.8L94.7 308.9M94.7 308.9L94.8 308.6M93.8 311.0L93.9 310.7M93.9 310.7L94.2 309.9M93.6 312.1L93.6 311.7M93.6 311.7L93.8 311.0M93.5 313.1L93.5 312.7M93.5 312.7L93.6 312.1M93.6 314.1L93.6 313.9M93.6 313.9L93.5 313.1M93.9 315.0L93.6 314.1M94.3 315.9L93.9 315.2M93.9 315.2L93.9 315.0M94.8 316.7L94.3 315.9M95.4 317.4L94.8 316.7M94.8 316.7L94.8 316.7M96.2 318.2L95.4 317.4M97.1 318.8L96.2 318.2M98.1 319.5L97.5 319.0M97.5 319.0L97.1 318.8M99.3 320.0L98.1 319.5M100.5 320.6L99.3 320.0M101.9 321.1L100.5 320.6M102.1 321.1L101.9 321.1M102.1 321.1L103.4 321.5M105.0 321.9L103.4 321.5M106.7 322.3L105.0 321.9M107.5 322.4L106.7 322.3M107.5 322.4L108.5 322.6M110.4 322.9L108.5 322.6M111.2 323.0L110.4 322.9M111.2 323.0L112.5 323.1M114.4 323.3L112.5 323.1M114.4 323.3L114.7 323.3M117.0 323.4L114.7 323.3M117.3 323.4L117.0 323.4M117.3 323.4L119.4 323.4M120.0 323.4L119.4 323.4M120.0 323.4L122.0 323.4M122.5 323.4L122.0 323.4M122.5 323.4L124.7 323.4M125.0 323.4L124.7 323.4M125.0 323.4L127.3 323.3M127.3 323.3L127.5 323.3M129.5 323.1L127.5 323.3M129.5 323.1L130.5 323.1M131.7 323.0L130.5 323.1M131.7 323.0L133.7 322.8M133.8 322.8L133.7 322.8M133.8 322.8L135.9 322.6M135.9 322.6L137.0 322.4M137.9 322.3L137.0 322.4M137.9 322.3L139.9 322.1M139.9 322.1L140.6 322.0M141.8 321.8L140.6 322.0M141.8 321.8L143.7 321.5M143.7 321.5L144.3 321.4M145.5 321.2L144.3 321.4M145.5 321.2L147.4 320.9M147.4 320.9L148.3 320.7M149.1 320.6L148.3 320.7M149.1 320.6L150.9 320.3M150.9 320.3L152.6 319.9M152.6 319.9L152.7 319.9M154.3 319.6L152.7 319.9M154.3 319.6L156.0 319.2M156.0 319.2L157.4 318.9M157.6 318.9L157.4 318.9M157.6 318.9L159.2 318.5M159.2 318.5L160.8 318.1M160.8 318.1L162.4 317.7M162.4 317.7L162.6 317.7M163.9 317.3L162.6 317.7M163.9 317.3L165.4 316.9M165.4 316.9L166.9 316.5M166.9 316.5L168.4 316.1M168.4 316.1L168.6 316.0M169.8 315.7L168.6 316.0M169.8 315.7L171.3 315.3M171.3 315.3L172.7 314.8M172.7 314.8L174.1 314.4M174.1 314.4L175.4 314.0M175.4 314.0L175.8 313.8M176.8 313.5L175.8 313.8M176.8 313.5L178.1 313.1M178.1 313.1L179.4 312.6M179.4 312.6L180.7 312.1M180.7 312.1L182.0 311.7M182.0 311.7L183.2 311.2M183.2 311.2L184.4 310.8M184.4 310.8L185.6 310.3M185.6 310.3L186.8 309.8M186.8 309.8L186.8 309.8M186.8 309.8L188.0 309.3M188.0 309.3L189.2 308.8M189.2 308.8L190.3 308.4M190.3 308.4L191.4 307.9" fill="none" stroke="#ecff00" stroke-width=".5" stroke-opacity=".85" stroke-linecap="round"/>
<path d="M128.6 295.1L129.2 294.8M129.2 294.8L130.2 294.3M130.2 294.3L131.2 293.8M131.2 293.8L132.3 293.3M132.3 293.3L133.3 292.8M133.3 292.8L134.4 292.3M134.4 292.3L135.5 291.9M135.5 291.9L136.6 291.4M136.6 291.4L137.7 291.0M137.7 291.0L138.8 290.6M138.8 290.6L139.9 290.1M139.9 290.1L141.1 289.7M141.1 289.7L142.3 289.3M123.7 298.0L124.5 297.5M124.5 297.5L125.4 296.9M125.4 296.9L126.3 296.4M126.3 296.4L127.3 295.8M127.3 295.8L128.2 295.3M128.2 295.3L128.6 295.1M120.9 300.0L121.1 299.9M121.1 299.9L121.9 299.3M121.9 299.3L122.8 298.7M122.8 298.7L123.6 298.1M123.6 298.1L123.7 298.0M119.1 301.7L119.6 301.2M119.6 301.2L120.4 300.5M120.4 300.5L120.9 300.0M117.8 303.2L118.3 302.6M118.3 302.6L118.9 301.9M118.9 301.9L119.1 301.7M117.0 304.5L117.2 304.1M117.2 304.1L117.7 303.4M117.7 303.4L117.8 303.2M116.5 305.7L116.8 305.0M116.8 305.0L117.0 304.5M116.3 306.8L116.3 306.8M116.3 306.8L116.5 305.8M116.5 305.8L116.5 305.7M116.3 307.8L116.3 306.8M116.6 308.7L116.3 307.8M116.3 307.8L116.3 307.8M117.1 309.5L116.8 309.0M116.8 309.0L116.6 308.7M117.7 310.2L117.1 309.5M118.5 310.9L118.2 310.7M118.2 310.7L117.7 310.2M119.5 311.5L118.5 310.9M120.7 312.1L119.5 311.5M122.0 312.5L120.7 312.1M123.5 313.0L122.0 312.5M123.8 313.0L123.5 313.0M123.8 313.0L125.1 313.3M126.9 313.6L125.1 313.3M127.9 313.7L126.9 313.6M127.9 313.7L128.8 313.8M131.0 314.0L128.8 313.8M131.0 314.0L131.0 314.0M131.0 314.0L133.3 314.1M133.6 314.1L133.3 314.1M133.6 314.1L135.7 314.1M136.1 314.1L135.7 314.1M136.1 314.1L138.4 314.0M138.4 314.0L138.4 314.0M140.5 313.8L138.4 314.0M140.5 313.8L141.3 313.8M142.6 313.7L141.3 313.8M142.6 313.7L144.5 313.5M144.6 313.5L144.5 313.5M144.6 313.5L146.5 313.2M146.5 313.2L147.9 313.0M148.3 313.0L147.9 313.0M148.3 313.0L150.1 312.7M150.1 312.7L151.7 312.5M151.9 312.4L151.7 312.5M151.9 312.4L153.6 312.1M153.6 312.1L155.2 311.8M155.2 311.8L156.0 311.7M156.9 311.5L156.0 311.7M156.9 311.5L158.5 311.1M158.5 311.1L160.0 310.8M160.0 310.8L160.8 310.6M161.5 310.4L160.8 310.6M161.5 310.4L163.0 310.0M163.0 310.0L164.5 309.6M164.5 309.6L165.9 309.2M165.9 309.2L166.8 309.0M167.3 308.8L166.8 309.0M167.3 308.8L168.7 308.4M168.7 308.4L170.0 308.0M170.0 308.0L171.3 307.6M171.3 307.6L172.6 307.1M172.6 307.1L173.9 306.7M173.9 306.7L175.1 306.2M175.1 306.2L176.0 305.9M176.3 305.8L176.0 305.9M176.3 305.8L177.5 305.3M177.5 305.3L178.6 304.8M178.6 304.8L179.8 304.4M179.8 304.4L180.9 303.9" fill="none" stroke="#ffb900" stroke-width=".5" stroke-opacity=".85" stroke-linecap="round"/>
<path d="M49.3 309.3L44.2 209.6L122.1 191.8L199.5 209.8L195.2 309.3M122.1 191.8L122.5 281.9" fill="none" stroke="#555" stroke-width=".7"/>
<g fill="currentColor" stroke="currentColor" stroke-width=".5" stroke-linejoin="round"><path d="M146.2 205.8l3.1-.9 4.6-1.1-3 .9z" color="#ad6000"/><path d="M138.5 208.4l3.1-1.2 4.6-1.4-3 1.2z" color="#ad6800"/><path d="M149.3 204.9l3-.3 4.7-1.1-3.1 .3z" color="#ff8500"/><path d="M141.6 207.2l3-.8 4.7-1.5-3.1 .9z" color="#ff8e00"/><path d="M152.3 204.6l3.1 .1 4.7-1.2-3.1 0z" color="#ff8000"/><path d="M133.8 210.1l3-1.1 4.8-1.8-3.1 1.2z" color="#ad6a00"/><path d="M144.6 206.4l3-.3 4.7-1.5-3 .3z" color="#ff8600"/><path d="M126 213.8l2.9-1.6 4.9-2.1-3 1.7z" color="#ad7400"/><path d="M155.4 204.7l3.2 .6 4.6-1.2-3.1-.6z" color="#ff7d00"/><path d="M136.8 209l3-.8 4.8-1.8-3 .8z" color="#ff9100"/><path d="M147.6 206.1l3.1 .2 4.7-1.6-3.1-.1z" color="#ff8000"/><path d="M128.9 212.2l3-1.1 4.9-2.1-3 1.1z" color="#ffa000"/><path d="M158.6 205.3l3.1 1 4.6-1.2-3.1-1z" color="#ff7d00"/><path d="M139.8 208.2l3.1-.2 4.7-1.9-3 .3z" color="#f80"/><path d="M121.1 216.2l2.9-1.5 4.9-2.5-2.9 1.6z" color="#ad7800"/><path d="M150.7 206.3l3.2 .6 4.7-1.6-3.2-.6z" color="#ff7e00"/><path d="M74.2 260l2.5-4.7 5.1-4-2.5 4.7z" color="#02ad13"/><path d="M161.7 206.3l3.1 1.6 4.6-1.3-3.1-1.5z" color="#ff8100"/><path d="M131.9 211.1l3.1-.7 4.8-2.2-3 .8z" color="#ff9500"/><path d="M142.9 208l3.1 .2 4.7-1.9-3.1-.2z" color="#ff8300"/><path d="M113.2 221l2.9-2 5-2.8-2.9 2z" color="#ad8600"/><path d="M124 214.7l3-1.1 4.9-2.5-3 1.1z" color="#ffa600"/><path d="M153.9 206.9l3.1 1.1 4.7-1.7-3.1-1z" color="#ff7e00"/><path d="M135 210.4l3-.2 4.9-2.2-3.1 .2z" color="#ff8d00"/><path d="M164.8 207.9l3.2 2 4.6-1.4-3.2-1.9z" color="#ff8700"/><path d="M116.1 219l3-1.5 4.9-2.8-2.9 1.5z" color="#ffb800"/><path d="M146 208.2l3.1 .6 4.8-1.9-3.2-.6z" color="#ff8100"/><path d="M157 208l3.1 1.6 4.7-1.7-3.1-1.6z" color="#ff8200"/><path d="M69.1 264.3l2.5-4.6 5.1-4.4-2.5 4.7z" color="#00ad1c"/><path d="M127 213.6l3-.7 5-2.5-3.1 .7z" color="#ff9c00"/><path d="M168 209.9l3.2 2.5 4.6-1.4-3.2-2.5z" color="#ff9000"/><path d="M108.2 224.1l2.9-1.9 5-3.2-2.9 2z" color="#ad9000"/><path d="M138 210.2l3.1 .2 4.9-2.2-3.1-.2z" color="#f80"/><path d="M119.1 217.5l2.9-1 5-2.9-3 1.1z" color="#ffad00"/><path d="M149.1 208.8l3.1 1.2 4.8-2-3.1-1.1z" color="#ff8200"/><path d="M100.3 229.9l2.8-2.3 5.1-3.5-2.8 2.4z" color="#ada800"/><path d="M130 212.9l3.1-.1 4.9-2.6-3 .2z" color="#ff9400"/><path d="M160.1 209.6l3.2 2.1 4.7-1.8-3.2-2z" color="#ff8900"/><path d="M111.1 222.2l2.9-1.5 5.1-3.2-3 1.5z" color="#ffc100"/><path d="M171.2 212.4l3.2 3 4.6-1.5-3.2-2.9z" color="#ff9c00"/><path d="M141.1 210.4l3.1 .8 4.9-2.4-3.1-.6z" color="#ff8600"/><path d="M152.2 210l3.2 1.6 4.7-2-3.1-1.6z" color="#ff8600"/><path d="M63.9 269l2.4-4.5 5.3-4.8-2.5 4.6z" color="#00ad27"/><path d="M122 216.5l3-.6 5-3-3 .7z" color="#ffa400"/><path d="M163.3 211.7l3.2 2.6 4.7-1.9-3.2-2.5z" color="#ff9200"/><path d="M103.1 227.6l2.9-1.9 5.1-3.5-2.9 1.9z" color="#ffe500"/><path d="M133.1 212.8l3.1 .3 4.9-2.7-3.1-.2z" color="#ff8f00"/><path d="M114 220.7l3-1 5-3.2-2.9 1z" color="#ffb600"/><path d="M174.4 215.4l3.2 3.6 4.6-1.6-3.2-3.5z" color="#fa0"/><path d="M144.2 211.2l3.2 1.2 4.8-2.4-3.1-1.2z" color="#ff8700"/><path d="M66.3 264.5l2.5-4.2 5.3-4.8-2.5 4.2z" color="#02ad13"/><path d="M95.1 233.8l2.8-2.3 5.2-3.9-2.8 2.3z" color="#a7ad00"/><path d="M125 215.9l3.1-.2 5-2.9-3.1 .1z" color="#ff9d00"/><path d="M155.4 211.6l3.2 2.2 4.7-2.1-3.2-2.1z" color="#ff8c00"/><path d="M106 225.7l2.9-1.4 5.1-3.6-2.9 1.5z" color="#ffcf00"/><path d="M166.5 214.3l3.2 3 4.7-1.9-3.2-3z" color="#ff9e00"/><path d="M136.2 213.1l3.1 .8 4.9-2.7-3.1-.8z" color="#ff8e00"/><path d="M58.7 274.1l2.4-4.5 5.2-5.1-2.4 4.5z" color="#00ad35"/><path d="M87.2 240.6l2.7-2.6 5.2-4.2-2.7 2.7z" color="#82ad00"/><path d="M117 219.7l3-.5 5-3.3-3 .6z" color="#ffad00"/><path d="M147.4 212.4l3.1 1.7 4.9-2.5-3.2-1.6z" color="#ff8b00"/><path d="M177.6 219l3.2 4 4.6-1.7-3.2-3.9z" color="#ffb900"/><path d="M158.6 213.8l3.2 2.6 4.7-2.1-3.2-2.6z" color="#ff9600"/><path d="M97.9 231.5l2.9-1.8 5.2-4-2.9 1.9z" color="#fff400"/><path d="M128.1 215.7l3.1 .4 5-3-3.1-.3z" color="#ff9800"/><path d="M108.9 224.3l2.9-.9 5.2-3.7-3 1z" color="#ffc000"/><path d="M169.7 217.3l3.2 3.6 4.7-1.9-3.2-3.6z" color="#ffac00"/><path d="M139.3 213.9l3.1 1.2 5-2.7-3.2-1.2z" color="#ff8f00"/><path d="M61.1 269.6l2.4-4.1 5.3-5.2-2.5 4.2z" color="#00ad1f"/><path d="M89.9 238l2.8-2.2 5.2-4.3-2.8 2.3z" color="#e4ff00"/><path d="M120 219.2l3-.1 5.1-3.4-3.1 .2z" color="#ffa700"/><path d="M180.8 223l3.2 4.5 4.5-1.8-3.1-4.4z" color="#ffce00"/><path d="M150.5 214.1l3.2 2.2 4.9-2.5-3.2-2.2z" color="#ff9200"/><path d="M100.8 229.7l2.9-1.4 5.2-4-2.9 1.4z" color="#ffe300"/><path d="M161.8 216.4l3.2 3.2 4.7-2.3-3.2-3z" color="#ffa200"/><path d="M131.2 216.1l3.1 .8 5-3-3.1-.8z" color="#ff9700"/><path d="M53.4 279.5l2.4-4.4 5.3-5.5-2.4 4.5z" color="#00ad4c"/><path d="M81.9 245.2l2.8-2.6 5.2-4.6-2.7 2.6z" color="#6dad00"/><path d="M111.8 223.4l3-.5 5.2-3.7-3 .5z" color="#ffb800"/><path d="M142.4 215.1l3.2 1.8 4.9-2.8-3.1-1.7z" color="#ff9300"/><path d="M172.9 220.9l3.2 4.1 4.7-2-3.2-4z" color="#fb0"/><path d="M63.5 265.5l2.6-3.8 5.3-5.2-2.6 3.8z" color="#04ad0e"/><path d="M92.7 235.8l2.9-1.8 5.2-4.3-2.9 1.8z" color="#f9ff00"/><path d="M123 219.1l3.1 .4 5.1-3.4-3.1-.4z" color="#ffa400"/><path d="M153.7 216.3l3.2 2.7 4.9-2.6-3.2-2.6z" color="#ff9c00"/><path d="M184 227.5l3.2 5 4.5-1.8-3.2-5z" color="#ffed00"/><path d="M103.7 228.3l3-.9 5.1-4-2.9 .9z" color="#ffd100"/><path d="M165 219.6l3.2 3.6 4.7-2.3-3.2-3.6z" color="#ffb000"/><path d="M134.3 216.9l3.1 1.4 5-3.2-3.1-1.2z" color="#ff9800"/><path d="M114.8 222.9l3.1 0 5.1-3.8-3 .1z" color="#ffb200"/><path d="M176.1 225l3.3 4.6 4.6-2.1-3.2-4.5z" color="#ffd200"/><path d="M55.8 275.1l2.4-4.1 5.3-5.5-2.4 4.1z" color="#00ad2d"/><path d="M84.7 242.6l2.7-2.2 5.3-4.6-2.8 2.2z" color="#c5ff00"/><path d="M145.6 216.9l3.2 2.3 4.9-2.9-3.2-2.2z" color="#ff9a00"/><path d="M95.6 234l2.9-1.3 5.2-4.4-2.9 1.4z" color="#fff500"/><path d="M187.2 232.5l3.2 5.5 4.5-1.9-3.2-5.4z" color="#f5ff00"/><path d="M126.1 219.5l3.1 .9 5.1-3.5-3.1-.8z" color="#ffa200"/><path d="M156.9 219l3.2 3.2 4.9-2.6-3.2-3.2z" color="#ffa800"/><path d="M76.6 250.1l2.7-2.5 5.4-5-2.8 2.6z" color="#7fff00"/><path d="M48.1 285.4l2.3-4.4 5.4-5.9-2.4 4.4z" color="#00ad61"/><path d="M106.7 227.4l2.9-.4 5.2-4.1-3 .5z" color="#ffc400"/><path d="M137.4 218.3l3.2 1.8 5-3.2-3.2-1.8z" color="#ff9d00"/><path d="M168.2 223.2l3.2 4.2 4.7-2.4-3.2-4.1z" color="#ffbf00"/><path d="M58.2 271l2.5-3.7 5.4-5.6-2.6 3.8z" color="#00ad1a"/><path d="M117.9 222.9l3.1 .4 5.1-3.8-3.1-.4z" color="#ffaf00"/><path d="M148.8 219.2l3.2 2.8 4.9-3-3.2-2.7z" color="#ffa400"/><path d="M179.4 229.6l3.2 5.1 4.6-2.2-3.2-5z" color="#fff000"/><path d="M87.4 240.4l2.9-1.7 5.3-4.7-2.9 1.8z" color="#e4ff00"/><path d="M68.6 258.4l2.7-2.9 5.3-5.4-2.6 3z" color="#22ad00"/><path d="M98.5 232.7l2.9-.9 5.3-4.4-3 .9z" color="#ffe800"/><path d="M190.4 238l3.2 6 4.5-2-3.2-5.9z" color="#caff00"/><path d="M129.2 220.4l3.1 1.4 5.1-3.5-3.1-1.4z" color="#ffa400"/><path d="M160.1 222.2l3.3 3.8 4.8-2.8-3.2-3.6z" color="#ffb500"/><path d="M109.6 227l3.1 0 5.2-4.1-3.1 0z" color="#ffbf00"/><path d="M171.4 227.4l3.2 4.7 4.8-2.5-3.3-4.6z" color="#ffd800"/><path d="M50.4 281l2.4-4 5.4-6-2.4 4.1z" color="#00ad43"/><path d="M79.3 247.6l2.8-2.1 5.3-5.1-2.7 2.2z" color="#a2ff00"/><path d="M140.6 220.1l3.2 2.4 5-3.3-3.2-2.3z" color="#ffa400"/><path d="M182.6 234.7l3.2 5.6 4.6-2.3-3.2-5.5z" color="#f2ff00"/><path d="M90.3 238.7l2.8-1.3 5.4-4.7-2.9 1.3z" color="#f5ff00"/><path d="M60.7 267.3l2.6-3.2 5.3-5.7-2.5 3.3z" color="#05ad0b"/><path d="M121 223.3l3.1 1 5.1-3.9-3.1-.9z" color="#ffae00"/><path d="M152 222l3.2 3.3 4.9-3.1-3.2-3.2z" color="#ffaf00"/><path d="M71.3 255.5l2.7-2.5 5.3-5.4-2.7 2.5z" color="#57ff00"/><path d="M101.4 231.8l3-.4 5.2-4.4-2.9 .4z" color="#ffdc00"/><path d="M132.3 221.8l3.2 1.9 5.1-3.6-3.2-1.8z" color="#ffa800"/><path d="M163.4 226l3.2 4.2 4.8-2.8-3.2-4.2z" color="#ffc400"/><path d="M112.7 227l3 .5 5.3-4.2-3.1-.4z" color="#ffbc00"/><path d="M143.8 222.5l3.2 2.8 5-3.3-3.2-2.8z" color="#ffad00"/><path d="M174.6 232.1l3.3 5.1 4.7-2.5-3.2-5.1z" color="#fff500"/><path d="M52.8 277l2.5-3.7 5.4-6-2.5 3.7z" color="#00ad29"/><path d="M82.1 245.5l2.8-1.7 5.4-5.1-2.9 1.7z" color="#c1ff00"/><path d="M185.8 240.3l3.2 6.1 4.6-2.4-3.2-6z" color="#c4ff00"/><path d="M63.3 264.1l2.6-2.9 5.4-5.7-2.7 2.9z" color="#13ad04"/><path d="M93.1 237.4l3-.7 5.3-4.9-2.9 .9z" color="#fffb00"/><path d="M124.1 224.3l3.1 1.5 5.1-4-3.1-1.4z" color="#ffb000"/><path d="M155.2 225.3l3.2 3.8 5-3.1-3.3-3.8z" color="#ffbc00"/><path d="M104.4 231.4l3 .2 5.3-4.6-3.1 0z" color="#ffd300"/><path d="M74 253l2.7-2.1 5.4-5.4-2.8 2.1z" color="#7cff00"/><path d="M135.5 223.7l3.2 2.4 5.1-3.6-3.2-2.4z" color="#ffae00"/><path d="M166.6 230.2l3.2 4.7 4.8-2.8-3.2-4.7z" color="#ffe200"/><path d="M177.9 237.2l3.2 5.7 4.7-2.6-3.2-5.6z" color="#ecff00"/><path d="M84.9 243.8l2.9-1.2 5.3-5.2-2.8 1.3z" color="#daff00"/><path d="M55.3 273.3l2.5-3.2 5.5-6-2.6 3.2z" color="#01ad18"/><path d="M115.7 227.5l3.1 1.1 5.3-4.3-3.1-1z" color="#fb0"/><path d="M147 225.3l3.2 3.4 5-3.4-3.2-3.3z" color="#ffb800"/><path d="M65.9 261.2l2.6-2.4 5.5-5.8-2.7 2.5z" color="#31ff02"/><path d="M127.2 225.8l3.2 1.9 5.1-4-3.2-1.9z" color="#ffb400"/><path d="M96.1 236.7l2.9-.4 5.4-4.9-3 .4z" color="#fff200"/><path d="M158.4 229.1l3.3 4.3 4.9-3.2-3.2-4.2z" color="#ffd000"/><path d="M107.4 231.6l3 .6 5.3-4.7-3-.5z" color="#ffce00"/><path d="M138.7 226.1l3.2 3 5.1-3.8-3.2-2.8z" color="#ffb700"/><path d="M76.7 250.9l2.8-1.6 5.4-5.5-2.8 1.7z" color="#9aff00"/><path d="M169.8 234.9l3.3 5.3 4.8-3-3.3-5.1z" color="#fffc00"/><path d="M181.1 242.9l3.2 6.2 4.7-2.7-3.2-6.1z" color="#bf0"/><path d="M57.8 270.1l2.6-2.8 5.5-6.1-2.6 2.9z" color="#08ff11"/><path d="M87.8 242.6l2.9-.7 5.4-5.2-3 .7z" color="#ecff00"/><path d="M118.8 228.6l3.2 1.5 5.2-4.3-3.1-1.5z" color="#ffbd00"/><path d="M150.2 228.7l3.3 3.9 4.9-3.5-3.2-3.8z" color="#ffc500"/><path d="M99 236.3l3 .2 5.4-4.9-3-.2z" color="#ffec00"/><path d="M68.5 258.8l2.8-2 5.4-5.9-2.7 2.1z" color="#50ff00"/><path d="M130.4 227.7l3.1 2.5 5.2-4.1-3.2-2.4z" color="#ffba00"/><path d="M161.7 233.4l3.2 4.8 4.9-3.3-3.2-4.7z" color="#ffed00"/><path d="M79.5 249.3l2.8-1.1 5.5-5.6-2.9 1.2z" color="#b3ff00"/><path d="M110.4 232.2l3.1 1.1 5.3-4.7-3.1-1.1z" color="#ffcd00"/><path d="M141.9 229.1l3.2 3.4 5.1-3.8-3.2-3.4z" color="#ffc200"/><path d="M173.1 240.2l3.2 5.8 4.8-3.1-3.2-5.7z" color="#e2ff00"/><path d="M122 230.1l3.1 2 5.3-4.4-3.2-1.9z" color="#ffc100"/><path d="M60.4 267.3l2.7-2.3 5.4-6.2-2.6 2.4z" color="#19ff07"/><path d="M90.7 241.9l2.9-.3 5.4-5.3-2.9 .4z" color="#f6ff00"/><path d="M153.5 232.6l3.2 4.4 5-3.6-3.3-4.3z" color="#ffdf00"/><path d="M133.5 230.2l3.3 3 5.1-4.1-3.2-3z" color="#ffc300"/><path d="M102 236.5l3.1 .7 5.3-5-3-.6z" color="#ffe800"/><path d="M71.3 256.8l2.7-1.5 5.5-6-2.8 1.6z" color="#6fff00"/><path d="M164.9 238.2l3.3 5.3 4.9-3.3-3.3-5.3z" color="#f8ff00"/><path d="M82.3 248.2l2.9-.7 5.5-5.6-2.9 .7z" color="#c7ff00"/><path d="M113.5 233.3l3.2 1.6 5.3-4.8-3.2-1.5z" color="#ffd000"/><path d="M145.1 232.5l3.3 4 5.1-3.9-3.3-3.9z" color="#ffd700"/><path d="M176.3 246l3.3 6.2 4.7-3.1-3.2-6.2z" color="#aeff00"/><path d="M93.6 241.6l3 .3 5.4-5.4-3-.2z" color="#fcff00"/><path d="M63.1 265l2.7-1.9 5.5-6.3-2.8 2z" color="#2cff03"/><path d="M125.1 232.1l3.2 2.6 5.2-4.5-3.1-2.5z" color="#ffc900"/><path d="M156.7 237l3.3 4.9 4.9-3.7-3.2-4.8z" color="#fff800"/><path d="M74 255.3l2.9-1.1 5.4-6-2.8 1.1z" color="#8f0"/><path d="M136.8 233.2l3.2 3.5 5.1-4.2-3.2-3.4z" color="#ffd400"/><path d="M168.2 243.5l3.3 5.9 4.8-3.4-3.2-5.8z" color="#d2ff00"/><path d="M105.1 237.2l3.1 1.2 5.3-5.1-3.1-1.1z" color="#ffe800"/><path d="M116.7 234.9l3.1 2.1 5.3-4.9-3.1-2z" color="#ffd700"/><path d="M85.2 247.5l3-.1 5.4-5.8-2.9 .3z" color="#d6ff00"/><path d="M148.4 236.5l3.3 4.4 5-3.9-3.2-4.4z" color="#ffef00"/><path d="M128.3 234.7l3.2 3.1 5.3-4.6-3.3-3z" color="#ffd800"/><path d="M96.6 241.9l3.1 .7 5.4-5.4-3.1-.7z" color="#fffe00"/><path d="M65.8 263.1l2.7-1.5 5.5-6.3-2.7 1.5z" color="#3fff00"/><path d="M160 241.9l3.2 5.4 5-3.8-3.3-5.3z" color="#ebff00"/><path d="M76.9 254.2l2.8-.6 5.5-6.1-2.9 .7z" color="#9cff00"/><path d="M140 236.7l3.3 4.1 5.1-4.3-3.3-4z" color="#ffea00"/><path d="M171.5 249.4l3.2 6.4 4.9-3.6-3.3-6.2z" color="#9dff00"/><path d="M108.2 238.4l3.1 1.6 5.4-5.1-3.2-1.6z" color="#ffea00"/><path d="M88.2 247.4l3 .3 5.4-5.8-3-.3z" color="#e0ff00"/><path d="M119.8 237l3.2 2.6 5.3-4.9-3.2-2.6z" color="#ffe300"/><path d="M151.7 240.9l3.2 5 5.1-4-3.3-4.9z" color="#f8ff00"/><path d="M68.5 261.6l2.8-1 5.6-6.4-2.9 1.1z" color="#59ff00"/><path d="M131.5 237.8l3.3 3.6 5.2-4.7-3.2-3.5z" color="#ffea00"/><path d="M163.2 247.3l3.3 5.9 5-3.8-3.3-5.9z" color="#beff00"/><path d="M99.7 242.6l3.1 1.3 5.4-5.5-3.1-1.2z" color="#fffe00"/><path d="M111.3 240l3.2 2.2 5.3-5.2-3.1-2.1z" color="#fff000"/><path d="M79.7 253.6l3-.1 5.5-6.1-3 .1z" color="#abff00"/><path d="M143.3 240.8l3.2 4.5 5.2-4.4-3.3-4.4z" color="#fffe00"/><path d="M123 239.6l3.2 3.2 5.3-5-3.2-3.1z" color="#ffef00"/><path d="M91.2 247.7l3 .8 5.5-5.9-3.1-.7z" color="#e5ff00"/><path d="M154.9 245.9l3.3 5.5 5-4.1-3.2-5.4z" color="#d7ff00"/><path d="M71.3 260.6l2.9-.5 5.5-6.5-2.8 .6z" color="#6dff00"/><path d="M134.8 241.4l3.2 4.1 5.3-4.7-3.3-4.1z" color="#fffb00"/><path d="M166.5 253.2l3.3 6.5 4.9-3.9-3.2-6.4z" color="#89ff00"/><path d="M102.8 243.9l3.1 1.7 5.4-5.6-3.1-1.6z" color="#fdff00"/><path d="M82.7 253.5l2.9 .4 5.6-6.2-3-.3z" color="#b4ff00"/><path d="M146.5 245.3l3.3 5.1 5.1-4.5-3.2-5z" color="#e7ff00"/><path d="M114.5 242.2l3.2 2.7 5.3-5.3-3.2-2.6z" color="#fff800"/><path d="M126.2 242.8l3.3 3.6 5.3-5-3.3-3.6z" color="#fffd00"/><path d="M158.2 251.4l3.3 6.1 5-4.3-3.3-5.9z" color="#a7ff00"/><path d="M94.2 248.5l3.1 1.3 5.5-5.9-3.1-1.3z" color="#e5ff00"/><path d="M105.9 245.6l3.1 2.3 5.5-5.7-3.2-2.2z" color="#f7ff00"/><path d="M74.2 260.1l2.9 0 5.6-6.6-3 .1z" color="#7cff00"/><path d="M138 245.5l3.3 4.6 5.2-4.8-3.2-4.5z" color="#edff00"/><path d="M117.7 244.9l3.2 3.3 5.3-5.4-3.2-3.2z" color="#f9ff00"/><path d="M85.6 253.9l3.1 .9 5.5-6.3-3-.8z" color="#b9ff00"/><path d="M149.8 250.4l3.3 5.6 5.1-4.6-3.3-5.5z" color="#bcff00"/><path d="M129.5 246.4l3.2 4.2 5.3-5.1-3.2-4.1z" color="#ef0"/><path d="M161.5 257.5l3.3 6.5 5-4.3-3.3-6.5z" color="#71ff00"/><path d="M97.3 249.8l3.1 1.8 5.5-6-3.1-1.7z" color="#e0ff00"/><path d="M77.1 260.1l3 .4 5.5-6.6-2.9-.4z" color="#85ff00"/><path d="M141.3 250.1l3.3 5.2 5.2-4.9-3.3-5.1z" color="#caff00"/><path d="M109 247.9l3.2 2.8 5.5-5.8-3.2-2.7z" color="#edff00"/><path d="M153.1 256l3.3 6.1 5.1-4.6-3.3-6.1z" color="#8cff00"/><path d="M120.9 248.2l3.2 3.7 5.4-5.5-3.3-3.6z" color="#eaff00"/><path d="M88.7 254.8l3 1.4 5.6-6.4-3.1-1.3z" color="#b9ff00"/><path d="M100.4 251.6l3.1 2.4 5.5-6.1-3.1-2.3z" color="#d5ff00"/><path d="M132.7 250.6l3.3 4.8 5.3-5.3-3.3-4.6z" color="#d0ff00"/><path d="M112.2 250.7l3.2 3.3 5.5-5.8-3.2-3.3z" color="#df0"/><path d="M80.1 260.5l3 1 5.6-6.7-3.1-.9z" color="#89ff00"/><path d="M144.6 255.3l3.3 5.7 5.2-5-3.3-5.6z" color="#9eff00"/><path d="M156.4 262.1l3.3 6.7 5.1-4.8-3.3-6.5z" color="#54ff00"/><path d="M124.1 251.9l3.3 4.3 5.3-5.6-3.2-4.2z" color="#ceff00"/><path d="M91.7 256.2l3.1 1.9 5.6-6.5-3.1-1.8z" color="#b3ff00"/><path d="M136 255.4l3.3 5.2 5.3-5.3-3.3-5.2z" color="#a9ff00"/><path d="M103.5 254l3.2 2.9 5.5-6.2-3.2-2.8z" color="#c6ff00"/><path d="M115.4 254l3.3 3.8 5.4-5.9-3.2-3.7z" color="#c4ff00"/><path d="M147.9 261l3.3 6.2 5.2-5.1-3.3-6.1z" color="#6dff00"/><path d="M83.1 261.5l3 1.5 5.6-6.8-3-1.4z" color="#8f0"/><path d="M94.8 258.1l3.2 2.4 5.5-6.5-3.1-2.4z" color="#a8ff00"/><path d="M127.4 256.2l3.3 4.8 5.3-5.6-3.3-4.8z" color="#abff00"/><path d="M106.7 256.9l3.2 3.3 5.5-6.2-3.2-3.3z" color="#b2ff00"/><path d="M139.3 260.6l3.3 5.8 5.3-5.4-3.3-5.7z" color="#7cff00"/><path d="M118.7 257.8l3.3 4.4 5.4-6-3.3-4.3z" color="#a6ff00"/><path d="M151.2 267.2l3.3 6.7 5.2-5.1-3.3-6.7z" color="#36ff01"/><path d="M86.1 263l3.1 2 5.6-6.9-3.1-1.9z" color="#82ff00"/><path d="M98 260.5l3.2 3 5.5-6.6-3.2-2.9z" color="#9f0"/><path d="M130.7 261l3.3 5.3 5.3-5.7-3.3-5.2z" color="#84ff00"/><path d="M109.9 260.2l3.3 4 5.5-6.4-3.3-3.8z" color="#9f0"/><path d="M142.6 266.4l3.4 6.3 5.2-5.5-3.3-6.2z" color="#49ff00"/><path d="M89.2 265l3.2 2.5 5.6-7-3.2-2.4z" color="#7f0"/><path d="M122 262.2l3.3 4.9 5.4-6.1-3.3-4.8z" color="#83ff00"/><path d="M101.2 263.5l3.2 3.4 5.5-6.7-3.2-3.3z" color="#84ff00"/><path d="M134 266.3l3.3 5.9 5.3-5.8-3.3-5.8z" color="#5f0"/><path d="M113.2 264.2l3.3 4.4 5.5-6.4-3.3-4.4z" color="#7bff00"/><path d="M146 272.7l3.3 6.8 5.2-5.6-3.3-6.7z" color="#23ff05"/><path d="M92.4 267.5l3.1 3 5.7-7-3.2-3z" color="#67ff00"/><path d="M125.3 267.1l3.3 5.4 5.4-6.2-3.3-5.3z" color="#5aff00"/><path d="M137.3 272.2l3.3 6.4 5.4-5.9-3.4-6.3z" color="#2cff03"/><path d="M104.4 266.9l3.2 4 5.6-6.7-3.3-4z" color="#6aff00"/><path d="M116.5 268.6l3.3 5 5.5-6.5-3.3-4.9z" color="#56ff00"/><path d="M95.5 270.5l3.3 3.6 5.6-7.2-3.2-3.4z" color="#50ff00"/><path d="M128.6 272.5l3.3 6 5.4-6.3-3.3-5.9z" color="#31ff02"/><path d="M140.6 278.6l3.4 6.9 5.3-6-3.3-6.8z" color="#0eff0a"/><path d="M107.6 270.9l3.3 4.6 5.6-6.9-3.3-4.4z" color="#49ff00"/><path d="M119.8 273.6l3.3 5.5 5.5-6.6-3.3-5.4z" color="#31ff02"/><path d="M131.9 278.5l3.3 6.4 5.4-6.3-3.3-6.4z" color="#15ff08"/><path d="M98.8 274.1l3.2 4.1 5.6-7.3-3.2-4z" color="#36ff00"/><path d="M110.9 275.5l3.3 5.1 5.6-7-3.3-5z" color="#2eff02"/><path d="M123.1 279.1l3.3 6.1 5.5-6.7-3.3-6z" color="#18ff07"/><path d="M135.2 284.9l3.4 7 5.4-6.4-3.4-6.9z" color="#05ff1a"/><path d="M102 278.2l3.3 4.6 5.6-7.3-3.3-4.6z" color="#26ff04"/><path d="M114.2 280.6l3.3 5.6 5.6-7.1-3.3-5.5z" color="#17ff08"/><path d="M126.4 285.2l3.4 6.5 5.4-6.8-3.3-6.4z" color="#07ff15"/><path d="M105.3 282.8l3.3 5.1 5.6-7.3-3.3-5.1z" color="#11ff09"/><path d="M117.5 286.2l3.4 6.1 5.5-7.1-3.3-6.1z" color="#07ff14"/><path d="M129.8 291.7l3.3 7.1 5.5-6.9-3.4-7z" color="#00ff2f"/><path d="M108.6 287.9l3.3 5.7 5.6-7.4-3.3-5.6z" color="#06ff17"/><path d="M120.9 292.3l3.3 6.7 5.6-7.3-3.4-6.5z" color="#00ff2b"/><path d="M111.9 293.6l3.4 6.3 5.6-7.6-3.4-6.1z" color="#00ff2b"/><path d="M124.2 299l3.4 7.1 5.5-7.3-3.3-7.1z" color="#00ff48"/><path d="M115.3 299.9l3.3 6.7 5.6-7.6-3.3-6.7z" color="#00ff46"/><path d="M118.6 306.6l3.4 7.3 5.6-7.8-3.4-7.1z" color="#00ff73"/></g>
<path d="M48.1 285.4l5.3-5.9 5.3-5.4 5.2-5.1 5.2-4.7 5.1-4.3M49.2 283.1l5.4-5.8 5.3-5.5 5.2-5.1 5.2-4.7M50.4 281l5.4-5.9 5.3-5.5 5.2-5.1 2.7-2.5M51.6 278.9l5.4-5.9 5.3-5.5 5.3-5.2M52.8 277l5.4-6 5.3-5.5 2.7-2.7M54.1 275.1l5.4-6 2.6-2.8M55.3 273.3l5.4-6M56.6 271.7l2.7-3.1M59.1 268.7l5.5-6.1 2.7-2.9M60.4 267.3l5.5-6.1 5.4-5.7 2.7-2.8M61.7 266.1l5.5-6.2 5.4-5.7 5.4-5.4 5.3-5M63.1 265l5.4-6.2 5.5-5.8 5.3-5.4 5.4-5 5.2-4.6M64.4 264l5.5-6.3 5.4-5.8 5.4-5.4 5.3-5.1 5.3-4.6 5.2-4.2M65.8 263.1l5.5-6.3 5.4-5.9 5.4-5.4 5.3-5.1 5.3-4.6 5.2-4.3 5.2-3.9 2.6-1.8M67.1 262.3l5.5-6.3 5.5-5.9 5.4-5.5 5.3-5.1 5.3-4.7 5.3-4.3 5.1-3.9 5.1-3.5 2.6-1.6M68.5 261.6l5.5-6.3 5.5-6 5.4-5.5 5.4-5.1 5.3-4.7 5.2-4.3 5.2-4 5.1-3.5 5-3.2 2.5-1.4M69.9 261.1l5.5-6.4 5.5-6 5.4-5.5 5.4-5.2 5.3-4.7 5.2-4.4 5.2-3.9 5.1-3.6 5.1-3.2 5-2.8 2.4-1.3M71.3 260.6l5.6-6.4 5.4-6 5.5-5.6 5.3-5.2 5.4-4.7 5.2-4.4 5.2-4 5.1-3.6 5.1-3.2 4.9-2.8 4.9-2.5 2.5-1.1M72.7 260.3l5.6-6.4 5.5-6.1 5.4-5.6 5.4-5.2 5.3-4.8 5.3-4.4 5.2-4 5.1-3.6 5-3.3 5-2.8 4.9-2.5 4.9-2.1 2.4-.9M74.2 260.1l5.5-6.5 5.5-6.1 5.5-5.6 5.4-5.2 5.3-4.9 5.3-4.4 5.1-4 5.2-3.7 5-3.2 5-2.9 4.9-2.5 4.9-2.1 4.8-1.8 2.3-.8M75.6 260l5.6-6.5 5.5-6.1 5.5-5.7 5.3-5.3 5.4-4.8 5.2-4.5 5.2-4 5.2-3.7 5-3.3 5-2.9 4.9-2.5 4.9-2.2 4.8-1.8 4.7-1.4 2.3-.6M77.1 260.1l5.6-6.6 5.5-6.1 5.4-5.8 5.4-5.3 5.4-4.9 5.2-4.4 5.2-4.1 5.2-3.7 5-3.3 5-3 5-2.5 4.8-2.2 4.8-1.8 4.7-1.5 4.6-1.1M78.6 260.2l5.6-6.6 5.5-6.1 5.4-5.8 5.4-5.3 5.4-5 5.3-4.5 5.2-4.1 5.1-3.7 5.1-3.4 5-2.9 4.9-2.6 4.8-2.2 4.8-1.8 4.7-1.5 4.6-1.1M80.1 260.5l5.5-6.6 5.6-6.2 5.4-5.8 5.4-5.4 5.4-4.9 5.3-4.6 5.2-4.1 5.1-3.8 5.1-3.4 5-2.9 4.9-2.6 4.9-2.2 4.7-1.9 4.7-1.5 4.7-1.1M81.6 261l5.6-6.7 5.5-6.3 5.5-5.8 5.4-5.4 5.3-5 5.3-4.6 5.2-4.2 5.2-3.8 5-3.3 5-3 5-2.7 4.8-2.2 4.8-1.9 4.7-1.5 4.6-1.2M83.1 261.5l5.6-6.7 5.5-6.3 5.5-5.9 5.4-5.4 5.3-5 5.3-4.7 5.3-4.2 5.1-3.8 5.1-3.4 5-3 4.9-2.7 4.9-2.2 4.7-1.9 4.7-1.6 4.7-1.2M84.6 262.2l5.6-6.8 5.5-6.3 5.5-5.9 5.4-5.5 5.4-5.1 5.3-4.6 5.2-4.3 5.2-3.8 5-3.4 5-3.1 5-2.7 4.8-2.3 4.8-1.9 4.7-1.6 4.6-1.2M86.1 263l5.6-6.8 5.6-6.4 5.5-5.9 5.4-5.5 5.3-5.1 5.3-4.7 5.3-4.3 5.1-3.9 5.1-3.5 5-3 4.9-2.7 4.9-2.4 4.8-1.9 4.7-1.6 4.6-1.2M87.7 263.9l5.6-6.8 5.5-6.4 5.5-6 5.4-5.6 5.4-5.1 5.3-4.7 5.2-4.3 5.2-3.9 5.1-3.6 5-3.1 4.9-2.7 4.8-2.3 4.8-2 4.7-1.6 4.6-1.3M89.2 265l5.6-6.9 5.6-6.5 5.5-6 5.4-5.6 5.4-5.1 5.3-4.8 5.2-4.3 5.1-4 5.1-3.5 5-3.2 5-2.7 4.8-2.4 4.8-2 4.7-1.7 4.6-1.2M90.8 266.2l5.6-7 5.6-6.5 5.5-6 5.4-5.6 5.3-5.2 5.3-4.8 5.3-4.4 5.1-4 5.1-3.6 5-3.1 4.9-2.8 4.9-2.4 4.8-2.1 4.7-1.6 4.6-1.4M92.4 267.5l5.6-7 5.5-6.5 5.5-6.1 5.5-5.7 5.3-5.2 5.3-4.9 5.3-4.4 5.1-4 5.1-3.6 5-3.2 4.9-2.8 4.9-2.5 4.7-2 4.7-1.7 4.6-1.3M94 268.9l5.6-7 5.5-6.5 5.5-6.2 5.5-5.7 5.3-5.3 5.3-4.8 5.3-4.5 5.1-4 5.1-3.7 5-3.2 4.9-2.9 4.9-2.4 4.7-2.1 4.7-1.8 4.6-1.3M95.5 270.5l5.7-7 5.5-6.6 5.5-6.2 5.5-5.8 5.3-5.3 5.3-4.9 5.2-4.5 5.2-4.1 5.1-3.6 5-3.3 4.9-2.9 4.9-2.5 4.7-2.1 4.7-1.8 4.6-1.4M97.2 272.2l5.6-7.1 5.5-6.6 5.5-6.2 5.5-5.8 5.3-5.4 5.3-4.9 5.3-4.5 5.1-4.2 5.1-3.7 5-3.3 4.9-2.9 4.9-2.5 4.7-2.2 4.7-1.8 4.6-1.4M98.8 274.1l5.6-7.2 5.5-6.7 5.5-6.2 5.5-5.8 5.3-5.4 5.3-5 5.3-4.6 5.1-4.1 5.1-3.8 5-3.3 4.9-3 4.9-2.6 4.7-2.1 4.7-1.9 4.6-1.4M100.4 276l5.6-7.1 5.6-6.8 5.5-6.3 5.4-5.8 5.4-5.5 5.3-5 5.2-4.6 5.1-4.2 5.1-3.8 5-3.4 4.9-2.9 4.9-2.6 4.7-2.3 4.7-1.8 4.6-1.5M102 278.2l5.6-7.3 5.6-6.7 5.5-6.4 5.4-5.9 5.4-5.5 5.3-5 5.2-4.7 5.1-4.2 5.1-3.8 5-3.4 4.9-3.1 4.9-2.6 4.7-2.3 4.7-1.9 4.6-1.5M103.6 280.4l5.7-7.3 5.5-6.8 5.5-6.4 5.5-5.9 5.3-5.5 5.3-5.1 5.2-4.7 5.2-4.3 5-3.8 5-3.5 4.9-3.1 4.9-2.6 4.7-2.3 4.7-2 4.6-1.5M105.3 282.8l5.6-7.3 5.6-6.9 5.5-6.4 5.4-6 5.3-5.6 5.3-5.1 5.3-4.7 5.1-4.3 5.1-3.9 4.9-3.5 5-3.1 4.8-2.8 4.7-2.3 4.7-1.9 4.6-1.6M106.9 285.3l5.7-7.3 5.5-7 5.5-6.4 5.4-6.1 5.4-5.6 5.3-5.2 5.2-4.7 5.1-4.4 5.1-3.9 5-3.5 4.9-3.2 4.8-2.7 4.7-2.4 4.7-2 4.6-1.6M108.6 287.9l5.6-7.3 5.6-7 5.5-6.5 5.4-6.1 5.3-5.6 5.3-5.3 5.2-4.8 5.2-4.4 5-3.9 5-3.6 4.9-3.2 4.8-2.8 4.7-2.4 4.7-2 4.6-1.7M110.3 290.7l5.6-7.4 5.5-7 5.5-6.6 5.4-6.1 5.4-5.7 5.3-5.3 5.2-4.8 5.1-4.4 5-4.1 5-3.6 4.9-3.2 4.8-2.8 4.7-2.5 4.7-2 4.5-1.7M111.9 293.6l5.6-7.4 5.6-7.1 5.5-6.6 5.4-6.2 5.3-5.7 5.3-5.3 5.2-4.9 5.1-4.5 5.1-4 4.9-3.7 4.9-3.3 4.8-2.8 4.8-2.5 4.6-2.1 4.5-1.8M113.6 296.7l5.6-7.5 5.5-7.1 5.5-6.7 5.4-6.2 5.4-5.8 5.3-5.3 5.2-5 5.1-4.5 5-4.1 5-3.7 4.9-3.3 4.8-2.9 4.7-2.5 4.6-2.2 4.5-1.8M115.3 299.9l5.6-7.6 5.5-7.1 5.5-6.7 5.4-6.3 5.3-5.8 5.3-5.4 5.2-5 5.1-4.6 5-4.1 5-3.8 4.9-3.3 4.8-3 4.7-2.5 4.6-2.2 4.5-1.8M117 303.2l5.6-7.6 5.5-7.2 5.5-6.8 5.4-6.3 5.3-5.8 5.3-5.5 5.1-5 5.2-4.6 5-4.2 4.9-3.8 4.9-3.4 4.8-3 4.7-2.6 4.6-2.2 4.5-1.9M118.6 306.6l5.6-7.6 5.6-7.3 5.4-6.8 5.4-6.3 5.4-5.9 5.2-5.5 5.2-5.1 5.1-4.6 5-4.3 5-3.8 4.8-3.4 4.8-3.1 4.7-2.6 4.6-2.3 4.5-1.9M120.3 310.2l5.6-7.7 5.6-7.3 5.4-6.8 5.4-6.4 5.3-6 5.3-5.5 5.1-5.1 5.1-4.7 5.1-4.3 4.9-3.9 4.9-3.5 4.7-3 4.7-2.7 4.6-2.4 4.5-1.9M122 313.9l5.6-7.8 5.5-7.3 5.5-6.9 5.4-6.4 5.3-6 5.2-5.6 5.2-5.1 5.1-4.8 5-4.3 4.9-3.9 4.9-3.6 4.7-3.1 4.7-2.7 4.6-2.4 4.5-2M48.1 285.4l2.3-4.4 2.4-4 2.5-3.7 2.5-3.2 2.6-2.8 2.7-2.3 2.7-1.9 2.7-1.5 2.8-1 2.9-.5 2.9 0 3 .4 3 1 3 1.5 3.1 2 3.2 2.5 3.1 3 3.3 3.6 3.2 4.1 3.3 4.6 3.3 5.1 3.3 5.7 3.4 6.3 3.3 6.7 3.4 7.3M50.7 282.4l2.4-4.4 2.4-4.1 2.5-3.6 1.3-1.7M61.8 265.6l2.7-2.6 2.6-2.2 2.8-1.7 2.8-1.3 2.8-.8 2.9-.3 3 .2 3 .7 3 1.1 3.1 1.7 3.1 2.2 3.2 2.8 3.2 3.2 3.2 3.8 3.3 4.3 3.3 4.9 3.3 5.4 3.3 5.9 3.4 6.4 3.3 7 1.7 3.7M53.4 279.5l2.4-4.4 2.4-4.1 2.5-3.7M64.6 262.6l2.6-2.7 2.7-2.2 2.7-1.7 2.8-1.3 2.9-.8 2.9-.4 3 .1 3 .7 3 1.1 3.1 1.7 3.1 2.1 3.2 2.7 3.2 3.2 3.2 3.8 3.3 4.2 3.3 4.9 3.3 5.3 3.3 5.9 3.4 6.4 3.3 6.9 1.7 3.6M56 276.8l2.4-4.5 2.5-4.1 1.2-1.9M67.3 259.7l2.6-2.7 2.7-2.2 2.8-1.8 2.8-1.4 2.8-.8 3-.4 2.9 .1 3 .6 3.1 1.1 3.1 1.6 3.1 2.1 3.2 2.7 3.2 3.2 3.2 3.7 3.3 4.2 3.2 4.7 3.4 5.3 3.3 5.9 3.3 6.3 3.4 6.9 1.7 3.6M58.7 274.1l2.4-4.5 2.4-4.1M71.3 255.5l2.7-2.5 2.7-2.1 2.8-1.6 2.8-1.1 2.9-.7 3-.1 3 .3 3 .8 3.1 1.3 3.1 1.8 3.1 2.4 3.2 2.9 3.2 3.3 3.3 4 3.3 4.4 3.3 5 3.3 5.5 3.3 6.1 3.4 6.5 3.3 7.1M61.3 271.5l2.4-4.5 2.5-4.2M74 252.7l2.7-2.5 2.7-2 2.8-1.7 2.9-1.1 2.9-.7 2.9-.2 3 .2 3 .8 3.1 1.3 3.1 1.8 3.2 2.3 3.2 2.8 3.2 3.4 3.2 3.8 3.3 4.4 3.3 5 3.3 5.5 3.4 6 3.3 6.5 3.4 7M63.9 269l2.4-4.5 1.3-2.2M78 248.8l2.7-2.3 2.8-1.9 2.8-1.4 2.9-1 3-.5 2.9 0 3.1 .5 3 1 3.1 1.5 3.2 2 3.1 2.5 3.2 3.1 3.3 3.5 3.2 4.1 3.3 4.7 3.3 5.1 3.3 5.7 3.4 6.2 3.3 6.8 1.7 3.5M66.5 266.6l2.5-4.6M80.6 246.3l2.8-2.4 2.8-1.9 2.8-1.5 2.9-1 3-.5 2.9 0 3.1 .4 3 1 3.1 1.5 3.2 1.9 3.2 2.5 3.2 3 3.2 3.6 3.2 4 3.3 4.6 3.3 5.1 3.3 5.7 3.4 6.1 3.3 6.7 1.7 3.6M69.1 264.3l1.2-2.3M83.3 243.8l2.7-2.4 2.8-1.9 2.9-1.5 2.9-1 2.9-.6 3 0 3.1 .4 3 .9 3.1 1.4 3.2 2 3.2 2.4 3.2 3 3.2 3.5 3.3 4 3.2 4.5 3.3 5.1 3.3 5.6 3.4 6.1 3.3 6.7 1.7 3.5M87.3 240.2l2.8-2.2 2.8-1.7 2.9-1.3 2.9-.8 3-.4 3 .2 3.1 .6 3.1 1.2 3.1 1.6 3.2 2.1 3.2 2.7 3.2 3.2 3.2 3.7 3.3 4.3 3.3 4.7 3.3 5.3 3.3 5.8 3.3 6.4 3.3 6.8M89.9 238l2.8-2.2 2.9-1.8 2.9-1.3 2.9-.9 3-.4 3 .2 3 .6 3.1 1.1 3.2 1.6 3.1 2.1 3.2 2.6 3.2 3.2 3.3 3.6 3.2 4.2 3.3 4.8 3.3 5.2 3.3 5.8 3.4 6.3 3.3 6.8M93.9 234.6l2.9-2 2.8-1.6 3-1.1 2.9-.6 3-.2 3.1 .3 3 .9 3.2 1.3 3.1 1.8 3.2 2.3 3.2 2.9 3.2 3.4 3.3 3.9 3.2 4.4 3.3 4.9 3.3 5.5 3.3 6 3.4 6.5 1.6 3.5M96.5 232.6l2.9-2.1 2.8-1.6 3-1.1 2.9-.7 3.1-.2 3 .3 3.1 .8 3.1 1.3 3.1 1.8 3.2 2.3 3.2 2.8 3.3 3.3 3.2 3.9 3.3 4.3 3.3 4.9 3.3 5.5 3.3 5.9 3.3 6.5 1.6 3.4M100.5 229.5l2.9-1.8 2.9-1.4 3-1 3-.4 3 0 3.1 .5 3.1 1 3.1 1.5 3.2 2 3.1 2.5 3.3 3 3.2 3.6 3.3 4.1 3.2 4.6 3.3 5.1 3.3 5.6 3.3 6.2 3.3 6.7M103.1 227.6l2.9-1.9 2.9-1.4 2.9-.9 3-.5 3.1 0 3.1 .4 3.1 1 3.1 1.5 3.2 1.9 3.1 2.5 3.3 3 3.2 3.5 3.3 4.1 3.2 4.5 3.3 5.1 3.3 5.6 3.3 6.1 3.3 6.7M105.7 225.8l2.8-1.9 3-1.4 2.9-1 3-.5 3.1-.1 3 .5 3.1 .9 3.2 1.4 3.1 2 3.2 2.4 3.2 3 3.3 3.5 3.2 4 3.3 4.5 3.3 5 3.3 5.6 3.3 6 3.3 6.6M109.6 223.1l2.9-1.7 3-1.2 3-.8 3-.3 3.1 .1 3.1 .7 3.1 1.2 3.1 1.6 3.2 2.2 3.2 2.6 3.2 3.2 3.3 3.7 3.2 4.2 3.3 4.8 3.3 5.2 3.3 5.8 3.2 6.3 1.7 3.3M112.2 221.5l2.9-1.7 2.9-1.3 3-.8 3-.3 3.1 .1 3.1 .6 3.1 1.2 3.2 1.6 3.2 2.1 3.2 2.6 3.2 3.2 3.2 3.6 3.3 4.2 3.2 4.7 3.3 5.2 3.3 5.7 3.3 6.3 1.6 3.3M116.1 219l3-1.5 2.9-1 3-.6 3.1-.2 3.1 .4 3.1 .8 3.1 1.4 3.2 1.8 3.2 2.4 3.2 2.8 3.2 3.4 3.3 3.9 3.2 4.4 3.3 4.9 3.2 5.4 3.3 5.9 3.3 6.5M118.6 217.6l3-1.5 2.9-1.1 3.1-.6 3-.2 3.1 .3 3.1 .9 3.1 1.3 3.2 1.8 3.2 2.3 3.2 2.8 3.2 3.3 3.3 3.9 3.2 4.3 3.3 4.9 3.2 5.4 3.3 5.9 3.3 6.4M122.6 215.4l2.9-1.3 3-.9 3.1-.4 3 .1 3.1 .5 3.2 1 3.1 1.6 3.2 2 3.2 2.5 3.2 3 3.2 3.6 3.3 4.1 3.2 4.5 3.3 5.1 3.2 5.6 3.3 6.1 1.6 3.3M125 214.1l3-1.3 3-.9 3-.4 3.1 0 3.1 .5 3.1 1 3.2 1.5 3.2 2 3.2 2.5 3.2 3 3.2 3.5 3.2 4 3.3 4.6 3.2 5 3.3 5.6 3.2 6 1.7 3.3M128.9 212.2l3-1.1 3.1-.7 3-.2 3.1 .2 3.1 .8 3.2 1.2 3.1 1.7 3.2 2.2 3.2 2.7 3.2 3.2 3.3 3.8 3.2 4.2 3.2 4.7 3.3 5.3 3.2 5.8 3.3 6.2M131.4 211.1l3-1.1 3-.7 3.1-.3 3 .2 3.2 .7 3.1 1.2 3.2 1.7 3.1 2.2 3.2 2.7 3.3 3.2 3.2 3.7 3.2 4.2 3.2 4.7 3.3 5.2 3.2 5.7 3.3 6.2M135.3 209.5l3-1 3-.5 3.1 0 3.1 .4 3.1 1 3.2 1.4 3.2 1.9 3.2 2.4 3.2 2.9 3.2 3.4 3.2 3.9 3.2 4.4 3.3 4.9 3.2 5.4 3.2 6 1.6 3.1M137.7 208.6l3-1 3-.5 3.1-.1 3.1 .4 3.1 .9 3.2 1.4 3.2 1.9 3.1 2.3 3.2 2.9 3.3 3.4 3.2 3.8 3.2 4.4 3.2 4.9 3.3 5.4 3.2 5.9 1.6 3.1M141.6 207.2l3-.8 3-.3 3.1 .2 3.2 .6 3.1 1.1 3.1 1.6 3.2 2.1 3.2 2.6 3.2 3 3.2 3.6 3.2 4.1 3.3 4.6 3.2 5.1 3.2 5.6 3.2 6.1M143.9 206.4l3-.8 3.1-.3 3.1 .1 3.1 .6 3.1 1.1 3.2 1.6 3.2 2 3.2 2.6 3.2 3 3.2 3.6 3.2 4 3.2 4.6 3.2 5 3.2 5.6 3.2 6M147.8 205.3l3-.6 3.1-.1 3.1 .3 3.1 .9 3.2 1.3 3.1 1.7 3.2 2.3 3.2 2.8 3.2 3.2 3.2 3.8 3.2 4.3 3.2 4.7 3.2 5.3 3.2 5.7 1.6 3.1M150.1 204.7l3-.6 3.1-.1 3.1 .3 3.1 .8 3.2 1.3 3.1 1.7 3.2 2.3 3.2 2.7 3.2 3.2 3.2 3.7 3.2 4.3 3.2 4.7 3.2 5.2 3.2 5.7 1.6 3.1M153.9 203.8l3.1-.3 3.1 0 3.1 .6 3.1 1 3.1 1.5 3.2 1.9 3.2 2.5 3.2 2.9 3.2 3.5 3.2 3.9 3.1 4.4 3.2 5 3.2 5.4 3.2 5.9" fill="none" stroke="#000" stroke-opacity="1" stroke-width="0.25" stroke-linejoin="round"/>
<g font-size="6.3"><text x="42.1" y="283.8" text-anchor="end">4</text><text x="41.8" y="264.8" text-anchor="end">5.5</text><text x="41.5" y="245.9" text-anchor="end">7</text><text x="41.2" y="226.9" text-anchor="end">8.5</text><text x="40.9" y="208.0" text-anchor="end">10</text><text x="40.1" y="315.1" text-anchor="middle">2.70</text><text x="58.4" y="323.8" text-anchor="middle">2.23</text><text x="76.6" y="332.5" text-anchor="middle">1.75</text><text x="94.8" y="341.2" text-anchor="middle">1.27</text><text x="113.0" y="349.9" text-anchor="middle">0.80</text><text x="131.3" y="350.0" text-anchor="middle">2.50</text><text x="143.5" y="344.2" text-anchor="middle">3.50</text><text x="155.6" y="338.4" text-anchor="middle">4.50</text><text x="167.8" y="332.6" text-anchor="middle">5.50</text><text x="180.0" y="326.8" text-anchor="middle">6.50</text><text x="192.1" y="321.0" text-anchor="middle">7.50</text><text x="204.3" y="315.2" text-anchor="middle">8.50</text></g>
<path d="M49.3 309.3l-1.1 1.0M67.5 318.0l-1.1 1.0M85.8 326.7l-1.1 1.0M104.0 335.4l-1.1 1.0M122.2 344.1l-1.1 1.0M122.2 344.1l1.1 1.0M134.4 338.3l1.1 1.0M146.5 332.5l1.1 1.0M158.7 326.7l1.1 1.0M170.9 320.9l1.1 1.0M183.0 315.1l1.1 1.0M195.2 309.3l1.1 1.0" stroke="#000" stroke-width=".7" fill="none"/>
<g font-size="8.15"><text transform="translate(63.7 345.1) rotate(25.3)" text-anchor="middle">Enzyme (U)</text><text transform="translate(178.6 345.6) rotate(-25.3)" text-anchor="middle">Green bean (%)</text><text transform="translate(24.0 246.5) rotate(-90.0)" text-anchor="middle">Trigonelline (g/kg DW)</text></g>
<text x="0.6" y="197.6" font-size="8.6" font-weight="bold">(D)</text>
</g>
<g id="pE">
<path d="M281.3 311.1L353.1 345.1L424.6 311.1L352.9 284.3z" fill="#ff0" stroke="#222" stroke-width=".5"/>
<path d="M348.4 342.9L349.4 343.0M351.5 343.3L349.4 343.0M352.0 343.3L351.5 343.3M352.0 343.3L353.7 343.5M355.6 343.8L353.7 343.5M355.6 343.8L355.8 343.8" fill="none" stroke="#08ff10" stroke-width=".5" stroke-opacity=".85" stroke-linecap="round"/>
<path d="M320.7 329.8L321.1 329.8M322.9 330.2L321.1 329.8M324.7 330.5L322.9 330.2M324.7 330.5L324.8 330.5M326.6 330.8L324.8 330.5M328.5 331.1L326.6 330.8M328.6 331.1L328.5 331.1M328.6 331.1L330.4 331.3M332.4 331.6L330.4 331.3M332.4 331.6L332.4 331.6M334.3 331.9L332.4 331.6M336.1 332.1L334.3 331.9M336.1 332.1L336.3 332.2M338.3 332.4L336.3 332.2M339.7 332.6L338.3 332.4M339.7 332.6L340.3 332.7M342.3 332.9L340.3 332.7M343.2 333.0L342.3 332.9M343.2 333.0L344.4 333.2M346.5 333.4L344.4 333.2M346.6 333.4L346.5 333.4M346.6 333.4L348.6 333.6M350.0 333.8L348.6 333.6M350.0 333.8L350.7 333.9M352.9 334.1L350.7 333.9M353.3 334.1L352.9 334.1M353.3 334.1L355.0 334.3M356.5 334.4L355.0 334.3M356.5 334.4L357.2 334.4M359.5 334.6L357.2 334.4M359.7 334.6L359.5 334.6M359.7 334.6L361.7 334.8M362.8 334.9L361.7 334.8M362.8 334.9L364.0 334.9M365.8 335.0L364.0 334.9M365.8 335.0L366.3 335.1M368.7 335.2L366.3 335.1M368.8 335.2L368.7 335.2M368.8 335.2L371.1 335.3M371.7 335.3L371.1 335.3M371.7 335.3L373.5 335.4" fill="none" stroke="#64ff00" stroke-width=".5" stroke-opacity=".85" stroke-linecap="round"/>
<path d="M295.5 317.9L296.9 318.1M298.5 318.5L296.9 318.1M300.0 318.8L298.5 318.5M300.0 318.8L300.1 318.8M301.7 319.2L300.1 318.8M303.4 319.5L301.7 319.2M304.3 319.7L303.4 319.5M304.3 319.7L305.0 319.8M306.7 320.1L305.0 319.8M308.4 320.5L306.7 320.1M308.5 320.5L308.4 320.5M308.5 320.5L310.1 320.8M311.8 321.1L310.1 320.8M312.6 321.2L311.8 321.1M312.6 321.2L313.5 321.4M315.3 321.7L313.5 321.4M316.5 321.9L315.3 321.7M316.5 321.9L317.0 322.0M318.8 322.3L317.0 322.0M320.4 322.5L318.8 322.3M320.4 322.5L320.6 322.6M322.5 322.8L320.6 322.6M324.1 323.1L322.5 322.8M324.1 323.1L324.3 323.1M326.2 323.4L324.3 323.1M327.8 323.6L326.2 323.4M327.8 323.6L328.0 323.7M329.9 323.9L328.0 323.7M331.3 324.1L329.9 323.9M331.3 324.1L331.9 324.2M333.8 324.4L331.9 324.2M334.8 324.5L333.8 324.4M334.8 324.5L335.8 324.6M337.8 324.9L335.8 324.6M338.2 324.9L337.8 324.9M338.2 324.9L339.8 325.1M341.4 325.3L339.8 325.1M341.4 325.3L341.8 325.3M343.9 325.5L341.8 325.3M344.7 325.6L343.9 325.5M344.7 325.6L346.0 325.7M347.8 325.8L346.0 325.7M347.8 325.8L348.1 325.9M350.2 326.0L348.1 325.9M350.9 326.1L350.2 326.0M350.9 326.1L352.4 326.2M353.9 326.3L352.4 326.2M353.9 326.3L354.6 326.3M356.8 326.5L354.6 326.3M356.8 326.5L356.8 326.5M359.1 326.6L356.8 326.5M359.7 326.6L359.1 326.6M359.7 326.6L361.4 326.7M362.5 326.7L361.4 326.7M362.5 326.7L363.8 326.8M365.2 326.8L363.8 326.8M365.2 326.8L366.1 326.8M367.9 326.9L366.1 326.8M367.9 326.9L368.6 326.9M370.5 326.9L368.6 326.9M370.5 326.9L371.1 326.9M373.1 326.9L371.1 326.9M373.1 326.9L373.6 326.9M375.6 326.9L373.6 326.9M375.6 326.9L376.2 326.9M378.0 326.8L376.2 326.9M378.0 326.8L378.8 326.8M380.4 326.8L378.8 326.8M380.4 326.8L381.6 326.7M382.7 326.7L381.6 326.7M382.7 326.7L384.3 326.6M385.0 326.6L384.3 326.6M385.0 326.6L387.2 326.4M387.2 326.4L387.2 326.4M389.4 326.3L387.2 326.4M389.4 326.3L390.2 326.2M391.5 326.1L390.2 326.2M391.5 326.1L393.3 325.9" fill="none" stroke="#d3ff00" stroke-width=".5" stroke-opacity=".85" stroke-linecap="round"/>
<path d="M281.3 311.1L276.4 212.6L352.8 195.3L429.1 212.6L424.6 311.1M352.8 195.3L352.9 284.3" fill="none" stroke="#555" stroke-width=".7"/>
<g fill="currentColor" stroke="currentColor" stroke-width=".5" stroke-linejoin="round"><path d="M350.1 214.3l2.7 1.4 2.7-.6-2.7-1.4z" color="#ed0a00"/><path d="M347.4 215.1l2.7 1.4 2.7-.8-2.7-1.4z" color="#ed0a00"/><path d="M352.8 215.7l2.7 1.5 2.7-.7-2.7-1.4z" color="#f10e00"/><path d="M344.7 215.9l2.7 1.4 2.7-.8-2.7-1.4z" color="#ed0b00"/><path d="M355.5 217.2l2.8 1.4 2.6-.6-2.7-1.5z" color="#f51900"/><path d="M350.1 216.5l2.7 1.4 2.7-.7-2.7-1.5z" color="#f10e00"/><path d="M347.4 217.3l2.7 1.5 2.7-.9-2.7-1.4z" color="#f10f00"/><path d="M341.9 216.8l2.7 1.4 2.8-.9-2.7-1.4z" color="#ee0b00"/><path d="M352.8 217.9l2.8 1.5 2.7-.8-2.8-1.4z" color="#f51900"/><path d="M358.3 218.6l2.7 1.6 2.7-.7-2.8-1.5z" color="#f92400"/><path d="M339.1 217.8l2.7 1.5 2.8-1.1-2.7-1.4z" color="#f00c00"/><path d="M344.6 218.2l2.7 1.5 2.8-.9-2.7-1.5z" color="#f21200"/><path d="M350.1 218.8l2.7 1.4 2.8-.8-2.8-1.5z" color="#f51a00"/><path d="M361 220.2l2.8 1.5 2.7-.7-2.8-1.5z" color="#fd2f00"/><path d="M355.6 219.4l2.7 1.5 2.7-.7-2.7-1.6z" color="#f92400"/><path d="M336.3 218.9l2.7 1.5 2.8-1.1-2.7-1.5z" color="#f11000"/><path d="M341.8 219.3l2.7 1.4 2.8-1-2.7-1.5z" color="#f31500"/><path d="M347.3 219.7l2.8 1.5 2.7-1-2.7-1.4z" color="#f61c00"/><path d="M352.8 220.2l2.8 1.6 2.7-.9-2.7-1.5z" color="#f92500"/><path d="M358.3 220.9l2.8 1.6 2.7-.8-2.8-1.5z" color="#fd2f00"/><path d="M363.8 221.7l2.8 1.6 2.7-.7-2.8-1.6z" color="#ff3a00"/><path d="M344.5 220.7l2.8 1.5 2.8-1-2.8-1.5z" color="#f72000"/><path d="M333.5 220.1l2.7 1.5 2.8-1.2-2.7-1.5z" color="#f41600"/><path d="M339 220.4l2.7 1.4 2.8-1.1-2.7-1.4z" color="#f51a00"/><path d="M350.1 221.2l2.7 1.5 2.8-.9-2.8-1.6z" color="#fa2700"/><path d="M355.6 221.8l2.8 1.5 2.7-.8-2.8-1.6z" color="#fd3000"/><path d="M361.1 222.5l2.8 1.5 2.7-.7-2.8-1.6z" color="#ff3900"/><path d="M366.6 223.3l2.8 1.6 2.7-.7-2.8-1.6z" color="#f40"/><path d="M341.7 221.8l2.8 1.5 2.8-1.1-2.8-1.5z" color="#f92400"/><path d="M347.3 222.2l2.7 1.5 2.8-1-2.7-1.5z" color="#fb2a00"/><path d="M358.4 223.3l2.8 1.6 2.7-.9-2.8-1.5z" color="#ff3a00"/><path d="M330.6 221.4l2.7 1.5 2.9-1.3-2.7-1.5z" color="#f61d00"/><path d="M336.2 221.6l2.7 1.5 2.8-1.3-2.7-1.4z" color="#f72000"/><path d="M352.8 222.7l2.8 1.6 2.8-1-2.8-1.5z" color="#fe3200"/><path d="M363.9 224l2.8 1.7 2.7-.8-2.8-1.6z" color="#f40"/><path d="M369.4 224.9l2.9 1.6 2.7-.6-2.9-1.7z" color="#ff4f00"/><path d="M350 223.7l2.8 1.6 2.8-1-2.8-1.6z" color="#ff3500"/><path d="M327.7 222.8l2.7 1.5 2.9-1.4-2.7-1.5z" color="#f92600"/><path d="M338.9 223.1l2.7 1.5 2.9-1.3-2.8-1.5z" color="#fb2a00"/><path d="M344.5 223.3l2.7 1.6 2.8-1.2-2.7-1.5z" color="#fd2e00"/><path d="M355.6 224.3l2.8 1.6 2.8-1-2.8-1.6z" color="#ff3c00"/><path d="M361.2 224.9l2.8 1.6 2.7-.8-2.8-1.7z" color="#f40"/><path d="M372.3 226.5l2.9 1.7 2.6-.7-2.8-1.6z" color="#ff5900"/><path d="M333.3 222.9l2.7 1.5 2.9-1.3-2.7-1.5z" color="#fa2700"/><path d="M366.7 225.7l2.9 1.6 2.7-.8-2.9-1.6z" color="#ff4e00"/><path d="M330.4 224.3l2.7 1.5 2.9-1.4-2.7-1.5z" color="#fd2f00"/><path d="M347.2 224.9l2.8 1.5 2.8-1.1-2.8-1.6z" color="#ff3900"/><path d="M352.8 225.3l2.8 1.6 2.8-1-2.8-1.6z" color="#ff3f00"/><path d="M324.8 224.3l2.7 1.5 2.9-1.5-2.7-1.5z" color="#fd2f00"/><path d="M336 224.4l2.8 1.5 2.8-1.3-2.7-1.5z" color="#fe3100"/><path d="M341.6 224.6l2.8 1.5 2.8-1.2-2.7-1.6z" color="#ff3400"/><path d="M358.4 225.9l2.9 1.6 2.7-1-2.8-1.6z" color="#ff4600"/><path d="M364 226.5l2.9 1.7 2.7-.9-2.9-1.6z" color="#ff4f00"/><path d="M369.6 227.3l2.9 1.7 2.7-.8-2.9-1.7z" color="#ff5800"/><path d="M375.2 228.2l2.9 1.7 2.6-.6-2.9-1.8z" color="#ff6300"/><path d="M321.9 225.9l2.7 1.5 2.9-1.6-2.7-1.5z" color="#ff3900"/><path d="M327.5 225.8l2.7 1.5 2.9-1.5-2.7-1.5z" color="#ff3800"/><path d="M333.1 225.8l2.8 1.5 2.9-1.4-2.8-1.5z" color="#ff3800"/><path d="M344.4 226.1l2.8 1.6 2.8-1.3-2.8-1.5z" color="#ff3e00"/><path d="M350 226.4l2.8 1.7 2.8-1.2-2.8-1.6z" color="#ff4200"/><path d="M355.6 226.9l2.9 1.6 2.8-1-2.9-1.6z" color="#ff4900"/><path d="M366.9 228.2l2.8 1.7 2.8-.9-2.9-1.7z" color="#ff5900"/><path d="M338.8 225.9l2.7 1.5 2.9-1.3-2.8-1.5z" color="#ff3a00"/><path d="M361.3 227.5l2.8 1.7 2.8-1-2.9-1.7z" color="#ff5000"/><path d="M372.5 229l2.9 1.7 2.7-.8-2.9-1.7z" color="#ff6200"/><path d="M378.1 229.9l2.9 1.8 2.6-.7-2.9-1.7z" color="#ff6d00"/><path d="M319 227.6l2.7 1.5 2.9-1.7-2.7-1.5z" color="#ff4300"/><path d="M324.6 227.4l2.7 1.5 2.9-1.6-2.7-1.5z" color="#ff4100"/><path d="M330.2 227.3l2.8 1.5 2.9-1.5-2.8-1.5z" color="#ff4100"/><path d="M335.9 227.3l2.8 1.6 2.8-1.5-2.7-1.5z" color="#ff4100"/><path d="M341.5 227.4l2.8 1.6 2.9-1.3-2.8-1.6z" color="#f40"/><path d="M347.2 227.7l2.8 1.6 2.8-1.2-2.8-1.7z" color="#ff4700"/><path d="M352.8 228.1l2.9 1.6 2.8-1.2-2.9-1.6z" color="#ff4c00"/><path d="M358.5 228.5l2.8 1.7 2.8-1-2.8-1.7z" color="#ff5300"/><path d="M364.1 229.2l2.9 1.7 2.7-1-2.8-1.7z" color="#ff5a00"/><path d="M369.7 229.9l2.9 1.7 2.8-.9-2.9-1.7z" color="#ff6300"/><path d="M381 231.7l2.9 1.8 2.7-.7-3-1.8z" color="#f70"/><path d="M375.4 230.7l2.9 1.8 2.7-.8-2.9-1.8z" color="#ff6d00"/><path d="M327.3 228.9l2.8 1.5 2.9-1.6-2.8-1.5z" color="#ff4a00"/><path d="M361.3 230.2l2.9 1.7 2.8-1-2.9-1.7z" color="#ff5d00"/><path d="M321.7 229.1l2.7 1.5 2.9-1.7-2.7-1.5z" color="#ff4b00"/><path d="M338.7 228.9l2.8 1.5 2.8-1.4-2.8-1.6z" color="#ff4b00"/><path d="M316 229.4l2.7 1.5 3-1.8-2.7-1.5z" color="#ff4f00"/><path d="M333 228.8l2.8 1.6 2.9-1.5-2.8-1.6z" color="#ff4900"/><path d="M344.3 229l2.8 1.6 2.9-1.3-2.8-1.6z" color="#ff4d00"/><path d="M350 229.3l2.8 1.6 2.9-1.2-2.9-1.6z" color="#ff5100"/><path d="M355.7 229.7l2.8 1.7 2.8-1.2-2.8-1.7z" color="#ff5600"/><path d="M367 230.9l2.9 1.7 2.7-1-2.9-1.7z" color="#ff6400"/><path d="M372.6 231.6l3 1.8 2.7-.9-2.9-1.8z" color="#ff6d00"/><path d="M378.3 232.5l2.9 1.8 2.7-.8-2.9-1.8z" color="#f70"/><path d="M383.9 233.5l3 1.8 2.7-.7-3-1.8z" color="#ff8100"/><path d="M324.4 230.6l2.7 1.6 3-1.8-2.8-1.5z" color="#ff5400"/><path d="M330.1 230.4l2.7 1.6 3-1.6-2.8-1.6z" color="#ff5200"/><path d="M341.5 230.4l2.8 1.7 2.8-1.5-2.8-1.6z" color="#ff5400"/><path d="M358.5 231.4l2.9 1.7 2.8-1.2-2.9-1.7z" color="#ff6000"/><path d="M364.2 231.9l2.9 1.8 2.8-1.1-2.9-1.7z" color="#f60"/><path d="M375.6 233.4l2.9 1.8 2.7-.9-2.9-1.8z" color="#f70"/><path d="M318.7 230.9l2.7 1.5 3-1.8-2.7-1.5z" color="#ff5600"/><path d="M335.8 230.4l2.7 1.6 3-1.6-2.8-1.5z" color="#ff5200"/><path d="M313 231.3l2.7 1.5 3-1.9-2.7-1.5z" color="#ff5a00"/><path d="M347.1 230.6l2.9 1.7 2.8-1.4-2.8-1.6z" color="#ff5700"/><path d="M352.8 230.9l2.9 1.7 2.8-1.2-2.8-1.7z" color="#ff5b00"/><path d="M369.9 232.6l2.9 1.8 2.8-1-3-1.8z" color="#ff6e00"/><path d="M381.2 234.3l3 1.8 2.7-.8-3-1.8z" color="#ff8100"/><path d="M386.9 235.3l3 1.9 2.6-.7-2.9-1.9z" color="#ff8a00"/><path d="M332.8 232l2.8 1.6 2.9-1.6-2.7-1.6z" color="#ff5b00"/><path d="M310 233.3l2.7 1.5 3-2-2.7-1.5z" color="#f60"/><path d="M321.4 232.4l2.7 1.6 3-1.8-2.7-1.6z" color="#ff5e00"/><path d="M327.1 232.2l2.8 1.5 2.9-1.7-2.7-1.6z" color="#ff5c00"/><path d="M338.5 232l2.9 1.6 2.9-1.5-2.8-1.7z" color="#ff5b00"/><path d="M344.3 232.1l2.8 1.6 2.9-1.4-2.9-1.7z" color="#ff5d00"/><path d="M355.7 232.6l2.9 1.7 2.8-1.2-2.9-1.7z" color="#ff6400"/><path d="M361.4 233.1l2.9 1.7 2.8-1.1-2.9-1.8z" color="#ff6900"/><path d="M367.1 233.7l2.9 1.7 2.8-1-2.9-1.8z" color="#ff7000"/><path d="M372.8 234.4l3 1.8 2.7-1-2.9-1.8z" color="#ff7800"/><path d="M378.5 235.2l3 1.8 2.7-.9-3-1.8z" color="#ff8100"/><path d="M315.7 232.8l2.7 1.5 3-1.9-2.7-1.5z" color="#ff6200"/><path d="M350 232.3l2.8 1.7 2.9-1.4-2.9-1.7z" color="#ff6000"/><path d="M384.2 236.1l3 1.9 2.7-.8-3-1.9z" color="#ff8a00"/><path d="M389.9 237.2l3 1.9 2.6-.7-3-1.9z" color="#ff9300"/><path d="M335.6 233.6l2.8 1.7 3-1.7-2.9-1.6z" color="#ff6300"/><path d="M370 235.4l3 1.9 2.8-1.1-3-1.8z" color="#ff7a00"/><path d="M312.7 234.8l2.7 1.6 3-2.1-2.7-1.5z" color="#ff6e00"/><path d="M329.9 233.7l2.8 1.6 2.9-1.7-2.8-1.6z" color="#ff6400"/><path d="M307 235.4l2.6 1.5 3.1-2.1-2.7-1.5z" color="#ff7300"/><path d="M318.4 234.3l2.7 1.6 3-1.9-2.7-1.6z" color="#ff6900"/><path d="M324.1 234l2.8 1.6 3-1.9-2.8-1.5z" color="#f60"/><path d="M341.4 233.6l2.8 1.7 2.9-1.6-2.8-1.6z" color="#ff6400"/><path d="M347.1 233.7l2.9 1.7 2.8-1.4-2.8-1.7z" color="#f60"/><path d="M352.8 234l2.9 1.7 2.9-1.4-2.9-1.7z" color="#ff6900"/><path d="M358.6 234.3l2.9 1.8 2.8-1.3-2.9-1.7z" color="#ff6d00"/><path d="M364.3 234.8l2.9 1.8 2.8-1.2-2.9-1.7z" color="#ff7300"/><path d="M375.8 236.2l2.9 1.8 2.8-1-3-1.8z" color="#ff8200"/><path d="M381.5 237l3 1.9 2.7-.9-3-1.9z" color="#ff8a00"/><path d="M392.9 239.1l3 1.9 2.7-.7-3.1-1.9z" color="#ff9d00"/><path d="M387.2 238l3 1.9 2.7-.8-3-1.9z" color="#ff9300"/><path d="M315.4 236.4l2.7 1.5 3-2-2.7-1.6z" color="#ff7500"/><path d="M332.7 235.3l2.8 1.7 2.9-1.7-2.8-1.7z" color="#ff6c00"/><path d="M338.4 235.3l2.9 1.6 2.9-1.6-2.8-1.7z" color="#ff6c00"/><path d="M350 235.4l2.9 1.8 2.8-1.5-2.9-1.7z" color="#ff6f00"/><path d="M367.2 236.6l3 1.8 2.8-1.1-3-1.9z" color="#ff7d00"/><path d="M373 237.3l3 1.8 2.7-1.1-2.9-1.8z" color="#ff8300"/><path d="M309.6 236.9l2.7 1.6 3.1-2.1-2.7-1.6z" color="#ff7a00"/><path d="M326.9 235.6l2.8 1.6 3-1.9-2.8-1.6z" color="#ff6e00"/><path d="M303.9 237.7l2.7 1.5 3-2.3-2.6-1.5z" color="#ff8000"/><path d="M321.1 235.9l2.8 1.6 3-1.9-2.8-1.6z" color="#ff7100"/><path d="M344.2 235.3l2.9 1.7 2.9-1.6-2.9-1.7z" color="#ff6d00"/><path d="M355.7 235.7l2.9 1.8 2.9-1.4-2.9-1.8z" color="#ff7200"/><path d="M361.5 236.1l2.9 1.8 2.8-1.3-2.9-1.8z" color="#f70"/><path d="M378.7 238l3 1.9 2.8-1-3-1.9z" color="#ff8b00"/><path d="M384.5 238.9l3 1.9 2.7-.9-3-1.9z" color="#ff9300"/><path d="M390.2 239.9l3.1 2 2.6-.9-3-1.9z" color="#ff9c00"/><path d="M395.9 241l3.1 2 2.6-.7-3-2z" color="#ffa600"/><path d="M300.8 240l2.7 1.5 3.1-2.3-2.7-1.5z" color="#ff8d00"/><path d="M312.3 238.5l2.8 1.6 3-2.2-2.7-1.5z" color="#ff8100"/><path d="M318.1 237.9l2.8 1.6 3-2-2.8-1.6z" color="#ff7c00"/><path d="M329.7 237.2l2.8 1.6 3-1.8-2.8-1.7z" color="#ff7600"/><path d="M335.5 237l2.8 1.7 3-1.8-2.9-1.6z" color="#ff7500"/><path d="M341.3 236.9l2.8 1.7 3-1.6-2.9-1.7z" color="#ff7500"/><path d="M347.1 237l2.8 1.7 3-1.5-2.9-1.8z" color="#ff7600"/><path d="M352.9 237.2l2.9 1.7 2.8-1.4-2.9-1.8z" color="#ff7800"/><path d="M364.4 237.9l3 1.8 2.8-1.3-3-1.8z" color="#ff8000"/><path d="M370.2 238.4l3 1.9 2.8-1.2-3-1.8z" color="#ff8600"/><path d="M376 239.1l3 1.9 2.7-1.1-3-1.9z" color="#ff8c00"/><path d="M387.5 240.8l3.1 2 2.7-.9-3.1-2z" color="#ff9c00"/><path d="M399 243l3.1 2 2.6-.7-3.1-2z" color="#ffae00"/><path d="M306.6 239.2l2.7 1.5 3-2.2-2.7-1.6z" color="#ff8600"/><path d="M323.9 237.5l2.8 1.6 3-1.9-2.8-1.6z" color="#ff7800"/><path d="M358.6 237.5l3 1.8 2.8-1.4-2.9-1.8z" color="#ff7c00"/><path d="M381.7 239.9l3.1 1.9 2.7-1-3-1.9z" color="#ff9400"/><path d="M393.3 241.9l3 2 2.7-.9-3.1-2z" color="#ffa500"/><path d="M344.1 238.6l2.9 1.8 2.9-1.7-2.8-1.7z" color="#ff7d00"/><path d="M303.5 241.5l2.7 1.5 3.1-2.3-2.7-1.5z" color="#ff9200"/><path d="M320.9 239.5l2.8 1.7 3-2.1-2.8-1.6z" color="#ff8300"/><path d="M297.7 242.4l2.7 1.5 3.1-2.4-2.7-1.5z" color="#ff9a00"/><path d="M315.1 240.1l2.7 1.6 3.1-2.2-2.8-1.6z" color="#ff8700"/><path d="M332.5 238.8l2.8 1.7 3-1.8-2.8-1.7z" color="#ff7e00"/><path d="M338.3 238.7l2.9 1.7 2.9-1.8-2.8-1.7z" color="#ff7d00"/><path d="M349.9 238.7l3 1.8 2.9-1.6-2.9-1.7z" color="#ff7f00"/><path d="M355.8 238.9l2.9 1.9 2.9-1.5-3-1.8z" color="#ff8100"/><path d="M361.6 239.3l2.9 1.8 2.9-1.4-3-1.8z" color="#ff8400"/><path d="M367.4 239.7l3 1.9 2.8-1.3-3-1.9z" color="#ff8900"/><path d="M373.2 240.3l3 1.9 2.8-1.2-3-1.9z" color="#ff8f00"/><path d="M379 241l3 1.9 2.8-1.1-3.1-1.9z" color="#ff9500"/><path d="M384.8 241.8l3 2 2.8-1-3.1-2z" color="#ff9d00"/><path d="M390.6 242.8l3 2 2.7-.9-3-2z" color="#ffa500"/><path d="M396.3 243.9l3.1 2 2.7-.9-3.1-2z" color="#ffae00"/><path d="M402.1 245l3.1 2.1 2.6-.7-3.1-2.1z" color="#ffb700"/><path d="M309.3 240.7l2.7 1.6 3.1-2.2-2.8-1.6z" color="#ff8c00"/><path d="M326.7 239.1l2.8 1.7 3-2-2.8-1.6z" color="#ff8000"/><path d="M341.2 240.4l2.9 1.8 2.9-1.8-2.9-1.8z" color="#ff8500"/><path d="M347 240.4l2.9 1.8 3-1.7-3-1.8z" color="#ff8500"/><path d="M358.7 240.8l3 1.8 2.8-1.5-2.9-1.8z" color="#ff8900"/><path d="M382 242.9l3.1 2 2.7-1.1-3-2z" color="#ff9e00"/><path d="M393.6 244.8l3.1 2 2.7-.9-3.1-2z" color="#ffad00"/><path d="M306.2 243l2.7 1.6 3.1-2.3-2.7-1.6z" color="#ff9800"/><path d="M323.7 241.2l2.8 1.6 3-2-2.8-1.7z" color="#ff8a00"/><path d="M294.6 244.9l2.7 1.6 3.1-2.6-2.7-1.5z" color="#ffa700"/><path d="M300.4 243.9l2.7 1.6 3.1-2.5-2.7-1.5z" color="#ff9f00"/><path d="M317.8 241.7l2.8 1.6 3.1-2.1-2.8-1.7z" color="#ff8e00"/><path d="M312 242.3l2.8 1.6 3-2.2-2.7-1.6z" color="#ff9200"/><path d="M329.5 240.8l2.8 1.7 3-2-2.8-1.7z" color="#ff8700"/><path d="M335.3 240.5l2.9 1.8 3-1.9-2.9-1.7z" color="#ff8500"/><path d="M352.9 240.5l2.9 1.8 2.9-1.5-2.9-1.9z" color="#ff8700"/><path d="M364.5 241.1l3 1.9 2.9-1.4-3-1.9z" color="#ff8d00"/><path d="M370.4 241.6l3 1.9 2.8-1.3-3-1.9z" color="#ff9200"/><path d="M376.2 242.2l3 2 2.8-1.3-3-1.9z" color="#ff9800"/><path d="M387.8 243.8l3.1 2 2.7-1-3-2z" color="#ffa600"/><path d="M399.4 245.9l3.1 2 2.7-.8-3.1-2.1z" color="#ffb600"/><path d="M405.2 247.1l3.1 2.1 2.7-.8-3.2-2z" color="#ffbf00"/><path d="M308.9 244.6l2.8 1.7 3.1-2.4-2.8-1.6z" color="#ff9f00"/><path d="M326.5 242.8l2.8 1.8 3-2.1-2.8-1.7z" color="#ff9100"/><path d="M338.2 242.3l2.9 1.7 3-1.8-2.9-1.8z" color="#ff8d00"/><path d="M344.1 242.2l2.9 1.8 2.9-1.8-2.9-1.8z" color="#ff8c00"/><path d="M349.9 242.2l3 1.8 2.9-1.7-2.9-1.8z" color="#ff8d00"/><path d="M355.8 242.3l3 1.9 2.9-1.6-3-1.8z" color="#ff8f00"/><path d="M361.7 242.6l2.9 1.9 2.9-1.5-3-1.9z" color="#ff9200"/><path d="M379.2 244.2l3.1 1.9 2.8-1.2-3.1-2z" color="#ffa100"/><path d="M385.1 244.9l3 2 2.8-1.1-3.1-2z" color="#ffa700"/><path d="M390.9 245.8l3.1 2 2.7-1-3.1-2z" color="#ffae00"/><path d="M396.7 246.8l3.1 2.1 2.7-1-3.1-2z" color="#ffb600"/><path d="M291.5 247.6l2.6 1.5 3.2-2.6-2.7-1.6z" color="#ffb300"/><path d="M297.3 246.5l2.7 1.5 3.1-2.5-2.7-1.6z" color="#ffac00"/><path d="M303.1 245.5l2.7 1.6 3.1-2.5-2.7-1.6z" color="#ffa500"/><path d="M320.6 243.3l2.8 1.7 3.1-2.2-2.8-1.6z" color="#ff9400"/><path d="M314.8 243.9l2.8 1.7 3-2.3-2.8-1.6z" color="#f90"/><path d="M332.3 242.5l2.9 1.7 3-1.9-2.9-1.8z" color="#ff8e00"/><path d="M367.5 243l3 1.9 2.9-1.4-3-1.9z" color="#ff9600"/><path d="M373.4 243.5l3 2 2.8-1.3-3-2z" color="#ff9b00"/><path d="M402.5 247.9l3.2 2.2 2.6-.9-3.1-2.1z" color="#ffbe00"/><path d="M408.3 249.2l3.2 2.1 2.6-.7-3.1-2.2z" color="#ffc900"/><path d="M352.9 244l2.9 1.9 3-1.7-3-1.9z" color="#ff9500"/><path d="M388.1 246.9l3.1 2.1 2.8-1.2-3.1-2z" color="#ffaf00"/><path d="M311.7 246.3l2.8 1.7 3.1-2.4-2.8-1.7z" color="#ffa500"/><path d="M288.3 250.3l2.7 1.6 3.1-2.8-2.6-1.5z" color="#ffc000"/><path d="M294.1 249.1l2.7 1.6 3.2-2.7-2.7-1.5z" color="#ffb800"/><path d="M300 248l2.7 1.7 3.1-2.6-2.7-1.6z" color="#ffb100"/><path d="M305.8 247.1l2.8 1.6 3.1-2.4-2.8-1.7z" color="#fa0"/><path d="M323.4 245l2.9 1.7 3-2.1-2.8-1.8z" color="#ff9b00"/><path d="M329.3 244.6l2.9 1.7 3-2.1-2.9-1.7z" color="#ff9800"/><path d="M335.2 244.2l2.9 1.8 3-2-2.9-1.7z" color="#ff9600"/><path d="M341.1 244l2.9 1.9 3-1.9-2.9-1.8z" color="#ff9400"/><path d="M347 244l2.9 1.8 3-1.8-3-1.8z" color="#ff9400"/><path d="M358.8 244.2l2.9 1.9 2.9-1.6-2.9-1.9z" color="#ff9700"/><path d="M364.6 244.5l3.1 1.9 2.8-1.5-3-1.9z" color="#ff9a00"/><path d="M376.4 245.5l3.1 2 2.8-1.4-3.1-1.9z" color="#ffa400"/><path d="M382.3 246.1l3.1 2.1 2.7-1.3-3-2z" color="#ffa900"/><path d="M394 247.8l3.1 2.1 2.7-1-3.1-2.1z" color="#ffb600"/><path d="M399.8 248.9l3.2 2.1 2.7-.9-3.2-2.2z" color="#ffbe00"/><path d="M411.5 251.3l3.2 2.2 2.6-.8-3.2-2.1z" color="#ffd800"/><path d="M317.6 245.6l2.8 1.7 3-2.3-2.8-1.7z" color="#ff9f00"/><path d="M370.5 244.9l3.1 2 2.8-1.4-3-2z" color="#ff9e00"/><path d="M405.7 250.1l3.1 2.1 2.7-.9-3.2-2.1z" color="#ffc800"/><path d="M332.2 246.3l2.9 1.8 3-2.1-2.9-1.8z" color="#ff9f00"/><path d="M349.9 245.8l3 1.9 2.9-1.8-2.9-1.9z" color="#ff9c00"/><path d="M355.8 245.9l3 1.9 2.9-1.7-2.9-1.9z" color="#ff9d00"/><path d="M385.4 248.2l3.1 2 2.7-1.2-3.1-2.1z" color="#ffb100"/><path d="M391.2 249l3.2 2.1 2.7-1.2-3.1-2.1z" color="#ffb700"/><path d="M314.5 248l2.8 1.7 3.1-2.4-2.8-1.7z" color="#fa0"/><path d="M291 251.9l2.7 1.6 3.1-2.8-2.7-1.6z" color="#ffc400"/><path d="M308.6 248.7l2.8 1.7 3.1-2.4-2.8-1.7z" color="#ffb000"/><path d="M285.1 253.2l2.7 1.5 3.2-2.8-2.7-1.6z" color="#ffd200"/><path d="M296.8 250.7l2.8 1.6 3.1-2.6-2.7-1.7z" color="#ffbc00"/><path d="M302.7 249.7l2.7 1.6 3.2-2.6-2.8-1.6z" color="#ffb600"/><path d="M320.4 247.3l2.8 1.7 3.1-2.3-2.9-1.7z" color="#ffa600"/><path d="M326.3 246.7l2.8 1.8 3.1-2.2-2.9-1.7z" color="#ffa200"/><path d="M338.1 246l2.9 1.8 3-1.9-2.9-1.9z" color="#ff9d00"/><path d="M344 245.9l2.9 1.8 3-1.9-2.9-1.8z" color="#ff9c00"/><path d="M361.7 246.1l3.1 1.9 2.9-1.6-3.1-1.9z" color="#ffa000"/><path d="M367.7 246.4l3 2 2.9-1.5-3.1-2z" color="#ffa300"/><path d="M373.6 246.9l3 2 2.9-1.4-3.1-2z" color="#ffa700"/><path d="M379.5 247.5l3 2 2.9-1.3-3.1-2.1z" color="#ffac00"/><path d="M397.1 249.9l3.2 2.2 2.7-1.1-3.2-2.1z" color="#ffbe00"/><path d="M403 251l3.1 2.2 2.7-1-3.1-2.1z" color="#ffc800"/><path d="M408.8 252.2l3.2 2.2 2.7-.9-3.2-2.2z" color="#ffd700"/><path d="M414.7 253.5l3.2 2.2 2.6-.7-3.2-2.3z" color="#ffe700"/><path d="M317.3 249.7l2.8 1.7 3.1-2.4-2.8-1.7z" color="#ffb000"/><path d="M329.1 248.5l2.9 1.8 3.1-2.2-2.9-1.8z" color="#ffa900"/><path d="M335.1 248.1l2.9 1.8 3-2.1-2.9-1.8z" color="#ffa600"/><path d="M346.9 247.7l3 1.9 3-1.9-3-1.9z" color="#ffa400"/><path d="M352.9 247.7l3 1.9 2.9-1.8-3-1.9z" color="#ffa400"/><path d="M358.8 247.8l3 1.9 3-1.7-3.1-1.9z" color="#ffa600"/><path d="M370.7 248.4l3 2 2.9-1.5-3-2z" color="#ffab00"/><path d="M382.5 249.5l3.1 2 2.9-1.3-3.1-2z" color="#ffb300"/><path d="M388.5 250.2l3.1 2.1 2.8-1.2-3.2-2.1z" color="#ffb900"/><path d="M394.4 251.1l3.1 2.1 2.8-1.1-3.2-2.2z" color="#ffc000"/><path d="M406.1 253.2l3.2 2.2 2.7-1-3.2-2.2z" color="#ffd600"/><path d="M417.9 255.7l3.2 2.3 2.6-.8-3.2-2.2z" color="#fff200"/><path d="M287.8 254.7l2.7 1.6 3.2-2.8-2.7-1.6z" color="#ffda00"/><path d="M293.7 253.5l2.7 1.6 3.2-2.8-2.8-1.6z" color="#fc0"/><path d="M305.4 251.3l2.8 1.7 3.2-2.6-2.8-1.7z" color="#fb0"/><path d="M311.4 250.4l2.8 1.7 3.1-2.4-2.8-1.7z" color="#ffb500"/><path d="M281.9 256.1l2.7 1.6 3.2-3-2.7-1.5z" color="#ffe900"/><path d="M299.6 252.3l2.7 1.7 3.1-2.7-2.7-1.6z" color="#ffc100"/><path d="M323.2 249l2.8 1.8 3.1-2.3-2.8-1.8z" color="#ffac00"/><path d="M341 247.8l2.9 1.9 3-2-2.9-1.8z" color="#ffa500"/><path d="M364.8 248l3 2 2.9-1.6-3-2z" color="#ffa800"/><path d="M376.6 248.9l3.1 2 2.8-1.4-3-2z" color="#ffaf00"/><path d="M400.3 252.1l3.1 2.1 2.7-1-3.1-2.2z" color="#ffc800"/><path d="M412 254.4l3.2 2.2 2.7-.9-3.2-2.2z" color="#ffe500"/><path d="M278.7 259.2l2.7 1.6 3.2-3.1-2.7-1.6z" color="#fffb00"/><path d="M284.6 257.7l2.7 1.6 3.2-3-2.7-1.6z" color="#fe0"/><path d="M290.5 256.3l2.7 1.7 3.2-2.9-2.7-1.6z" color="#ffe200"/><path d="M296.4 255.1l2.7 1.7 3.2-2.8-2.7-1.7z" color="#ffd400"/><path d="M302.3 254l2.8 1.7 3.1-2.7-2.8-1.7z" color="#ffc800"/><path d="M308.2 253l2.8 1.7 3.2-2.6-2.8-1.7z" color="#ffc000"/><path d="M314.2 252.1l2.8 1.8 3.1-2.5-2.8-1.7z" color="#ffba00"/><path d="M320.1 251.4l2.8 1.8 3.1-2.4-2.8-1.8z" color="#ffb600"/><path d="M326 250.8l2.9 1.8 3.1-2.3-2.9-1.8z" color="#ffb200"/><path d="M332 250.3l2.9 1.8 3.1-2.2-2.9-1.8z" color="#ffaf00"/><path d="M338 249.9l2.9 1.9 3-2.1-2.9-1.9z" color="#ffad00"/><path d="M343.9 249.7l3 1.9 3-2-3-1.9z" color="#ffab00"/><path d="M349.9 249.6l3 1.9 3-1.9-3-1.9z" color="#ffab00"/><path d="M355.9 249.6l3 2 2.9-1.9-3-1.9z" color="#ffac00"/><path d="M361.8 249.7l3.1 2 2.9-1.7-3-2z" color="#ffad00"/><path d="M367.8 250l3.1 2 2.8-1.6-3-2z" color="#ffaf00"/><path d="M373.7 250.4l3.1 2 2.9-1.5-3.1-2z" color="#ffb200"/><path d="M379.7 250.9l3.1 2.1 2.8-1.5-3.1-2z" color="#ffb700"/><path d="M385.6 251.5l3.2 2.2 2.8-1.4-3.1-2.1z" color="#fb0"/><path d="M391.6 252.3l3.1 2.2 2.8-1.3-3.1-2.1z" color="#ffc100"/><path d="M397.5 253.2l3.2 2.2 2.7-1.2-3.1-2.1z" color="#ffca00"/><path d="M403.4 254.2l3.2 2.2 2.7-1-3.2-2.2z" color="#ffd700"/><path d="M409.3 255.4l3.3 2.2 2.6-1-3.2-2.2z" color="#ffe500"/><path d="M415.2 256.6l3.3 2.3 2.6-.9-3.2-2.3z" color="#fff100"/><path d="M421.1 258l3.3 2.3 2.6-.8-3.3-2.3z" color="#fffd00"/><path d="M322.9 253.2l2.9 1.8 3.1-2.4-2.9-1.8z" color="#ffbc00"/><path d="M340.9 251.8l3 1.9 3-2.1-3-1.9z" color="#ffb300"/><path d="M364.9 251.7l3 2.1 3-1.8-3.1-2z" color="#ffb400"/><path d="M376.8 252.4l3.1 2.1 2.9-1.5-3.1-2.1z" color="#ffba00"/><path d="M400.7 255.4l3.2 2.2 2.7-1.2-3.2-2.2z" color="#ffd800"/><path d="M412.6 257.6l3.2 2.3 2.7-1-3.3-2.3z" color="#fff000"/><path d="M299.1 256.8l2.8 1.7 3.2-2.8-2.8-1.7z" color="#fd0"/><path d="M281.4 260.8l2.7 1.6 3.2-3.1-2.7-1.6z" color="#fdff00"/><path d="M287.3 259.3l2.7 1.7 3.2-3-2.7-1.7z" color="#fff400"/><path d="M293.2 258l2.7 1.7 3.2-2.9-2.7-1.7z" color="#ffe900"/><path d="M305.1 255.7l2.8 1.8 3.1-2.8-2.8-1.7z" color="#ffd100"/><path d="M311 254.7l2.8 1.8 3.2-2.6-2.8-1.8z" color="#ffc600"/><path d="M317 253.9l2.8 1.8 3.1-2.5-2.8-1.8z" color="#ffc000"/><path d="M328.9 252.6l2.9 1.9 3.1-2.4-2.9-1.8z" color="#ffb800"/><path d="M334.9 252.1l2.9 1.9 3.1-2.2-2.9-1.9z" color="#ffb500"/><path d="M346.9 251.6l3 1.9 3-2-3-1.9z" color="#ffb200"/><path d="M352.9 251.5l3 2 3-1.9-3-2z" color="#ffb200"/><path d="M358.9 251.6l3 2 3-1.9-3.1-2z" color="#ffb300"/><path d="M370.9 252l3 2.1 2.9-1.7-3.1-2z" color="#ffb700"/><path d="M382.8 253l3.1 2.1 2.9-1.4-3.2-2.2z" color="#ffbe00"/><path d="M388.8 253.7l3.1 2.1 2.8-1.3-3.1-2.2z" color="#ffc400"/><path d="M394.7 254.5l3.2 2.1 2.8-1.2-3.2-2.2z" color="#ffcd00"/><path d="M406.6 256.4l3.3 2.3 2.7-1.1-3.3-2.2z" color="#ffe500"/><path d="M418.5 258.9l3.2 2.3 2.7-.9-3.3-2.3z" color="#fffc00"/><path d="M319.8 255.7l2.9 1.8 3.1-2.5-2.9-1.8z" color="#ffc700"/><path d="M325.8 255l2.9 1.9 3.1-2.4-2.9-1.9z" color="#ffc200"/><path d="M337.8 254l3 1.9 3.1-2.2-3-1.9z" color="#ffbc00"/><path d="M343.9 253.7l2.9 2 3.1-2.2-3-1.9z" color="#ffba00"/><path d="M361.9 253.6l3.1 2 2.9-1.8-3-2.1z" color="#ffba00"/><path d="M367.9 253.8l3.1 2 2.9-1.7-3-2.1z" color="#ffbc00"/><path d="M373.9 254.1l3.2 2.1 2.8-1.7-3.1-2.1z" color="#ffbf00"/><path d="M379.9 254.5l3.2 2.2 2.8-1.6-3.1-2.1z" color="#ffc200"/><path d="M397.9 256.6l3.2 2.3 2.8-1.3-3.2-2.2z" color="#ffdb00"/><path d="M403.9 257.6l3.2 2.2 2.8-1.1-3.3-2.3z" color="#ffe700"/><path d="M409.9 258.7l3.2 2.3 2.7-1.1-3.2-2.3z" color="#fff100"/><path d="M415.8 259.9l3.3 2.3 2.6-1-3.2-2.3z" color="#fffc00"/><path d="M295.9 259.7l2.8 1.7 3.2-2.9-2.8-1.7z" color="#ffef00"/><path d="M301.9 258.5l2.8 1.8 3.2-2.8-2.8-1.8z" color="#ffe500"/><path d="M284.1 262.4l2.7 1.7 3.2-3.1-2.7-1.7z" color="#f7ff00"/><path d="M290 261l2.7 1.7 3.2-3-2.7-1.7z" color="#fffa00"/><path d="M307.9 257.5l2.8 1.7 3.1-2.7-2.8-1.8z" color="#ffda00"/><path d="M313.8 256.5l2.9 1.8 3.1-2.6-2.8-1.8z" color="#ffcf00"/><path d="M331.8 254.5l3 1.9 3-2.4-2.9-1.9z" color="#ffbe00"/><path d="M349.9 253.5l3 2 3-2-3-2z" color="#ffb900"/><path d="M355.9 253.5l3 2 3-1.9-3-2z" color="#ffb900"/><path d="M385.9 255.1l3.2 2.2 2.8-1.5-3.1-2.1z" color="#ffc800"/><path d="M391.9 255.8l3.2 2.2 2.8-1.4-3.2-2.1z" color="#ffd100"/><path d="M371 255.8l3.1 2.1 3-1.7-3.2-2.1z" color="#ffc300"/><path d="M407.1 259.8l3.3 2.3 2.7-1.1-3.2-2.3z" color="#fff200"/><path d="M316.7 258.3l2.9 1.9 3.1-2.7-2.9-1.8z" color="#ffd900"/><path d="M292.7 262.7l2.8 1.8 3.2-3.1-2.8-1.7z" color="#fdff00"/><path d="M298.7 261.4l2.8 1.8 3.2-2.9-2.8-1.8z" color="#fff600"/><path d="M304.7 260.3l2.8 1.8 3.2-2.9-2.8-1.7z" color="#ffec00"/><path d="M322.7 257.5l2.9 1.9 3.1-2.5-2.9-1.9z" color="#ffd100"/><path d="M328.7 256.9l3 1.9 3.1-2.4-3-1.9z" color="#ffca00"/><path d="M334.8 256.4l2.9 1.9 3.1-2.4-3-1.9z" color="#ffc400"/><path d="M340.8 255.9l3 2 3-2.2-2.9-2z" color="#ffc200"/><path d="M346.8 255.7l3.1 2 3-2.2-3-2z" color="#ffc100"/><path d="M358.9 255.5l3.1 2 3-1.9-3.1-2z" color="#ffc000"/><path d="M365 255.6l3.1 2.1 2.9-1.9-3.1-2z" color="#ffc100"/><path d="M377.1 256.2l3.1 2.1 2.9-1.6-3.2-2.2z" color="#ffc700"/><path d="M383.1 256.7l3.2 2.1 2.8-1.5-3.2-2.2z" color="#ffce00"/><path d="M395.1 258l3.2 2.2 2.8-1.3-3.2-2.3z" color="#ffdf00"/><path d="M401.1 258.9l3.3 2.2 2.7-1.3-3.2-2.2z" color="#ffe900"/><path d="M413.1 261l3.3 2.3 2.7-1.1-3.3-2.3z" color="#fffc00"/><path d="M286.8 264.1l2.7 1.7 3.2-3.1-2.7-1.7z" color="#f1ff00"/><path d="M310.7 259.2l2.8 1.9 3.2-2.8-2.9-1.8z" color="#ffe300"/><path d="M352.9 255.5l3 2 3-2-3-2z" color="#ffc000"/><path d="M389.1 257.3l3.2 2.2 2.8-1.5-3.2-2.2z" color="#ffd600"/><path d="M331.7 258.8l2.9 1.9 3.1-2.4-2.9-1.9z" color="#ffd500"/><path d="M368.1 257.7l3.1 2.1 2.9-1.9-3.1-2.1z" color="#fc0"/><path d="M374.1 257.9l3.2 2.2 2.9-1.8-3.1-2.1z" color="#ffd000"/><path d="M404.4 261.1l3.2 2.3 2.8-1.3-3.3-2.3z" color="#fff400"/><path d="M410.4 262.1l3.3 2.4 2.7-1.2-3.3-2.3z" color="#fffd00"/><path d="M313.5 261.1l2.9 1.8 3.2-2.7-2.9-1.9z" color="#ffeb00"/><path d="M289.5 265.8l2.7 1.8 3.3-3.1-2.8-1.8z" color="#eaff00"/><path d="M295.5 264.5l2.7 1.8 3.3-3.1-2.8-1.8z" color="#f7ff00"/><path d="M301.5 263.2l2.8 1.8 3.2-2.9-2.8-1.8z" color="#fffc00"/><path d="M319.6 260.2l2.9 1.9 3.1-2.7-2.9-1.9z" color="#ffe300"/><path d="M307.5 262.1l2.8 1.8 3.2-2.8-2.8-1.9z" color="#fff300"/><path d="M325.6 259.4l2.9 1.9 3.2-2.5-3-1.9z" color="#ffdb00"/><path d="M337.7 258.3l3 2 3.1-2.4-3-2z" color="#ffcf00"/><path d="M343.8 257.9l3 2 3.1-2.2-3.1-2z" color="#fc0"/><path d="M349.9 257.7l3 2 3-2.2-3-2z" color="#ffca00"/><path d="M355.9 257.5l3.1 2.1 3-2.1-3.1-2z" color="#ffc900"/><path d="M362 257.5l3.1 2.1 3-1.9-3.1-2.1z" color="#ffca00"/><path d="M380.2 258.3l3.2 2.2 2.9-1.7-3.2-2.1z" color="#ffd500"/><path d="M386.3 258.8l3.1 2.2 2.9-1.5-3.2-2.2z" color="#ffdc00"/><path d="M392.3 259.5l3.2 2.2 2.8-1.5-3.2-2.2z" color="#ffe400"/><path d="M398.3 260.2l3.3 2.3 2.8-1.4-3.3-2.2z" color="#ffec00"/><path d="M310.3 263.9l2.9 1.9 3.2-2.9-2.9-1.8z" color="#fffa00"/><path d="M328.5 261.3l3 2 3.1-2.6-2.9-1.9z" color="#ffe600"/><path d="M334.6 260.7l3 2 3.1-2.4-3-2z" color="#ffdf00"/><path d="M352.9 259.7l3.1 2.1 3-2.2-3.1-2.1z" color="#ffd600"/><path d="M365.1 259.6l3.1 2.2 3-2-3.1-2.1z" color="#ffd600"/><path d="M371.2 259.8l3.1 2.2 3-1.9-3.2-2.2z" color="#ffd900"/><path d="M377.3 260.1l3.1 2.2 3-1.8-3.2-2.2z" color="#fd0"/><path d="M389.4 261l3.3 2.3 2.8-1.6-3.2-2.2z" color="#ffe900"/><path d="M401.6 262.5l3.2 2.3 2.8-1.4-3.2-2.3z" color="#fff600"/><path d="M407.6 263.4l3.3 2.4 2.8-1.3-3.3-2.4z" color="#ff0"/><path d="M292.2 267.6l2.8 1.8 3.2-3.1-2.7-1.8z" color="#e2ff00"/><path d="M298.2 266.3l2.9 1.8 3.2-3.1-2.8-1.8z" color="#f0ff00"/><path d="M316.4 262.9l2.9 1.9 3.2-2.7-2.9-1.9z" color="#fff200"/><path d="M304.3 265l2.8 1.9 3.2-3-2.8-1.8z" color="#faff00"/><path d="M322.5 262.1l2.9 1.9 3.1-2.7-2.9-1.9z" color="#ffec00"/><path d="M340.7 260.3l3 2 3.1-2.4-3-2z" color="#ffdb00"/><path d="M346.8 259.9l3 2.1 3.1-2.3-3-2z" color="#ffd700"/><path d="M359 259.6l3.1 2.1 3-2.1-3.1-2.1z" color="#ffd500"/><path d="M383.4 260.5l3.2 2.2 2.8-1.7-3.1-2.2z" color="#ffe200"/><path d="M395.5 261.7l3.3 2.3 2.8-1.5-3.3-2.3z" color="#ffef00"/><path d="M307.1 266.9l2.9 1.9 3.2-3-2.9-1.9z" color="#f3ff00"/><path d="M325.4 264l2.9 2 3.2-2.7-3-2z" color="#fff300"/><path d="M313.2 265.8l2.9 1.9 3.2-2.9-2.9-1.9z" color="#fcff00"/><path d="M331.5 263.3l3 2 3.1-2.6-3-2z" color="#fe0"/><path d="M337.6 262.7l3 2 3.1-2.4-3-2z" color="#ffea00"/><path d="M349.8 262l3.1 2 3.1-2.2-3.1-2.1z" color="#ffe300"/><path d="M356 261.8l3.1 2.1 3-2.2-3.1-2.1z" color="#ffe200"/><path d="M362.1 261.7l3.1 2.1 3-2-3.1-2.2z" color="#ffe200"/><path d="M368.2 261.8l3.2 2.1 2.9-1.9-3.1-2.2z" color="#ffe300"/><path d="M374.3 262l3.2 2.2 2.9-1.9-3.1-2.2z" color="#ffe600"/><path d="M380.4 262.3l3.2 2.2 3-1.8-3.2-2.2z" color="#ffea00"/><path d="M386.6 262.7l3.2 2.3 2.9-1.7-3.3-2.3z" color="#fe0"/><path d="M392.7 263.3l3.2 2.3 2.9-1.6-3.3-2.3z" color="#fff300"/><path d="M398.8 264l3.2 2.3 2.8-1.5-3.2-2.3z" color="#fffa00"/><path d="M404.8 264.8l3.3 2.4 2.8-1.4-3.3-2.4z" color="#fcff00"/><path d="M295 269.4l2.8 1.8 3.3-3.1-2.9-1.8z" color="#d7ff00"/><path d="M301.1 268.1l2.8 1.8 3.2-3-2.8-1.9z" color="#e8ff00"/><path d="M319.3 264.8l2.9 2 3.2-2.8-2.9-1.9z" color="#fffa00"/><path d="M343.7 262.3l3.1 2 3-2.3-3-2.1z" color="#ffe600"/><path d="M359.1 263.9l3.1 2.1 3-2.2-3.1-2.1z" color="#ffec00"/><path d="M383.6 264.5l3.3 2.3 2.9-1.8-3.2-2.3z" color="#fff400"/><path d="M395.9 265.6l3.3 2.3 2.8-1.6-3.2-2.3z" color="#fffe00"/><path d="M303.9 269.9l2.8 1.9 3.3-3-2.9-1.9z" color="#df0"/><path d="M322.2 266.8l3 2 3.1-2.8-2.9-2z" color="#fcff00"/><path d="M297.8 271.2l2.8 1.9 3.3-3.2-2.8-1.8z" color="#cf0"/><path d="M310 268.8l2.9 1.9 3.2-3-2.9-1.9z" color="#ebff00"/><path d="M316.1 267.7l2.9 2 3.2-2.9-2.9-2z" color="#f4ff00"/><path d="M328.3 266l3 2 3.2-2.7-3-2z" color="#fffb00"/><path d="M334.5 265.3l3 2 3.1-2.6-3-2z" color="#fff600"/><path d="M340.6 264.7l3 2.1 3.2-2.5-3.1-2z" color="#fff200"/><path d="M346.8 264.3l3 2.1 3.1-2.4-3.1-2z" color="#ffef00"/><path d="M352.9 264l3.1 2.2 3.1-2.3-3.1-2.1z" color="#ffed00"/><path d="M365.2 263.8l3.2 2.2 3-2.1-3.2-2.1z" color="#ffed00"/><path d="M371.4 263.9l3.1 2.2 3-1.9-3.2-2.2z" color="#fe0"/><path d="M377.5 264.2l3.2 2.2 2.9-1.9-3.2-2.2z" color="#fff000"/><path d="M389.8 265l3.2 2.3 2.9-1.7-3.2-2.3z" color="#fff800"/><path d="M402 266.3l3.3 2.4 2.8-1.5-3.3-2.4z" color="#f9ff00"/><path d="M300.6 273.1l2.9 2 3.2-3.3-2.8-1.9z" color="#c0ff00"/><path d="M319 269.7l3 2 3.2-2.9-3-2z" color="#ecff00"/><path d="M343.6 266.8l3.1 2.1 3.1-2.5-3-2.1z" color="#fffb00"/><path d="M356 266.2l3.1 2.1 3.1-2.3-3.1-2.1z" color="#fff600"/><path d="M362.2 266l3.1 2.2 3.1-2.2-3.2-2.2z" color="#fff600"/><path d="M380.7 266.4l3.2 2.3 3-1.9-3.3-2.3z" color="#fffa00"/><path d="M386.9 266.8l3.2 2.3 2.9-1.8-3.2-2.3z" color="#fffe00"/><path d="M393 267.3l3.3 2.3 2.9-1.7-3.3-2.3z" color="#faff00"/><path d="M399.2 267.9l3.3 2.4 2.8-1.6-3.3-2.4z" color="#f4ff00"/><path d="M306.7 271.8l2.9 2 3.3-3.1-2.9-1.9z" color="#d1ff00"/><path d="M325.2 268.8l2.9 2 3.2-2.8-3-2z" color="#f4ff00"/><path d="M312.9 270.7l2.9 2 3.2-3-2.9-2z" color="#e1ff00"/><path d="M331.3 268l3 2 3.2-2.7-3-2z" color="#faff00"/><path d="M337.5 267.3l3 2.1 3.1-2.6-3-2.1z" color="#ff0"/><path d="M349.8 266.4l3.1 2.2 3.1-2.4-3.1-2.2z" color="#fff800"/><path d="M368.4 266l3.1 2.3 3-2.2-3.1-2.2z" color="#fff600"/><path d="M374.5 266.1l3.2 2.3 3-2-3.2-2.2z" color="#fff800"/><path d="M390.1 269.1l3.3 2.4 2.9-1.9-3.3-2.3z" color="#f4ff00"/><path d="M303.5 275.1l2.9 1.9 3.2-3.2-2.9-2z" color="#b5ff00"/><path d="M315.8 272.7l2.9 2 3.3-3-3-2z" color="#d4ff00"/><path d="M322 271.7l2.9 2 3.2-2.9-2.9-2z" color="#e1ff00"/><path d="M340.5 269.4l3.1 2.1 3.1-2.6-3.1-2.1z" color="#f6ff00"/><path d="M346.7 268.9l3.1 2.2 3.1-2.5-3.1-2.2z" color="#faff00"/><path d="M352.9 268.6l3.1 2.1 3.1-2.4-3.1-2.1z" color="#fdff00"/><path d="M359.1 268.3l3.2 2.2 3-2.3-3.1-2.2z" color="#feff00"/><path d="M365.3 268.2l3.2 2.3 3-2.2-3.1-2.3z" color="#feff00"/><path d="M377.7 268.4l3.3 2.3 2.9-2-3.2-2.3z" color="#fcff00"/><path d="M383.9 268.7l3.3 2.3 2.9-1.9-3.2-2.3z" color="#f8ff00"/><path d="M396.3 269.6l3.3 2.4 2.9-1.7-3.3-2.4z" color="#efff00"/><path d="M309.6 273.8l2.9 2 3.3-3.1-2.9-2z" color="#c5ff00"/><path d="M328.1 270.8l3 2.1 3.2-2.9-3-2z" color="#ebff00"/><path d="M334.3 270l3.1 2.1 3.1-2.7-3-2.1z" color="#f1ff00"/><path d="M371.5 268.3l3.2 2.2 3-2.1-3.2-2.3z" color="#feff00"/><path d="M349.8 271.1l3.1 2.2 3.1-2.6-3.1-2.1z" color="#f0ff00"/><path d="M387.2 271l3.3 2.4 2.9-1.9-3.3-2.4z" color="#edff00"/><path d="M393.4 271.5l3.3 2.4 2.9-1.9-3.3-2.4z" color="#e9ff00"/><path d="M312.5 275.8l3 2 3.2-3.1-2.9-2z" color="#b9ff00"/><path d="M306.4 277l2.9 2 3.2-3.2-2.9-2z" color="#a8ff00"/><path d="M318.7 274.7l3 2 3.2-3-2.9-2z" color="#c7ff00"/><path d="M324.9 273.7l3 2.1 3.2-2.9-3-2.1z" color="#d4ff00"/><path d="M337.4 272.1l3 2.2 3.2-2.8-3.1-2.1z" color="#e8ff00"/><path d="M343.6 271.5l3.1 2.2 3.1-2.6-3.1-2.2z" color="#edff00"/><path d="M356 270.7l3.2 2.3 3.1-2.5-3.2-2.2z" color="#f3ff00"/><path d="M362.3 270.5l3.1 2.3 3.1-2.3-3.2-2.3z" color="#f4ff00"/><path d="M368.5 270.5l3.2 2.3 3-2.3-3.2-2.2z" color="#f4ff00"/><path d="M374.7 270.5l3.3 2.3 3-2.1-3.3-2.3z" color="#f3ff00"/><path d="M381 270.7l3.2 2.4 3-2.1-3.3-2.3z" color="#f1ff00"/><path d="M331.1 272.9l3.1 2.1 3.2-2.9-3.1-2.1z" color="#dfff00"/><path d="M309.3 279l2.9 2.1 3.3-3.3-3-2z" color="#9cff00"/><path d="M346.7 273.7l3.1 2.2 3.1-2.6-3.1-2.2z" color="#e0ff00"/><path d="M352.9 273.3l3.2 2.2 3.1-2.5-3.2-2.3z" color="#e6ff00"/><path d="M371.7 272.8l3.2 2.3 3.1-2.3-3.3-2.3z" color="#e9ff00"/><path d="M384.2 273.1l3.3 2.4 3-2.1-3.3-2.4z" color="#e4ff00"/><path d="M390.5 273.4l3.3 2.4 2.9-1.9-3.3-2.4z" color="#deff00"/><path d="M315.5 277.8l3 2.1 3.2-3.2-3-2z" color="#acff00"/><path d="M334.2 275l3 2.1 3.2-2.8-3-2.2z" color="#d1ff00"/><path d="M321.7 276.7l3 2.1 3.2-3-3-2.1z" color="#baff00"/><path d="M327.9 275.8l3.1 2.1 3.2-2.9-3.1-2.1z" color="#c6ff00"/><path d="M340.4 274.3l3.1 2.2 3.2-2.8-3.1-2.2z" color="#daff00"/><path d="M359.2 273l3.2 2.2 3-2.4-3.1-2.3z" color="#e8ff00"/><path d="M365.4 272.8l3.2 2.3 3.1-2.3-3.2-2.3z" color="#e9ff00"/><path d="M378 272.8l3.2 2.4 3-2.1-3.2-2.4z" color="#e8ff00"/><path d="M312.2 281.1l3 2.1 3.3-3.3-3-2.1z" color="#8fff00"/><path d="M331 277.9l3 2.2 3.2-3-3-2.1z" color="#b8ff00"/><path d="M343.5 276.5l3.1 2.2 3.2-2.8-3.1-2.2z" color="#cbff00"/><path d="M349.8 275.9l3.1 2.3 3.2-2.7-3.2-2.2z" color="#d1ff00"/><path d="M356.1 275.5l3.1 2.3 3.2-2.6-3.2-2.2z" color="#d6ff00"/><path d="M368.6 275.1l3.3 2.3 3-2.3-3.2-2.3z" color="#daff00"/><path d="M374.9 275.1l3.3 2.4 3-2.3-3.2-2.4z" color="#d9ff00"/><path d="M381.2 275.2l3.3 2.4 3-2.1-3.3-2.4z" color="#d7ff00"/><path d="M387.5 275.5l3.3 2.4 3-2.1-3.3-2.4z" color="#d2ff00"/><path d="M318.5 279.9l2.9 2.1 3.3-3.2-3-2.1z" color="#9eff00"/><path d="M337.2 277.1l3.1 2.2 3.2-2.8-3.1-2.2z" color="#c2ff00"/><path d="M324.7 278.8l3 2.2 3.3-3.1-3.1-2.1z" color="#acff00"/><path d="M362.4 275.2l3.2 2.4 3-2.5-3.2-2.3z" color="#d9ff00"/><path d="M378.2 277.5l3.3 2.4 3-2.3-3.3-2.4z" color="#c8ff00"/><path d="M315.2 283.2l3 2.1 3.2-3.3-2.9-2.1z" color="#81ff00"/><path d="M321.4 282l3.1 2.2 3.2-3.2-3-2.2z" color="#91ff00"/><path d="M327.7 281l3.1 2.2 3.2-3.1-3-2.2z" color="#9eff00"/><path d="M334 280.1l3.1 2.2 3.2-3-3.1-2.2z" color="#af0"/><path d="M340.3 279.3l3.1 2.3 3.2-2.9-3.1-2.2z" color="#b4ff00"/><path d="M346.6 278.7l3.2 2.3 3.1-2.8-3.1-2.3z" color="#bf0"/><path d="M352.9 278.2l3.2 2.3 3.1-2.7-3.1-2.3z" color="#c1ff00"/><path d="M359.2 277.8l3.2 2.3 3.2-2.5-3.2-2.4z" color="#c6ff00"/><path d="M365.6 277.6l3.2 2.3 3.1-2.5-3.3-2.3z" color="#c8ff00"/><path d="M371.9 277.4l3.2 2.4 3.1-2.3-3.3-2.4z" color="#c9ff00"/><path d="M384.5 277.6l3.3 2.5 3-2.2-3.3-2.4z" color="#c5ff00"/><path d="M337.1 282.3l3.1 2.3 3.2-3-3.1-2.3z" color="#9bff00"/><path d="M362.4 280.1l3.3 2.4 3.1-2.6-3.2-2.3z" color="#b5ff00"/><path d="M375.1 279.8l3.3 2.5 3.1-2.4-3.3-2.4z" color="#b8ff00"/><path d="M381.5 279.9l3.3 2.5 3-2.3-3.3-2.5z" color="#b6ff00"/><path d="M318.2 285.3l3 2.2 3.3-3.3-3.1-2.2z" color="#74ff00"/><path d="M324.5 284.2l3 2.2 3.3-3.2-3.1-2.2z" color="#83ff00"/><path d="M330.8 283.2l3.1 2.2 3.2-3.1-3.1-2.2z" color="#90ff00"/><path d="M343.4 281.6l3.2 2.3 3.2-2.9-3.2-2.3z" color="#a4ff00"/><path d="M349.8 281l3.1 2.3 3.2-2.8-3.2-2.3z" color="#acff00"/><path d="M356.1 280.5l3.2 2.3 3.1-2.7-3.2-2.3z" color="#b1ff00"/><path d="M368.8 279.9l3.3 2.4 3-2.5-3.2-2.4z" color="#b7ff00"/><path d="M321.2 287.5l3 2.2 3.3-3.3-3-2.2z" color="#65ff00"/><path d="M333.9 285.4l3.1 2.3 3.2-3.1-3.1-2.3z" color="#81ff00"/><path d="M340.2 284.6l3.2 2.3 3.2-3-3.2-2.3z" color="#8cff00"/><path d="M359.3 282.8l3.2 2.4 3.2-2.7-3.3-2.4z" color="#a1ff00"/><path d="M365.7 282.5l3.2 2.4 3.2-2.6-3.3-2.4z" color="#a4ff00"/><path d="M372.1 282.3l3.2 2.5 3.1-2.5-3.3-2.5z" color="#a6ff00"/><path d="M378.4 282.3l3.3 2.5 3.1-2.4-3.3-2.5z" color="#a6ff00"/><path d="M327.5 286.4l3.1 2.2 3.3-3.2-3.1-2.2z" color="#74ff00"/><path d="M346.6 283.9l3.2 2.3 3.1-2.9-3.1-2.3z" color="#95ff00"/><path d="M352.9 283.3l3.2 2.3 3.2-2.8-3.2-2.3z" color="#9cff00"/><path d="M330.6 288.6l3.1 2.3 3.3-3.2-3.1-2.3z" color="#65ff00"/><path d="M368.9 284.9l3.3 2.5 3.1-2.6-3.2-2.5z" color="#93ff00"/><path d="M324.2 289.7l3.1 2.3 3.3-3.4-3.1-2.2z" color="#56ff00"/><path d="M337 287.7l3.1 2.3 3.3-3.1-3.2-2.3z" color="#72ff00"/><path d="M343.4 286.9l3.1 2.3 3.3-3-3.2-2.3z" color="#7cff00"/><path d="M356.1 285.6l3.3 2.4 3.1-2.8-3.2-2.4z" color="#8bff00"/><path d="M362.5 285.2l3.3 2.5 3.1-2.8-3.2-2.4z" color="#90ff00"/><path d="M375.3 284.8l3.4 2.5 3-2.5-3.3-2.5z" color="#94ff00"/><path d="M349.8 286.2l3.2 2.4 3.1-3-3.2-2.3z" color="#85ff00"/><path d="M327.3 292l3.1 2.3 3.3-3.4-3.1-2.3z" color="#46ff00"/><path d="M333.7 290.9l3.2 2.4 3.2-3.3-3.1-2.3z" color="#5f0"/><path d="M353 288.6l3.2 2.4 3.2-3-3.3-2.4z" color="#74ff00"/><path d="M365.8 287.7l3.3 2.4 3.1-2.7-3.3-2.5z" color="#7fff00"/><path d="M372.2 287.4l3.4 2.5 3.1-2.6-3.4-2.5z" color="#82ff00"/><path d="M340.1 290l3.2 2.4 3.2-3.2-3.1-2.3z" color="#61ff00"/><path d="M346.5 289.2l3.2 2.4 3.3-3-3.2-2.4z" color="#6cff00"/><path d="M359.4 288l3.2 2.5 3.2-2.8-3.3-2.5z" color="#7aff00"/><path d="M330.4 294.3l3.2 2.3 3.3-3.3-3.2-2.4z" color="#37ff00"/><path d="M336.9 293.3l3.1 2.3 3.3-3.2-3.2-2.4z" color="#45ff00"/><path d="M349.7 291.6l3.3 2.5 3.2-3.1-3.2-2.4z" color="#5aff00"/><path d="M356.2 291l3.2 2.5 3.2-3-3.2-2.5z" color="#63ff00"/><path d="M362.6 290.5l3.3 2.5 3.2-2.9-3.3-2.4z" color="#69ff00"/><path d="M369.1 290.1l3.3 2.6 3.2-2.8-3.4-2.5z" color="#6dff00"/><path d="M343.3 292.4l3.2 2.4 3.2-3.2-3.2-2.4z" color="#50ff00"/><path d="M333.6 296.6l3.1 2.4 3.3-3.4-3.1-2.3z" color="#2fff02"/><path d="M340 295.6l3.2 2.5 3.3-3.3-3.2-2.4z" color="#36ff00"/><path d="M346.5 294.8l3.2 2.4 3.3-3.1-3.3-2.5z" color="#3fff00"/><path d="M353 294.1l3.2 2.4 3.2-3-3.2-2.5z" color="#49ff00"/><path d="M359.4 293.5l3.3 2.5 3.2-3-3.3-2.5z" color="#51ff00"/><path d="M365.9 293l3.3 2.5 3.2-2.8-3.3-2.6z" color="#56ff00"/><path d="M356.2 296.5l3.3 2.6 3.2-3.1-3.3-2.5z" color="#38ff00"/><path d="M336.7 299l3.2 2.5 3.3-3.4-3.2-2.5z" color="#27ff04"/><path d="M343.2 298.1l3.2 2.4 3.3-3.3-3.2-2.4z" color="#2dff02"/><path d="M349.7 297.2l3.3 2.5 3.2-3.2-3.2-2.4z" color="#33ff01"/><path d="M362.7 296l3.4 2.5 3.1-3-3.3-2.5z" color="#3eff00"/><path d="M339.9 301.5l3.2 2.5 3.3-3.5-3.2-2.4z" color="#1eff06"/><path d="M353 299.7l3.3 2.6 3.2-3.2-3.3-2.6z" color="#2aff03"/><path d="M359.5 299.1l3.3 2.6 3.3-3.2-3.4-2.5z" color="#2eff02"/><path d="M346.4 300.5l3.3 2.6 3.3-3.4-3.3-2.5z" color="#24ff05"/><path d="M349.7 303.1l3.3 2.5 3.3-3.3-3.3-2.6z" color="#1bff07"/><path d="M343.1 304l3.3 2.5 3.3-3.4-3.3-2.6z" color="#15ff08"/><path d="M356.3 302.3l3.3 2.6 3.2-3.2-3.3-2.6z" color="#20ff05"/><path d="M346.4 306.5l3.3 2.6 3.3-3.5-3.3-2.5z" color="#0bff0a"/><path d="M353 305.6l3.3 2.7 3.3-3.4-3.3-2.6z" color="#11ff09"/><path d="M349.7 309.1l3.3 2.7 3.3-3.5-3.3-2.7z" color="#08ff11"/></g>
<path d="M278.7 259.2l3.2-3.1 3.2-2.9 3.2-2.9 3.2-2.7 3.1-2.7 3.1-2.5 3.1-2.4 3.1-2.3 3.1-2.3 3-2.1 3-2 3-1.9 3-1.8 2.9-1.7 2.9-1.6 2.9-1.5 2.9-1.4 2.9-1.3 2.8-1.2 2.8-1.1 2.8-1 2.8-.9 2.7-.8 2.7-.8 2.7-.6M280.1 260l3.2-3.1 3.2-3 3.1-2.8 3.2-2.8 3.1-2.6 3.2-2.6 3.1-2.4 3-2.3 3.1-2.2 3-2.1 3-2 3-1.9 3-1.8 3-1.7 2.9-1.6 2.9-1.5 2.9-1.4 2.8-1.3 2.8-1.2 2.9-1.2 2.7-1 2.8-.9 2.7-.8 2.8-.8 2.6-.6M281.4 260.8l3.2-3.1 3.2-3 3.2-2.8 3.1-2.8 3.2-2.6 3.1-2.6 3.1-2.4 3.1-2.3 3-2.3 3.1-2.1 3-2 3-1.9 3-1.8 2.9-1.7 2.9-1.6 2.9-1.5 2.9-1.4 2.9-1.3 2.8-1.2 2.8-1.1 2.8-1.1 2.8-.9 2.7-.8 2.7-.8 2.7-.6M282.7 261.6l3.2-3.1 3.2-3 3.2-2.8 3.2-2.8 3.1-2.7 3.2-2.5 3.1-2.4 3-2.4 3.1-2.2 3-2.1 3-2 3-1.9 3-1.8 3-1.7 2.9-1.7 2.9-1.5 2.9-1.4 2.8-1.3 2.9-1.2 2.8-1.1 2.7-1 2.8-1 2.7-.8 2.8-.8 2.7-.6M284.1 262.4l3.2-3.1 3.2-3 3.2-2.8 3.1-2.8 3.2-2.7 3.1-2.5 3.1-2.5 3.1-2.3 3-2.2 3.1-2.1 3-2.1 3-1.9 3-1.8 2.9-1.7 2.9-1.6 2.9-1.5 2.9-1.4 2.9-1.3 2.8-1.3 2.8-1.1 2.8-1 2.8-.9 2.7-.9 2.7-.7 2.7-.7M285.4 263.3l3.2-3.1 3.2-3 3.2-2.9 3.2-2.8 3.1-2.7 3.2-2.5 3.1-2.5 3.1-2.3 3-2.2 3.1-2.2 3-2 3-1.9 2.9-1.8 3-1.7 2.9-1.6 2.9-1.6 2.9-1.4 2.9-1.3 2.8-1.2 2.8-1.1 2.8-1.1 2.7-.9 2.8-.8 2.7-.8 2.7-.7M286.8 264.1l3.2-3.1 3.2-3 3.2-2.9 3.2-2.8 3.1-2.6 3.1-2.6 3.1-2.5 3.1-2.3 3.1-2.2 3-2.2 3-2 3-1.9 3-1.8 3-1.8 2.9-1.6 2.9-1.5 2.9-1.4 2.8-1.3 2.9-1.3 2.8-1.1 2.8-1 2.7-1 2.8-.8 2.7-.8 2.6-.6M288.1 265l3.2-3.1 3.3-3.1 3.1-2.9 3.2-2.7 3.2-2.7 3.1-2.6 3.1-2.4 3.1-2.4 3.1-2.2 3-2.2 3-2 3-1.9 3-1.9 2.9-1.7 3-1.6 2.9-1.5 2.9-1.4 2.8-1.4 2.8-1.2 2.9-1.1 2.7-1.1 2.8-.9 2.7-.8 2.7-.8 2.7-.7M289.5 265.8l3.2-3.1 3.2-3 3.2-2.9 3.2-2.8 3.1-2.7 3.2-2.6 3.1-2.4 3.1-2.4 3-2.2 3.1-2.2 3-2 3-1.9 3-1.9 2.9-1.7 3-1.6 2.9-1.5 2.8-1.5 2.9-1.3 2.8-1.2 2.8-1.2 2.8-1 2.8-.9 2.7-.9 2.7-.7 2.7-.7M290.8 266.7l3.3-3.1 3.2-3 3.2-3 3.2-2.8 3.1-2.6 3.2-2.6 3.1-2.5 3.1-2.4 3-2.2 3.1-2.2 3-2 3-1.9 3-1.9 2.9-1.7 2.9-1.6 3-1.6 2.8-1.4 2.9-1.3 2.8-1.2 2.8-1.2 2.8-1 2.8-1 2.7-.8 2.7-.8 2.7-.6M292.2 267.6l3.3-3.1 3.2-3.1 3.2-2.9 3.2-2.8 3.1-2.7 3.2-2.6 3.1-2.4 3.1-2.4 3-2.3 3.1-2.1 3-2.1 3-1.9 3-1.9 2.9-1.7 2.9-1.6 3-1.6 2.8-1.4 2.9-1.3 2.8-1.3 2.8-1.1 2.8-1 2.8-1 2.7-.8 2.7-.8 2.7-.7M293.6 268.5l3.3-3.1 3.2-3.1 3.2-2.9 3.2-2.8 3.1-2.7 3.1-2.6 3.2-2.5 3.1-2.4 3-2.2 3.1-2.2 3-2 3-2 3-1.8 2.9-1.8 2.9-1.6 3-1.5 2.8-1.5 2.9-1.3 2.8-1.3 2.8-1.1 2.8-1 2.8-1 2.7-.8 2.7-.8 2.7-.7M295 269.4l3.2-3.1 3.3-3.1 3.2-2.9 3.2-2.8 3.1-2.8 3.2-2.6 3.1-2.4 3.1-2.4 3-2.3 3.1-2.2 3-2 3-2 3-1.8 2.9-1.7 3-1.7 2.9-1.5 2.8-1.5 2.9-1.3 2.8-1.2 2.8-1.2 2.8-1 2.8-1 2.7-.9 2.7-.7 2.7-.7M296.4 270.3l3.2-3.1 3.3-3.1 3.2-2.9 3.2-2.9 3.1-2.7 3.2-2.6 3.1-2.5 3.1-2.4 3-2.2 3.1-2.2 3-2.1 3-1.9 3-1.9 2.9-1.7 3-1.7 2.9-1.5 2.9-1.4 2.8-1.4 2.8-1.2 2.9-1.2 2.7-1 2.8-1 2.7-.8 2.7-.8 2.7-.7M297.8 271.2l3.3-3.1 3.2-3.1 3.2-2.9 3.2-2.9 3.1-2.7 3.2-2.6 3.1-2.5 3.1-2.4 3.1-2.3 3-2.1 3-2.1 3-2 3-1.8 3-1.8 2.9-1.6 2.9-1.6 2.9-1.4 2.8-1.4 2.9-1.2 2.8-1.2 2.8-1 2.7-1 2.7-.8 2.7-.8 2.7-.7M299.2 272.2l3.3-3.2 3.2-3.1 3.2-2.9 3.2-2.9 3.2-2.7 3.1-2.6 3.1-2.5 3.1-2.4 3.1-2.3 3-2.2 3.1-2 3-2 2.9-1.9 3-1.7 2.9-1.7 2.9-1.5 2.9-1.5 2.9-1.3 2.8-1.3 2.8-1.1 2.8-1.1 2.7-.9 2.8-.9 2.7-.8 2.6-.7M300.6 273.1l3.3-3.2 3.2-3 3.2-3 3.2-2.8 3.2-2.8 3.1-2.6 3.1-2.5 3.1-2.4 3.1-2.3 3.1-2.2 3-2.1 3-1.9 3-1.9 2.9-1.8 3-1.6 2.9-1.6 2.8-1.4 2.9-1.4 2.8-1.2 2.8-1.2 2.8-1 2.8-1 2.7-.9 2.7-.8 2.7-.6M302.1 274.1l3.2-3.2 3.2-3.1 3.3-3 3.1-2.8 3.2-2.8 3.2-2.6 3.1-2.5 3.1-2.4 3.1-2.3 3-2.2 3-2.1 3-1.9 3-1.9 3-1.8 2.9-1.6 2.9-1.6 2.9-1.5 2.8-1.3 2.9-1.3 2.8-1.1 2.7-1.1 2.8-1 2.7-.8 2.7-.8 2.7-.7M303.5 275.1l3.2-3.3 3.3-3 3.2-3 3.2-2.9 3.2-2.7 3.1-2.7 3.1-2.5 3.1-2.4 3.1-2.3 3.1-2.2 3-2.1 3-2 3-1.8 2.9-1.8 2.9-1.7 3-1.5 2.8-1.5 2.9-1.4 2.8-1.2 2.8-1.2 2.8-1 2.7-1 2.8-.9 2.7-.8 2.6-.7M304.9 276l3.3-3.2 3.2-3.1 3.2-3 3.2-2.8 3.2-2.8 3.1-2.6 3.2-2.6 3.1-2.4 3.1-2.3 3-2.2 3-2.1 3-2 3-1.8 3-1.8 2.9-1.7 2.9-1.5 2.9-1.5 2.8-1.4 2.9-1.2 2.8-1.2 2.7-1.1 2.8-1 2.7-.8 2.7-.8 2.7-.7M306.4 277l3.2-3.2 3.3-3.1 3.2-3 3.2-2.9 3.2-2.7 3.1-2.7 3.1-2.5 3.1-2.4 3.1-2.4 3.1-2.2 3-2.1 3-1.9 3-1.9 2.9-1.8 3-1.7 2.9-1.6 2.8-1.4 2.9-1.4 2.8-1.3 2.8-1.1 2.8-1.1 2.7-1 2.8-.9 2.7-.8 2.6-.6M307.8 278l3.3-3.2 3.2-3.1 3.2-3 3.2-2.9 3.2-2.8 3.2-2.6 3.1-2.6 3.1-2.4 3.1-2.3 3-2.2 3.1-2.1 3-2 2.9-1.9 3-1.8 2.9-1.7 2.9-1.6 2.9-1.4 2.9-1.4 2.8-1.3 2.8-1.1 2.8-1.1 2.7-1 2.7-.9 2.7-.8 2.7-.7M309.3 279l3.2-3.2 3.3-3.1 3.2-3 3.2-2.9 3.2-2.8 3.1-2.7 3.2-2.5 3.1-2.4 3-2.4 3.1-2.2 3-2.1 3-2 3-1.9 3-1.8 2.9-1.7 2.9-1.5 2.9-1.5 2.8-1.4 2.8-1.3 2.8-1.2 2.8-1 2.8-1 2.7-.9 2.7-.8 2.6-.7M310.7 280l3.3-3.2 3.3-3.1 3.2-3 3.2-2.9 3.2-2.8 3.1-2.7 3.1-2.5 3.1-2.5 3.1-2.3 3.1-2.2 3-2.2 3-2 3-1.9 2.9-1.8 3-1.6 2.9-1.6 2.8-1.5 2.9-1.4 2.8-1.3 2.8-1.1 2.8-1.1 2.7-1 2.8-.9 2.6-.8 2.7-.7M312.2 281.1l3.3-3.3 3.2-3.1 3.3-3 3.2-2.9 3.1-2.8 3.2-2.7 3.1-2.6 3.1-2.4 3.1-2.4 3.1-2.2 3-2.1 3-2 3-1.9 2.9-1.8 3-1.7 2.9-1.6 2.8-1.5 2.9-1.4 2.8-1.3 2.8-1.1 2.8-1.1 2.7-1 2.7-.9 2.7-.8 2.7-.7M313.7 282.1l3.3-3.3 3.2-3.1 3.2-3 3.2-2.9 3.2-2.8 3.2-2.7 3.1-2.6 3.1-2.4 3.1-2.4 3-2.2 3.1-2.1 3-2.1 3-1.9 2.9-1.8 2.9-1.7 2.9-1.6 2.9-1.4 2.9-1.4 2.8-1.3 2.8-1.2 2.8-1.1 2.7-1 2.7-.9 2.7-.8 2.7-.7M315.2 283.2l3.3-3.3 3.2-3.2 3.2-3 3.2-2.9 3.2-2.8 3.2-2.7 3.1-2.6 3.1-2.4 3.1-2.4 3-2.2 3.1-2.2 3-2 3-1.9 2.9-1.8 2.9-1.7 2.9-1.6 2.9-1.5 2.9-1.4 2.8-1.3 2.8-1.2 2.7-1.1 2.8-1 2.7-.9 2.7-.8 2.7-.7M316.7 284.2l3.2-3.3 3.3-3.1 3.2-3.1 3.2-2.9 3.2-2.8 3.2-2.7 3.1-2.6 3.1-2.4 3.1-2.4 3-2.2 3.1-2.2 3-2 3-1.9 2.9-1.8 2.9-1.7 2.9-1.6 2.9-1.5 2.9-1.4 2.8-1.3 2.8-1.2 2.7-1.1 2.8-1 2.7-.9 2.7-.8 2.6-.8M318.2 285.3l3.2-3.3 3.3-3.2 3.2-3 3.2-2.9 3.2-2.9 3.2-2.7 3.1-2.6 3.1-2.4 3.1-2.4 3.1-2.2 3-2.2 3-2 3-1.9 2.9-1.9 3-1.7 2.9-1.6 2.8-1.5 2.9-1.4 2.8-1.3 2.8-1.2 2.7-1.1 2.8-1 2.7-.9 2.7-.8 2.6-.7M319.7 286.4l3.3-3.3 3.2-3.2 3.2-3.1 3.3-2.9 3.1-2.8 3.2-2.7 3.1-2.6 3.1-2.5 3.1-2.4 3.1-2.2 3-2.2 3-2 3-2 2.9-1.8 3-1.7 2.9-1.6 2.8-1.5 2.9-1.4 2.8-1.3 2.8-1.2 2.8-1.1 2.7-1 2.7-.9 2.7-.9 2.6-.7M321.2 287.5l3.3-3.3 3.2-3.2 3.3-3.1 3.2-2.9 3.2-2.9 3.1-2.7 3.1-2.6 3.2-2.5 3-2.3 3.1-2.3 3-2.2 3-2 3-1.9 3-1.9 2.9-1.7 2.9-1.6 2.9-1.5 2.8-1.4 2.8-1.3 2.8-1.3 2.8-1.1 2.7-1 2.7-.9 2.7-.8 2.6-.7M322.7 288.6l3.3-3.3 3.3-3.2 3.2-3.1 3.2-3 3.2-2.8 3.1-2.7 3.2-2.6 3.1-2.5 3.1-2.4 3-2.3 3.1-2.1 3-2.1 2.9-1.9 3-1.9 2.9-1.7 2.9-1.6 2.9-1.5 2.8-1.4 2.8-1.4 2.8-1.2 2.8-1.1 2.7-1 2.7-.9 2.7-.8 2.7-.8M324.2 289.7l3.3-3.3 3.3-3.2 3.2-3.1 3.2-3 3.2-2.8 3.2-2.8 3.1-2.6 3.1-2.5 3.1-2.4 3.1-2.2 3-2.2 3-2.1 3-1.9 2.9-1.8 3-1.8 2.8-1.6 2.9-1.5 2.9-1.4 2.8-1.4 2.8-1.2 2.7-1.1 2.8-1 2.7-.9 2.6-.9 2.7-.7M325.8 290.8l3.3-3.3 3.2-3.2 3.3-3.1 3.2-3 3.2-2.8 3.1-2.8 3.2-2.6 3.1-2.5 3-2.4 3.1-2.3 3-2.2 3-2 3-2 3-1.8 2.9-1.8 2.9-1.6 2.9-1.5 2.8-1.4 2.8-1.4 2.8-1.2 2.8-1.1 2.7-1 2.7-.9 2.7-.9 2.6-.7M327.3 292l3.3-3.4 3.3-3.2 3.2-3.1 3.2-3 3.2-2.8 3.2-2.8 3.1-2.6 3.1-2.5 3.1-2.4 3.1-2.3 3-2.2 3-2.1 3-1.9 2.9-1.9 2.9-1.7 2.9-1.7 2.9-1.5 2.8-1.4 2.9-1.3 2.7-1.3 2.8-1.1 2.7-1 2.7-.9 2.7-.9 2.6-.7M328.9 293.1l3.3-3.3 3.2-3.3 3.3-3.1 3.2-3 3.2-2.8 3.1-2.8 3.2-2.6 3.1-2.5 3.1-2.5 3-2.3 3-2.1 3-2.1 3-2 3-1.8 2.9-1.8 2.9-1.6 2.9-1.6 2.8-1.4 2.8-1.3 2.8-1.2 2.7-1.2 2.8-1 2.7-.9 2.6-.9 2.7-.7M330.4 294.3l3.3-3.4 3.3-3.2 3.2-3.1 3.2-3 3.2-2.9 3.2-2.8 3.1-2.6 3.1-2.6 3.1-2.4 3.1-2.3 3-2.2 3-2 3-2 2.9-1.9 3-1.7 2.8-1.7 2.9-1.5 2.8-1.5 2.9-1.3 2.7-1.2 2.8-1.2 2.7-1 2.7-.9 2.7-.9 2.6-.7M332 295.4l3.3-3.3 3.2-3.3 3.3-3.1 3.2-3 3.2-2.9 3.2-2.8 3.1-2.6 3.1-2.5 3.1-2.5 3-2.3 3.1-2.2 3-2.1 3-1.9 2.9-1.9 2.9-1.8 2.9-1.6 2.9-1.6 2.8-1.4 2.8-1.3 2.8-1.3 2.7-1.1 2.8-1.1 2.7-.9 2.6-.8 2.7-.8M333.6 296.6l3.3-3.3 3.2-3.3 3.3-3.1 3.2-3 3.2-2.9 3.1-2.8 3.2-2.7 3.1-2.5 3.1-2.5 3-2.3 3.1-2.2 3-2.1 2.9-1.9 3-1.9 2.9-1.8 2.9-1.6 2.8-1.6 2.9-1.4 2.8-1.4 2.8-1.2 2.7-1.2 2.7-1 2.7-1 2.7-.8 2.6-.7M335.1 297.8l3.3-3.4 3.3-3.2 3.2-3.2 3.3-3 3.2-2.9 3.1-2.8 3.2-2.6 3.1-2.6 3-2.4 3.1-2.4 3-2.2 3-2.1 3-2 3-1.8 2.9-1.8 2.9-1.7 2.8-1.5 2.9-1.5 2.8-1.3 2.7-1.3 2.8-1.1 2.7-1.1 2.7-.9 2.7-.9 2.6-.7M336.7 299l3.3-3.4 3.3-3.2 3.2-3.2 3.3-3 3.1-2.9 3.2-2.8 3.1-2.7 3.2-2.6 3-2.4 3.1-2.3 3-2.2 3-2.2 3-1.9 2.9-1.9 3-1.8 2.9-1.7 2.8-1.5 2.8-1.5 2.8-1.3 2.8-1.3 2.8-1.1 2.7-1.1 2.7-.9 2.6-.9 2.7-.8M338.3 300.2l3.3-3.4 3.3-3.2 3.2-3.2 3.2-3 3.2-3 3.2-2.8 3.1-2.6 3.2-2.6 3-2.5 3.1-2.3 3-2.2 3-2.1 3-2 2.9-1.9 3-1.8 2.8-1.7 2.9-1.5 2.8-1.5 2.8-1.4 2.8-1.2 2.7-1.2 2.8-1 2.6-1 2.7-.8 2.6-.8M339.9 301.5l3.3-3.4 3.3-3.3 3.2-3.2 3.3-3 3.1-3 3.2-2.8 3.1-2.7 3.2-2.5 3-2.5 3.1-2.3 3-2.3 3-2.1 3-2 2.9-1.9 3-1.8 2.8-1.7 2.9-1.5 2.8-1.5 2.8-1.4 2.8-1.2 2.7-1.2 2.7-1 2.7-1 2.7-.9 2.6-.7M341.5 302.7l3.3-3.4 3.3-3.3 3.2-3.2 3.3-3 3.2-3 3.1-2.8 3.2-2.7 3.1-2.6 3.1-2.4 3-2.4 3-2.2 3-2.1 3-2.1 2.9-1.9 3-1.8 2.8-1.6 2.9-1.6 2.8-1.5 2.8-1.4 2.8-1.2 2.7-1.2 2.7-1 2.7-1 2.7-.9 2.6-.7M343.1 304l3.3-3.5 3.3-3.3 3.3-3.1 3.2-3.1 3.2-3 3.1-2.8 3.2-2.7 3.1-2.6 3.1-2.5 3-2.3 3.1-2.3 3-2.1 2.9-2 3-1.9 2.9-1.8 2.9-1.7 2.8-1.6 2.8-1.5 2.8-1.3 2.8-1.3 2.7-1.2 2.7-1 2.7-1 2.7-.9 2.6-.8M344.8 305.2l3.3-3.4 3.2-3.3 3.3-3.2 3.2-3.1 3.2-2.9 3.2-2.9 3.1-2.7 3.1-2.6 3.1-2.5 3.1-2.3 3-2.3 3-2.1 2.9-2 3-2 2.9-1.8 2.9-1.7 2.8-1.6 2.9-1.4 2.7-1.4 2.8-1.3 2.7-1.2 2.7-1 2.7-1 2.7-.9 2.6-.8M346.4 306.5l3.3-3.4 3.3-3.4 3.2-3.2 3.2-3 3.2-3 3.2-2.8 3.1-2.8 3.2-2.6 3-2.5 3.1-2.3 3-2.3 3-2.1 3-2.1 2.9-1.9 2.9-1.8 2.9-1.7 2.9-1.6 2.8-1.5 2.8-1.4 2.7-1.3 2.8-1.1 2.7-1.1 2.6-1 2.7-.9 2.6-.7M348 307.8l3.3-3.4 3.3-3.4 3.3-3.2 3.2-3.1 3.2-3 3.1-2.8 3.2-2.7 3.1-2.7 3.1-2.5 3-2.3 3.1-2.3 2.9-2.1 3-2.1 3-1.9 2.9-1.8 2.8-1.7 2.9-1.6 2.8-1.5 2.8-1.4 2.8-1.3 2.7-1.2 2.7-1.1 2.7-1 2.6-.8 2.6-.8M349.7 309.1l3.3-3.5 3.3-3.3 3.2-3.2 3.2-3.1 3.2-3 3.2-2.9 3.1-2.7 3.1-2.6 3.1-2.5 3.1-2.4 3-2.3 3-2.1 3-2.1 2.9-1.9 2.9-1.9 2.9-1.7 2.8-1.6 2.8-1.5 2.8-1.4 2.8-1.3 2.7-1.1 2.7-1.1 2.7-1 2.6-.9 2.6-.8M351.3 310.4l3.3-3.4 3.3-3.4 3.3-3.2 3.2-3.1 3.2-3 3.2-2.9 3.1-2.8 3.1-2.6 3.1-2.5 3-2.4 3.1-2.3 2.9-2.1 3-2.1 2.9-1.9 2.9-1.9 2.9-1.7 2.9-1.6 2.8-1.5 2.8-1.4 2.7-1.3 2.7-1.2 2.7-1.1 2.7-1 2.6-.9 2.6-.8M353 311.8l3.3-3.5 3.3-3.4 3.2-3.2 3.3-3.2 3.1-3 3.2-2.8 3.2-2.8 3.1-2.6 3-2.5 3.1-2.4 3-2.3 3-2.2 3-2.1 2.9-1.9 2.9-1.9 2.9-1.7 2.8-1.6 2.8-1.5 2.8-1.4 2.8-1.3 2.7-1.2 2.7-1.1 2.6-1 2.7-.9 2.6-.8M278.7 259.2l2.7 1.6 2.7 1.6 2.7 1.7 2.7 1.7 2.7 1.8 2.8 1.8 2.8 1.8 2.8 1.9 2.9 2 2.9 1.9 2.9 2 2.9 2.1 3 2.1 3 2.1 3 2.2 3 2.2 3.1 2.3 3.1 2.3 3.2 2.3 3.1 2.4 3.2 2.5 3.2 2.5 3.3 2.5 3.3 2.6 3.3 2.7M280.3 257.6l2.7 1.6 2.7 1.7 2.7 1.7 2.7 1.7 2.7 1.7 2.8 1.8 2.8 1.8 2.9 1.9 2.8 1.9 2.9 2 2.9 2 3 2 2.9 2.1 3 2.1 3 2.2 3.1 2.2 3.1 2.3 3.1 2.3 3.1 2.3 3.2 2.4 3.2 2.5 3.2 2.4 3.3 2.6 3.2 2.6 3.4 2.6M281.9 256.1l2.7 1.6 2.7 1.6 2.7 1.7 2.7 1.7 2.8 1.8 2.7 1.8 2.9 1.8 2.8 1.8 2.8 1.9 2.9 2 2.9 2 3 2 3 2.1 2.9 2.1 3.1 2.2 3 2.2 3.1 2.2 3.1 2.3 3.2 2.4 3.1 2.3 3.2 2.5 3.2 2.4 3.3 2.6 3.3 2.5 3.3 2.7M283.5 254.6l2.7 1.6 2.7 1.6 2.7 1.7 2.7 1.7 2.8 1.7 2.8 1.8 2.8 1.8 2.8 1.9 2.9 1.9 2.9 1.9 2.9 2 2.9 2 3 2.1 3 2.1 3 2.2 3.1 2.2 3 2.2 3.2 2.3 3.1 2.3 3.2 2.4 3.2 2.4 3.2 2.5 3.2 2.5 3.3 2.6 3.3 2.6M285.1 253.2l2.7 1.5 2.7 1.6 2.7 1.7 2.7 1.7 2.8 1.7 2.8 1.8 2.8 1.8 2.8 1.9 2.9 1.9 2.9 1.9 2.9 2 2.9 2 3 2 3 2.1 3 2.2 3.1 2.2 3.1 2.2 3.1 2.3 3.1 2.3 3.2 2.4 3.2 2.4 3.2 2.4 3.3 2.5 3.3 2.6 3.3 2.6M286.7 251.7l2.7 1.6 2.7 1.6 2.7 1.6 2.7 1.7 2.8 1.8 2.8 1.7 2.8 1.8 2.8 1.9 2.9 1.9 2.9 1.9 2.9 1.9 2.9 2.1 3 2 3 2.1 3 2.1 3.1 2.2 3.1 2.2 3.1 2.3 3.1 2.3 3.2 2.4 3.2 2.4 3.2 2.4 3.3 2.5 3.3 2.6 3.3 2.6M288.3 250.3l2.7 1.6 2.7 1.6 2.7 1.6 2.7 1.7 2.8 1.7 2.8 1.8 2.8 1.8 2.8 1.8 2.9 1.9 2.9 1.9 2.9 2 3 2 2.9 2 3 2.1 3.1 2.1 3 2.2 3.1 2.2 3.1 2.3 3.2 2.3 3.1 2.3 3.2 2.4 3.3 2.5 3.2 2.4 3.3 2.6 3.3 2.6M289.9 248.9l2.7 1.6 2.7 1.6 2.7 1.6 2.7 1.7 2.8 1.7 2.8 1.7 2.8 1.8 2.8 1.9 2.9 1.8 2.9 2 2.9 1.9 3 2 2.9 2 3 2.1 3.1 2.1 3 2.2 3.1 2.2 3.1 2.2 3.2 2.3 3.1 2.4 3.2 2.4 3.3 2.4 3.2 2.5 3.3 2.5 3.3 2.6M291.5 247.6l2.6 1.5 2.7 1.6 2.8 1.6 2.7 1.7 2.8 1.7 2.8 1.8 2.8 1.7 2.8 1.9 2.9 1.8 2.9 1.9 2.9 2 3 2 2.9 2 3 2.1 3.1 2.1 3 2.1 3.1 2.2 3.1 2.3 3.2 2.3 3.2 2.3 3.2 2.4 3.2 2.4 3.2 2.5 3.3 2.5 3.4 2.5M293 246.2l2.7 1.6 2.7 1.6 2.7 1.6 2.8 1.6 2.7 1.7 2.8 1.8 2.9 1.8 2.8 1.8 2.9 1.8 2.9 1.9 2.9 2 2.9 1.9 3 2.1 3 2 3.1 2.1 3 2.2 3.1 2.2 3.1 2.2 3.2 2.3 3.2 2.3 3.2 2.4 3.2 2.4 3.2 2.5 3.3 2.5 3.4 2.5M294.6 244.9l2.7 1.6 2.7 1.5 2.7 1.7 2.7 1.6 2.8 1.7 2.8 1.7 2.8 1.8 2.9 1.8 2.9 1.9 2.9 1.9 2.9 1.9 2.9 2 3 2 3 2 3.1 2.1 3 2.2 3.1 2.2 3.1 2.2 3.2 2.3 3.1 2.3 3.2 2.3 3.3 2.4 3.2 2.5 3.3 2.5 3.3 2.5M296.2 243.6l2.6 1.6 2.7 1.6 2.8 1.6 2.7 1.6 2.8 1.7 2.8 1.7 2.8 1.8 2.9 1.8 2.8 1.8 2.9 1.9 3 2 2.9 1.9 3 2 3 2.1 3 2.1 3.1 2.1 3.1 2.2 3.1 2.2 3.2 2.3 3.1 2.3 3.2 2.3 3.3 2.4 3.2 2.5 3.3 2.5 3.3 2.5M297.7 242.4l2.7 1.5 2.7 1.6 2.7 1.6 2.8 1.6 2.8 1.7 2.8 1.7 2.8 1.8 2.8 1.8 2.9 1.8 2.9 1.9 2.9 1.9 3 2 3 2 3 2 3 2.1 3.1 2.1 3.1 2.2 3.1 2.2 3.1 2.3 3.2 2.3 3.2 2.3 3.2 2.4 3.3 2.5 3.3 2.4 3.3 2.6M299.3 241.2l2.7 1.5 2.7 1.6 2.7 1.6 2.7 1.6 2.8 1.7 2.8 1.7 2.8 1.7 2.9 1.8 2.9 1.9 2.9 1.8 2.9 1.9 3 2 2.9 2 3 2 3.1 2.1 3 2.1 3.1 2.2 3.2 2.2 3.1 2.2 3.2 2.3 3.2 2.4 3.2 2.3 3.3 2.5 3.3 2.5 3.3 2.5M300.8 240l2.7 1.5 2.7 1.5 2.7 1.6 2.8 1.7 2.8 1.7 2.8 1.7 2.8 1.7 2.8 1.8 2.9 1.8 2.9 1.9 3 1.9 2.9 1.9 3 2 3 2 3 2.1 3.1 2.1 3.1 2.2 3.1 2.2 3.2 2.2 3.1 2.3 3.2 2.3 3.3 2.4 3.2 2.4 3.3 2.5 3.4 2.5M302.4 238.8l2.6 1.5 2.8 1.6 2.7 1.6 2.7 1.6 2.8 1.7 2.8 1.7 2.8 1.7 2.9 1.8 2.9 1.8 2.9 1.9 2.9 1.9 3 1.9 3 2 3 2 3 2.1 3.1 2.1 3.1 2.1 3.1 2.2 3.1 2.2 3.2 2.3 3.2 2.3 3.2 2.4 3.3 2.4 3.3 2.5 3.3 2.5M303.9 237.7l2.7 1.5 2.7 1.5 2.7 1.6 2.8 1.6 2.8 1.7 2.8 1.7 2.8 1.7 2.8 1.8 2.9 1.8 2.9 1.9 3 1.9 2.9 1.9 3 2 3 2 3.1 2 3 2.1 3.1 2.2 3.1 2.1 3.2 2.3 3.2 2.2 3.2 2.4 3.2 2.3 3.3 2.4 3.2 2.5 3.4 2.5M305.4 236.5l2.7 1.5 2.7 1.6 2.8 1.6 2.7 1.6 2.8 1.6 2.8 1.7 2.8 1.8 2.9 1.7 2.9 1.8 2.9 1.9 2.9 1.9 3 1.9 2.9 2 3.1 2 3 2 3.1 2.1 3.1 2.1 3.1 2.2 3.1 2.2 3.2 2.3 3.2 2.3 3.2 2.4 3.3 2.4 3.3 2.4 3.3 2.5M307 235.4l2.6 1.5 2.7 1.6 2.8 1.6 2.7 1.6 2.8 1.6 2.8 1.7 2.9 1.7 2.8 1.8 2.9 1.8 2.9 1.8 2.9 1.9 3 1.9 3 2 3 2 3 2.1 3.1 2 3.1 2.2 3.1 2.1 3.2 2.2 3.1 2.3 3.2 2.3 3.3 2.3 3.2 2.4 3.3 2.5 3.3 2.5M308.5 234.4l2.7 1.5 2.7 1.5 2.7 1.6 2.8 1.6 2.7 1.6 2.9 1.7 2.8 1.7 2.8 1.8 2.9 1.8 2.9 1.8 3 1.9 2.9 1.9 3 2 3 2 3.1 2 3 2.1 3.1 2.1 3.1 2.2 3.2 2.2 3.2 2.2 3.2 2.3 3.2 2.4 3.3 2.3 3.3 2.5 3.3 2.4M310 233.3l2.7 1.5 2.7 1.6 2.7 1.5 2.8 1.6 2.8 1.7 2.8 1.6 2.8 1.8 2.9 1.7 2.9 1.8 2.9 1.8 2.9 1.9 3 1.9 2.9 2 3.1 2 3 2 3.1 2.1 3.1 2.1 3.1 2.1 3.1 2.2 3.2 2.3 3.2 2.3 3.2 2.3 3.3 2.4 3.3 2.4 3.3 2.5M311.5 232.3l2.7 1.5 2.7 1.5 2.7 1.6 2.8 1.6 2.8 1.6 2.8 1.7 2.8 1.7 2.9 1.8 2.9 1.8 2.9 1.8 2.9 1.8 3 1.9 3 2 3 2 3 2 3.1 2.1 3.1 2.1 3.1 2.1 3.1 2.2 3.2 2.2 3.2 2.3 3.2 2.4 3.3 2.3 3.3 2.4 3.3 2.5M313 231.3l2.7 1.5 2.7 1.5 2.7 1.6 2.8 1.6 2.8 1.6 2.8 1.7 2.8 1.7 2.9 1.7 2.9 1.8 2.9 1.8 2.9 1.9 3 1.9 3 1.9 3 2 3 2 3.1 2.1 3.1 2.1 3.1 2.1 3.2 2.2 3.1 2.3 3.2 2.2 3.3 2.3 3.2 2.4 3.3 2.4 3.3 2.5M314.5 230.4l2.7 1.5 2.7 1.5 2.7 1.5 2.8 1.6 2.8 1.6 2.8 1.7 2.8 1.7 2.9 1.7 2.9 1.8 2.9 1.8 2.9 1.9 3 1.9 3 1.9 3 2 3 2 3.1 2.1 3.1 2 3.1 2.2 3.2 2.2 3.1 2.2 3.2 2.3 3.3 2.3 3.2 2.3 3.3 2.4 3.3 2.5M316 229.4l2.7 1.5 2.7 1.5 2.7 1.6 2.8 1.6 2.8 1.6 2.8 1.6 2.8 1.7 2.9 1.8 2.9 1.7 2.9 1.9 2.9 1.8 3 1.9 3 1.9 3 2 3 2 3.1 2 3.1 2.1 3.1 2.2 3.2 2.1 3.1 2.2 3.2 2.3 3.3 2.3 3.2 2.4 3.3 2.4 3.3 2.4M317.5 228.5l2.7 1.5 2.7 1.5 2.7 1.6 2.8 1.5 2.8 1.7 2.8 1.6 2.8 1.7 2.9 1.7 2.9 1.8 2.9 1.8 2.9 1.8 3 1.9 3 1.9 3 2 3 2 3.1 2 3.1 2.1 3.1 2.2 3.1 2.1 3.2 2.2 3.2 2.3 3.2 2.3 3.3 2.3 3.3 2.4 3.3 2.4M319 227.6l2.7 1.5 2.7 1.5 2.7 1.6 2.8 1.5 2.8 1.6 2.8 1.7 2.8 1.7 2.9 1.7 2.9 1.8 2.9 1.8 2.9 1.8 3 1.9 3 1.9 3 2 3 2 3.1 2 3.1 2.1 3.1 2.1 3.1 2.2 3.2 2.2 3.2 2.2 3.2 2.3 3.3 2.3 3.3 2.4 3.3 2.4M320.4 226.8l2.7 1.4 2.7 1.5 2.8 1.6 2.8 1.6 2.7 1.6 2.9 1.6 2.8 1.7 2.9 1.7 2.8 1.8 3 1.8 2.9 1.8 3 1.9 2.9 1.9 3.1 1.9 3 2 3.1 2.1 3 2 3.2 2.1 3.1 2.2 3.2 2.2 3.2 2.2 3.2 2.3 3.3 2.4 3.2 2.3 3.3 2.4M321.9 225.9l2.7 1.5 2.7 1.5 2.8 1.5 2.7 1.6 2.8 1.6 2.8 1.7 2.9 1.6 2.8 1.7 2.9 1.8 2.9 1.8 3 1.8 2.9 1.9 3 1.9 3 1.9 3.1 2 3 2.1 3.1 2 3.1 2.1 3.2 2.2 3.1 2.2 3.2 2.2 3.3 2.3 3.2 2.3 3.3 2.4 3.3 2.4M323.4 225.1l2.7 1.5 2.7 1.5 2.7 1.5 2.8 1.6 2.8 1.6 2.8 1.6 2.8 1.7 2.9 1.7 2.9 1.8 2.9 1.7 2.9 1.9 3 1.8 3 1.9 3 2 3 1.9 3.1 2.1 3.1 2 3.1 2.1 3.1 2.2 3.2 2.2 3.2 2.2 3.2 2.3 3.3 2.3 3.3 2.3 3.3 2.5M324.8 224.3l2.7 1.5 2.7 1.5 2.8 1.5 2.8 1.6 2.7 1.6 2.9 1.6 2.8 1.7 2.9 1.7 2.8 1.7 3 1.8 2.9 1.8 3 1.9 2.9 1.9 3.1 1.9 3 2 3.1 2 3 2.1 3.2 2.1 3.1 2.1 3.2 2.2 3.2 2.2 3.2 2.3 3.2 2.3 3.3 2.3 3.3 2.4M326.3 223.6l2.7 1.4 2.7 1.5 2.7 1.5 2.8 1.6 2.8 1.6 2.8 1.6 2.9 1.7 2.8 1.7 2.9 1.7 2.9 1.8 2.9 1.8 3 1.9 3 1.9 3 1.9 3 2 3.1 2 3.1 2 3.1 2.1 3.1 2.2 3.2 2.1 3.2 2.3 3.2 2.2 3.3 2.3 3.2 2.4 3.3 2.4M327.7 222.8l2.7 1.5 2.7 1.5 2.8 1.5 2.8 1.6 2.8 1.5 2.8 1.7 2.8 1.6 2.9 1.7 2.9 1.8 2.9 1.7 2.9 1.9 3 1.8 2.9 1.9 3.1 1.9 3 2 3 2 3.1 2 3.1 2.1 3.2 2.2 3.2 2.1 3.1 2.2 3.3 2.3 3.2 2.3 3.3 2.3 3.3 2.4M329.2 222.1l2.7 1.5 2.7 1.5 2.7 1.5 2.8 1.5 2.8 1.6 2.8 1.6 2.8 1.7 2.9 1.7 2.9 1.7 2.9 1.8 2.9 1.8 3 1.8 3 1.9 3 2 3 1.9 3.1 2 3.1 2.1 3.1 2 3.1 2.2 3.2 2.1 3.2 2.2 3.2 2.3 3.2 2.3 3.3 2.3 3.3 2.4M330.6 221.4l2.7 1.5 2.7 1.5 2.8 1.5 2.7 1.5 2.8 1.6 2.8 1.6 2.9 1.7 2.8 1.7 2.9 1.7 2.9 1.8 3 1.8 2.9 1.8 3 1.9 3 1.9 3.1 2 3 2 3.1 2 3.1 2.1 3.1 2.1 3.2 2.2 3.2 2.2 3.2 2.2 3.3 2.3 3.2 2.3 3.3 2.4M332 220.8l2.7 1.4 2.8 1.5 2.7 1.5 2.8 1.6 2.8 1.5 2.8 1.7 2.8 1.6 2.9 1.7 2.9 1.7 2.9 1.8 2.9 1.8 3 1.8 2.9 1.9 3.1 1.9 3 2 3 1.9 3.1 2.1 3.1 2.1 3.2 2.1 3.1 2.1 3.2 2.2 3.2 2.3 3.3 2.2 3.2 2.4 3.3 2.3M333.5 220.1l2.7 1.5 2.7 1.5 2.7 1.5 2.8 1.5 2.8 1.6 2.8 1.6 2.8 1.6 2.9 1.7 2.9 1.7 2.9 1.8 2.9 1.8 3 1.8 3 1.9 3 1.9 3 2 3.1 2 3 2 3.1 2 3.2 2.2 3.1 2.1 3.2 2.2 3.2 2.2 3.3 2.3 3.2 2.3 3.3 2.4M334.9 219.5l2.7 1.5 2.7 1.4 2.7 1.5 2.8 1.6 2.8 1.6 2.8 1.6 2.9 1.6 2.8 1.7 2.9 1.7 2.9 1.8 2.9 1.7 3 1.9 3 1.8 3 2 3 1.9 3.1 2 3.1 2 3.1 2.1 3.1 2.1 3.1 2.1 3.2 2.2 3.2 2.2 3.3 2.3 3.2 2.3 3.3 2.4M336.3 218.9l2.7 1.5 2.7 1.4 2.8 1.5 2.7 1.6 2.8 1.5 2.8 1.7 2.9 1.6 2.8 1.7 2.9 1.7 2.9 1.7 2.9 1.8 3 1.8 3 1.9 3 1.9 3 2 3.1 1.9 3.1 2.1 3.1 2 3.1 2.1 3.1 2.2 3.2 2.1 3.2 2.3 3.3 2.2 3.2 2.3 3.3 2.4M337.7 218.4l2.7 1.4 2.7 1.5 2.8 1.5 2.7 1.5 2.8 1.6 2.8 1.6 2.9 1.6 2.8 1.7 2.9 1.7 2.9 1.7 3 1.8 2.9 1.8 3 1.9 3 1.9 3 1.9 3.1 2 3 2 3.2 2.1 3.1 2.1 3.1 2.1 3.2 2.2 3.2 2.2 3.3 2.3 3.2 2.3 3.3 2.3M339.1 217.8l2.7 1.5 2.7 1.4 2.8 1.5 2.7 1.5 2.8 1.6 2.8 1.6 2.9 1.6 2.8 1.7 2.9 1.7 2.9 1.8 2.9 1.7 3 1.9 3 1.8 3 1.9 3 1.9 3.1 2 3 2 3.1 2.1 3.2 2.1 3.1 2.1 3.2 2.2 3.2 2.2 3.2 2.2 3.3 2.3 3.3 2.4M340.5 217.3l2.7 1.4 2.7 1.5 2.8 1.5 2.7 1.5 2.8 1.6 2.8 1.6 2.9 1.6 2.8 1.7 2.9 1.7 2.9 1.7 2.9 1.8 3 1.8 3 1.9 3 1.9 3 1.9 3 1.9 3.1 2.1 3.1 2 3.1 2.1 3.2 2.1 3.2 2.2 3.2 2.2 3.2 2.2 3.3 2.3 3.2 2.4M341.9 216.8l2.7 1.4 2.7 1.5 2.8 1.5 2.7 1.5 2.8 1.6 2.8 1.6 2.9 1.6 2.8 1.7 2.9 1.7 2.9 1.7 2.9 1.8 3 1.8 2.9 1.8 3 1.9 3.1 1.9 3 2 3.1 2 3.1 2 3.1 2.1 3.2 2.2 3.1 2.1 3.2 2.2 3.3 2.3 3.2 2.3 3.3 2.3M343.3 216.3l2.7 1.5 2.7 1.4 2.7 1.5 2.8 1.5 2.8 1.6 2.8 1.6 2.8 1.6 2.9 1.7 2.9 1.7 2.9 1.7 2.9 1.8 2.9 1.8 3 1.8 3 1.9 3 1.9 3.1 2 3.1 2 3.1 2 3.1 2.1 3.1 2.1 3.2 2.2 3.2 2.2 3.2 2.2 3.3 2.3 3.2 2.3M344.7 215.9l2.7 1.4 2.7 1.5 2.7 1.4 2.8 1.6 2.8 1.5 2.8 1.6 2.8 1.6 2.9 1.7 2.8 1.7 2.9 1.7 3 1.8 2.9 1.8 3 1.8 3 1.9 3 1.9 3.1 2 3 2 3.1 2 3.1 2.1 3.2 2.1 3.1 2.2 3.2 2.2 3.3 2.2 3.2 2.3 3.3 2.3M346 215.5l2.7 1.4 2.7 1.4 2.8 1.5 2.7 1.5 2.8 1.6 2.8 1.6 2.9 1.6 2.8 1.6 2.9 1.7 2.9 1.8 2.9 1.7 3 1.8 2.9 1.9 3 1.8 3.1 2 3 1.9 3.1 2 3.1 2 3.1 2.1 3.1 2.1 3.2 2.2 3.2 2.2 3.2 2.2 3.2 2.3 3.3 2.3M347.4 215.1l2.7 1.4 2.7 1.4 2.8 1.5 2.7 1.5 2.8 1.6 2.8 1.5 2.8 1.7 2.9 1.6 2.9 1.7 2.9 1.7 2.9 1.8 2.9 1.8 3 1.8 3 1.9 3 1.9 3.1 2 3 2 3.1 2 3.1 2 3.2 2.2 3.1 2.1 3.2 2.2 3.2 2.2 3.3 2.3 3.2 2.3M348.8 214.7l2.7 1.4 2.7 1.4 2.7 1.5 2.8 1.5 2.8 1.6 2.8 1.6 2.8 1.6 2.8 1.6 2.9 1.7 2.9 1.7 2.9 1.8 3 1.8 3 1.8 2.9 1.9 3.1 1.9 3 1.9 3.1 2 3 2 3.2 2.1 3.1 2.1 3.2 2.2 3.1 2.1 3.3 2.3 3.2 2.2 3.3 2.3M350.1 214.3l2.7 1.4 2.7 1.5 2.8 1.4 2.7 1.6 2.8 1.5 2.8 1.6 2.8 1.6 2.9 1.6 2.9 1.7 2.9 1.7 2.9 1.8 2.9 1.8 3 1.8 3 1.9 3 1.9 3 1.9 3.1 2 3.1 2 3.1 2.1 3.1 2.1 3.2 2.1 3.2 2.2 3.2 2.2 3.2 2.3 3.3 2.3M351.5 214l2.7 1.4 2.7 1.4 2.7 1.5 2.8 1.5 2.8 1.6 2.8 1.5 2.8 1.6 2.8 1.7 2.9 1.7 2.9 1.7 2.9 1.7 3 1.8 2.9 1.9 3 1.8 3 1.9 3.1 2 3 1.9 3.1 2.1 3.1 2 3.1 2.1 3.2 2.1 3.2 2.2 3.2 2.2 3.2 2.3 3.3 2.3M352.8 213.7l2.7 1.4 2.7 1.4 2.7 1.5 2.8 1.5 2.8 1.5 2.8 1.6 2.8 1.6 2.9 1.7 2.8 1.6 2.9 1.8 2.9 1.7 3 1.8 3 1.8 2.9 1.9 3 1.9 3.1 1.9 3 2 3.1 2 3.1 2.1 3.2 2 3.1 2.2 3.2 2.1 3.2 2.3 3.2 2.2 3.3 2.3" fill="none" stroke="#000" stroke-opacity="1" stroke-width="0.25" stroke-linejoin="round"/>
<g font-size="6.3"><text x="274.3" y="285.8" text-anchor="end">5</text><text x="274.0" y="267.1" text-anchor="end">7</text><text x="273.7" y="248.4" text-anchor="end">9</text><text x="273.4" y="229.7" text-anchor="end">11</text><text x="273.1" y="211.0" text-anchor="end">13</text><text x="272.2" y="316.9" text-anchor="middle">7.00</text><text x="290.1" y="325.4" text-anchor="middle">5.75</text><text x="308.1" y="333.9" text-anchor="middle">4.50</text><text x="326.1" y="342.4" text-anchor="middle">3.25</text><text x="344.1" y="350.9" text-anchor="middle">2.00</text><text x="362.3" y="351.0" text-anchor="middle">2.50</text><text x="380.2" y="342.5" text-anchor="middle">4.00</text><text x="398.0" y="334.0" text-anchor="middle">5.50</text><text x="415.9" y="325.5" text-anchor="middle">7.00</text><text x="433.7" y="317.0" text-anchor="middle">8.50</text></g>
<path d="M281.3 311.1l-1.1 1.0M299.3 319.6l-1.1 1.0M317.2 328.1l-1.1 1.0M335.2 336.6l-1.1 1.0M353.2 345.1l-1.1 1.0M353.2 345.1l1.1 1.0M371.1 336.6l1.1 1.0M388.9 328.1l1.1 1.0M406.8 319.6l1.1 1.0M424.6 311.1l1.1 1.0" stroke="#000" stroke-width=".7" fill="none"/>
<g font-size="8.15"><text transform="translate(293.7 343.9) rotate(25.3)" text-anchor="middle">Reaction time (h)</text><text transform="translate(413.3 345.6) rotate(-25.3)" text-anchor="middle">Green bean (%)</text><text transform="translate(255.6 246.5) rotate(-90.0)" text-anchor="middle">Trigonelline (g/kg DW)</text></g>
<text x="232.1" y="198.0" font-size="8.6" font-weight="bold">(E)</text>
</g>
<g id="pF">
<path d="M511.8 311.9L586.3 347.7L660.4 311.9L586.1 283.8z" fill="#ff0" stroke="#222" stroke-width=".5"/>
<path d="M582.6 345.9L583.8 346.2M585.7 346.6L583.8 346.2M587.6 347.1L585.7 346.6M660.2 312.0L659.2 311.5" fill="none" stroke="#00ff59" stroke-width=".5" stroke-opacity=".85" stroke-linecap="round"/>
<path d="M615.0 294.8L614.7 294.6M616.1 295.3L615.0 294.8M617.1 295.8L616.1 295.3M618.2 296.4L617.1 295.8M619.3 296.9L618.2 296.4M620.4 297.4L619.3 296.9M621.5 298.0L620.4 297.4M622.5 298.5L622.5 298.5M622.5 298.5L621.5 298.0M623.6 299.0L622.5 298.5M624.7 299.6L623.6 299.0M625.8 300.1L624.7 299.6M626.9 300.7L625.8 300.1M628.0 301.2L626.9 300.7M629.1 301.8L628.0 301.2M630.2 302.4L629.6 302.1M629.6 302.1L629.1 301.8M631.3 302.9L630.2 302.4M632.3 303.5L631.3 302.9M561.6 335.8L562.0 335.9M633.4 304.1L632.3 303.5M563.8 336.3L562.0 335.9M634.5 304.7L633.4 304.1M565.6 336.7L563.8 336.3M635.7 305.3L634.5 304.7M566.6 336.9L565.6 336.7M566.6 336.9L567.5 337.1M636.8 305.8L635.9 305.4M635.9 305.4L635.7 305.3M569.3 337.5L567.5 337.1M637.9 306.4L636.8 305.8M571.1 337.9L569.3 337.5M639.0 307.0L637.9 306.4M571.6 338.0L571.1 337.9M571.6 338.0L573.0 338.3M640.1 307.6L639.0 307.0M574.9 338.7L573.0 338.3M641.2 308.3L640.1 307.6M576.5 339.0L574.9 338.7M576.5 339.0L576.8 339.1M642.3 308.9L641.7 308.5M641.7 308.5L641.2 308.3M578.7 339.5L576.8 339.1M643.4 309.5L642.3 308.9M580.6 339.9L578.7 339.5M644.5 310.1L643.4 309.5M581.3 340.0L580.6 339.9M581.3 340.0L582.5 340.3M645.6 310.7L644.5 310.1M584.4 340.6L582.5 340.3M646.7 311.4L645.6 310.7M586.1 341.0L584.4 340.6M586.1 341.0L586.3 341.0M647.8 312.0L646.9 311.5M646.9 311.5L646.7 311.4M588.3 341.4L586.3 341.0M648.9 312.7L647.8 312.0M590.2 341.8L588.3 341.4M650.0 313.3L648.9 312.7M590.8 341.9L590.2 341.8M590.8 341.9L592.2 342.2M651.2 314.0L650.0 313.3M594.2 342.5L592.2 342.2M652.3 314.6L651.6 314.3M651.6 314.3L651.2 314.0M595.4 342.8L594.2 342.5M595.4 342.8L596.2 342.9M653.4 315.3L652.3 314.6" fill="none" stroke="#08ff10" stroke-width=".5" stroke-opacity=".85" stroke-linecap="round"/>
<path d="M584.8 285.1L583.9 284.7M585.8 285.6L584.8 285.1M586.8 286.1L585.8 285.6M587.8 286.6L586.8 286.1M588.8 287.1L587.8 286.6M589.8 287.5L588.8 287.1M590.8 288.0L589.8 287.5M591.8 288.5L590.8 288.0M592.8 289.0L591.9 288.6M591.9 288.6L591.8 288.5M593.8 289.5L592.8 289.0M594.8 290.0L593.8 289.5M595.8 290.5L594.8 290.0M596.8 291.0L595.8 290.5M597.8 291.5L596.8 291.0M598.8 292.0L597.8 291.5M599.8 292.5L599.3 292.3M599.3 292.3L598.8 292.0M600.8 293.0L599.8 292.5M601.8 293.6L600.8 293.0M602.8 294.1L601.8 293.6M603.9 294.6L602.8 294.1M604.9 295.1L603.9 294.6M605.9 295.7L604.9 295.1M606.9 296.2L605.9 295.7M605.9 295.7L605.9 295.7M607.9 296.8L606.9 296.2M608.9 297.3L607.9 296.8M541.0 325.9L542.1 326.2M609.9 297.9L608.9 297.3M543.8 326.5L542.1 326.2M611.0 298.4L609.9 297.9M545.5 326.9L543.8 326.5M612.0 299.0L611.8 298.9M611.8 298.9L611.0 298.4M545.8 327.0L545.5 326.9M545.8 327.0L547.3 327.3M613.0 299.5L612.0 299.0M549.0 327.6L547.3 327.3M614.0 300.1L613.0 299.5M550.5 327.9L549.0 327.6M550.5 327.9L550.8 328.0M615.0 300.7L614.0 300.1M552.6 328.4L550.8 328.0M616.1 301.3L615.0 300.7M554.4 328.7L552.6 328.4M617.1 301.8L617.0 301.8M617.0 301.8L616.1 301.3M555.1 328.9L554.4 328.7M555.1 328.9L556.2 329.1M618.1 302.4L617.1 301.8M558.0 329.5L556.2 329.1M619.1 303.0L618.1 302.4M559.7 329.8L558.0 329.5M559.7 329.8L559.8 329.8M620.1 303.6L619.1 303.0M561.6 330.2L559.8 329.8M621.2 304.2L620.1 303.6M563.5 330.5L561.6 330.2M622.2 304.8L621.8 304.6M621.8 304.6L621.2 304.2M564.2 330.7L563.5 330.5M564.2 330.7L565.3 330.9M623.2 305.4L622.2 304.8M567.2 331.2L565.3 330.9M624.2 306.1L623.2 305.4M568.6 331.5L567.2 331.2M568.6 331.5L569.1 331.6M625.2 306.7L624.2 306.1M570.9 331.9L569.1 331.6M626.2 307.3L626.0 307.2M626.0 307.2L625.2 306.7M572.8 332.3L570.9 331.9M627.2 307.9L626.2 307.3M573.0 332.3L572.8 332.3M573.0 332.3L574.8 332.6M628.2 308.6L627.2 307.9M576.7 332.9L574.8 332.6M629.2 309.2L628.2 308.6M577.2 333.0L576.7 332.9M577.2 333.0L578.6 333.3M630.2 309.9L629.8 309.6M629.8 309.6L629.2 309.2M580.6 333.6L578.6 333.3M631.2 310.6L630.2 309.9M581.4 333.7L580.6 333.6M581.4 333.7L582.6 333.9M632.2 311.2L631.2 310.6M584.6 334.2L582.6 333.9M633.2 311.9L632.2 311.2M585.6 334.4L584.6 334.2M585.6 334.4L586.6 334.6M634.2 312.6L633.2 311.9M633.2 311.9L633.2 311.9M588.6 334.9L586.6 334.6M635.2 313.3L634.2 312.6M589.6 335.0L588.6 334.9M589.6 335.0L590.7 335.2M636.1 314.0L635.2 313.3M592.7 335.5L590.7 335.2M637.1 314.7L636.3 314.1M636.3 314.1L636.1 314.0M593.5 335.6L592.7 335.5M593.5 335.6L594.8 335.8M638.0 315.5L637.1 314.7M596.9 336.0L594.8 335.8M639.0 316.2L638.9 316.2M638.9 316.2L638.0 315.5M597.4 336.1L596.9 336.0M597.4 336.1L599.1 336.3M639.9 316.9L639.0 316.2M601.1 336.6L599.1 336.3M601.1 336.6L601.2 336.6M640.8 317.7L639.9 316.9M603.4 336.8L601.2 336.6M641.7 318.5L641.3 318.1M641.3 318.1L640.8 317.7M604.7 337.0L603.4 336.8M604.7 337.0L605.6 337.1M642.6 319.3L641.7 318.5M607.8 337.3L605.6 337.1M643.5 320.1L643.3 319.9M643.3 319.9L642.6 319.3" fill="none" stroke="#64ff00" stroke-width=".5" stroke-opacity=".85" stroke-linecap="round"/>
<path d="M578.7 287.5L577.8 287.0M579.7 288.0L578.7 287.5M580.6 288.5L579.7 288.0M581.5 289.0L581.2 288.8M581.2 288.8L580.6 288.5M582.5 289.5L581.5 289.0M583.4 290.0L582.5 289.5M584.4 290.5L583.4 290.0M585.3 291.0L584.4 290.5M520.7 316.2L522.3 316.5M586.2 291.6L585.3 291.0M523.9 316.8L522.3 316.5M587.2 292.1L586.7 291.8M586.7 291.8L586.2 291.6M525.2 317.1L523.9 316.8M525.2 317.1L525.6 317.2M588.1 292.6L587.2 292.1M527.2 317.5L525.6 317.2M589.0 293.2L588.1 292.6M528.9 317.9L527.2 317.5M590.0 293.7L589.0 293.2M529.7 318.0L528.9 317.9M529.7 318.0L530.6 318.2M590.9 294.2L590.0 293.7M532.3 318.6L530.6 318.2M591.9 294.8L591.6 294.6M591.6 294.6L590.9 294.2M534.0 318.9L532.3 318.6M592.8 295.3L591.9 294.8M534.1 318.9L534.0 318.9M534.1 318.9L535.7 319.2M593.7 295.9L592.8 295.3M537.4 319.6L535.7 319.2M594.7 296.5L593.7 295.9M538.4 319.8L537.4 319.6M538.4 319.8L539.2 319.9M595.6 297.0L594.7 296.5M540.9 320.2L539.2 319.9M596.5 297.6L595.9 297.2M595.9 297.2L595.6 297.0M542.6 320.6L540.9 320.2M542.6 320.6L542.7 320.6M597.4 298.2L596.5 297.6M544.5 320.9L542.7 320.6M598.4 298.8L597.4 298.2M546.2 321.2L544.5 320.9M599.3 299.4L598.4 298.8M546.8 321.3L546.2 321.2M546.8 321.3L548.0 321.5M600.2 300.0L599.8 299.7M599.8 299.7L599.3 299.4M549.9 321.8L548.0 321.5M601.1 300.6L600.2 300.0M550.9 322.0L549.9 321.8M550.9 322.0L551.7 322.1M602.0 301.2L601.1 300.6M553.5 322.5L551.7 322.1M602.9 301.8L602.0 301.2M554.9 322.7L553.5 322.5M554.9 322.7L555.4 322.8M603.8 302.4L603.2 302.0M603.2 302.0L602.9 301.8M557.3 323.1L555.4 322.8M604.7 303.0L603.8 302.4M558.9 323.3L557.3 323.1M558.9 323.3L559.1 323.4M605.6 303.7L604.7 303.0M561.1 323.6L559.1 323.4M606.5 304.3L606.2 304.1M606.2 304.1L605.6 303.7M562.7 323.9L561.1 323.6M562.7 323.9L563.0 323.9M607.3 305.0L606.5 304.3M564.9 324.2L563.0 323.9M608.2 305.6L607.3 305.0M566.5 324.4L564.9 324.2M566.5 324.4L566.9 324.5M609.1 306.3L608.8 306.1M608.8 306.1L608.2 305.6M568.9 324.7L566.9 324.5M609.9 307.0L609.1 306.3M570.2 324.9L568.9 324.7M570.2 324.9L570.9 325.0M610.7 307.7L609.9 307.0M572.9 325.3L570.9 325.0M611.6 308.4L611.1 308.0M611.1 308.0L610.7 307.7M573.7 325.4L572.9 325.3M573.7 325.4L575.0 325.5M612.4 309.1L611.6 308.4M577.0 325.7L575.0 325.5M613.2 309.8L613.1 309.8M613.1 309.8L612.4 309.1M577.2 325.8L577.0 325.7M577.2 325.8L579.2 325.9M613.9 310.6L613.2 309.8M580.6 326.1L579.2 325.9M580.6 326.1L581.3 326.2M614.7 311.4L613.9 310.6M583.5 326.3L581.3 326.2M615.4 312.1L614.8 311.5M614.8 311.5L614.7 311.4M583.8 326.4L583.5 326.3M583.8 326.4L585.7 326.5M616.1 312.9L615.4 312.1M586.9 326.6L585.7 326.5M586.9 326.6L588.0 326.7M616.7 313.8L616.2 313.0M616.2 313.0L616.1 312.9M590.0 326.8L588.0 326.7M590.0 326.8L590.3 326.8M617.4 314.6L617.3 314.5M617.3 314.5L616.7 313.8M592.7 326.9L590.3 326.8M617.9 315.5L617.4 314.6M592.9 326.9L592.7 326.9M592.9 326.9L595.2 327.0M618.4 316.4L618.1 315.9M618.1 315.9L617.9 315.5M595.7 327.0L595.2 327.0M595.7 327.0L597.7 327.0M618.8 317.4L618.7 317.1M618.7 317.1L618.4 316.4M598.3 327.0L597.7 327.0M598.3 327.0L600.4 327.0M619.1 318.4L619.1 318.3M619.1 318.3L618.8 317.4M600.8 327.0L600.4 327.0M600.8 327.0L603.2 326.9M603.2 326.9L603.3 326.8M619.2 319.5L619.2 319.4M619.2 319.4L619.1 318.4M605.4 326.7L603.3 326.8M605.4 326.7L606.5 326.6M619.0 320.8L619.1 320.4M619.1 320.4L619.2 319.5M607.5 326.5L606.5 326.6M607.5 326.5L609.4 326.2M609.4 326.2L610.4 326.0M618.1 322.4L618.3 322.2M618.3 322.2L618.8 321.4M618.8 321.4L619.0 320.8M611.2 325.8L610.4 326.0M611.2 325.8L612.8 325.4M612.8 325.4L614.3 324.9M614.3 324.9L615.6 324.3M615.6 324.3L616.6 323.7M616.6 323.7L617.6 323.0M617.6 323.0L618.1 322.4" fill="none" stroke="#ecff00" stroke-width=".5" stroke-opacity=".85" stroke-linecap="round"/>
<path d="M516.8 310.9L515.2 310.6M572.7 289.8L571.8 289.2M517.4 311.0L516.8 310.9M517.4 311.0L518.5 311.2M573.5 290.3L573.1 290.0M573.1 290.0L572.7 289.8M520.1 311.5L518.5 311.2M574.4 290.8L573.5 290.3M521.6 311.8L520.1 311.5M521.6 311.8L521.8 311.8M575.2 291.4L574.4 290.8M523.5 312.2L521.8 311.8M576.1 291.9L575.2 291.4M525.2 312.5L523.5 312.2M577.0 292.5L576.9 292.4M576.9 292.4L576.1 291.9M525.6 312.5L525.2 312.5M525.6 312.5L526.9 312.8M577.8 293.0L577.0 292.5M528.6 313.1L526.9 312.8M578.6 293.6L577.8 293.0M529.6 313.2L528.6 313.1M529.6 313.2L530.3 313.4M579.5 294.2L578.6 293.6M532.1 313.7L530.3 313.4M580.3 294.8L580.2 294.7M580.2 294.7L579.5 294.2M533.5 313.9L532.1 313.7M533.5 313.9L533.8 313.9M581.2 295.3L580.3 294.8M535.6 314.2L533.8 313.9M582.0 295.9L581.2 295.3M537.3 314.5L535.6 314.2M537.3 314.5L537.4 314.5M582.8 296.5L582.0 295.9M539.2 314.8L537.4 314.5M583.6 297.1L583.2 296.8M583.2 296.8L582.8 296.5M541.0 315.1L539.2 314.8M541.0 315.1L541.0 315.1M584.4 297.8L583.6 297.1M542.9 315.3L541.0 315.1M585.2 298.4L584.4 297.8M544.7 315.6L542.9 315.3M544.7 315.6L544.8 315.6M586.0 299.0L585.7 298.8M585.7 298.8L585.2 298.4M546.6 315.8L544.8 315.6M586.8 299.6L586.0 299.0M548.2 316.1L546.6 315.8M548.2 316.1L548.5 316.1M587.5 300.3L586.8 299.6M550.5 316.3L548.5 316.1M588.3 301.0L587.9 300.6M587.9 300.6L587.5 300.3M551.7 316.5L550.5 316.3M551.7 316.5L552.4 316.6M589.0 301.6L588.3 301.0M554.4 316.8L552.4 316.6M589.7 302.3L589.7 302.3M589.7 302.3L589.0 301.6M555.0 316.9L554.4 316.8M555.0 316.9L556.4 317.0M590.4 303.0L589.7 302.3M558.3 317.2L556.4 317.0M558.3 317.2L558.5 317.2M591.1 303.7L590.4 303.0M560.6 317.4L558.5 317.2M591.7 304.4L591.3 303.9M591.3 303.9L591.1 303.7M561.4 317.5L560.6 317.4M561.4 317.5L562.7 317.6M592.4 305.2L591.7 304.4M564.5 317.7L562.7 317.6M564.5 317.7L564.8 317.7M592.9 306.0L592.5 305.4M592.5 305.4L592.4 305.2M567.1 317.9L564.8 317.7M593.5 306.8L592.9 306.0M567.4 317.9L567.1 317.9M567.4 317.9L569.4 318.0M594.0 307.6L593.5 306.8M593.5 306.8L593.5 306.8M570.2 318.0L569.4 318.0M570.2 318.0L571.7 318.0M594.4 308.4L594.2 308.1M594.2 308.1L594.0 307.6M572.9 318.1L571.7 318.0M572.9 318.1L574.2 318.1M594.7 309.3L594.7 309.3M594.7 309.3L594.4 308.4M575.4 318.1L574.2 318.1M575.4 318.1L576.8 318.0M594.9 310.3L594.7 309.3M577.8 318.0L576.8 318.0M577.8 318.0L579.6 317.9M594.9 311.3L594.9 310.4M594.9 310.4L594.9 310.3M580.1 317.9L579.6 317.9M580.1 317.9L582.2 317.7M582.2 317.7L582.7 317.7M594.6 312.5L594.7 312.4M594.7 312.4L594.9 311.4M594.9 311.4L594.9 311.3M584.2 317.5L582.7 317.7M584.2 317.5L586.1 317.2M586.1 317.2L586.6 317.1M593.6 314.1L593.7 314.0M593.7 314.0L594.3 313.2M594.3 313.2L594.6 312.5M587.8 316.8L586.6 317.1M587.8 316.8L589.3 316.4M589.3 316.4L590.6 315.9M590.6 315.9L591.8 315.4M591.8 315.4L592.8 314.7M592.8 314.7L593.6 314.1" fill="none" stroke="#ffc700" stroke-width=".5" stroke-opacity=".85" stroke-linecap="round"/>
<path d="M511.8 311.9L506.9 210.1L586.1 192.2L665.2 210.5L660.4 311.9M586.1 192.2L586.1 283.8" fill="none" stroke="#555" stroke-width=".7"/>
<g fill="currentColor" stroke="currentColor" stroke-width=".5" stroke-linejoin="round"><path d="M563 213l4.7 2.7 3 1.8-4.7-2.6z" color="#ad6b00"/><path d="M560 211.4l4.7 2.8 3 1.5-4.7-2.7z" color="#ff8c00"/><path d="M567.7 215.7l4.8 2.7 2.9 1.8-4.7-2.7z" color="#ad7200"/><path d="M556.9 210.2l4.7 2.8 3.1 1.2-4.7-2.8z" color="#ff7c00"/><path d="M564.7 214.2l4.7 2.8 3.1 1.4-4.8-2.7z" color="#ff9600"/><path d="M553.8 209.4l4.7 2.9 3.1 .7-4.7-2.8z" color="#ff6c00"/><path d="M572.5 218.4l4.8 2.8 3 1.7-4.9-2.7z" color="#ffb100"/><path d="M561.6 213l4.8 2.9 3 1.1-4.7-2.8z" color="#ff8700"/><path d="M550.7 209l4.7 2.9 3.1 .4-4.7-2.9z" color="#ff6000"/><path d="M580.3 222.9l4.8 2.8 3 2.1-4.9-2.8z" color="#ad8c00"/><path d="M569.4 217l4.9 2.8 3 1.4-4.8-2.8z" color="#ffa100"/><path d="M558.5 212.3l4.8 2.9 3.1 .7-4.8-2.9z" color="#ff7a00"/><path d="M547.5 208.9l4.7 3 3.2 0-4.7-2.9z" color="#ff5700"/><path d="M577.3 221.2l4.9 2.9 2.9 1.6-4.8-2.8z" color="#ffba00"/><path d="M566.4 215.9l4.8 2.9 3.1 1-4.9-2.8z" color="#ff9300"/><path d="M555.4 211.9l4.8 3 3.1 .3-4.8-2.9z" color="#ff6f00"/><path d="M585.1 225.7l5 2.9 2.9 2-4.9-2.8z" color="#ad9500"/><path d="M574.3 219.8l4.9 3 3 1.3-4.9-2.9z" color="#ffab00"/><path d="M544.3 209.2l4.7 3.1 3.2-.4-4.7-3z" color="#ff5200"/><path d="M563.3 215.2l4.8 3 3.1 .6-4.8-2.9z" color="#ff8600"/><path d="M552.2 211.9l4.8 3.1 3.2-.1-4.8-3z" color="#f60"/><path d="M582.2 224.1l4.9 2.9 3 1.6-5-2.9z" color="#ffc300"/><path d="M541.1 209.9l4.7 3.2 3.2-.8-4.7-3.1z" color="#ff5000"/><path d="M571.2 218.8l4.9 3.1 3.1 .9-4.9-3z" color="#ff9e00"/><path d="M560.2 214.9l4.8 3.1 3.1 .2-4.8-3z" color="#ff7d00"/><path d="M590.1 228.6l5 3 2.9 1.9-5-2.9z" color="#ad9f00"/><path d="M579.2 222.8l4.9 3 3 1.2-4.9-2.9z" color="#ffb500"/><path d="M549 212.3l4.8 3.2 3.2-.5-4.8-3.1z" color="#ff6200"/><path d="M568.1 218.2l4.9 3.1 3.1 .6-4.9-3.1z" color="#ff9300"/><path d="M537.9 211l4.7 3.3 3.2-1.2-4.7-3.2z" color="#ff5100"/><path d="M627.1 256.3l5.2 2.9 2.6 3.7-5.2-2.8z" color="#04ad10"/><path d="M557 215l4.9 3.2 3.1-.2-4.8-3.1z" color="#ff7600"/><path d="M587.1 227l5 3.1 3 1.5-5-3z" color="#ffd100"/><path d="M545.8 213.1l4.8 3.2 3.2-.8-4.8-3.2z" color="#ff6000"/><path d="M576.1 221.9l5 3.1 3 .8-4.9-3z" color="#ffa900"/><path d="M565 218l4.9 3.2 3.1 .1-4.9-3.1z" color="#ff8a00"/><path d="M534.6 212.5l4.8 3.4 3.2-1.6-4.7-3.3z" color="#ff5700"/><path d="M595.1 231.6l5.1 3 2.9 1.9-5.1-3z" color="#ada600"/><path d="M584.1 225.8l5.1 3.1 2.9 1.2-5-3.1z" color="#ffbe00"/><path d="M553.8 215.5l4.9 3.2 3.2-.5-4.9-3.2z" color="#ff7100"/><path d="M573 221.3l5 3.2 3.1 .5-5-3.1z" color="#ff9f00"/><path d="M542.6 214.3l4.8 3.3 3.2-1.3-4.8-3.2z" color="#ff6200"/><path d="M632.3 259.2l5.3 3 2.6 3.6-5.3-2.9z" color="#02ad15"/><path d="M531.4 214.5l4.7 3.4 3.3-2-4.8-3.4z" color="#ff5f00"/><path d="M561.9 218.2l4.9 3.2 3.1-.2-4.9-3.2z" color="#ff8400"/><path d="M592.1 230.1l5.1 3.1 3 1.4-5.1-3z" color="#ffe000"/><path d="M550.6 216.3l4.9 3.4 3.2-1-4.9-3.2z" color="#ff7100"/><path d="M581.1 225l5 3.1 3.1 .8-5.1-3.1z" color="#ffb300"/><path d="M569.9 221.2l5 3.2 3.1 .1-5-3.2z" color="#ff9700"/><path d="M600.2 234.6l5.1 3.2 2.9 1.7-5.1-3z" color="#fdff00"/><path d="M629.7 255.9l5.3 3 2.6 3.3-5.3-3z" color="#0aad06"/><path d="M539.4 215.9l4.8 3.4 3.2-1.7-4.8-3.3z" color="#ff6800"/><path d="M528.1 216.8l4.7 3.5 3.3-2.4-4.7-3.4z" color="#ff6b00"/><path d="M589.2 228.9l5.1 3.2 2.9 1.1-5.1-3.1z" color="#ffcb00"/><path d="M558.7 218.7l4.9 3.3 3.2-.6-4.9-3.2z" color="#ff8100"/><path d="M578 224.5l5.1 3.2 3 .4-5-3.1z" color="#fa0"/><path d="M637.6 262.2l5.4 3.1 2.5 3.5-5.3-3z" color="#00ad1a"/><path d="M547.4 217.6l4.9 3.4 3.2-1.3-4.9-3.4z" color="#ff7300"/><path d="M536.1 217.9l4.8 3.5 3.3-2.1-4.8-3.4z" color="#ff7100"/><path d="M566.8 221.4l5 3.3 3.1-.3-5-3.2z" color="#ff9100"/><path d="M597.2 233.2l5.2 3.2 2.9 1.4-5.1-3.2z" color="#fe0"/><path d="M555.5 219.7l4.9 3.4 3.2-1.1-4.9-3.3z" color="#ff8000"/><path d="M524.8 219.6l4.7 3.6 3.3-2.9-4.7-3.5z" color="#ff7a00"/><path d="M586.1 228.1l5.1 3.3 3.1 .7-5.1-3.2z" color="#ffbd00"/><path d="M574.9 224.4l5.1 3.3 3.1 0-5.1-3.2z" color="#ffa300"/><path d="M605.3 237.8l5.3 3.1 2.8 1.7-5.2-3.1z" color="#f0ff00"/><path d="M635 258.9l5.4 3.1 2.6 3.3-5.4-3.1z" color="#06ad09"/><path d="M544.2 219.3l4.8 3.5 3.3-1.8-4.9-3.4z" color="#ff7900"/><path d="M594.3 232.1l5.1 3.2 3 1.1-5.2-3.2z" color="#ffdb00"/><path d="M532.8 220.3l4.8 3.6 3.3-2.5-4.8-3.5z" color="#ff7d00"/><path d="M563.6 222l5 3.4 3.2-.7-5-3.3z" color="#ff8e00"/><path d="M583.1 227.7l5.1 3.4 3 .3-5.1-3.3z" color="#ffb500"/><path d="M613.4 242.6l5.3 3.2 2.9 2-5.3-3.1z" color="#81ad00"/><path d="M521.5 222.7l4.8 3.7 3.2-3.2-4.7-3.6z" color="#ff8a00"/><path d="M552.3 221l4.9 3.5 3.2-1.4-4.9-3.4z" color="#ff8300"/><path d="M643 265.3l5.4 3.1 2.5 3.5-5.4-3.1z" color="#00ad1f"/><path d="M632.4 256l5.4 3.1 2.6 2.9-5.4-3.1z" color="#18ad03"/><path d="M540.9 221.4l4.9 3.6 3.2-2.2-4.8-3.5z" color="#ff8200"/><path d="M571.8 224.7l5 3.4 3.2-.4-5.1-3.3z" color="#ff9e00"/><path d="M602.4 236.4l5.3 3.2 2.9 1.3-5.3-3.1z" color="#fffa00"/><path d="M560.4 223.1l5 3.5 3.2-1.2-5-3.4z" color="#ff8f00"/><path d="M529.5 223.2l4.8 3.7 3.3-3-4.8-3.6z" color="#ff8a00"/><path d="M591.2 231.4l5.2 3.3 3 .6-5.1-3.2z" color="#ffca00"/><path d="M518.2 226.3l4.7 3.8 3.4-3.7-4.8-3.7z" color="#ff9c00"/><path d="M580 227.7l5.1 3.4 3.1 0-5.1-3.4z" color="#ffaf00"/><path d="M610.6 240.9l5.3 3.3 2.8 1.6-5.3-3.2z" color="#e1ff00"/><path d="M549 222.8l5 3.6 3.2-1.9-4.9-3.5z" color="#f80"/><path d="M640.4 262l5.5 3.2 2.5 3.2-5.4-3.1z" color="#04ad0e"/><path d="M599.4 235.3l5.3 3.4 3 .9-5.3-3.2z" color="#ffeb00"/><path d="M537.6 223.9l4.9 3.7 3.3-2.6-4.9-3.6z" color="#ff8c00"/><path d="M568.6 225.4l5.1 3.5 3.1-.8-5-3.4z" color="#ff9c00"/><path d="M588.2 231.1l5.2 3.4 3 .2-5.2-3.3z" color="#ffc000"/><path d="M618.7 245.8l5.4 3.3 2.8 2-5.3-3.3z" color="#74ad00"/><path d="M557.2 224.5l5 3.6 3.2-1.5-5-3.5z" color="#ff9200"/><path d="M526.3 226.4l4.7 3.8 3.3-3.3-4.8-3.7z" color="#ff9a00"/><path d="M648.4 268.4l5.5 3.2 2.5 3.5-5.5-3.2z" color="#00ad26"/><path d="M545.8 225l4.9 3.7 3.3-2.3-5-3.6z" color="#ff9100"/><path d="M514.9 230.4l4.7 3.9 3.3-4.2-4.7-3.8z" color="#ffaf00"/><path d="M576.8 228.1l5.2 3.5 3.1-.5-5.1-3.4z" color="#ffab00"/><path d="M607.7 239.6l5.3 3.4 2.9 1.2-5.3-3.3z" color="#f6ff00"/><path d="M637.8 259.1l5.4 3.3 2.7 2.8-5.5-3.2z" color="#11ad04"/><path d="M565.4 226.6l5.1 3.5 3.2-1.2-5.1-3.5z" color="#ff9d00"/><path d="M596.4 234.7l5.3 3.4 3 .6-5.3-3.4z" color="#ffdc00"/><path d="M534.3 226.9l4.9 3.8 3.3-3.1-4.9-3.7z" color="#ff9a00"/><path d="M585.1 231.1l5.2 3.5 3.1-.1-5.2-3.4z" color="#ffba00"/><path d="M615.9 244.2l5.4 3.4 2.8 1.5-5.4-3.3z" color="#cdff00"/><path d="M522.9 230.1l4.8 3.9 3.3-3.8-4.7-3.8z" color="#ffab00"/><path d="M554 226.4l5 3.7 3.2-2-5-3.6z" color="#ff9700"/><path d="M645.9 265.2l5.5 3.3 2.5 3.1-5.5-3.2z" color="#02ad13"/><path d="M604.7 238.7l5.3 3.4 3 .9-5.3-3.4z" color="#fff800"/><path d="M542.5 227.6l4.9 3.8 3.3-2.7-4.9-3.7z" color="#ff9c00"/><path d="M511.6 234.8l4.7 4 3.3-4.5-4.7-3.9z" color="#ffc300"/><path d="M573.7 228.9l5.1 3.6 3.2-.9-5.2-3.5z" color="#ffa900"/><path d="M635.1 256.6l5.5 3.3 2.6 2.5-5.4-3.3z" color="#22ad00"/><path d="M593.4 234.5l5.3 3.5 3 .1-5.3-3.4z" color="#ffcf00"/><path d="M624.1 249.1l5.5 3.4 2.7 1.9-5.4-3.3z" color="#66ad00"/><path d="M531 230.2l4.9 3.9 3.3-3.4-4.9-3.8z" color="#ffa900"/><path d="M562.2 228.1l5.1 3.7 3.2-1.7-5.1-3.5z" color="#ffa000"/><path d="M653.9 271.6l5.6 3.3 2.5 3.4-5.6-3.2z" color="#00ad2c"/><path d="M550.7 228.7l5 3.7 3.3-2.3-5-3.7z" color="#ffa000"/><path d="M519.6 234.3l4.8 4 3.3-4.3-4.8-3.9z" color="#ffbd00"/><path d="M582 231.6l5.2 3.6 3.1-.6-5.2-3.5z" color="#ffb600"/><path d="M613 243l5.4 3.4 2.9 1.2-5.4-3.4z" color="#e9ff00"/><path d="M643.2 262.4l5.6 3.3 2.6 2.8-5.5-3.3z" color="#0aad06"/><path d="M570.5 230.1l5.1 3.7 3.2-1.3-5.1-3.6z" color="#fa0"/><path d="M601.7 238.1l5.4 3.5 2.9 .5-5.3-3.4z" color="#ffec00"/><path d="M508.3 239.7l4.7 4.1 3.3-5-4.7-4z" color="#ffe600"/><path d="M539.2 230.7l4.9 3.8 3.3-3.1-4.9-3.8z" color="#ffa900"/><path d="M590.3 234.6l5.3 3.6 3.1-.2-5.3-3.5z" color="#ffc600"/><path d="M621.3 247.6l5.4 3.4 2.9 1.5-5.5-3.4z" color="#b8ff00"/><path d="M527.7 234l4.9 4 3.3-3.9-4.9-3.9z" color="#ffb900"/><path d="M559 230.1l5 3.7 3.3-2-5.1-3.7z" color="#ffa600"/><path d="M651.4 268.5l5.6 3.4 2.5 3-5.6-3.3z" color="#01ad19"/><path d="M610 242.1l5.4 3.5 3 .8-5.4-3.4z" color="#f8ff00"/><path d="M547.4 231.4l5 3.9 3.3-2.9-5-3.7z" color="#fa0"/><path d="M516.3 238.8l4.8 4.1 3.3-4.6-4.8-4z" color="#ffd900"/><path d="M578.8 232.5l5.2 3.7 3.2-1-5.2-3.6z" color="#ffb500"/><path d="M640.6 259.9l5.6 3.4 2.6 2.4-5.6-3.3z" color="#1bad02"/><path d="M598.7 238l5.3 3.6 3.1 0-5.4-3.5z" color="#ffe100"/><path d="M535.9 234.1l4.9 4 3.3-3.6-4.9-3.8z" color="#ffb700"/><path d="M567.3 231.8l5.1 3.7 3.2-1.7-5.1-3.7z" color="#ffad00"/><path d="M629.6 252.5l5.5 3.5 2.8 1.7-5.6-3.3z" color="#58ad00"/><path d="M555.7 232.4l5.1 3.9 3.2-2.5-5-3.7z" color="#ffae00"/><path d="M587.2 235.2l5.3 3.7 3.1-.7-5.3-3.6z" color="#ffc200"/><path d="M618.4 246.4l5.5 3.5 2.8 1.1-5.4-3.4z" color="#d4ff00"/><path d="M648.8 265.7l5.6 3.4 2.6 2.8-5.6-3.4z" color="#06ad0a"/><path d="M524.4 238.3l4.9 4 3.3-4.3-4.9-4z" color="#ffcf00"/><path d="M575.6 233.8l5.3 3.8 3.1-1.4-5.2-3.7z" color="#ffb700"/><path d="M607.1 241.6l5.4 3.6 2.9 .4-5.4-3.5z" color="#fff900"/><path d="M637.9 257.7l5.6 3.5 2.7 2.1-5.6-3.4z" color="#2fad00"/><path d="M544.1 234.5l5 4 3.3-3.2-5-3.9z" color="#ffb600"/><path d="M513 243.8l4.8 4.2 3.3-5.1-4.8-4.1z" color="#fff800"/><path d="M595.6 238.2l5.4 3.7 3-.3-5.3-3.6z" color="#ffd900"/><path d="M532.6 238l4.9 4.1 3.3-4-4.9-4z" color="#ffc800"/><path d="M564 233.8l5.2 3.9 3.2-2.2-5.1-3.7z" color="#ffb300"/><path d="M626.7 251l5.6 3.6 2.8 1.4-5.5-3.5z" color="#a2ff00"/><path d="M615.4 245.6l5.5 3.6 3 .7-5.5-3.5z" color="#eaff00"/><path d="M521.1 242.9l4.8 4.2 3.4-4.8-4.9-4z" color="#ffef00"/><path d="M552.4 235.3l5.1 3.9 3.3-2.9-5.1-3.9z" color="#ffb800"/><path d="M584 236.2l5.3 3.7 3.2-1-5.3-3.7z" color="#ffc100"/><path d="M646.2 263.3l5.6 3.5 2.6 2.3-5.6-3.4z" color="#13ad04"/><path d="M604 241.6l5.5 3.6 3 0-5.4-3.6z" color="#fff100"/><path d="M540.8 238.1l5 4.1 3.3-3.7-5-4z" color="#ffc400"/><path d="M572.4 235.5l5.3 3.9 3.2-1.8-5.3-3.8z" color="#ffba00"/><path d="M635.1 256l5.6 3.5 2.8 1.7-5.6-3.5z" color="#6cff00"/><path d="M560.8 236.3l5.1 4 3.3-2.6-5.2-3.9z" color="#fb0"/><path d="M592.5 238.9l5.3 3.7 3.2-.7-5.4-3.7z" color="#ffd400"/><path d="M529.3 242.3l4.9 4.2 3.3-4.4-4.9-4.1z" color="#ffe700"/><path d="M623.9 249.9l5.5 3.6 2.9 1.1-5.6-3.6z" color="#beff00"/><path d="M580.9 237.6l5.3 3.8 3.1-1.5-5.3-3.7z" color="#ffc300"/><path d="M612.5 245.2l5.5 3.7 2.9 .3-5.5-3.6z" color="#f6ff00"/><path d="M643.5 261.2l5.6 3.6 2.7 2-5.6-3.5z" color="#23ad00"/><path d="M517.8 248l4.8 4.3 3.3-5.2-4.8-4.2z" color="#f2ff00"/><path d="M549.1 238.5l5.1 4 3.3-3.3-5.1-3.9z" color="#ffc400"/><path d="M601 241.9l5.4 3.7 3.1-.4-5.5-3.6z" color="#ffeb00"/><path d="M537.5 242.1l5 4.2 3.3-4.1-5-4.1z" color="#ffe000"/><path d="M569.2 237.7l5.2 3.9 3.3-2.2-5.3-3.9z" color="#ffc000"/><path d="M632.3 254.6l5.6 3.6 2.8 1.3-5.6-3.5z" color="#8dff00"/><path d="M525.9 247.1l4.9 4.3 3.4-4.9-4.9-4.2z" color="#fdff00"/><path d="M557.5 239.2l5.1 4.1 3.3-3-5.1-4z" color="#ffc500"/><path d="M589.3 239.9l5.4 3.9 3.1-1.2-5.3-3.7z" color="#ffd400"/><path d="M620.9 249.2l5.6 3.7 2.9 .6-5.5-3.6z" color="#d5ff00"/><path d="M609.5 245.2l5.5 3.8 3-.1-5.5-3.7z" color="#ff0"/><path d="M577.7 239.4l5.3 3.9 3.2-1.9-5.3-3.8z" color="#ffc800"/><path d="M640.7 259.5l5.7 3.6 2.7 1.7-5.6-3.6z" color="#5f0"/><path d="M545.8 242.2l5.1 4.1 3.3-3.8-5.1-4z" color="#ffdb00"/><path d="M565.9 240.3l5.3 4 3.2-2.7-5.2-3.9z" color="#ffca00"/><path d="M597.8 242.6l5.5 3.9 3.1-.9-5.4-3.7z" color="#ffe800"/><path d="M534.2 246.5l5 4.3 3.3-4.5-5-4.2z" color="#fff800"/><path d="M629.4 253.5l5.7 3.7 2.8 1-5.6-3.6z" color="#a8ff00"/><path d="M586.2 241.4l5.3 4 3.2-1.6-5.4-3.9z" color="#ffd700"/><path d="M522.6 252.3l4.9 4.4 3.3-5.3-4.9-4.3z" color="#daff00"/><path d="M554.2 242.5l5.1 4.2 3.3-3.4-5.1-4.1z" color="#ffda00"/><path d="M618 248.9l5.5 3.8 3 .2-5.6-3.7z" color="#e6ff00"/><path d="M606.4 245.6l5.5 3.9 3.1-.5-5.5-3.8z" color="#fff900"/><path d="M542.5 246.3l5.1 4.2 3.3-4.2-5.1-4.1z" color="#fff300"/><path d="M574.4 241.6l5.3 4.1 3.3-2.4-5.3-3.9z" color="#ffd300"/><path d="M637.9 258.2l5.7 3.7 2.8 1.2-5.7-3.6z" color="#76ff00"/><path d="M530.8 251.4l5 4.4 3.4-5-5-4.3z" color="#eaff00"/><path d="M562.6 243.3l5.3 4.1 3.3-3.1-5.3-4z" color="#ffdc00"/><path d="M594.7 243.8l5.5 3.9 3.1-1.2-5.5-3.9z" color="#ffe800"/><path d="M626.5 252.9l5.7 3.8 2.9 .5-5.7-3.7z" color="#beff00"/><path d="M583 243.3l5.3 4.1 3.2-2-5.3-4z" color="#ffde00"/><path d="M615 249l5.5 3.8 3-.1-5.5-3.8z" color="#efff00"/><path d="M550.9 246.3l5.1 4.3 3.3-3.9-5.1-4.2z" color="#fff000"/><path d="M571.2 244.3l5.3 4.1 3.2-2.7-5.3-4.1z" color="#ffe100"/><path d="M603.3 246.5l5.5 3.9 3.1-.9-5.5-3.9z" color="#fff700"/><path d="M539.2 250.8l5 4.4 3.4-4.7-5.1-4.2z" color="#f2ff00"/><path d="M635.1 257.2l5.7 3.8 2.8 .9-5.7-3.7z" color="#90ff00"/><path d="M591.5 245.4l5.5 4 3.2-1.7-5.5-3.9z" color="#ffeb00"/><path d="M527.5 256.7l5 4.5 3.3-5.4-5-4.4z" color="#bf0"/><path d="M559.3 246.7l5.3 4.2 3.3-3.5-5.3-4.1z" color="#ffef00"/><path d="M623.5 252.7l5.7 3.8 3 .2-5.7-3.8z" color="#cfff00"/><path d="M547.6 250.5l5.1 4.4 3.3-4.3-5.1-4.3z" color="#f8ff00"/><path d="M579.7 245.7l5.4 4.1 3.2-2.4-5.3-4.1z" color="#ffe800"/><path d="M611.9 249.5l5.6 3.9 3-.6-5.5-3.8z" color="#f4ff00"/><path d="M567.9 247.4l5.3 4.2 3.3-3.2-5.3-4.1z" color="#fff000"/><path d="M600.2 247.7l5.5 4 3.1-1.3-5.5-3.9z" color="#fff700"/><path d="M632.2 256.7l5.7 3.8 2.9 .5-5.7-3.8z" color="#a6ff00"/><path d="M535.8 255.8l5.1 4.5 3.3-5.1-5-4.4z" color="#cf0"/><path d="M588.3 247.4l5.5 4.1 3.2-2.1-5.5-4z" color="#fff000"/><path d="M620.5 252.8l5.7 4 3-.3-5.7-3.8z" color="#dbff00"/><path d="M556 250.6l5.2 4.3 3.4-4-5.3-4.2z" color="#fcff00"/><path d="M576.5 248.4l5.3 4.3 3.3-2.9-5.4-4.1z" color="#fff300"/><path d="M544.2 255.2l5.1 4.4 3.4-4.7-5.1-4.4z" color="#daff00"/><path d="M608.8 250.4l5.6 4 3.1-1-5.6-3.9z" color="#f7ff00"/><path d="M597 249.4l5.5 4.1 3.2-1.8-5.5-4z" color="#fffb00"/><path d="M532.5 261.2l5 4.6 3.4-5.5-5.1-4.5z" color="#9bff00"/><path d="M564.6 250.9l5.3 4.4 3.3-3.7-5.3-4.2z" color="#feff00"/><path d="M629.2 256.5l5.8 4 2.9 0-5.7-3.8z" color="#b6ff00"/><path d="M552.7 254.9l5.2 4.5 3.3-4.5-5.2-4.3z" color="#e4ff00"/><path d="M585.1 249.8l5.4 4.2 3.3-2.5-5.5-4.1z" color="#fff900"/><path d="M617.5 253.4l5.7 4.1 3-.7-5.7-4z" color="#e2ff00"/><path d="M573.2 251.6l5.3 4.4 3.3-3.3-5.3-4.3z" color="#fdff00"/><path d="M540.9 260.3l5.1 4.5 3.3-5.2-5.1-4.4z" color="#adff00"/><path d="M605.7 251.7l5.6 4.2 3.1-1.5-5.6-4z" color="#f6ff00"/><path d="M593.8 251.5l5.5 4.2 3.2-2.2-5.5-4.1z" color="#fdff00"/><path d="M626.2 256.8l5.8 4 3-.3-5.8-4z" color="#c2ff00"/><path d="M561.2 254.9l5.3 4.5 3.4-4.1-5.3-4.4z" color="#e9ff00"/><path d="M581.8 252.7l5.5 4.3 3.2-3-5.4-4.2z" color="#f9ff00"/><path d="M549.3 259.6l5.2 4.6 3.4-4.8-5.2-4.5z" color="#bf0"/><path d="M614.4 254.4l5.7 4.2 3.1-1.1-5.7-4.1z" color="#e5ff00"/><path d="M537.5 265.8l5.1 4.7 3.4-5.7-5.1-4.5z" color="#7bff00"/><path d="M569.9 255.3l5.3 4.4 3.3-3.7-5.3-4.4z" color="#ebff00"/><path d="M602.5 253.5l5.6 4.2 3.2-1.8-5.6-4.2z" color="#f2ff00"/><path d="M557.9 259.4l5.3 4.5 3.3-4.5-5.3-4.5z" color="#c5ff00"/><path d="M590.5 254l5.6 4.3 3.2-2.6-5.5-4.2z" color="#f3ff00"/><path d="M623.2 257.5l5.7 4.1 3.1-.8-5.8-4z" color="#c9ff00"/><path d="M578.5 256l5.5 4.4 3.3-3.4-5.5-4.3z" color="#eaff00"/><path d="M546 264.8l5.2 4.7 3.3-5.3-5.2-4.6z" color="#8dff00"/><path d="M611.3 255.9l5.7 4.2 3.1-1.5-5.7-4.2z" color="#e3ff00"/><path d="M566.5 259.4l5.4 4.5 3.3-4.2-5.3-4.4z" color="#cf0"/><path d="M599.3 255.7l5.6 4.3 3.2-2.3-5.6-4.2z" color="#ebff00"/><path d="M587.3 257l5.5 4.4 3.3-3.1-5.6-4.3z" color="#e6ff00"/><path d="M554.5 264.2l5.3 4.7 3.4-5-5.3-4.5z" color="#9bff00"/><path d="M620.1 258.6l5.8 4.2 3-1.2-5.7-4.1z" color="#cbff00"/><path d="M542.6 270.5l5.2 4.8 3.4-5.8-5.2-4.7z" color="#58ff00"/><path d="M575.2 259.7l5.5 4.6 3.3-3.9-5.5-4.4z" color="#ceff00"/><path d="M608.1 257.7l5.7 4.4 3.2-2-5.7-4.2z" color="#dcff00"/><path d="M563.2 263.9l5.3 4.7 3.4-4.7-5.4-4.5z" color="#a6ff00"/><path d="M596.1 258.3l5.6 4.5 3.2-2.8-5.6-4.3z" color="#df0"/><path d="M551.2 269.5l5.2 4.8 3.4-5.4-5.3-4.7z" color="#6cff00"/><path d="M584 260.4l5.5 4.5 3.3-3.5-5.5-4.4z" color="#cdff00"/><path d="M617 260.1l5.8 4.3 3.1-1.6-5.8-4.2z" color="#c8ff00"/><path d="M571.9 263.9l5.4 4.7 3.4-4.3-5.5-4.6z" color="#adff00"/><path d="M604.9 260l5.7 4.5 3.2-2.4-5.7-4.4z" color="#d0ff00"/><path d="M559.8 268.9l5.4 4.8 3.3-5.1-5.3-4.7z" color="#7bff00"/><path d="M592.8 261.4l5.6 4.6 3.3-3.2-5.6-4.5z" color="#c9ff00"/><path d="M547.8 275.3l5.3 4.9 3.3-5.9-5.2-4.8z" color="#37ff00"/><path d="M580.7 264.3l5.5 4.6 3.3-4-5.5-4.5z" color="#b0ff00"/><path d="M613.8 262.1l5.8 4.4 3.2-2.1-5.8-4.3z" color="#c0ff00"/><path d="M568.5 268.6l5.5 4.7 3.3-4.7-5.4-4.7z" color="#86ff00"/><path d="M601.7 262.8l5.7 4.5 3.2-2.8-5.7-4.5z" color="#c0ff00"/><path d="M556.4 274.3l5.4 4.9 3.4-5.5-5.4-4.8z" color="#49ff00"/><path d="M589.5 264.9l5.6 4.7 3.3-3.6-5.6-4.6z" color="#afff00"/><path d="M577.3 268.6l5.6 4.7 3.3-4.4-5.5-4.6z" color="#8dff00"/><path d="M610.6 264.5l5.8 4.5 3.2-2.5-5.8-4.4z" color="#b4ff00"/><path d="M565.2 273.7l5.4 4.8 3.4-5.2-5.5-4.7z" color="#59ff00"/><path d="M598.4 266l5.7 4.6 3.3-3.3-5.7-4.5z" color="#abff00"/><path d="M553.1 280.2l5.3 5 3.4-6-5.4-4.9z" color="#24ff04"/><path d="M586.2 268.9l5.6 4.8 3.3-4.1-5.6-4.7z" color="#91ff00"/><path d="M574 273.3l5.5 4.9 3.4-4.9-5.6-4.7z" color="#65ff00"/><path d="M607.4 267.3l5.8 4.6 3.2-2.9-5.8-4.5z" color="#a2ff00"/><path d="M561.8 279.2l5.4 5 3.4-5.7-5.4-4.8z" color="#2fff02"/><path d="M595.1 269.6l5.7 4.7 3.3-3.7-5.7-4.6z" color="#90ff00"/><path d="M582.9 273.3l5.6 4.9 3.3-4.5-5.6-4.8z" color="#6dff00"/><path d="M570.6 278.5l5.5 5 3.4-5.3-5.5-4.9z" color="#37ff00"/><path d="M604.1 270.6l5.8 4.7 3.3-3.4-5.8-4.6z" color="#8cff00"/><path d="M558.4 285.2l5.4 5.1 3.4-6.1-5.4-5z" color="#12ff09"/><path d="M591.8 273.7l5.7 4.8 3.3-4.2-5.7-4.7z" color="#71ff00"/><path d="M579.5 278.2l5.6 5 3.4-5-5.6-4.9z" color="#43ff00"/><path d="M567.2 284.2l5.5 5.1 3.4-5.8-5.5-5z" color="#1cff06"/><path d="M600.8 274.3l5.8 4.9 3.3-3.9-5.8-4.7z" color="#71ff00"/><path d="M588.5 278.2l5.7 5 3.3-4.7-5.7-4.8z" color="#4bff00"/><path d="M576.1 283.5l5.6 5.1 3.4-5.4-5.6-5z" color="#25ff04"/><path d="M563.8 290.3l5.5 5.2 3.4-6.2-5.5-5.1z" color="#07ff14"/><path d="M597.5 278.5l5.8 5 3.3-4.3-5.8-4.9z" color="#4fff00"/><path d="M585.1 283.2l5.7 5.1 3.4-5.1-5.7-5z" color="#2cff03"/><path d="M572.7 289.3l5.6 5.2 3.4-5.9-5.6-5.1z" color="#0aff0b"/><path d="M594.2 283.2l5.7 5.1 3.4-4.8-5.8-5z" color="#30ff02"/><path d="M581.7 288.6l5.7 5.2 3.4-5.5-5.7-5.1z" color="#12ff09"/><path d="M569.3 295.5l5.6 5.4 3.4-6.4-5.6-5.2z" color="#02ff23"/><path d="M590.8 288.3l5.7 5.2 3.4-5.2-5.7-5.1z" color="#19ff07"/><path d="M578.3 294.5l5.7 5.4 3.4-6.1-5.7-5.2z" color="#05ff1a"/><path d="M587.4 293.8l5.7 5.4 3.4-5.7-5.7-5.2z" color="#08ff13"/><path d="M574.9 300.9l5.6 5.4 3.5-6.4-5.7-5.4z" color="#00ff34"/><path d="M584 299.9l5.7 5.4 3.4-6.1-5.7-5.4z" color="#00ff2a"/><path d="M580.5 306.3l5.8 5.6 3.4-6.6-5.7-5.4z" color="#00ff47"/></g>
<path d="M508.3 239.7l3.3-4.9 3.3-4.4 3.3-4.1 3.3-3.6 3.3-3.1 3.3-2.8 3.3-2.3 3.2-2 3.3-1.5 3.2-1.1 3.2-.7 3.2-.3 3.2 .1 3.1 .4 3.1 .8 3.1 1.2 3 1.6M510.6 241.7l3.4-4.9 3.3-4.5 3.3-4.1 3.3-3.6 3.3-3.2 3.3-2.8 3.2-2.4 3.3-2 3.2-1.6 3.3-1.1 3.2-.8 3.2-.3 3.1 0 3.1 .4 3.1 .8 3.1 1.2 3 1.5M513 243.8l3.3-5 3.3-4.5 3.3-4.2 3.4-3.7 3.2-3.2 3.3-2.9 3.3-2.4 3.3-2 3.2-1.6 3.2-1.2 3.2-.8 3.2-.4 3.2 0 3.1 .4 3.1 .7 3.1 1.2 3 1.5M515.4 245.9l3.3-5.1 3.3-4.6 3.3-4.1 3.3-3.8 3.3-3.3 3.3-2.9 3.3-2.5 3.3-2 3.2-1.7 3.2-1.2 3.2-.8 3.2-.5 3.2 0 3.1 .3 3.1 .8 3 1.1 3.1 1.4 1.5 .9M517.8 248l3.3-5.1 3.3-4.6 3.3-4.3 3.3-3.8 3.3-3.3 3.3-3 3.3-2.5 3.3-2.1 3.2-1.7 3.2-1.3 3.2-.8 3.2-.5 3.2-.1 3.1 .3 3.1 .7 3 1.1 3.1 1.4 1.5 .8M520.2 250.1l3.3-5.1 3.3-4.7 3.3-4.3 3.4-3.8 3.3-3.4 3.3-3 3.2-2.6 3.3-2.2 3.2-1.7 3.3-1.3 3.2-.9 3.1-.5 3.2-.2 3.1 .3 3.1 .7 3 1 3.1 1.4 1.5 .8M522.6 252.3l3.3-5.2 3.4-4.8 3.3-4.3 3.3-3.9 3.3-3.4 3.3-3.1 3.3-2.6 3.2-2.2 3.3-1.8 3.2-1.3 3.2-1 3.2-.5 3.1-.2 3.1 .2 3.1 .6 3.1 1 3 1.4 1.5 .8M525 254.5l3.4-5.3 3.3-4.8 3.3-4.4 3.3-3.9 3.4-3.5 3.2-3.1 3.3-2.7 3.3-2.2 3.2-1.8 3.2-1.4 3.2-1 3.2-.6 3.2-.2 3.1 .2 3 .5 3.1 1 3 1.3 1.5 .8M527.5 256.7l3.3-5.3 3.4-4.9 3.3-4.4 3.3-4 3.3-3.6 3.3-3.1 3.3-2.7 3.3-2.3 3.2-1.9 3.2-1.4 3.2-1.1 3.2-.6 3.1-.2 3.1 .1 3.1 .6 3.1 .9 3 1.3 2.9 1.6M530 258.9l3.3-5.3 3.4-4.9 3.3-4.5 3.3-4.1 3.3-3.6 3.3-3.2 3.3-2.7 3.3-2.4 3.2-1.9 3.2-1.5 3.2-1.1 3.2-.6 3.1-.3 3.1 .1 3.1 .5 3 .9 3 1.3 3 1.6M532.5 261.2l3.3-5.4 3.4-5 3.3-4.5 3.3-4.1 3.3-3.7 3.3-3.2 3.3-2.9 3.3-2.3 3.2-2 3.2-1.5 3.2-1.2 3.2-.7 3.1-.3 3.1 .1 3.1 .5 3 .8 3 1.2 3 1.6M535 263.5l3.3-5.5 3.4-5 3.3-4.6 3.3-4.2 3.4-3.7 3.3-3.3 3.2-2.8 3.3-2.5 3.2-2 3.3-1.6 3.1-1.1 3.2-.8 3.1-.3 3.1 0 3.1 .4 3 .8 3 1.2 3 1.6M537.5 265.8l3.4-5.5 3.3-5.1 3.4-4.7 3.3-4.2 3.3-3.8 3.3-3.3 3.3-2.9 3.2-2.5 3.3-2 3.2-1.7 3.2-1.2 3.1-.8 3.2-.4 3.1 0 3 .4 3.1 .8 2.9 1.2 3 1.5M540 268.1l3.4-5.6 3.4-5.1 3.3-4.7 3.3-4.3 3.4-3.8 3.3-3.4 3.2-2.9 3.3-2.6 3.2-2.1 3.3-1.6 3.1-1.3 3.2-.8 3.1-.5 3.1 0 3.1 .3 3 .8 3 1.1 2.9 1.5M542.6 270.5l3.4-5.7 3.3-5.2 3.4-4.7 3.3-4.3 3.3-3.9 3.3-3.4 3.3-3 3.3-2.6 3.2-2.2 3.2-1.7 3.2-1.3 3.2-.9 3.1-.5 3.1 0 3 .3 3.1 .7 2.9 1.1 3 1.4 1.4 .9M545.2 272.9l3.4-5.7 3.3-5.3 3.4-4.8 3.3-4.4 3.3-3.9 3.3-3.5 3.3-3 3.3-2.7 3.2-2.2 3.2-1.7 3.2-1.4 3.2-.9 3.1-.5 3.1-.1 3 .2 3 .7 3 1.1 3 1.4 1.4 .8M547.8 275.3l3.4-5.8 3.3-5.3 3.4-4.8 3.3-4.5 3.4-4 3.3-3.5 3.3-3.1 3.2-2.7 3.3-2.2 3.2-1.8 3.1-1.4 3.2-1 3.1-.6 3.1-.1 3 .2 3 .6 3 1.1 2.9 1.4 1.5 .8M550.4 277.7l3.4-5.8 3.4-5.4 3.3-4.9 3.4-4.5 3.3-4 3.3-3.6 3.3-3.1 3.3-2.8 3.2-2.3 3.2-1.8 3.2-1.5 3.1-1 3.1-.6 3.1-.2 3.1 .2 3 .6 2.9 1 3 1.3 1.4 .9M553.1 280.2l3.3-5.9 3.4-5.4 3.4-5 3.3-4.5 3.4-4.1 3.3-3.7 3.3-3.2 3.2-2.7 3.3-2.4 3.2-1.9 3.1-1.5 3.2-1 3.1-.7 3.1-.2 3 .1 3 .6 3 .9 2.9 1.3 1.4 .8M555.7 282.7l3.4-6 3.4-5.4 3.4-5.1 3.3-4.6 3.3-4.1 3.3-3.7 3.3-3.3 3.3-2.8 3.2-2.4 3.2-1.9 3.2-1.6 3.2-1.1 3.1-.7 3-.2 3.1 .1 3 .5 2.9 .9 2.9 1.3 2.9 1.6M558.4 285.2l3.4-6 3.4-5.5 3.3-5.1 3.4-4.7 3.3-4.2 3.3-3.7 3.3-3.3 3.3-2.9 3.2-2.4 3.2-2 3.2-1.6 3.1-1.2 3.2-.7 3-.3 3.1 0 2.9 .5 3 .9 2.9 1.2 2.8 1.6M633.6 261l1.3 1.9M561.1 287.7l3.4-6 3.4-5.6 3.4-5.2 3.3-4.7 3.3-4.2 3.4-3.8 3.2-3.4 3.3-2.9 3.2-2.5 3.3-2 3.1-1.7 3.2-1.2 3.1-.7 3-.4 3.1 0 2.9 .5 3 .8 2.9 1.2 2.8 1.6M635 260.7l2.5 3.7M563.8 290.3l3.4-6.1 3.4-5.7 3.4-5.2 3.3-4.7 3.4-4.3 3.3-3.9 3.3-3.4 3.2-3 3.3-2.5 3.2-2.1 3.2-1.7 3.1-1.2 3.1-.9 3.1-.4 3 0 2.9 .4 3 .8 2.9 1.2 2.8 1.5M636.3 260.5l2.6 3.5 1.3 1.8M566.5 292.9l3.5-6.2 3.3-5.7 3.4-5.2 3.4-4.9 3.3-4.3 3.3-3.9 3.3-3.5 3.3-3 3.2-2.6 3.2-2.2 3.2-1.7 3.1-1.3 3.1-.8 3.1-.5 3 0 3 .3 2.9 .8 2.9 1.1 2.8 1.5M637.7 260.5l2.6 3.2 2.5 3.6M569.3 295.5l3.4-6.2 3.4-5.8 3.4-5.3 3.4-4.9 3.3-4.4 3.3-4 3.3-3.5 3.3-3.1 3.2-2.6 3.2-2.2 3.2-1.8 3.1-1.3 3.1-.9 3.1-.5 3-.1 2.9 .3 3 .7 2.8 1.1 2.9 1.5 1.4 .9M640.4 262l2.6 3.3 2.5 3.5M572.1 298.2l3.4-6.3 3.4-5.8 3.4-5.4 3.4-4.9 3.3-4.5 3.3-4 3.3-3.6 3.3-3.2 3.2-2.6 3.2-2.3 3.2-1.8 3.1-1.4 3.1-1 3-.5 3.1-.1 2.9 .2 2.9 .7 2.9 1.1 2.8 1.4 1.4 .9M641.8 262.1l2.6 3.1 2.5 3.4 1.3 1.8M574.9 300.9l3.4-6.4 3.4-5.9 3.4-5.4 3.4-5 3.3-4.5 3.3-4.1 3.3-3.6 3.3-3.2 3.2-2.8 3.2-2.3 3.2-1.8 3.1-1.5 3.1-1 3-.6 3-.1 3 .2 2.9 .6 2.9 1.1 2.8 1.4 1.4 .8M643.2 262.4l2.7 2.8 2.5 3.2 2.5 3.5M577.7 303.6l3.4-6.4 3.4-6 3.4-5.5 3.4-5 3.3-4.6 3.4-4.2 3.3-3.6 3.2-3.3 3.3-2.8 3.2-2.3 3.1-1.9 3.2-1.5 3-1.1 3.1-.6 3-.2 2.9 .2 2.9 .6 2.9 1 2.8 1.3 1.4 .8M644.7 262.8l2.6 2.6 2.6 3 2.5 3.3 1.3 1.8M580.5 306.3l3.5-6.4 3.4-6.1 3.4-5.5 3.4-5.1 3.3-4.7 3.3-4.2 3.3-3.7 3.3-3.3 3.2-2.8 3.2-2.4 3.2-2 3.1-1.5 3.1-1.1 3-.7 3-.3 3 .2 2.9 .5 2.8 1 2.8 1.3 1.4 .8M646.2 263.3l2.6 2.4 2.6 2.8 2.5 3.1 2.5 3.5M583.4 309.1l3.4-6.5 3.4-6.1 3.4-5.6 3.4-5.2 3.4-4.7 3.3-4.3 3.3-3.8 3.3-3.3 3.2-2.9 3.2-2.4 3.2-2.1 3.1-1.5 3.1-1.2 3-.7 3-.3 2.9 .1 2.9 .5 2.8 .9 2.8 1.3 1.4 .8M647.6 264l2.7 2.2 2.6 2.6 2.6 2.9 2.5 3.2 1.2 1.8M586.3 311.9l3.4-6.6 3.4-6.1 3.4-5.7 3.4-5.2 3.4-4.8 3.3-4.3 3.3-3.9 3.3-3.4 3.2-2.9 3.2-2.5 3.2-2.1 3.1-1.6 3-1.2 3.1-.8 3-.3 2.9 0 2.9 .5 2.8 .9 2.8 1.2 2.7 1.7 2.7 2 2.6 2.3 2.6 2.8 2.5 3 2.5 3.4M508.3 239.7l4.7 4.1 4.8 4.2 4.8 4.3 4.9 4.4 5 4.5 5 4.6 5.1 4.7 5.2 4.8 5.3 4.9 5.3 5 5.4 5.1 5.5 5.2 5.6 5.4 5.6 5.4 5.8 5.6M510 237.2l4.7 4 4.7 4.2 4.9 4.2 4.9 4.4 4.9 4.4 5.1 4.6 5.1 4.6 5.2 4.7 5.3 4.9 5.3 4.9 5.4 5.1 5.5 5.2 5.6 5.2 5.6 5.4 5.8 5.5M511.6 234.8l4.7 4 4.8 4.1 4.8 4.2 4.9 4.3 5 4.4 5.1 4.5 5.1 4.5 5.2 4.7 5.2 4.8 5.4 4.9 5.4 5 5.5 5.1 5.6 5.2 5.7 5.4 5.7 5.4M513.3 232.5l4.7 4 4.7 4 4.9 4.2 4.9 4.2 5 4.3 5 4.5 5.2 4.5 5.2 4.6 5.2 4.7 5.4 4.9 5.4 4.9 5.5 5.1 5.6 5.1 5.7 5.3 5.7 5.4M514.9 230.4l4.7 3.9 4.8 4 4.9 4 4.9 4.2 5 4.3 5 4.4 5.1 4.4 5.2 4.6 5.3 4.7 5.4 4.8 5.4 4.8 5.5 5 5.6 5.1 5.7 5.2 5.7 5.4M516.6 228.3l4.7 3.8 4.8 4 4.8 4 4.9 4.2 5 4.2 5.1 4.3 5.1 4.4 5.2 4.5 5.3 4.6 5.4 4.8 5.4 4.8 5.5 4.9 5.6 5.1 5.7 5.1 5.7 5.3M518.2 226.3l4.7 3.8 4.8 3.9 4.9 4 4.9 4.1 5 4.2 5.1 4.2 5.1 4.4 5.2 4.5 5.3 4.5 5.3 4.7 5.5 4.7 5.5 4.9 5.6 5 5.7 5.1 5.7 5.2M519.9 224.5l4.7 3.7 4.8 3.9 4.8 3.9 5 4 5 4.2 5 4.2 5.2 4.3 5.2 4.4 5.3 4.5 5.3 4.6 5.5 4.7 5.5 4.8 5.6 4.9 5.7 5.1 5.7 5.1M521.5 222.7l4.8 3.7 4.7 3.8 4.9 3.9 4.9 4 5 4.1 5.1 4.1 5.1 4.3 5.2 4.3 5.3 4.5 5.4 4.5 5.4 4.7 5.6 4.7 5.6 4.9 5.7 5 5.7 5.1M523.2 221.1l4.7 3.7 4.8 3.7 4.8 3.8 5 4 5 4 5 4.1 5.2 4.2 5.2 4.3 5.3 4.4 5.4 4.5 5.4 4.6 5.5 4.7 5.6 4.8 5.7 4.9 5.8 5M524.8 219.6l4.7 3.6 4.8 3.7 4.9 3.8 4.9 3.8 5 4 5.1 4 5.1 4.2 5.3 4.2 5.3 4.4 5.3 4.4 5.5 4.6 5.5 4.6 5.6 4.8 5.7 4.8 5.8 5M526.5 218.1l4.7 3.6 4.8 3.6 4.8 3.8 5 3.8 5 3.9 5.1 4 5.1 4.1 5.2 4.2 5.3 4.3 5.4 4.4 5.4 4.5 5.6 4.6 5.6 4.7 5.7 4.8 5.7 4.9M528.1 216.8l4.7 3.5 4.8 3.6 4.9 3.7 4.9 3.8 5 3.9 5.1 3.9 5.1 4.1 5.3 4.1 5.3 4.2 5.3 4.4 5.5 4.4 5.5 4.5 5.6 4.7 5.7 4.7 5.8 4.9M529.7 215.6l4.8 3.5 4.8 3.5 4.8 3.7 5 3.7 5 3.8 5 3.9 5.2 4 5.2 4.1 5.3 4.2 5.4 4.3 5.4 4.3 5.6 4.5 5.6 4.6 5.7 4.7 5.8 4.8M531.4 214.5l4.7 3.4 4.8 3.5 4.9 3.6 4.9 3.7 5 3.7 5.1 3.9 5.1 4 5.3 4 5.3 4.1 5.3 4.3 5.5 4.3 5.5 4.4 5.6 4.6 5.7 4.6 5.8 4.7M533 213.5l4.7 3.3 4.8 3.5 4.9 3.6 4.9 3.6 5 3.7 5.1 3.8 5.2 3.9 5.2 4 5.3 4.1 5.4 4.2 5.4 4.3 5.6 4.3 5.6 4.5 5.7 4.6 5.7 4.7M534.6 212.5l4.8 3.4 4.8 3.4 4.8 3.5 5 3.6 5 3.7 5 3.7 5.2 3.9 5.2 3.9 5.3 4.1 5.4 4.1 5.4 4.2 5.6 4.3 5.6 4.5 5.7 4.5 5.8 4.6M536.3 211.7l4.7 3.3 4.8 3.4 4.9 3.5 4.9 3.5 5 3.6 5.1 3.8 5.1 3.8 5.2 3.8 5.3 4 5.4 4.1 5.5 4.2 5.5 4.3 5.6 4.3 5.7 4.5 5.8 4.6M537.9 211l4.7 3.3 4.8 3.3 4.9 3.4 4.9 3.5 5 3.6 5.1 3.7 5.1 3.7 5.3 3.9 5.3 3.9 5.3 4.1 5.5 4.1 5.5 4.2 5.6 4.3 5.7 4.5 5.8 4.5M539.5 210.4l4.7 3.2 4.8 3.3 4.9 3.4 4.9 3.4 5 3.6 5.1 3.6 5.1 3.7 5.3 3.8 5.3 3.9 5.3 4 5.5 4.1 5.5 4.2 5.6 4.2 5.7 4.4 5.8 4.5M541.1 209.9l4.7 3.2 4.8 3.2 4.9 3.4 4.9 3.4 5 3.5 5.1 3.5 5.1 3.7 5.3 3.8 5.3 3.8 5.3 4 5.5 4 5.5 4.1 5.6 4.2 5.7 4.4 5.8 4.4M542.7 209.5l4.7 3.1 4.8 3.2 4.9 3.3 4.9 3.4 5 3.5 5.1 3.5 5.1 3.6 5.3 3.7 5.3 3.8 5.3 3.9 5.5 4 5.5 4.1 5.6 4.1 5.7 4.3 5.8 4.4M544.3 209.2l4.7 3.1 4.8 3.2 4.9 3.2 4.9 3.3 5 3.4 5.1 3.5 5.1 3.6 5.2 3.7 5.3 3.7 5.4 3.9 5.5 3.9 5.5 4 5.6 4.2 5.7 4.2 5.8 4.3M545.9 209l4.7 3.1 4.8 3.1 4.9 3.2 4.9 3.3 5 3.3 5.1 3.5 5.1 3.5 5.2 3.6 5.3 3.7 5.4 3.8 5.4 3.9 5.6 4 5.6 4.1 5.6 4.2 5.8 4.2M547.5 208.9l4.7 3 4.8 3.1 4.9 3.2 4.9 3.2 5 3.3 5 3.4 5.2 3.5 5.2 3.6 5.3 3.7 5.3 3.7 5.5 3.9 5.5 3.9 5.6 4 5.7 4.2 5.8 4.2M549.1 208.9l4.7 3 4.8 3 4.8 3.1 5 3.2 4.9 3.3 5.1 3.4 5.1 3.4 5.3 3.6 5.2 3.6 5.4 3.7 5.4 3.8 5.6 3.9 5.6 4 5.6 4.1 5.8 4.1M550.7 209l4.7 2.9 4.8 3 4.8 3.1 4.9 3.2 5 3.2 5.1 3.3 5.1 3.4 5.2 3.5 5.3 3.6 5.4 3.7 5.4 3.7 5.5 3.9 5.6 3.9 5.7 4.1 5.7 4.1M552.2 209.1l4.7 2.9 4.8 3 4.9 3.1 4.9 3.1 5 3.2 5 3.3 5.2 3.4 5.2 3.4 5.2 3.5 5.4 3.7 5.4 3.7 5.5 3.8 5.6 3.9 5.7 4 5.8 4.1M553.8 209.4l4.7 2.9 4.8 2.9 4.8 3 4.9 3.1 5 3.2 5.1 3.2 5.1 3.4 5.2 3.4 5.3 3.5 5.3 3.6 5.5 3.6 5.5 3.8 5.5 3.8 5.7 4 5.8 4M555.3 209.8l4.8 2.8 4.7 2.9 4.9 3 4.9 3 5 3.2 5 3.2 5.1 3.3 5.2 3.3 5.3 3.5 5.3 3.5 5.5 3.7 5.5 3.7 5.6 3.8 5.6 3.9 5.8 4M556.9 210.2l4.7 2.8 4.8 2.9 4.8 2.9 4.9 3.1 5 3.1 5 3.1 5.1 3.3 5.2 3.3 5.3 3.4 5.4 3.5 5.4 3.6 5.5 3.7 5.5 3.8 5.7 3.8 5.8 4M558.4 210.8l4.7 2.8 4.8 2.8 4.8 2.9 4.9 3 5 3 5 3.2 5.2 3.2 5.1 3.3 5.3 3.4 5.3 3.4 5.5 3.6 5.5 3.6 5.5 3.7 5.7 3.9 5.7 3.9M560 211.4l4.7 2.8 4.7 2.8 4.9 2.8 4.9 3 4.9 3 5.1 3.1 5.1 3.2 5.1 3.2 5.3 3.4 5.3 3.4 5.4 3.5 5.5 3.6 5.6 3.7 5.7 3.8 5.7 3.8M561.5 212.2l4.7 2.7 4.7 2.7 4.9 2.9 4.9 2.9 4.9 3 5.1 3 5.1 3.2 5.1 3.2 5.3 3.3 5.3 3.4 5.4 3.5 5.5 3.5 5.6 3.7 5.6 3.7 5.7 3.8M563 213l4.7 2.7 4.8 2.7 4.8 2.8 4.9 2.9 4.9 2.9 5 3.1 5.1 3.1 5.2 3.2 5.3 3.2 5.3 3.4 5.4 3.4 5.5 3.5 5.5 3.6 5.7 3.7 5.7 3.8M571.6 217.9l4.8 2.7 4.8 2.8 4.9 2.9 5 3 5.1 3 5.1 3.1 5.2 3.2 5.3 3.3 5.3 3.3 5.5 3.5 5.5 3.5 5.6 3.6 5.6 3.7 2.9 1.9M585.1 225.7l5 2.9 5 3 5.1 3 5.1 3.2 5.3 3.1 5.3 3.3 5.4 3.4 5.4 3.4 5.6 3.6 5.6 3.6 5.7 3.7M601.6 235.5l5.2 3.1 5.2 3.1 5.3 3.3 5.4 3.3 5.5 3.4 5.5 3.5 5.6 3.6 5.7 3.7M616.1 244.2l5.3 3.3 5.4 3.3 5.5 3.4 5.6 3.5 5.6 3.6 2.9 1.8M631 253.4l5.5 3.4 5.6 3.5 5.7 3.6M647.6 264l2.9 1.7M646.2 263.3l5.6 3.5M644.7 262.8l5.6 3.4 2.8 1.7M643.2 262.4l5.6 3.3 5.6 3.4M641.8 262.1l5.5 3.3 5.6 3.4 2.8 1.7M637.7 260.5l5.4 3.1 5.5 3.3 5.6 3.3 2.8 1.7M636.3 260.5l5.4 3.1 5.4 3.2 5.6 3.2 5.6 3.3M635 260.7l5.3 3 5.4 3.1 5.5 3.2 5.5 3.3 2.8 1.6M633.6 261l5.3 3 5.3 3 5.5 3.1 5.5 3.2 5.6 3.3M632.3 261.5l5.2 2.9 5.3 2.9 5.4 3.1 5.5 3.1 5.5 3.2 2.8 1.6" fill="none" stroke="#000" stroke-opacity="1" stroke-width="0.25" stroke-linejoin="round"/>
<g font-size="6.3"><text x="504.8" y="285.8" text-anchor="end">4</text><text x="504.5" y="266.5" text-anchor="end">5.75</text><text x="504.2" y="247.2" text-anchor="end">7.5</text><text x="503.9" y="227.8" text-anchor="end">9.25</text><text x="503.6" y="208.5" text-anchor="end">11</text><text x="502.7" y="317.7" text-anchor="middle">7.00</text><text x="521.2" y="326.7" text-anchor="middle">5.75</text><text x="539.8" y="335.6" text-anchor="middle">4.50</text><text x="558.4" y="344.6" text-anchor="middle">3.25</text><text x="577.0" y="353.5" text-anchor="middle">2.00</text><text x="595.2" y="353.6" text-anchor="middle">0.80</text><text x="613.8" y="344.6" text-anchor="middle">1.27</text><text x="632.4" y="335.7" text-anchor="middle">1.75</text><text x="650.9" y="326.7" text-anchor="middle">2.23</text><text x="669.5" y="317.8" text-anchor="middle">2.70</text></g>
<path d="M511.8 311.9l-1.1 1.0M530.4 320.8l-1.1 1.0M549.0 329.8l-1.1 1.0M567.5 338.8l-1.1 1.0M586.1 347.7l-1.1 1.0M586.1 347.7l1.1 1.0M604.7 338.8l1.1 1.0M623.2 329.8l1.1 1.0M641.8 320.8l1.1 1.0M660.4 311.9l1.1 1.0" stroke="#000" stroke-width=".7" fill="none"/>
<g font-size="8.15"><text transform="translate(525.5 346.2) rotate(25.3)" text-anchor="middle">Reaction time (h)</text><text transform="translate(641.9 348.6) rotate(-25.3)" text-anchor="middle">Enzyme (U)</text><text transform="translate(485.5 248.0) rotate(-90.0)" text-anchor="middle">Trigonelline (g/kg DW)</text></g>
<text x="462.1" y="198.0" font-size="8.6" font-weight="bold">(F)</text>
</g>
</svg>
</body></html>
